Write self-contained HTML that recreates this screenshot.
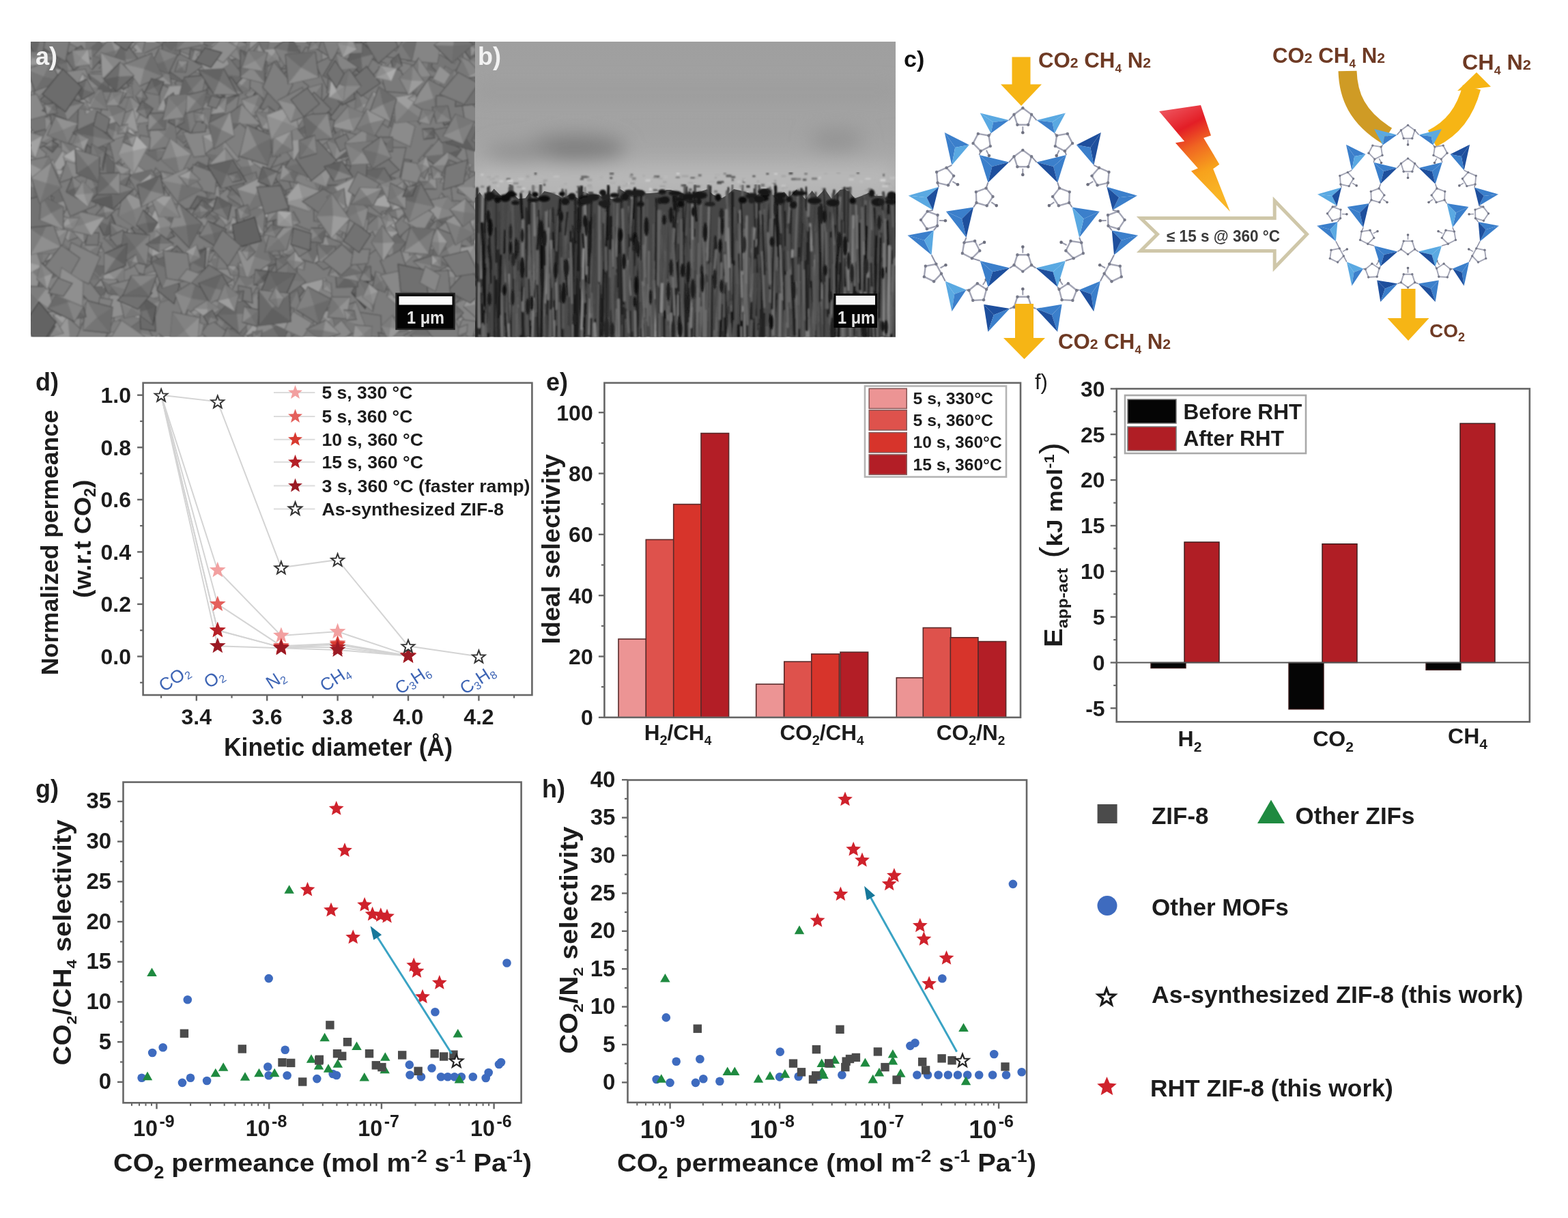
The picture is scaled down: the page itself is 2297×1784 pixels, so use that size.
<!DOCTYPE html>
<html><head><meta charset="utf-8"><title>ZIF-8 RHT figure</title>
<style>
html,body{margin:0;padding:0;background:#fff;}
body{width:2297px;height:1784px;overflow:hidden;}
svg{display:block;font-family:'Liberation Sans', Arial, sans-serif;}
</style></head><body>
<svg width="2297" height="1784" viewBox="0 0 2297 1784">
<defs><clipPath id="clipA"><rect x="45" y="61" width="651" height="432.5"/></clipPath><clipPath id="clipB"><rect x="696" y="61" width="616" height="432.5"/></clipPath><filter id="blur1" x="0" y="0" width="1" height="1"><feGaussianBlur stdDeviation="1.1"/></filter><filter id="blur6" x="-0.5" y="-0.5" width="2" height="2"><feGaussianBlur stdDeviation="14"/></filter><linearGradient id="gB" x1="0" y1="0" x2="0" y2="1"><stop offset="0" stop-color="#9f9f9f"/><stop offset="0.55" stop-color="#a3a3a3"/><stop offset="0.8" stop-color="#aaaaaa"/><stop offset="1" stop-color="#b2b2b2"/></linearGradient></defs>
<g clip-path="url(#clipA)"><g filter="url(#blur1)">
<rect x="45" y="61" width="651" height="433" fill="#7b7b7b" stroke="none" stroke-width="0"/>
<polygon points="278,122 248,140 227,117 254,99" fill="#797979" stroke="#575757" stroke-width="1.4"/>
<polygon points="252,119 254,99 278,122" fill="#868686"/>
<polygon points="252,119 248,140 227,117" fill="#6e6e6e"/>
<polygon points="695,339 667,356 647,335 674,317" fill="#7e7e7e" stroke="#5c5c5c" stroke-width="1.4"/>
<polygon points="671,337 695,339 667,356" fill="#929292"/>
<polygon points="671,337 647,335 674,317" fill="#727272"/>
<polygon points="512,111 484,110 474,83 501,85" fill="#787878" stroke="#565656" stroke-width="1.4"/>
<polygon points="493,98 501,85 512,111" fill="#8a8a8a"/>
<polygon points="493,98 484,110 474,83" fill="#707070"/>
<polygon points="163,414 148,410 147,396 163,399" fill="#6f6f6f" stroke="#4d4d4d" stroke-width="1.4"/>
<polygon points="156,404 148,410 147,396" fill="#868686"/>
<polygon points="156,404 163,399 163,414" fill="#676767"/>
<polygon points="343,86 349,52 382,51 376,86" fill="#828282" stroke="#606060" stroke-width="1.4"/>
<polygon points="363,69 382,51 376,86" fill="#949494"/>
<polygon points="363,69 343,86 349,52" fill="#757575"/>
<polygon points="50,370 76,345 101,365 76,392" fill="#757575" stroke="#535353" stroke-width="1.4"/>
<polygon points="76,369 76,345 101,365" fill="#8a8a8a"/>
<polygon points="76,369 76,392 50,370" fill="#6a6a6a"/>
<polygon points="192,207 157,192 172,155 207,173" fill="#757575" stroke="#535353" stroke-width="1.4"/>
<polygon points="181,181 207,173 192,207" fill="#8f8f8f"/>
<polygon points="181,181 157,192 172,155" fill="#696969"/>
<polygon points="300,162 286,165 279,151 294,146" fill="#7c7c7c" stroke="#5a5a5a" stroke-width="1.4"/>
<polygon points="290,156 279,151 294,146" fill="#909090"/>
<polygon points="290,156 300,162 286,165" fill="#727272"/>
<polygon points="102,468 93,426 134,411 146,453" fill="#686868" stroke="#464646" stroke-width="1.4"/>
<polygon points="344,233 356,221 373,232 359,244" fill="#818181" stroke="#5f5f5f" stroke-width="1.4"/>
<polygon points="358,232 373,232 359,244" fill="#969696"/>
<polygon points="358,232 344,233 356,221" fill="#7a7a7a"/>
<polygon points="149,221 171,200 199,217 180,242" fill="#777777" stroke="#555555" stroke-width="1.4"/>
<polygon points="175,221 199,217 180,242" fill="#8d8d8d"/>
<polygon points="175,221 149,221 171,200" fill="#6c6c6c"/>
<polygon points="484,285 499,274 514,282 501,296" fill="#7c7c7c" stroke="#5a5a5a" stroke-width="1.4"/>
<polygon points="499,285 484,285 499,274" fill="#929292"/>
<polygon points="499,285 514,282 501,296" fill="#747474"/>
<polygon points="274,154 256,121 287,99 307,132" fill="#787878" stroke="#565656" stroke-width="1.4"/>
<polygon points="543,173 520,161 523,133 544,149" fill="#828282" stroke="#606060" stroke-width="1.4"/>
<polygon points="531,154 544,149 543,173" fill="#999999"/>
<polygon points="531,154 520,161 523,133" fill="#757575"/>
<polygon points="281,497 268,502 259,487 272,483" fill="#757575" stroke="#535353" stroke-width="1.4"/>
<polygon points="470,442 456,433 463,417 477,424" fill="#858585" stroke="#636363" stroke-width="1.4"/>
<polygon points="467,429 477,424 470,442" fill="#989898"/>
<polygon points="467,429 456,433 463,417" fill="#787878"/>
<polygon points="126,127 90,151 59,116 92,95" fill="#6d6d6d" stroke="#4b4b4b" stroke-width="1.4"/>
<polygon points="92,123 90,151 59,116" fill="#7a7a7a"/>
<polygon points="92,123 92,95 126,127" fill="#5f5f5f"/>
<polygon points="546,112 514,124 496,88 534,72" fill="#7f7f7f" stroke="#5d5d5d" stroke-width="1.4"/>
<polygon points="522,98 496,88 534,72" fill="#8e8e8e"/>
<polygon points="522,98 546,112 514,124" fill="#747474"/>
<polygon points="125,482 108,465 121,445 138,459" fill="#848484" stroke="#626262" stroke-width="1.4"/>
<polygon points="322,139 326,128 338,128 334,139" fill="#767676" stroke="#545454" stroke-width="1.4"/>
<polygon points="330,134 334,139 322,139" fill="#8d8d8d"/>
<polygon points="330,134 326,128 338,128" fill="#6f6f6f"/>
<polygon points="399,175 403,153 424,153 420,174" fill="#6c6c6c" stroke="#4a4a4a" stroke-width="1.4"/>
<polygon points="499,279 478,254 497,233 522,255" fill="#757575" stroke="#535353" stroke-width="1.4"/>
<polygon points="500,256 478,254 497,233" fill="#8d8d8d"/>
<polygon points="500,256 522,255 499,279" fill="#6e6e6e"/>
<polygon points="126,258 111,256 108,243 121,245" fill="#737373" stroke="#515151" stroke-width="1.4"/>
<polygon points="612,489 627,478 642,486 629,501" fill="#6c6c6c" stroke="#4a4a4a" stroke-width="1.4"/>
<polygon points="627,489 629,501 612,489" fill="#7d7d7d"/>
<polygon points="627,489 627,478 642,486" fill="#646464"/>
<polygon points="247,388 241,378 252,368 257,380" fill="#848484" stroke="#626262" stroke-width="1.4"/>
<polygon points="249,378 247,388 241,378" fill="#929292"/>
<polygon points="249,378 252,368 257,380" fill="#7c7c7c"/>
<polygon points="617,145 628,111 667,118 657,156" fill="#7d7d7d" stroke="#5b5b5b" stroke-width="1.4"/>
<polygon points="643,133 657,156 617,145" fill="#929292"/>
<polygon points="643,133 628,111 667,118" fill="#767676"/>
<polygon points="93,369 72,382 55,356 78,343" fill="#707070" stroke="#4e4e4e" stroke-width="1.4"/>
<polygon points="74,363 55,356 78,343" fill="#898989"/>
<polygon points="74,363 93,369 72,382" fill="#656565"/>
<polygon points="643,342 640,327 657,325 658,340" fill="#6e6e6e" stroke="#4c4c4c" stroke-width="1.4"/>
<polygon points="383,163 379,137 404,128 404,152" fill="#868686" stroke="#646464" stroke-width="1.4"/>
<polygon points="391,144 379,137 404,128" fill="#9f9f9f"/>
<polygon points="391,144 404,152 383,163" fill="#7f7f7f"/>
<polygon points="565,257 578,231 603,235 591,262" fill="#5d5d5d" stroke="#3b3b3b" stroke-width="1.4"/>
<polygon points="584,247 578,231 603,235" fill="#6f6f6f"/>
<polygon points="584,247 591,262 565,257" fill="#545454"/>
<polygon points="63,117 66,104 79,101 78,115" fill="#7e7e7e" stroke="#5c5c5c" stroke-width="1.4"/>
<polygon points="232,273 222,261 228,246 241,259" fill="#7f7f7f" stroke="#5d5d5d" stroke-width="1.4"/>
<polygon points="248,221 236,216 238,204 250,209" fill="#757575" stroke="#535353" stroke-width="1.4"/>
<polygon points="243,213 248,221 236,216" fill="#868686"/>
<polygon points="243,213 238,204 250,209" fill="#6c6c6c"/>
<polygon points="427,101 448,69 488,77 466,109" fill="#7b7b7b" stroke="#595959" stroke-width="1.4"/>
<polygon points="388,192 356,200 346,166 378,160" fill="#797979" stroke="#575757" stroke-width="1.4"/>
<polygon points="367,180 388,192 356,200" fill="#909090"/>
<polygon points="367,180 346,166 378,160" fill="#6d6d6d"/>
<polygon points="655,377 625,374 616,341 645,348" fill="#707070" stroke="#4e4e4e" stroke-width="1.4"/>
<polygon points="634,360 655,377 625,374" fill="#858585"/>
<polygon points="634,360 616,341 645,348" fill="#636363"/>
<polygon points="341,72 346,37 381,29 381,68" fill="#6d6d6d" stroke="#4b4b4b" stroke-width="1.4"/>
<polygon points="363,53 346,37 381,29" fill="#7c7c7c"/>
<polygon points="363,53 381,68 341,72" fill="#616161"/>
<polygon points="332,437 341,426 355,431 347,442" fill="#787878" stroke="#565656" stroke-width="1.4"/>
<polygon points="344,434 355,431 347,442" fill="#8d8d8d"/>
<polygon points="344,434 332,437 341,426" fill="#717171"/>
<polygon points="391,281 350,292 329,256 366,249" fill="#6c6c6c" stroke="#4a4a4a" stroke-width="1.4"/>
<polygon points="359,271 329,256 366,249" fill="#868686"/>
<polygon points="359,271 391,281 350,292" fill="#5c5c5c"/>
<polygon points="18,264 48,236 76,253 48,282" fill="#7d7d7d" stroke="#5b5b5b" stroke-width="1.4"/>
<polygon points="47,259 48,236 76,253" fill="#939393"/>
<polygon points="47,259 48,282 18,264" fill="#747474"/>
<polygon points="293,343 265,336 263,303 289,315" fill="#747474" stroke="#525252" stroke-width="1.4"/>
<polygon points="316,398 295,386 299,362 320,377" fill="#848484" stroke="#626262" stroke-width="1.4"/>
<polygon points="307,380 295,386 299,362" fill="#9a9a9a"/>
<polygon points="307,380 320,377 316,398" fill="#757575"/>
<polygon points="210,222 227,204 249,221 231,236" fill="#757575" stroke="#535353" stroke-width="1.4"/>
<polygon points="229,220 227,204 249,221" fill="#848484"/>
<polygon points="229,220 231,236 210,222" fill="#6c6c6c"/>
<polygon points="359,139 378,119 397,137 380,155" fill="#848484" stroke="#626262" stroke-width="1.4"/>
<polygon points="519,101 494,80 513,46 542,68" fill="#767676" stroke="#545454" stroke-width="1.4"/>
<polygon points="518,73 513,46 542,68" fill="#868686"/>
<polygon points="518,73 519,101 494,80" fill="#696969"/>
<polygon points="473,251 460,237 472,219 487,236" fill="#757575" stroke="#535353" stroke-width="1.4"/>
<polygon points="473,235 460,237 472,219" fill="#878787"/>
<polygon points="473,235 487,236 473,251" fill="#6c6c6c"/>
<polygon points="560,262 535,257 526,231 556,235" fill="#737373" stroke="#515151" stroke-width="1.4"/>
<polygon points="544,245 556,235 560,262" fill="#858585"/>
<polygon points="544,245 535,257 526,231" fill="#686868"/>
<polygon points="295,213 279,211 281,195 296,196" fill="#787878" stroke="#565656" stroke-width="1.4"/>
<polygon points="288,204 281,195 296,196" fill="#919191"/>
<polygon points="288,204 295,213 279,211" fill="#6f6f6f"/>
<polygon points="453,255 461,231 483,237 480,260" fill="#838383" stroke="#616161" stroke-width="1.4"/>
<polygon points="663,494 642,475 660,449 676,468" fill="#838383" stroke="#616161" stroke-width="1.4"/>
<polygon points="560,378 580,351 618,361 592,387" fill="#7c7c7c" stroke="#5a5a5a" stroke-width="1.4"/>
<polygon points="589,369 618,361 592,387" fill="#8f8f8f"/>
<polygon points="589,369 560,378 580,351" fill="#717171"/>
<polygon points="530,98 544,85 565,93 548,108" fill="#7b7b7b" stroke="#595959" stroke-width="1.4"/>
<polygon points="548,96 565,93 548,108" fill="#949494"/>
<polygon points="548,96 530,98 544,85" fill="#6f6f6f"/>
<polygon points="639,277 617,277 617,256 638,255" fill="#797979" stroke="#575757" stroke-width="1.4"/>
<polygon points="628,266 638,255 639,277" fill="#929292"/>
<polygon points="628,266 617,277 617,256" fill="#717171"/>
<polygon points="46,220 46,197 67,186 68,213" fill="#737373" stroke="#515151" stroke-width="1.4"/>
<polygon points="257,431 236,434 232,413 254,412" fill="#757575" stroke="#535353" stroke-width="1.4"/>
<polygon points="244,422 236,434 232,413" fill="#8e8e8e"/>
<polygon points="244,422 254,412 257,431" fill="#6e6e6e"/>
<polygon points="38,336 40,313 61,304 62,328" fill="#939393" stroke="#717171" stroke-width="1.4"/>
<polygon points="51,321 40,313 61,304" fill="#a4a4a4"/>
<polygon points="51,321 62,328 38,336" fill="#8b8b8b"/>
<polygon points="659,399 656,386 668,379 669,394" fill="#757575" stroke="#535353" stroke-width="1.4"/>
<polygon points="663,389 659,399 656,386" fill="#898989"/>
<polygon points="663,389 668,379 669,394" fill="#686868"/>
<polygon points="277,411 284,390 304,389 297,408" fill="#828282" stroke="#606060" stroke-width="1.4"/>
<polygon points="546,285 517,283 510,250 543,249" fill="#737373" stroke="#515151" stroke-width="1.4"/>
<polygon points="530,266 510,250 543,249" fill="#858585"/>
<polygon points="530,266 546,285 517,283" fill="#6a6a6a"/>
<polygon points="658,93 653,55 693,49 695,89" fill="#818181" stroke="#5f5f5f" stroke-width="1.4"/>
<polygon points="675,71 658,93 653,55" fill="#8d8d8d"/>
<polygon points="675,71 693,49 695,89" fill="#797979"/>
<polygon points="368,514 332,490 345,453 376,479" fill="#717171" stroke="#4f4f4f" stroke-width="1.4"/>
<polygon points="565,340 543,334 545,310 564,318" fill="#808080" stroke="#5e5e5e" stroke-width="1.4"/>
<polygon points="93,85 60,81 66,46 99,56" fill="#929292" stroke="#707070" stroke-width="1.4"/>
<polygon points="78,66 99,56 93,85" fill="#a0a0a0"/>
<polygon points="78,66 60,81 66,46" fill="#8a8a8a"/>
<polygon points="341,470 330,454 345,439 358,455" fill="#686868" stroke="#464646" stroke-width="1.4"/>
<polygon points="224,178 199,181 188,159 213,157" fill="#777777" stroke="#555555" stroke-width="1.4"/>
<polygon points="205,169 224,178 199,181" fill="#8c8c8c"/>
<polygon points="205,169 188,159 213,157" fill="#676767"/>
<polygon points="79,282 87,243 128,249 114,293" fill="#919191" stroke="#6f6f6f" stroke-width="1.4"/>
<polygon points="104,266 87,243 128,249" fill="#aaaaaa"/>
<polygon points="104,266 114,293 79,282" fill="#878787"/>
<polygon points="605,266 605,243 627,243 627,266" fill="#868686" stroke="#646464" stroke-width="1.4"/>
<polygon points="616,254 627,243 627,266" fill="#939393"/>
<polygon points="616,254 605,266 605,243" fill="#797979"/>
<polygon points="660,447 628,429 640,392 670,414" fill="#848484" stroke="#626262" stroke-width="1.4"/>
<polygon points="648,420 670,414 660,447" fill="#919191"/>
<polygon points="648,420 628,429 640,392" fill="#7a7a7a"/>
<polygon points="414,348 399,350 394,334 409,331" fill="#757575" stroke="#535353" stroke-width="1.4"/>
<polygon points="404,341 409,331 414,348" fill="#818181"/>
<polygon points="404,341 399,350 394,334" fill="#676767"/>
<polygon points="581,361 556,351 565,325 592,338" fill="#808080" stroke="#5e5e5e" stroke-width="1.4"/>
<polygon points="573,343 565,325 592,338" fill="#929292"/>
<polygon points="573,343 581,361 556,351" fill="#787878"/>
<polygon points="21,310 39,286 69,294 47,317" fill="#757575" stroke="#535353" stroke-width="1.4"/>
<polygon points="45,301 21,310 39,286" fill="#868686"/>
<polygon points="45,301 69,294 47,317" fill="#676767"/>
<polygon points="552,425 562,406 582,408 573,424" fill="#757575" stroke="#535353" stroke-width="1.4"/>
<polygon points="500,391 486,350 522,333 538,379" fill="#717171" stroke="#4f4f4f" stroke-width="1.4"/>
<polygon points="513,363 486,350 522,333" fill="#838383"/>
<polygon points="513,363 538,379 500,391" fill="#6a6a6a"/>
<polygon points="232,379 195,405 169,379 205,354" fill="#727272" stroke="#505050" stroke-width="1.4"/>
<polygon points="409,352 391,341 400,318 418,331" fill="#6e6e6e" stroke="#4c4c4c" stroke-width="1.4"/>
<polygon points="404,335 391,341 400,318" fill="#818181"/>
<polygon points="404,335 418,331 409,352" fill="#626262"/>
<polygon points="595,458 567,434 575,402 602,425" fill="#828282" stroke="#606060" stroke-width="1.4"/>
<polygon points="585,430 595,458 567,434" fill="#979797"/>
<polygon points="585,430 575,402 602,425" fill="#7b7b7b"/>
<polygon points="549,409 522,420 506,398 532,386" fill="#6a6a6a" stroke="#484848" stroke-width="1.4"/>
<polygon points="527,403 522,420 506,398" fill="#787878"/>
<polygon points="527,403 532,386 549,409" fill="#5b5b5b"/>
<polygon points="210,441 207,403 242,393 250,431" fill="#8d8d8d" stroke="#6b6b6b" stroke-width="1.4"/>
<polygon points="228,418 242,393 250,431" fill="#a5a5a5"/>
<polygon points="228,418 210,441 207,403" fill="#828282"/>
<polygon points="200,509 188,482 210,467 223,492" fill="#7c7c7c" stroke="#5a5a5a" stroke-width="1.4"/>
<polygon points="206,488 223,492 200,509" fill="#8b8b8b"/>
<polygon points="206,488 188,482 210,467" fill="#6e6e6e"/>
<polygon points="122,315 89,299 99,270 135,284" fill="#858585" stroke="#636363" stroke-width="1.4"/>
<polygon points="112,291 135,284 122,315" fill="#9b9b9b"/>
<polygon points="112,291 89,299 99,270" fill="#7b7b7b"/>
<polygon points="295,229 280,222 280,207 295,215" fill="#7d7d7d" stroke="#5b5b5b" stroke-width="1.4"/>
<polygon points="599,496 599,452 639,448 641,490" fill="#898989" stroke="#676767" stroke-width="1.4"/>
<polygon points="619,472 599,496 599,452" fill="#979797"/>
<polygon points="619,472 639,448 641,490" fill="#818181"/>
<polygon points="477,70 468,64 469,52 479,58" fill="#777777" stroke="#555555" stroke-width="1.4"/>
<polygon points="473,61 468,64 469,52" fill="#838383"/>
<polygon points="473,61 479,58 477,70" fill="#696969"/>
<polygon points="520,261 504,264 499,252 515,247" fill="#818181" stroke="#5f5f5f" stroke-width="1.4"/>
<polygon points="510,255 499,252 515,247" fill="#959595"/>
<polygon points="510,255 520,261 504,264" fill="#757575"/>
<polygon points="459,294 431,296 419,277 446,274" fill="#7e7e7e" stroke="#5c5c5c" stroke-width="1.4"/>
<polygon points="439,285 431,296 419,277" fill="#8c8c8c"/>
<polygon points="439,285 446,274 459,294" fill="#767676"/>
<polygon points="423,296 432,268 466,269 451,296" fill="#7c7c7c" stroke="#5a5a5a" stroke-width="1.4"/>
<polygon points="443,281 423,296 432,268" fill="#8e8e8e"/>
<polygon points="443,281 466,269 451,296" fill="#727272"/>
<polygon points="667,103 631,107 627,71 659,65" fill="#7a7a7a" stroke="#585858" stroke-width="1.4"/>
<polygon points="647,87 667,103 631,107" fill="#8a8a8a"/>
<polygon points="647,87 627,71 659,65" fill="#6f6f6f"/>
<polygon points="344,424 312,419 310,394 341,394" fill="#8a8a8a" stroke="#686868" stroke-width="1.4"/>
<polygon points="168,408 177,371 218,366 210,405" fill="#828282" stroke="#606060" stroke-width="1.4"/>
<polygon points="193,388 210,405 168,408" fill="#959595"/>
<polygon points="193,388 177,371 218,366" fill="#777777"/>
<polygon points="64,84 18,86 15,40 58,38" fill="#757575" stroke="#535353" stroke-width="1.4"/>
<polygon points="78,115 48,125 34,92 66,79" fill="#7b7b7b" stroke="#595959" stroke-width="1.4"/>
<polygon points="57,102 34,92 66,79" fill="#8a8a8a"/>
<polygon points="57,102 78,115 48,125" fill="#6b6b6b"/>
<polygon points="373,375 372,334 412,327 410,374" fill="#797979" stroke="#575757" stroke-width="1.4"/>
<polygon points="393,352 373,375 372,334" fill="#919191"/>
<polygon points="393,352 412,327 410,374" fill="#6d6d6d"/>
<polygon points="220,105 222,91 237,88 234,102" fill="#777777" stroke="#555555" stroke-width="1.4"/>
<polygon points="228,96 237,88 234,102" fill="#8e8e8e"/>
<polygon points="228,96 220,105 222,91" fill="#6b6b6b"/>
<polygon points="335,201 344,168 374,161 365,195" fill="#858585" stroke="#636363" stroke-width="1.4"/>
<polygon points="354,181 335,201 344,168" fill="#999999"/>
<polygon points="354,181 374,161 365,195" fill="#7c7c7c"/>
<polygon points="315,299 321,280 340,277 334,297" fill="#797979" stroke="#575757" stroke-width="1.4"/>
<polygon points="328,288 340,277 334,297" fill="#8d8d8d"/>
<polygon points="328,288 315,299 321,280" fill="#717171"/>
<polygon points="596,484 573,488 569,468 588,462" fill="#7f7f7f" stroke="#5d5d5d" stroke-width="1.4"/>
<polygon points="224,107 244,67 285,84 266,120" fill="#6f6f6f" stroke="#4d4d4d" stroke-width="1.4"/>
<polygon points="254,94 244,67 285,84" fill="#888888"/>
<polygon points="254,94 266,120 224,107" fill="#686868"/>
<polygon points="458,369 432,384 409,360 435,343" fill="#828282" stroke="#606060" stroke-width="1.4"/>
<polygon points="434,363 435,343 458,369" fill="#949494"/>
<polygon points="434,363 432,384 409,360" fill="#757575"/>
<polygon points="403,113 417,95 442,99 430,121" fill="#7f7f7f" stroke="#5d5d5d" stroke-width="1.4"/>
<polygon points="260,300 247,293 249,275 262,282" fill="#838383" stroke="#616161" stroke-width="1.4"/>
<polygon points="275,520 276,482 309,473 310,511" fill="#808080" stroke="#5e5e5e" stroke-width="1.4"/>
<polygon points="293,497 310,511 275,520" fill="#969696"/>
<polygon points="293,497 276,482 309,473" fill="#757575"/>
<polygon points="454,273 450,258 464,248 469,265" fill="#898989" stroke="#676767" stroke-width="1.4"/>
<polygon points="292,164 308,132 342,143 326,178" fill="#757575" stroke="#535353" stroke-width="1.4"/>
<polygon points="318,155 292,164 308,132" fill="#8e8e8e"/>
<polygon points="318,155 342,143 326,178" fill="#6d6d6d"/>
<polygon points="291,379 299,364 316,368 307,384" fill="#696969" stroke="#474747" stroke-width="1.4"/>
<polygon points="303,374 316,368 307,384" fill="#808080"/>
<polygon points="303,374 291,379 299,364" fill="#5f5f5f"/>
<polygon points="364,503 357,491 365,482 371,494" fill="#808080" stroke="#5e5e5e" stroke-width="1.4"/>
<polygon points="364,493 364,503 357,491" fill="#959595"/>
<polygon points="364,493 365,482 371,494" fill="#727272"/>
<polygon points="409,259 370,261 362,213 402,214" fill="#646464" stroke="#424242" stroke-width="1.4"/>
<polygon points="385,237 409,259 370,261" fill="#747474"/>
<polygon points="385,237 362,213 402,214" fill="#5a5a5a"/>
<polygon points="65,115 52,71 93,58 100,100" fill="#777777" stroke="#555555" stroke-width="1.4"/>
<polygon points="76,85 100,100 65,115" fill="#8a8a8a"/>
<polygon points="76,85 52,71 93,58" fill="#707070"/>
<polygon points="681,101 647,104 636,64 675,63" fill="#797979" stroke="#575757" stroke-width="1.4"/>
<polygon points="546,263 550,216 595,216 585,262" fill="#7e7e7e" stroke="#5c5c5c" stroke-width="1.4"/>
<polygon points="468,288 478,252 515,253 505,285" fill="#707070" stroke="#4e4e4e" stroke-width="1.4"/>
<polygon points="490,269 515,253 505,285" fill="#7f7f7f"/>
<polygon points="490,269 468,288 478,252" fill="#676767"/>
<polygon points="305,110 275,103 279,71 312,76" fill="#727272" stroke="#505050" stroke-width="1.4"/>
<polygon points="293,90 305,110 275,103" fill="#878787"/>
<polygon points="293,90 279,71 312,76" fill="#646464"/>
<polygon points="182,274 145,272 139,235 171,237" fill="#7a7a7a" stroke="#585858" stroke-width="1.4"/>
<polygon points="160,256 139,235 171,237" fill="#898989"/>
<polygon points="160,256 182,274 145,272" fill="#6d6d6d"/>
<polygon points="372,395 383,372 410,380 399,402" fill="#7b7b7b" stroke="#595959" stroke-width="1.4"/>
<polygon points="391,387 399,402 372,395" fill="#8a8a8a"/>
<polygon points="391,387 383,372 410,380" fill="#737373"/>
<polygon points="445,395 427,390 430,372 448,379" fill="#838383" stroke="#616161" stroke-width="1.4"/>
<polygon points="437,384 445,395 427,390" fill="#919191"/>
<polygon points="437,384 430,372 448,379" fill="#797979"/>
<polygon points="461,68 460,54 476,52 477,68" fill="#7d7d7d" stroke="#5b5b5b" stroke-width="1.4"/>
<polygon points="469,60 460,54 476,52" fill="#8e8e8e"/>
<polygon points="469,60 477,68 461,68" fill="#6e6e6e"/>
<polygon points="264,281 271,254 299,253 292,277" fill="#777777" stroke="#555555" stroke-width="1.4"/>
<polygon points="281,266 292,277 264,281" fill="#898989"/>
<polygon points="281,266 271,254 299,253" fill="#6c6c6c"/>
<polygon points="201,310 191,265 235,252 246,291" fill="#777777" stroke="#555555" stroke-width="1.4"/>
<polygon points="217,280 246,291 201,310" fill="#8b8b8b"/>
<polygon points="217,280 191,265 235,252" fill="#717171"/>
<polygon points="222,56 235,42 251,51 239,66" fill="#838383" stroke="#616161" stroke-width="1.4"/>
<polygon points="237,54 222,56 235,42" fill="#929292"/>
<polygon points="237,54 251,51 239,66" fill="#767676"/>
<polygon points="353,403 338,403 332,389 346,390" fill="#7f7f7f" stroke="#5d5d5d" stroke-width="1.4"/>
<polygon points="342,396 332,389 346,390" fill="#979797"/>
<polygon points="342,396 353,403 338,403" fill="#777777"/>
<polygon points="52,83 37,53 66,38 80,65" fill="#666666" stroke="#444444" stroke-width="1.4"/>
<polygon points="58,60 80,65 52,83" fill="#787878"/>
<polygon points="58,60 37,53 66,38" fill="#5f5f5f"/>
<polygon points="263,324 291,294 327,313 300,344" fill="#787878" stroke="#565656" stroke-width="1.4"/>
<polygon points="295,319 263,324 291,294" fill="#919191"/>
<polygon points="295,319 327,313 300,344" fill="#696969"/>
<polygon points="194,123 167,116 167,90 196,96" fill="#7e7e7e" stroke="#5c5c5c" stroke-width="1.4"/>
<polygon points="181,106 167,116 167,90" fill="#949494"/>
<polygon points="181,106 196,96 194,123" fill="#777777"/>
<polygon points="437,380 454,358 478,370 462,386" fill="#8b8b8b" stroke="#696969" stroke-width="1.4"/>
<polygon points="457,372 478,370 462,386" fill="#9b9b9b"/>
<polygon points="457,372 437,380 454,358" fill="#7f7f7f"/>
<polygon points="691,450 659,444 667,407 696,414" fill="#787878" stroke="#565656" stroke-width="1.4"/>
<polygon points="679,154 649,129 674,96 702,125" fill="#747474" stroke="#525252" stroke-width="1.4"/>
<polygon points="551,344 559,310 596,302 588,334" fill="#7e7e7e" stroke="#5c5c5c" stroke-width="1.4"/>
<polygon points="573,323 588,334 551,344" fill="#939393"/>
<polygon points="573,323 559,310 596,302" fill="#727272"/>
<polygon points="653,419 638,429 620,415 637,405" fill="#707070" stroke="#4e4e4e" stroke-width="1.4"/>
<polygon points="601,316 609,297 631,301 624,324" fill="#828282" stroke="#606060" stroke-width="1.4"/>
<polygon points="617,310 624,324 601,316" fill="#919191"/>
<polygon points="617,310 609,297 631,301" fill="#747474"/>
<polygon points="645,177 644,147 671,135 676,169" fill="#7e7e7e" stroke="#5c5c5c" stroke-width="1.4"/>
<polygon points="531,164 546,135 575,147 562,177" fill="#838383" stroke="#616161" stroke-width="1.4"/>
<polygon points="553,156 546,135 575,147" fill="#9a9a9a"/>
<polygon points="553,156 562,177 531,164" fill="#7a7a7a"/>
<polygon points="397,227 414,196 447,198 432,231" fill="#868686" stroke="#646464" stroke-width="1.4"/>
<polygon points="79,186 50,194 31,173 62,163" fill="#767676" stroke="#545454" stroke-width="1.4"/>
<polygon points="214,114 206,91 226,75 240,98" fill="#898989" stroke="#676767" stroke-width="1.4"/>
<polygon points="223,95 226,75 240,98" fill="#a1a1a1"/>
<polygon points="223,95 214,114 206,91" fill="#7e7e7e"/>
<polygon points="666,474 662,461 674,452 679,466" fill="#8a8a8a" stroke="#686868" stroke-width="1.4"/>
<polygon points="671,463 679,466 666,474" fill="#989898"/>
<polygon points="671,463 662,461 674,452" fill="#7b7b7b"/>
<polygon points="309,168 267,178 260,145 298,135" fill="#7f7f7f" stroke="#5d5d5d" stroke-width="1.4"/>
<polygon points="284,158 298,135 309,168" fill="#8c8c8c"/>
<polygon points="284,158 267,178 260,145" fill="#777777"/>
<polygon points="559,496 525,490 525,457 558,462" fill="#7a7a7a" stroke="#585858" stroke-width="1.4"/>
<polygon points="373,132 350,139 343,122 365,116" fill="#8b8b8b" stroke="#696969" stroke-width="1.4"/>
<polygon points="358,127 343,122 365,116" fill="#a4a4a4"/>
<polygon points="358,127 373,132 350,139" fill="#848484"/>
<polygon points="307,112 324,70 363,79 347,120" fill="#7d7d7d" stroke="#5b5b5b" stroke-width="1.4"/>
<polygon points="335,95 324,70 363,79" fill="#8d8d8d"/>
<polygon points="335,95 347,120 307,112" fill="#6f6f6f"/>
<polygon points="161,286 136,261 153,224 176,250" fill="#757575" stroke="#535353" stroke-width="1.4"/>
<polygon points="156,255 161,286 136,261" fill="#858585"/>
<polygon points="156,255 153,224 176,250" fill="#666666"/>
<polygon points="101,498 108,485 122,490 116,503" fill="#7f7f7f" stroke="#5d5d5d" stroke-width="1.4"/>
<polygon points="112,494 122,490 116,503" fill="#919191"/>
<polygon points="112,494 101,498 108,485" fill="#777777"/>
<polygon points="199,178 183,162 190,140 208,156" fill="#898989" stroke="#676767" stroke-width="1.4"/>
<polygon points="195,159 208,156 199,178" fill="#959595"/>
<polygon points="195,159 183,162 190,140" fill="#7b7b7b"/>
<polygon points="369,143 383,122 408,131 391,149" fill="#636363" stroke="#414141" stroke-width="1.4"/>
<polygon points="388,135 383,122 408,131" fill="#787878"/>
<polygon points="388,135 391,149 369,143" fill="#555555"/>
<polygon points="657,395 624,399 609,366 642,366" fill="#757575" stroke="#535353" stroke-width="1.4"/>
<polygon points="632,382 657,395 624,399" fill="#888888"/>
<polygon points="632,382 609,366 642,366" fill="#6b6b6b"/>
<polygon points="256,346 216,364 192,334 232,317" fill="#6f6f6f" stroke="#4d4d4d" stroke-width="1.4"/>
<polygon points="694,94 672,63 701,41 720,76" fill="#6d6d6d" stroke="#4b4b4b" stroke-width="1.4"/>
<polygon points="644,435 619,395 654,374 677,407" fill="#8e8e8e" stroke="#6c6c6c" stroke-width="1.4"/>
<polygon points="647,404 619,395 654,374" fill="#9a9a9a"/>
<polygon points="647,404 677,407 644,435" fill="#7e7e7e"/>
<polygon points="195,142 178,143 177,125 193,126" fill="#808080" stroke="#5e5e5e" stroke-width="1.4"/>
<polygon points="185,134 178,143 177,125" fill="#969696"/>
<polygon points="185,134 193,126 195,142" fill="#797979"/>
<polygon points="629,379 616,384 608,372 621,367" fill="#7c7c7c" stroke="#5a5a5a" stroke-width="1.4"/>
<polygon points="618,376 616,384 608,372" fill="#949494"/>
<polygon points="618,376 621,367 629,379" fill="#757575"/>
<polygon points="407,396 412,378 432,384 425,401" fill="#747474" stroke="#525252" stroke-width="1.4"/>
<polygon points="264,178 244,162 260,142 279,154" fill="#828282" stroke="#606060" stroke-width="1.4"/>
<polygon points="408,505 365,503 359,462 397,465" fill="#757575" stroke="#535353" stroke-width="1.4"/>
<polygon points="382,485 365,503 359,462" fill="#878787"/>
<polygon points="382,485 397,465 408,505" fill="#6b6b6b"/>
<polygon points="693,256 704,246 715,257 705,268" fill="#747474" stroke="#525252" stroke-width="1.4"/>
<polygon points="704,257 693,256 704,246" fill="#898989"/>
<polygon points="704,257 715,257 705,268" fill="#6c6c6c"/>
<polygon points="401,276 365,262 362,223 403,233" fill="#787878" stroke="#565656" stroke-width="1.4"/>
<polygon points="384,247 365,262 362,223" fill="#8b8b8b"/>
<polygon points="384,247 403,233 401,276" fill="#6d6d6d"/>
<polygon points="646,483 613,480 615,447 644,451" fill="#777777" stroke="#555555" stroke-width="1.4"/>
<polygon points="277,307 289,287 312,293 297,313" fill="#696969" stroke="#474747" stroke-width="1.4"/>
<polygon points="294,300 297,313 277,307" fill="#757575"/>
<polygon points="294,300 289,287 312,293" fill="#606060"/>
<polygon points="615,182 597,158 610,136 630,156" fill="#7e7e7e" stroke="#5c5c5c" stroke-width="1.4"/>
<polygon points="622,262 611,253 615,240 628,247" fill="#7b7b7b" stroke="#595959" stroke-width="1.4"/>
<polygon points="620,250 615,240 628,247" fill="#898989"/>
<polygon points="620,250 622,262 611,253" fill="#737373"/>
<polygon points="472,189 438,204 416,166 454,150" fill="#777777" stroke="#555555" stroke-width="1.4"/>
<polygon points="512,250 497,240 503,226 517,236" fill="#838383" stroke="#616161" stroke-width="1.4"/>
<polygon points="126,458 94,449 94,415 123,422" fill="#828282" stroke="#606060" stroke-width="1.4"/>
<polygon points="109,437 123,422 126,458" fill="#949494"/>
<polygon points="109,437 94,449 94,415" fill="#797979"/>
<polygon points="402,434 383,421 387,396 409,411" fill="#7f7f7f" stroke="#5d5d5d" stroke-width="1.4"/>
<polygon points="640,492 626,491 626,476 640,477" fill="#737373" stroke="#515151" stroke-width="1.4"/>
<polygon points="633,484 640,477 640,492" fill="#858585"/>
<polygon points="633,484 626,491 626,476" fill="#6a6a6a"/>
<polygon points="416,238 412,196 454,184 454,227" fill="#838383" stroke="#616161" stroke-width="1.4"/>
<polygon points="434,210 454,227 416,238" fill="#959595"/>
<polygon points="434,210 412,196 454,184" fill="#767676"/>
<polygon points="621,337 625,307 656,297 652,328" fill="#818181" stroke="#5f5f5f" stroke-width="1.4"/>
<polygon points="638,317 656,297 652,328" fill="#979797"/>
<polygon points="638,317 621,337 625,307" fill="#737373"/>
<polygon points="718,461 692,466 682,443 706,440" fill="#707070" stroke="#4e4e4e" stroke-width="1.4"/>
<polygon points="699,453 718,461 692,466" fill="#858585"/>
<polygon points="699,453 682,443 706,440" fill="#6a6a6a"/>
<polygon points="15,382 30,357 59,365 40,390" fill="#7b7b7b" stroke="#595959" stroke-width="1.4"/>
<polygon points="37,373 59,365 40,390" fill="#939393"/>
<polygon points="37,373 15,382 30,357" fill="#6c6c6c"/>
<polygon points="377,131 371,112 385,102 389,119" fill="#707070" stroke="#4e4e4e" stroke-width="1.4"/>
<polygon points="380,116 389,119 377,131" fill="#878787"/>
<polygon points="380,116 371,112 385,102" fill="#696969"/>
<polygon points="33,415 32,393 56,388 53,409" fill="#7a7a7a" stroke="#585858" stroke-width="1.4"/>
<polygon points="43,400 56,388 53,409" fill="#898989"/>
<polygon points="43,400 33,415 32,393" fill="#6e6e6e"/>
<polygon points="35,165 40,142 61,136 57,158" fill="#828282" stroke="#606060" stroke-width="1.4"/>
<polygon points="48,151 57,158 35,165" fill="#939393"/>
<polygon points="48,151 40,142 61,136" fill="#767676"/>
<polygon points="705,296 663,294 658,250 696,257" fill="#7e7e7e" stroke="#5c5c5c" stroke-width="1.4"/>
<polygon points="574,173 558,165 560,149 575,157" fill="#848484" stroke="#626262" stroke-width="1.4"/>
<polygon points="567,161 574,173 558,165" fill="#9d9d9d"/>
<polygon points="567,161 560,149 575,157" fill="#797979"/>
<polygon points="651,321 634,305 647,283 662,299" fill="#7a7a7a" stroke="#585858" stroke-width="1.4"/>
<polygon points="648,302 634,305 647,283" fill="#878787"/>
<polygon points="648,302 662,299 651,321" fill="#717171"/>
<polygon points="578,120 588,91 612,97 602,127" fill="#818181" stroke="#5f5f5f" stroke-width="1.4"/>
<polygon points="392,165 366,171 354,146 380,137" fill="#838383" stroke="#616161" stroke-width="1.4"/>
<polygon points="374,154 366,171 354,146" fill="#919191"/>
<polygon points="374,154 380,137 392,165" fill="#767676"/>
<polygon points="473,118 471,73 512,71 509,113" fill="#8b8b8b" stroke="#696969" stroke-width="1.4"/>
<polygon points="490,92 471,73 512,71" fill="#9c9c9c"/>
<polygon points="490,92 509,113 473,118" fill="#7f7f7f"/>
<polygon points="109,324 95,307 106,287 122,306" fill="#7e7e7e" stroke="#5c5c5c" stroke-width="1.4"/>
<polygon points="108,306 106,287 122,306" fill="#8f8f8f"/>
<polygon points="108,306 109,324 95,307" fill="#707070"/>
<polygon points="323,345 339,312 368,322 355,358" fill="#808080" stroke="#5e5e5e" stroke-width="1.4"/>
<polygon points="327,511 342,492 364,497 348,516" fill="#848484" stroke="#626262" stroke-width="1.4"/>
<polygon points="345,504 348,516 327,511" fill="#919191"/>
<polygon points="345,504 342,492 364,497" fill="#7c7c7c"/>
<polygon points="187,191 165,202 149,187 169,175" fill="#777777" stroke="#555555" stroke-width="1.4"/>
<polygon points="486,215 491,201 503,204 500,216" fill="#777777" stroke="#555555" stroke-width="1.4"/>
<polygon points="494,209 491,201 503,204" fill="#8c8c8c"/>
<polygon points="494,209 500,216 486,215" fill="#707070"/>
<polygon points="232,409 245,389 266,397 251,417" fill="#7a7a7a" stroke="#585858" stroke-width="1.4"/>
<polygon points="249,403 251,417 232,409" fill="#939393"/>
<polygon points="249,403 245,389 266,397" fill="#6d6d6d"/>
<polygon points="535,452 515,429 530,402 546,423" fill="#585858" stroke="#363636" stroke-width="1.4"/>
<polygon points="531,427 515,429 530,402" fill="#656565"/>
<polygon points="531,427 546,423 535,452" fill="#4b4b4b"/>
<polygon points="553,173 573,150 598,165 579,189" fill="#747474" stroke="#525252" stroke-width="1.4"/>
<polygon points="576,169 573,150 598,165" fill="#8a8a8a"/>
<polygon points="576,169 579,189 553,173" fill="#696969"/>
<polygon points="353,379 353,368 365,363 364,375" fill="#797979" stroke="#575757" stroke-width="1.4"/>
<polygon points="359,371 353,368 365,363" fill="#8a8a8a"/>
<polygon points="359,371 364,375 353,379" fill="#6b6b6b"/>
<polygon points="397,408 392,390 409,383 414,400" fill="#6b6b6b" stroke="#494949" stroke-width="1.4"/>
<polygon points="67,191 66,172 84,166 85,184" fill="#808080" stroke="#5e5e5e" stroke-width="1.4"/>
<polygon points="75,178 67,191 66,172" fill="#8c8c8c"/>
<polygon points="75,178 84,166 85,184" fill="#757575"/>
<polygon points="707,295 670,282 677,248 714,257" fill="#7a7a7a" stroke="#585858" stroke-width="1.4"/>
<polygon points="82,201 81,165 110,160 113,194" fill="#8a8a8a" stroke="#686868" stroke-width="1.4"/>
<polygon points="96,181 81,165 110,160" fill="#9a9a9a"/>
<polygon points="96,181 113,194 82,201" fill="#828282"/>
<polygon points="492,448 446,458 434,419 477,408" fill="#838383" stroke="#616161" stroke-width="1.4"/>
<polygon points="463,434 434,419 477,408" fill="#9b9b9b"/>
<polygon points="463,434 492,448 446,458" fill="#7b7b7b"/>
<polygon points="47,111 64,72 102,92 79,128" fill="#6d6d6d" stroke="#4b4b4b" stroke-width="1.4"/>
<polygon points="74,100 102,92 79,128" fill="#828282"/>
<polygon points="74,100 47,111 64,72" fill="#616161"/>
<polygon points="126,167 121,150 134,141 139,159" fill="#8f8f8f" stroke="#6d6d6d" stroke-width="1.4"/>
<polygon points="130,154 139,159 126,167" fill="#9d9d9d"/>
<polygon points="130,154 121,150 134,141" fill="#888888"/>
<polygon points="103,376 67,391 41,368 73,354" fill="#797979" stroke="#575757" stroke-width="1.4"/>
<polygon points="576,380 556,361 572,333 594,356" fill="#717171" stroke="#4f4f4f" stroke-width="1.4"/>
<polygon points="575,357 576,380 556,361" fill="#888888"/>
<polygon points="575,357 572,333 594,356" fill="#6a6a6a"/>
<polygon points="484,343 472,324 492,310 505,333" fill="#7a7a7a" stroke="#585858" stroke-width="1.4"/>
<polygon points="489,327 484,343 472,324" fill="#929292"/>
<polygon points="489,327 492,310 505,333" fill="#727272"/>
<polygon points="528,377 520,362 534,351 542,368" fill="#848484" stroke="#626262" stroke-width="1.4"/>
<polygon points="531,364 520,362 534,351" fill="#989898"/>
<polygon points="531,364 542,368 528,377" fill="#7d7d7d"/>
<polygon points="612,178 605,166 615,154 622,166" fill="#787878" stroke="#565656" stroke-width="1.4"/>
<polygon points="614,166 612,178 605,166" fill="#909090"/>
<polygon points="614,166 615,154 622,166" fill="#6b6b6b"/>
<polygon points="571,134 551,112 574,90 593,113" fill="#898989" stroke="#676767" stroke-width="1.4"/>
<polygon points="705,143 682,154 663,135 690,123" fill="#777777" stroke="#555555" stroke-width="1.4"/>
<polygon points="685,138 682,154 663,135" fill="#898989"/>
<polygon points="685,138 690,123 705,143" fill="#707070"/>
<polygon points="114,463 127,454 138,463 126,471" fill="#888888" stroke="#666666" stroke-width="1.4"/>
<polygon points="126,463 114,463 127,454" fill="#9f9f9f"/>
<polygon points="126,463 138,463 126,471" fill="#808080"/>
<polygon points="267,412 270,372 309,362 302,396" fill="#868686" stroke="#646464" stroke-width="1.4"/>
<polygon points="285,385 270,372 309,362" fill="#969696"/>
<polygon points="285,385 302,396 267,412" fill="#7e7e7e"/>
<polygon points="357,439 331,445 313,421 339,417" fill="#898989" stroke="#676767" stroke-width="1.4"/>
<polygon points="335,431 331,445 313,421" fill="#9e9e9e"/>
<polygon points="335,431 339,417 357,439" fill="#818181"/>
<polygon points="707,412 694,398 699,380 714,395" fill="#878787" stroke="#656565" stroke-width="1.4"/>
<polygon points="79,357 64,322 93,308 108,338" fill="#8b8b8b" stroke="#696969" stroke-width="1.4"/>
<polygon points="85,332 64,322 93,308" fill="#9b9b9b"/>
<polygon points="85,332 108,338 79,357" fill="#838383"/>
<polygon points="432,166 437,133 472,123 471,161" fill="#787878" stroke="#565656" stroke-width="1.4"/>
<polygon points="454,147 437,133 472,123" fill="#858585"/>
<polygon points="454,147 471,161 432,166" fill="#6e6e6e"/>
<polygon points="690,83 689,67 705,61 704,78" fill="#7a7a7a" stroke="#585858" stroke-width="1.4"/>
<polygon points="697,72 690,83 689,67" fill="#939393"/>
<polygon points="697,72 705,61 704,78" fill="#6b6b6b"/>
<polygon points="93,161 86,139 105,122 112,143" fill="#878787" stroke="#656565" stroke-width="1.4"/>
<polygon points="92,503 67,493 77,470 100,482" fill="#7c7c7c" stroke="#5a5a5a" stroke-width="1.4"/>
<polygon points="536,299 546,251 587,263 579,305" fill="#909090" stroke="#6e6e6e" stroke-width="1.4"/>
<polygon points="560,279 579,305 536,299" fill="#a4a4a4"/>
<polygon points="560,279 546,251 587,263" fill="#878787"/>
<polygon points="156,96 135,89 137,68 160,71" fill="#656565" stroke="#434343" stroke-width="1.4"/>
<polygon points="148,81 137,68 160,71" fill="#7f7f7f"/>
<polygon points="148,81 156,96 135,89" fill="#5c5c5c"/>
<polygon points="585,249 551,269 524,243 557,221" fill="#747474" stroke="#525252" stroke-width="1.4"/>
<polygon points="221,384 205,373 212,355 225,367" fill="#6c6c6c" stroke="#4a4a4a" stroke-width="1.4"/>
<polygon points="215,370 221,384 205,373" fill="#797979"/>
<polygon points="215,370 212,355 225,367" fill="#5d5d5d"/>
<polygon points="428,384 416,383 414,369 428,372" fill="#6f6f6f" stroke="#4d4d4d" stroke-width="1.4"/>
<polygon points="421,377 428,384 416,383" fill="#858585"/>
<polygon points="421,377 414,369 428,372" fill="#656565"/>
<polygon points="493,215 484,206 487,193 497,201" fill="#757575" stroke="#535353" stroke-width="1.4"/>
<polygon points="491,204 487,193 497,201" fill="#898989"/>
<polygon points="491,204 493,215 484,206" fill="#656565"/>
<polygon points="89,351 57,337 56,307 88,322" fill="#757575" stroke="#535353" stroke-width="1.4"/>
<polygon points="73,329 88,322 89,351" fill="#868686"/>
<polygon points="73,329 57,337 56,307" fill="#686868"/>
<polygon points="613,154 594,114 625,88 639,126" fill="#6e6e6e" stroke="#4c4c4c" stroke-width="1.4"/>
<polygon points="616,120 639,126 613,154" fill="#828282"/>
<polygon points="616,120 594,114 625,88" fill="#646464"/>
<polygon points="385,190 380,174 394,159 401,177" fill="#6f6f6f" stroke="#4d4d4d" stroke-width="1.4"/>
<polygon points="715,486 683,494 670,463 702,457" fill="#808080" stroke="#5e5e5e" stroke-width="1.4"/>
<polygon points="692,475 683,494 670,463" fill="#949494"/>
<polygon points="692,475 702,457 715,486" fill="#777777"/>
<polygon points="536,269 495,276 489,230 526,225" fill="#8c8c8c" stroke="#6a6a6a" stroke-width="1.4"/>
<polygon points="449,62 470,34 507,51 482,83" fill="#777777" stroke="#555555" stroke-width="1.4"/>
<polygon points="478,58 449,62 470,34" fill="#878787"/>
<polygon points="478,58 507,51 482,83" fill="#6f6f6f"/>
<polygon points="314,164 317,147 337,146 336,164" fill="#818181" stroke="#5f5f5f" stroke-width="1.4"/>
<polygon points="326,156 337,146 336,164" fill="#9b9b9b"/>
<polygon points="326,156 314,164 317,147" fill="#7a7a7a"/>
<polygon points="227,96 233,85 246,88 238,98" fill="#767676" stroke="#545454" stroke-width="1.4"/>
<polygon points="530,100 507,75 526,43 550,65" fill="#888888" stroke="#666666" stroke-width="1.4"/>
<polygon points="529,72 530,100 507,75" fill="#969696"/>
<polygon points="529,72 526,43 550,65" fill="#7f7f7f"/>
<polygon points="376,238 351,214 372,182 393,208" fill="#6f6f6f" stroke="#4d4d4d" stroke-width="1.4"/>
<polygon points="372,210 351,214 372,182" fill="#868686"/>
<polygon points="372,210 393,208 376,238" fill="#626262"/>
<polygon points="62,295 51,282 59,264 70,276" fill="#838383" stroke="#616161" stroke-width="1.4"/>
<polygon points="60,280 70,276 62,295" fill="#9c9c9c"/>
<polygon points="60,280 51,282 59,264" fill="#787878"/>
<polygon points="25,172 19,147 49,133 53,162" fill="#888888" stroke="#666666" stroke-width="1.4"/>
<polygon points="679,161 681,149 693,142 693,157" fill="#7b7b7b" stroke="#595959" stroke-width="1.4"/>
<polygon points="687,152 693,142 693,157" fill="#8b8b8b"/>
<polygon points="687,152 679,161 681,149" fill="#727272"/>
<polygon points="72,271 52,263 54,242 73,249" fill="#8c8c8c" stroke="#6a6a6a" stroke-width="1.4"/>
<polygon points="63,257 73,249 72,271" fill="#a4a4a4"/>
<polygon points="63,257 52,263 54,242" fill="#7e7e7e"/>
<polygon points="636,354 622,336 639,323 653,339" fill="#7b7b7b" stroke="#595959" stroke-width="1.4"/>
<polygon points="638,339 636,354 622,336" fill="#939393"/>
<polygon points="638,339 639,323 653,339" fill="#6d6d6d"/>
<polygon points="662,94 624,84 633,49 664,61" fill="#737373" stroke="#515151" stroke-width="1.4"/>
<polygon points="425,516 419,496 439,487 445,508" fill="#797979" stroke="#575757" stroke-width="1.4"/>
<polygon points="432,502 439,487 445,508" fill="#868686"/>
<polygon points="432,502 425,516 419,496" fill="#6b6b6b"/>
<polygon points="500,491 459,484 459,451 502,453" fill="#818181" stroke="#5f5f5f" stroke-width="1.4"/>
<polygon points="481,470 459,451 502,453" fill="#959595"/>
<polygon points="481,470 500,491 459,484" fill="#767676"/>
<polygon points="568,165 576,149 593,153 588,168" fill="#747474" stroke="#525252" stroke-width="1.4"/>
<polygon points="581,159 588,168 568,165" fill="#858585"/>
<polygon points="581,159 576,149 593,153" fill="#666666"/>
<polygon points="331,262 304,246 310,213 341,229" fill="#757575" stroke="#535353" stroke-width="1.4"/>
<polygon points="322,237 331,262 304,246" fill="#878787"/>
<polygon points="322,237 310,213 341,229" fill="#6a6a6a"/>
<polygon points="564,407 562,390 577,383 579,400" fill="#717171" stroke="#4f4f4f" stroke-width="1.4"/>
<polygon points="571,395 564,407 562,390" fill="#858585"/>
<polygon points="571,395 577,383 579,400" fill="#6b6b6b"/>
<polygon points="207,336 193,316 210,301 226,319" fill="#7b7b7b" stroke="#595959" stroke-width="1.4"/>
<polygon points="209,319 210,301 226,319" fill="#909090"/>
<polygon points="209,319 207,336 193,316" fill="#727272"/>
<polygon points="52,266 55,242 75,236 75,259" fill="#838383" stroke="#616161" stroke-width="1.4"/>
<polygon points="64,251 55,242 75,236" fill="#9c9c9c"/>
<polygon points="64,251 75,259 52,266" fill="#7b7b7b"/>
<polygon points="677,390 675,367 698,358 698,381" fill="#8b8b8b" stroke="#696969" stroke-width="1.4"/>
<polygon points="687,373 677,390 675,367" fill="#989898"/>
<polygon points="687,373 698,358 698,381" fill="#7f7f7f"/>
<polygon points="642,369 661,355 683,370 665,382" fill="#838383" stroke="#616161" stroke-width="1.4"/>
<polygon points="662,369 661,355 683,370" fill="#999999"/>
<polygon points="662,369 665,382 642,369" fill="#797979"/>
<polygon points="43,373 46,345 78,341 75,376" fill="#818181" stroke="#5f5f5f" stroke-width="1.4"/>
<polygon points="62,359 75,376 43,373" fill="#8d8d8d"/>
<polygon points="62,359 46,345 78,341" fill="#747474"/>
<polygon points="504,278 505,264 520,261 520,274" fill="#808080" stroke="#5e5e5e" stroke-width="1.4"/>
<polygon points="512,270 520,261 520,274" fill="#8f8f8f"/>
<polygon points="512,270 504,278 505,264" fill="#707070"/>
<polygon points="181,304 154,311 138,290 163,279" fill="#777777" stroke="#555555" stroke-width="1.4"/>
<polygon points="160,295 163,279 181,304" fill="#8e8e8e"/>
<polygon points="160,295 154,311 138,290" fill="#696969"/>
<polygon points="206,154 199,141 208,131 216,144" fill="#747474" stroke="#525252" stroke-width="1.4"/>
<polygon points="208,143 199,141 208,131" fill="#878787"/>
<polygon points="208,143 216,144 206,154" fill="#676767"/>
<polygon points="490,383 479,391 470,380 484,372" fill="#7d7d7d" stroke="#5b5b5b" stroke-width="1.4"/>
<polygon points="480,381 484,372 490,383" fill="#8e8e8e"/>
<polygon points="480,381 479,391 470,380" fill="#6f6f6f"/>
<polygon points="158,148 169,134 185,137 177,151" fill="#797979" stroke="#575757" stroke-width="1.4"/>
<polygon points="172,143 169,134 185,137" fill="#8c8c8c"/>
<polygon points="172,143 177,151 158,148" fill="#6c6c6c"/>
<polygon points="476,193 484,176 502,179 493,193" fill="#818181" stroke="#5f5f5f" stroke-width="1.4"/>
<polygon points="488,185 502,179 493,193" fill="#979797"/>
<polygon points="488,185 476,193 484,176" fill="#777777"/>
<polygon points="348,460 309,463 292,429 330,425" fill="#787878" stroke="#565656" stroke-width="1.4"/>
<polygon points="320,444 309,463 292,429" fill="#888888"/>
<polygon points="320,444 330,425 348,460" fill="#707070"/>
<polygon points="389,178 384,136 421,121 424,158" fill="#848484" stroke="#626262" stroke-width="1.4"/>
<polygon points="403,148 384,136 421,121" fill="#9a9a9a"/>
<polygon points="403,148 424,158 389,178" fill="#7a7a7a"/>
<polygon points="517,118 479,130 462,93 500,75" fill="#7a7a7a" stroke="#585858" stroke-width="1.4"/>
<polygon points="570,281 534,301 507,269 549,252" fill="#848484" stroke="#626262" stroke-width="1.4"/>
<polygon points="538,276 534,301 507,269" fill="#989898"/>
<polygon points="538,276 549,252 570,281" fill="#7b7b7b"/>
<polygon points="433,102 421,102 416,91 428,91" fill="#717171" stroke="#4f4f4f" stroke-width="1.4"/>
<polygon points="424,97 416,91 428,91" fill="#808080"/>
<polygon points="424,97 433,102 421,102" fill="#636363"/>
<polygon points="258,86 229,101 212,78 242,64" fill="#7f7f7f" stroke="#5d5d5d" stroke-width="1.4"/>
<polygon points="235,82 229,101 212,78" fill="#909090"/>
<polygon points="235,82 242,64 258,86" fill="#707070"/>
<polygon points="102,404 64,390 77,355 107,369" fill="#6e6e6e" stroke="#4c4c4c" stroke-width="1.4"/>
<polygon points="86,381 77,355 107,369" fill="#7c7c7c"/>
<polygon points="86,381 102,404 64,390" fill="#606060"/>
<polygon points="135,283 109,293 92,268 119,258" fill="#828282" stroke="#606060" stroke-width="1.4"/>
<polygon points="114,276 109,293 92,268" fill="#9b9b9b"/>
<polygon points="114,276 119,258 135,283" fill="#757575"/>
<polygon points="405,164 392,167 383,155 395,152" fill="#868686" stroke="#646464" stroke-width="1.4"/>
<polygon points="156,465 123,441 139,400 178,428" fill="#868686" stroke="#646464" stroke-width="1.4"/>
<polygon points="150,432 156,465 123,441" fill="#9d9d9d"/>
<polygon points="150,432 139,400 178,428" fill="#7f7f7f"/>
<polygon points="251,107 255,87 273,86 269,102" fill="#848484" stroke="#626262" stroke-width="1.4"/>
<polygon points="261,95 273,86 269,102" fill="#9d9d9d"/>
<polygon points="261,95 251,107 255,87" fill="#7a7a7a"/>
<polygon points="299,104 297,83 318,79 317,102" fill="#818181" stroke="#5f5f5f" stroke-width="1.4"/>
<polygon points="308,91 299,104 297,83" fill="#989898"/>
<polygon points="308,91 318,79 317,102" fill="#767676"/>
<polygon points="345,426 352,383 393,384 390,421" fill="#838383" stroke="#616161" stroke-width="1.4"/>
<polygon points="369,404 393,384 390,421" fill="#979797"/>
<polygon points="369,404 345,426 352,383" fill="#757575"/>
<polygon points="379,418 351,413 349,386 379,387" fill="#7a7a7a" stroke="#585858" stroke-width="1.4"/>
<polygon points="366,401 349,386 379,387" fill="#919191"/>
<polygon points="366,401 379,418 351,413" fill="#6e6e6e"/>
<polygon points="465,344 467,330 484,330 481,346" fill="#7f7f7f" stroke="#5d5d5d" stroke-width="1.4"/>
<polygon points="593,320 616,293 654,299 628,331" fill="#767676" stroke="#545454" stroke-width="1.4"/>
<polygon points="624,311 616,293 654,299" fill="#8b8b8b"/>
<polygon points="624,311 628,331 593,320" fill="#686868"/>
<polygon points="242,342 250,307 288,305 274,335" fill="#737373" stroke="#515151" stroke-width="1.4"/>
<polygon points="263,320 288,305 274,335" fill="#858585"/>
<polygon points="263,320 242,342 250,307" fill="#6a6a6a"/>
<polygon points="168,240 159,202 192,184 199,217" fill="#828282" stroke="#606060" stroke-width="1.4"/>
<polygon points="519,85 483,88 470,51 505,53" fill="#808080" stroke="#5e5e5e" stroke-width="1.4"/>
<polygon points="613,235 633,212 656,223 639,247" fill="#828282" stroke="#606060" stroke-width="1.4"/>
<polygon points="690,278 652,271 648,236 684,241" fill="#7b7b7b" stroke="#595959" stroke-width="1.4"/>
<polygon points="669,257 648,236 684,241" fill="#909090"/>
<polygon points="669,257 690,278 652,271" fill="#747474"/>
<polygon points="466,283 427,261 440,222 479,239" fill="#757575" stroke="#535353" stroke-width="1.4"/>
<polygon points="454,252 466,283 427,261" fill="#828282"/>
<polygon points="454,252 440,222 479,239" fill="#676767"/>
<polygon points="478,317 478,292 508,288 509,316" fill="#747474" stroke="#525252" stroke-width="1.4"/>
<polygon points="670,468 664,452 679,442 685,457" fill="#858585" stroke="#636363" stroke-width="1.4"/>
<polygon points="386,272 375,224 417,213 427,257" fill="#7e7e7e" stroke="#5c5c5c" stroke-width="1.4"/>
<polygon points="400,242 417,213 427,257" fill="#8f8f8f"/>
<polygon points="400,242 386,272 375,224" fill="#707070"/>
<polygon points="346,80 363,58 390,68 372,88" fill="#7d7d7d" stroke="#5b5b5b" stroke-width="1.4"/>
<polygon points="368,73 372,88 346,80" fill="#949494"/>
<polygon points="368,73 363,58 390,68" fill="#737373"/>
<polygon points="504,206 474,175 497,143 527,171" fill="#787878" stroke="#565656" stroke-width="1.4"/>
<polygon points="555,267 563,255 579,261 570,276" fill="#717171" stroke="#4f4f4f" stroke-width="1.4"/>
<polygon points="567,265 570,276 555,267" fill="#888888"/>
<polygon points="567,265 563,255 579,261" fill="#696969"/>
<polygon points="291,486 265,481 266,447 294,455" fill="#7b7b7b" stroke="#595959" stroke-width="1.4"/>
<polygon points="278,467 266,447 294,455" fill="#909090"/>
<polygon points="278,467 291,486 265,481" fill="#727272"/>
<polygon points="721,465 688,478 663,446 702,428" fill="#848484" stroke="#626262" stroke-width="1.4"/>
<polygon points="516,114 525,89 550,94 540,121" fill="#6b6b6b" stroke="#494949" stroke-width="1.4"/>
<polygon points="517,143 488,126 502,91 539,109" fill="#7a7a7a" stroke="#585858" stroke-width="1.4"/>
<polygon points="513,116 488,126 502,91" fill="#8e8e8e"/>
<polygon points="513,116 539,109 517,143" fill="#707070"/>
<polygon points="395,192 404,151 444,156 435,199" fill="#828282" stroke="#606060" stroke-width="1.4"/>
<polygon points="420,175 395,192 404,151" fill="#999999"/>
<polygon points="420,175 444,156 435,199" fill="#747474"/>
<polygon points="462,459 462,441 478,438 480,455" fill="#757575" stroke="#535353" stroke-width="1.4"/>
<polygon points="470,449 462,441 478,438" fill="#868686"/>
<polygon points="470,449 480,455 462,459" fill="#6c6c6c"/>
<polygon points="428,456 417,463 405,453 418,444" fill="#767676" stroke="#545454" stroke-width="1.4"/>
<polygon points="417,453 418,444 428,456" fill="#868686"/>
<polygon points="417,453 417,463 405,453" fill="#707070"/>
<polygon points="363,305 332,330 305,298 335,275" fill="#818181" stroke="#5f5f5f" stroke-width="1.4"/>
<polygon points="334,302 332,330 305,298" fill="#919191"/>
<polygon points="334,302 335,275 363,305" fill="#717171"/>
<polygon points="436,381 414,385 409,367 428,361" fill="#808080" stroke="#5e5e5e" stroke-width="1.4"/>
<polygon points="423,374 436,381 414,385" fill="#929292"/>
<polygon points="423,374 409,367 428,361" fill="#757575"/>
<polygon points="400,158 429,125 461,150 431,182" fill="#848484" stroke="#626262" stroke-width="1.4"/>
<polygon points="504,390 481,380 484,353 506,365" fill="#797979" stroke="#575757" stroke-width="1.4"/>
<polygon points="493,372 506,365 504,390" fill="#909090"/>
<polygon points="493,372 481,380 484,353" fill="#6b6b6b"/>
<polygon points="522,411 524,391 543,390 544,411" fill="#767676" stroke="#545454" stroke-width="1.4"/>
<polygon points="534,401 544,411 522,411" fill="#838383"/>
<polygon points="534,401 524,391 543,390" fill="#686868"/>
<polygon points="524,352 510,342 510,323 529,331" fill="#8c8c8c" stroke="#6a6a6a" stroke-width="1.4"/>
<polygon points="519,336 510,323 529,331" fill="#9e9e9e"/>
<polygon points="519,336 524,352 510,342" fill="#868686"/>
<polygon points="497,410 507,389 531,395 518,414" fill="#848484" stroke="#626262" stroke-width="1.4"/>
<polygon points="514,401 497,410 507,389" fill="#989898"/>
<polygon points="514,401 531,395 518,414" fill="#7c7c7c"/>
<polygon points="270,214 293,194 322,208 298,229" fill="#747474" stroke="#525252" stroke-width="1.4"/>
<polygon points="296,211 293,194 322,208" fill="#8b8b8b"/>
<polygon points="296,211 298,229 270,214" fill="#656565"/>
<polygon points="121,71 114,55 130,43 136,60" fill="#8e8e8e" stroke="#6c6c6c" stroke-width="1.4"/>
<polygon points="60,208 74,180 107,192 90,216" fill="#7d7d7d" stroke="#5b5b5b" stroke-width="1.4"/>
<polygon points="83,197 60,208 74,180" fill="#8a8a8a"/>
<polygon points="83,197 107,192 90,216" fill="#6e6e6e"/>
<polygon points="646,255 666,230 691,242 673,271" fill="#8a8a8a" stroke="#686868" stroke-width="1.4"/>
<polygon points="669,250 666,230 691,242" fill="#a0a0a0"/>
<polygon points="669,250 673,271 646,255" fill="#7f7f7f"/>
<polygon points="625,338 616,324 624,313 636,326" fill="#737373" stroke="#515151" stroke-width="1.4"/>
<polygon points="626,325 616,324 624,313" fill="#888888"/>
<polygon points="626,325 636,326 625,338" fill="#656565"/>
<polygon points="35,115 50,76 90,78 72,111" fill="#838383" stroke="#616161" stroke-width="1.4"/>
<polygon points="665,173 650,182 638,171 654,158" fill="#7e7e7e" stroke="#5c5c5c" stroke-width="1.4"/>
<polygon points="652,170 650,182 638,171" fill="#929292"/>
<polygon points="652,170 654,158 665,173" fill="#757575"/>
<polygon points="359,491 373,473 395,479 381,496" fill="#8a8a8a" stroke="#686868" stroke-width="1.4"/>
<polygon points="377,484 359,491 373,473" fill="#9f9f9f"/>
<polygon points="377,484 395,479 381,496" fill="#7e7e7e"/>
<polygon points="359,371 333,368 324,339 352,343" fill="#7e7e7e" stroke="#5c5c5c" stroke-width="1.4"/>
<polygon points="342,355 352,343 359,371" fill="#989898"/>
<polygon points="342,355 333,368 324,339" fill="#727272"/>
<polygon points="119,292 89,304 67,281 98,269" fill="#919191" stroke="#6f6f6f" stroke-width="1.4"/>
<polygon points="93,286 67,281 98,269" fill="#a7a7a7"/>
<polygon points="93,286 119,292 89,304" fill="#8b8b8b"/>
<polygon points="78,128 65,95 95,78 105,112" fill="#686868" stroke="#464646" stroke-width="1.4"/>
<polygon points="85,102 78,128 65,95" fill="#818181"/>
<polygon points="85,102 95,78 105,112" fill="#5a5a5a"/>
<polygon points="493,77 508,46 538,51 526,82" fill="#808080" stroke="#5e5e5e" stroke-width="1.4"/>
<polygon points="269,210 257,199 268,186 281,198" fill="#777777" stroke="#555555" stroke-width="1.4"/>
<polygon points="269,198 268,186 281,198" fill="#878787"/>
<polygon points="269,198 269,210 257,199" fill="#6f6f6f"/>
<polygon points="297,64 308,46 326,55 319,74" fill="#737373" stroke="#515151" stroke-width="1.4"/>
<polygon points="601,215 570,201 580,170 608,185" fill="#8b8b8b" stroke="#696969" stroke-width="1.4"/>
<polygon points="643,260 636,222 680,208 689,255" fill="#818181" stroke="#5f5f5f" stroke-width="1.4"/>
<polygon points="664,236 636,222 680,208" fill="#969696"/>
<polygon points="664,236 689,255 643,260" fill="#757575"/>
<polygon points="154,496 135,483 142,464 158,477" fill="#7f7f7f" stroke="#5d5d5d" stroke-width="1.4"/>
<polygon points="488,389 474,395 462,385 477,378" fill="#787878" stroke="#565656" stroke-width="1.4"/>
<polygon points="498,351 510,325 540,336 527,365" fill="#7e7e7e" stroke="#5c5c5c" stroke-width="1.4"/>
<polygon points="520,345 510,325 540,336" fill="#909090"/>
<polygon points="520,345 527,365 498,351" fill="#717171"/>
<polygon points="82,481 94,463 114,463 106,482" fill="#7f7f7f" stroke="#5d5d5d" stroke-width="1.4"/>
<polygon points="157,474 152,457 168,448 172,468" fill="#757575" stroke="#535353" stroke-width="1.4"/>
<polygon points="162,461 172,468 157,474" fill="#858585"/>
<polygon points="162,461 152,457 168,448" fill="#6e6e6e"/>
<polygon points="439,91 415,91 416,66 439,68" fill="#848484" stroke="#626262" stroke-width="1.4"/>
<polygon points="427,79 415,91 416,66" fill="#979797"/>
<polygon points="427,79 439,68 439,91" fill="#7d7d7d"/>
<polygon points="209,427 188,418 195,396 216,405" fill="#787878" stroke="#565656" stroke-width="1.4"/>
<polygon points="202,412 216,405 209,427" fill="#888888"/>
<polygon points="202,412 188,418 195,396" fill="#727272"/>
<polygon points="114,237 91,232 90,207 114,214" fill="#777777" stroke="#555555" stroke-width="1.4"/>
<polygon points="102,222 91,232 90,207" fill="#898989"/>
<polygon points="102,222 114,214 114,237" fill="#707070"/>
<polygon points="178,186 153,183 147,159 174,161" fill="#7c7c7c" stroke="#5a5a5a" stroke-width="1.4"/>
<polygon points="163,172 174,161 178,186" fill="#898989"/>
<polygon points="163,172 153,183 147,159" fill="#6c6c6c"/>
<polygon points="374,166 384,151 399,152 391,168" fill="#828282" stroke="#606060" stroke-width="1.4"/>
<polygon points="259,167 234,153 234,122 264,138" fill="#7f7f7f" stroke="#5d5d5d" stroke-width="1.4"/>
<polygon points="365,77 367,52 396,48 391,76" fill="#7d7d7d" stroke="#5b5b5b" stroke-width="1.4"/>
<polygon points="380,62 365,77 367,52" fill="#959595"/>
<polygon points="380,62 396,48 391,76" fill="#737373"/>
<polygon points="637,148 626,131 645,119 655,136" fill="#878787" stroke="#656565" stroke-width="1.4"/>
<polygon points="641,133 626,131 645,119" fill="#979797"/>
<polygon points="641,133 655,136 637,148" fill="#7e7e7e"/>
<polygon points="177,87 164,88 160,75 172,74" fill="#787878" stroke="#565656" stroke-width="1.4"/>
<polygon points="169,81 164,88 160,75" fill="#878787"/>
<polygon points="169,81 172,74 177,87" fill="#6d6d6d"/>
<polygon points="227,409 241,391 259,406 244,421" fill="#7c7c7c" stroke="#5a5a5a" stroke-width="1.4"/>
<polygon points="243,406 241,391 259,406" fill="#8b8b8b"/>
<polygon points="243,406 244,421 227,409" fill="#6d6d6d"/>
<polygon points="142,443 119,421 140,394 159,420" fill="#767676" stroke="#545454" stroke-width="1.4"/>
<polygon points="139,419 119,421 140,394" fill="#8a8a8a"/>
<polygon points="139,419 159,420 142,443" fill="#676767"/>
<polygon points="68,170 63,154 78,144 83,161" fill="#818181" stroke="#5f5f5f" stroke-width="1.4"/>
<polygon points="73,157 78,144 83,161" fill="#9a9a9a"/>
<polygon points="73,157 68,170 63,154" fill="#737373"/>
<polygon points="70,255 92,221 128,244 103,276" fill="#8b8b8b" stroke="#696969" stroke-width="1.4"/>
<polygon points="99,248 70,255 92,221" fill="#9d9d9d"/>
<polygon points="99,248 128,244 103,276" fill="#808080"/>
<polygon points="389,378 375,359 392,340 406,362" fill="#838383" stroke="#616161" stroke-width="1.4"/>
<polygon points="391,359 392,340 406,362" fill="#989898"/>
<polygon points="391,359 389,378 375,359" fill="#797979"/>
<polygon points="656,189 662,157 693,143 691,180" fill="#797979" stroke="#575757" stroke-width="1.4"/>
<polygon points="677,168 662,157 693,143" fill="#8b8b8b"/>
<polygon points="677,168 691,180 656,189" fill="#6f6f6f"/>
<polygon points="675,497 687,484 699,493 687,504" fill="#757575" stroke="#535353" stroke-width="1.4"/>
<polygon points="687,494 687,504 675,497" fill="#8a8a8a"/>
<polygon points="687,494 687,484 699,493" fill="#686868"/>
<polygon points="132,162 114,158 112,139 128,146" fill="#828282" stroke="#606060" stroke-width="1.4"/>
<polygon points="121,152 112,139 128,146" fill="#939393"/>
<polygon points="121,152 132,162 114,158" fill="#757575"/>
<polygon points="235,443 226,405 259,395 266,432" fill="#838383" stroke="#616161" stroke-width="1.4"/>
<polygon points="246,419 226,405 259,395" fill="#989898"/>
<polygon points="246,419 266,432 235,443" fill="#767676"/>
<polygon points="697,165 667,151 665,119 698,126" fill="#818181" stroke="#5f5f5f" stroke-width="1.4"/>
<polygon points="410,384 393,390 378,377 395,370" fill="#6f6f6f" stroke="#4d4d4d" stroke-width="1.4"/>
<polygon points="394,380 393,390 378,377" fill="#7c7c7c"/>
<polygon points="394,380 395,370 410,384" fill="#686868"/>
<polygon points="670,502 653,497 654,480 671,484" fill="#777777" stroke="#555555" stroke-width="1.4"/>
<polygon points="662,490 670,502 653,497" fill="#848484"/>
<polygon points="662,490 654,480 671,484" fill="#717171"/>
<polygon points="703,138 665,120 675,83 710,100" fill="#858585" stroke="#636363" stroke-width="1.4"/>
<polygon points="688,111 710,100 703,138" fill="#969696"/>
<polygon points="688,111 665,120 675,83" fill="#787878"/>
<polygon points="216,423 184,436 160,407 197,389" fill="#818181" stroke="#5f5f5f" stroke-width="1.4"/>
<polygon points="411,128 405,112 418,99 423,116" fill="#8a8a8a" stroke="#686868" stroke-width="1.4"/>
<polygon points="414,114 411,128 405,112" fill="#979797"/>
<polygon points="414,114 418,99 423,116" fill="#7d7d7d"/>
<polygon points="168,203 165,172 195,160 202,193" fill="#818181" stroke="#5f5f5f" stroke-width="1.4"/>
<polygon points="183,183 195,160 202,193" fill="#999999"/>
<polygon points="183,183 168,203 165,172" fill="#747474"/>
<polygon points="687,426 666,421 667,398 691,402" fill="#787878" stroke="#565656" stroke-width="1.4"/>
<polygon points="678,411 666,421 667,398" fill="#868686"/>
<polygon points="678,411 691,402 687,426" fill="#6b6b6b"/>
<polygon points="186,77 188,54 214,54 209,77" fill="#868686" stroke="#646464" stroke-width="1.4"/>
<polygon points="200,65 209,77 186,77" fill="#999999"/>
<polygon points="200,65 188,54 214,54" fill="#7d7d7d"/>
<polygon points="486,169 468,153 485,134 499,152" fill="#707070" stroke="#4e4e4e" stroke-width="1.4"/>
<polygon points="444,118 437,92 460,80 464,104" fill="#979797" stroke="#757575" stroke-width="1.4"/>
<polygon points="90,418 63,392 72,364 98,386" fill="#828282" stroke="#606060" stroke-width="1.4"/>
<polygon points="81,391 63,392 72,364" fill="#959595"/>
<polygon points="81,391 98,386 90,418" fill="#757575"/>
<polygon points="255,445 230,425 240,398 263,417" fill="#6e6e6e" stroke="#4c4c4c" stroke-width="1.4"/>
<polygon points="78,505 79,461 119,455 116,493" fill="#878787" stroke="#656565" stroke-width="1.4"/>
<polygon points="97,478 79,461 119,455" fill="#9e9e9e"/>
<polygon points="97,478 116,493 78,505" fill="#808080"/>
<polygon points="154,490 159,478 176,479 170,492" fill="#7c7c7c" stroke="#5a5a5a" stroke-width="1.4"/>
<polygon points="165,485 159,478 176,479" fill="#929292"/>
<polygon points="165,485 170,492 154,490" fill="#6d6d6d"/>
<polygon points="504,351 494,358 482,351 492,342" fill="#838383" stroke="#616161" stroke-width="1.4"/>
<polygon points="493,350 482,351 492,342" fill="#929292"/>
<polygon points="493,350 504,351 494,358" fill="#7a7a7a"/>
<polygon points="619,497 614,476 634,466 638,486" fill="#767676" stroke="#545454" stroke-width="1.4"/>
<polygon points="626,481 614,476 634,466" fill="#8e8e8e"/>
<polygon points="626,481 638,486 619,497" fill="#6a6a6a"/>
<polygon points="83,460 66,463 57,448 74,445" fill="#939393" stroke="#717171" stroke-width="1.4"/>
<polygon points="70,454 57,448 74,445" fill="#a8a8a8"/>
<polygon points="70,454 83,460 66,463" fill="#8c8c8c"/>
<polygon points="621,139 626,116 651,119 645,143" fill="#8f8f8f" stroke="#6d6d6d" stroke-width="1.4"/>
<polygon points="636,129 651,119 645,143" fill="#a2a2a2"/>
<polygon points="636,129 621,139 626,116" fill="#848484"/>
<polygon points="546,456 521,436 522,407 553,422" fill="#767676" stroke="#545454" stroke-width="1.4"/>
<polygon points="538,430 546,456 521,436" fill="#898989"/>
<polygon points="538,430 522,407 553,422" fill="#6f6f6f"/>
<polygon points="614,358 599,343 612,323 625,341" fill="#6e6e6e" stroke="#4c4c4c" stroke-width="1.4"/>
<polygon points="612,341 612,323 625,341" fill="#828282"/>
<polygon points="612,341 614,358 599,343" fill="#676767"/>
<polygon points="429,449 412,429 427,404 446,425" fill="#6c6c6c" stroke="#4a4a4a" stroke-width="1.4"/>
<polygon points="666,370 675,359 691,363 680,374" fill="#737373" stroke="#515151" stroke-width="1.4"/>
<polygon points="552,222 556,201 575,201 575,222" fill="#767676" stroke="#545454" stroke-width="1.4"/>
<polygon points="564,213 552,222 556,201" fill="#8f8f8f"/>
<polygon points="564,213 575,201 575,222" fill="#6e6e6e"/>
<polygon points="258,218 222,217 215,184 252,182" fill="#6d6d6d" stroke="#4b4b4b" stroke-width="1.4"/>
<polygon points="237,200 222,217 215,184" fill="#797979"/>
<polygon points="237,200 252,182 258,218" fill="#606060"/>
<polygon points="647,109 621,116 602,97 628,88" fill="#7b7b7b" stroke="#595959" stroke-width="1.4"/>
<polygon points="625,102 621,116 602,97" fill="#8f8f8f"/>
<polygon points="625,102 628,88 647,109" fill="#6c6c6c"/>
<polygon points="391,131 400,100 431,101 424,130" fill="#757575" stroke="#535353" stroke-width="1.4"/>
<polygon points="411,116 391,131 400,100" fill="#8d8d8d"/>
<polygon points="411,116 431,101 424,130" fill="#666666"/>
<polygon points="165,419 130,420 131,388 161,391" fill="#777777" stroke="#555555" stroke-width="1.4"/>
<polygon points="146,406 165,419 130,420" fill="#8d8d8d"/>
<polygon points="146,406 131,388 161,391" fill="#6a6a6a"/>
<polygon points="484,185 509,156 541,169 518,192" fill="#868686" stroke="#646464" stroke-width="1.4"/>
<polygon points="512,174 518,192 484,185" fill="#949494"/>
<polygon points="512,174 509,156 541,169" fill="#7d7d7d"/>
<polygon points="372,237 399,217 427,234 399,255" fill="#787878" stroke="#565656" stroke-width="1.4"/>
<polygon points="356,125 327,132 311,108 341,100" fill="#6b6b6b" stroke="#494949" stroke-width="1.4"/>
<polygon points="370,294 342,295 336,266 362,269" fill="#858585" stroke="#636363" stroke-width="1.4"/>
<polygon points="352,282 362,269 370,294" fill="#9a9a9a"/>
<polygon points="352,282 342,295 336,266" fill="#7a7a7a"/>
<polygon points="586,305 590,292 603,291 600,306" fill="#6c6c6c" stroke="#4a4a4a" stroke-width="1.4"/>
<polygon points="595,299 586,305 590,292" fill="#858585"/>
<polygon points="595,299 603,291 600,306" fill="#646464"/>
<polygon points="269,463 256,429 288,409 305,441" fill="#7b7b7b" stroke="#595959" stroke-width="1.4"/>
<polygon points="280,437 269,463 256,429" fill="#898989"/>
<polygon points="280,437 288,409 305,441" fill="#6c6c6c"/>
<polygon points="692,359 669,335 688,301 709,324" fill="#7a7a7a" stroke="#585858" stroke-width="1.4"/>
<polygon points="690,330 688,301 709,324" fill="#8b8b8b"/>
<polygon points="690,330 692,359 669,335" fill="#6d6d6d"/>
<polygon points="569,187 550,175 555,152 576,165" fill="#7b7b7b" stroke="#595959" stroke-width="1.4"/>
<polygon points="152,368 139,369 134,357 147,358" fill="#7d7d7d" stroke="#5b5b5b" stroke-width="1.4"/>
<polygon points="143,364 152,368 139,369" fill="#979797"/>
<polygon points="143,364 134,357 147,358" fill="#727272"/>
<polygon points="657,124 632,97 643,61 675,90" fill="#767676" stroke="#545454" stroke-width="1.4"/>
<polygon points="574,327 541,342 507,321 541,301" fill="#7d7d7d" stroke="#5b5b5b" stroke-width="1.4"/>
<polygon points="459,385 415,372 427,327 475,346" fill="#7d7d7d" stroke="#5b5b5b" stroke-width="1.4"/>
<polygon points="444,356 415,372 427,327" fill="#8b8b8b"/>
<polygon points="444,356 475,346 459,385" fill="#6e6e6e"/>
<polygon points="569,360 547,341 563,309 588,328" fill="#8a8a8a" stroke="#686868" stroke-width="1.4"/>
<polygon points="568,335 563,309 588,328" fill="#9f9f9f"/>
<polygon points="568,335 569,360 547,341" fill="#7f7f7f"/>
<polygon points="135,102 111,71 135,44 157,77" fill="#727272" stroke="#505050" stroke-width="1.4"/>
<polygon points="134,73 135,102 111,71" fill="#8a8a8a"/>
<polygon points="134,73 135,44 157,77" fill="#686868"/>
<polygon points="501,154 497,128 516,119 520,145" fill="#6e6e6e" stroke="#4c4c4c" stroke-width="1.4"/>
<polygon points="201,353 176,372 152,349 176,331" fill="#7d7d7d" stroke="#5b5b5b" stroke-width="1.4"/>
<polygon points="177,352 176,331 201,353" fill="#979797"/>
<polygon points="177,352 176,372 152,349" fill="#6f6f6f"/>
<polygon points="728,278 694,296 669,274 702,251" fill="#848484" stroke="#626262" stroke-width="1.4"/>
<polygon points="698,274 694,296 669,274" fill="#929292"/>
<polygon points="698,274 702,251 728,278" fill="#7c7c7c"/>
<polygon points="97,461 99,438 125,430 122,456" fill="#818181" stroke="#5f5f5f" stroke-width="1.4"/>
<polygon points="185,363 164,352 174,332 194,341" fill="#9c9c9c" stroke="#7a7a7a" stroke-width="1.4"/>
<polygon points="179,347 174,332 194,341" fill="#aeaeae"/>
<polygon points="179,347 185,363 164,352" fill="#8d8d8d"/>
<polygon points="375,121 341,127 328,91 360,82" fill="#6f6f6f" stroke="#4d4d4d" stroke-width="1.4"/>
<polygon points="352,105 360,82 375,121" fill="#878787"/>
<polygon points="352,105 341,127 328,91" fill="#676767"/>
<polygon points="385,256 374,262 364,250 378,243" fill="#818181" stroke="#5f5f5f" stroke-width="1.4"/>
<polygon points="375,253 374,262 364,250" fill="#9a9a9a"/>
<polygon points="375,253 378,243 385,256" fill="#747474"/>
<polygon points="566,363 527,355 521,323 557,328" fill="#777777" stroke="#555555" stroke-width="1.4"/>
<polygon points="92,154 50,146 55,97 103,104" fill="#858585" stroke="#636363" stroke-width="1.4"/>
<polygon points="76,124 55,97 103,104" fill="#9a9a9a"/>
<polygon points="76,124 92,154 50,146" fill="#777777"/>
<polygon points="161,263 188,232 220,257 197,289" fill="#7f7f7f" stroke="#5d5d5d" stroke-width="1.4"/>
<polygon points="191,261 188,232 220,257" fill="#989898"/>
<polygon points="191,261 197,289 161,263" fill="#757575"/>
<polygon points="662,319 649,308 663,294 673,306" fill="#777777" stroke="#555555" stroke-width="1.4"/>
<polygon points="661,306 663,294 673,306" fill="#919191"/>
<polygon points="661,306 662,319 649,308" fill="#6d6d6d"/>
<polygon points="411,200 398,199 395,186 407,188" fill="#848484" stroke="#626262" stroke-width="1.4"/>
<polygon points="402,193 395,186 407,188" fill="#969696"/>
<polygon points="402,193 411,200 398,199" fill="#747474"/>
<polygon points="189,500 158,500 145,472 176,469" fill="#7f7f7f" stroke="#5d5d5d" stroke-width="1.4"/>
<polygon points="65,304 69,273 99,265 95,297" fill="#838383" stroke="#616161" stroke-width="1.4"/>
<polygon points="83,284 65,304 69,273" fill="#939393"/>
<polygon points="83,284 99,265 95,297" fill="#747474"/>
<polygon points="78,206 73,163 115,155 113,195" fill="#727272" stroke="#505050" stroke-width="1.4"/>
<polygon points="94,178 73,163 115,155" fill="#808080"/>
<polygon points="94,178 113,195 78,206" fill="#636363"/>
<polygon points="225,470 197,464 205,430 235,441" fill="#888888" stroke="#666666" stroke-width="1.4"/>
<polygon points="214,450 225,470 197,464" fill="#a0a0a0"/>
<polygon points="214,450 205,430 235,441" fill="#797979"/>
<polygon points="411,246 380,264 349,244 379,226" fill="#858585" stroke="#636363" stroke-width="1.4"/>
<polygon points="380,245 349,244 379,226" fill="#959595"/>
<polygon points="380,245 411,246 380,264" fill="#7e7e7e"/>
<polygon points="121,132 132,106 160,104 150,132" fill="#7f7f7f" stroke="#5d5d5d" stroke-width="1.4"/>
<polygon points="141,119 121,132 132,106" fill="#959595"/>
<polygon points="141,119 160,104 150,132" fill="#777777"/>
<polygon points="120,474 127,463 138,466 131,478" fill="#7e7e7e" stroke="#5c5c5c" stroke-width="1.4"/>
<polygon points="129,470 120,474 127,463" fill="#919191"/>
<polygon points="129,470 138,466 131,478" fill="#737373"/>
<polygon points="669,326 652,333 641,322 656,316" fill="#696969" stroke="#474747" stroke-width="1.4"/>
<polygon points="655,325 656,316 669,326" fill="#787878"/>
<polygon points="655,325 652,333 641,322" fill="#616161"/>
<polygon points="218,221 221,182 256,171 259,213" fill="#7d7d7d" stroke="#5b5b5b" stroke-width="1.4"/>
<polygon points="240,198 218,221 221,182" fill="#8d8d8d"/>
<polygon points="240,198 256,171 259,213" fill="#777777"/>
<polygon points="91,301 56,305 44,271 78,269" fill="#7e7e7e" stroke="#5c5c5c" stroke-width="1.4"/>
<polygon points="67,287 78,269 91,301" fill="#8a8a8a"/>
<polygon points="67,287 56,305 44,271" fill="#767676"/>
<polygon points="296,151 292,134 310,131 312,147" fill="#777777" stroke="#555555" stroke-width="1.4"/>
<polygon points="302,141 292,134 310,131" fill="#858585"/>
<polygon points="302,141 312,147 296,151" fill="#717171"/>
<polygon points="176,192 143,175 155,147 184,162" fill="#828282" stroke="#606060" stroke-width="1.4"/>
<polygon points="164,170 176,192 143,175" fill="#9b9b9b"/>
<polygon points="164,170 155,147 184,162" fill="#747474"/>
<polygon points="374,121 344,132 334,105 358,97" fill="#777777" stroke="#555555" stroke-width="1.4"/>
<polygon points="236,94 238,63 265,56 263,89" fill="#6f6f6f" stroke="#4d4d4d" stroke-width="1.4"/>
<polygon points="251,75 263,89 236,94" fill="#7e7e7e"/>
<polygon points="251,75 238,63 265,56" fill="#686868"/>
<polygon points="386,252 395,234 414,240 402,259" fill="#7b7b7b" stroke="#595959" stroke-width="1.4"/>
<polygon points="69,198 81,171 114,181 100,210" fill="#808080" stroke="#5e5e5e" stroke-width="1.4"/>
<polygon points="92,190 81,171 114,181" fill="#919191"/>
<polygon points="92,190 100,210 69,198" fill="#787878"/>
<polygon points="522,127 505,105 527,90 542,109" fill="#717171" stroke="#4f4f4f" stroke-width="1.4"/>
<polygon points="523,108 527,90 542,109" fill="#818181"/>
<polygon points="523,108 522,127 505,105" fill="#636363"/>
<polygon points="524,420 493,421 491,389 523,390" fill="#717171" stroke="#4f4f4f" stroke-width="1.4"/>
<polygon points="507,405 491,389 523,390" fill="#848484"/>
<polygon points="507,405 524,420 493,421" fill="#646464"/>
<polygon points="190,270 166,263 168,240 190,248" fill="#7c7c7c" stroke="#5a5a5a" stroke-width="1.4"/>
<polygon points="178,256 168,240 190,248" fill="#929292"/>
<polygon points="178,256 190,270 166,263" fill="#737373"/>
<polygon points="65,214 76,206 86,212 77,223" fill="#6b6b6b" stroke="#494949" stroke-width="1.4"/>
<polygon points="76,214 65,214 76,206" fill="#818181"/>
<polygon points="76,214 86,212 77,223" fill="#5e5e5e"/>
<polygon points="145,100 156,89 173,91 164,106" fill="#828282" stroke="#606060" stroke-width="1.4"/>
<polygon points="160,97 156,89 173,91" fill="#989898"/>
<polygon points="160,97 164,106 145,100" fill="#787878"/>
<polygon points="92,358 76,367 60,353 77,346" fill="#828282" stroke="#606060" stroke-width="1.4"/>
<polygon points="76,357 92,358 76,367" fill="#9b9b9b"/>
<polygon points="76,357 60,353 77,346" fill="#787878"/>
<polygon points="318,323 302,333 286,319 303,309" fill="#7a7a7a" stroke="#585858" stroke-width="1.4"/>
<polygon points="302,321 302,333 286,319" fill="#898989"/>
<polygon points="302,321 303,309 318,323" fill="#6f6f6f"/>
<polygon points="412,166 411,148 428,147 429,162" fill="#7d7d7d" stroke="#5b5b5b" stroke-width="1.4"/>
<polygon points="419,156 428,147 429,162" fill="#909090"/>
<polygon points="419,156 412,166 411,148" fill="#6e6e6e"/>
<polygon points="99,275 80,263 93,244 111,256" fill="#7d7d7d" stroke="#5b5b5b" stroke-width="1.4"/>
<polygon points="95,259 93,244 111,256" fill="#919191"/>
<polygon points="95,259 99,275 80,263" fill="#737373"/>
<polygon points="77,436 43,432 40,390 79,392" fill="#7b7b7b" stroke="#595959" stroke-width="1.4"/>
<polygon points="60,412 43,432 40,390" fill="#919191"/>
<polygon points="60,412 79,392 77,436" fill="#6c6c6c"/>
<polygon points="432,232 397,246 375,219 407,206" fill="#7c7c7c" stroke="#5a5a5a" stroke-width="1.4"/>
<polygon points="101,111 83,95 96,73 112,88" fill="#717171" stroke="#4f4f4f" stroke-width="1.4"/>
<polygon points="98,92 112,88 101,111" fill="#7e7e7e"/>
<polygon points="98,92 83,95 96,73" fill="#686868"/>
<polygon points="381,159 392,136 416,144 406,165" fill="#747474" stroke="#525252" stroke-width="1.4"/>
<polygon points="690,354 689,336 701,330 703,345" fill="#797979" stroke="#575757" stroke-width="1.4"/>
<polygon points="695,342 689,336 701,330" fill="#8e8e8e"/>
<polygon points="695,342 703,345 690,354" fill="#6e6e6e"/>
<polygon points="314,185 280,156 305,128 334,154" fill="#707070" stroke="#4e4e4e" stroke-width="1.4"/>
<polygon points="307,156 334,154 314,185" fill="#848484"/>
<polygon points="307,156 280,156 305,128" fill="#626262"/>
<polygon points="410,90 390,92 387,73 407,71" fill="#878787" stroke="#656565" stroke-width="1.4"/>
<polygon points="398,82 387,73 407,71" fill="#9b9b9b"/>
<polygon points="398,82 410,90 390,92" fill="#808080"/>
<polygon points="367,341 350,338 352,320 369,325" fill="#6e6e6e" stroke="#4c4c4c" stroke-width="1.4"/>
<polygon points="417,411 397,397 413,374 433,387" fill="#787878" stroke="#565656" stroke-width="1.4"/>
<polygon points="683,509 641,506 643,471 682,476" fill="#848484" stroke="#626262" stroke-width="1.4"/>
<polygon points="662,491 682,476 683,509" fill="#979797"/>
<polygon points="662,491 641,506 643,471" fill="#757575"/>
<polygon points="189,457 170,471 153,459 171,445" fill="#8c8c8c" stroke="#6a6a6a" stroke-width="1.4"/>
<polygon points="171,458 153,459 171,445" fill="#a2a2a2"/>
<polygon points="171,458 189,457 170,471" fill="#838383"/>
<polygon points="513,94 526,78 543,88 528,103" fill="#888888" stroke="#666666" stroke-width="1.4"/>
<polygon points="528,91 528,103 513,94" fill="#9d9d9d"/>
<polygon points="528,91 526,78 543,88" fill="#797979"/>
<polygon points="113,379 120,356 149,356 140,382" fill="#797979" stroke="#575757" stroke-width="1.4"/>
<polygon points="131,368 120,356 149,356" fill="#878787"/>
<polygon points="131,368 140,382 113,379" fill="#707070"/>
<polygon points="48,105 57,80 83,83 76,106" fill="#757575" stroke="#535353" stroke-width="1.4"/>
<polygon points="66,94 57,80 83,83" fill="#868686"/>
<polygon points="66,94 76,106 48,105" fill="#686868"/>
<polygon points="496,245 465,253 456,226 488,216" fill="#858585" stroke="#636363" stroke-width="1.4"/>
<polygon points="477,235 456,226 488,216" fill="#999999"/>
<polygon points="477,235 496,245 465,253" fill="#767676"/>
<polygon points="219,220 204,216 205,198 220,201" fill="#808080" stroke="#5e5e5e" stroke-width="1.4"/>
<polygon points="390,334 391,291 424,280 423,318" fill="#747474" stroke="#525252" stroke-width="1.4"/>
<polygon points="406,306 423,318 390,334" fill="#838383"/>
<polygon points="406,306 391,291 424,280" fill="#6d6d6d"/>
<polygon points="322,291 304,292 301,273 320,272" fill="#777777" stroke="#555555" stroke-width="1.4"/>
<polygon points="311,282 320,272 322,291" fill="#8c8c8c"/>
<polygon points="311,282 304,292 301,273" fill="#6c6c6c"/>
<polygon points="110,525 73,501 99,464 131,494" fill="#7f7f7f" stroke="#5d5d5d" stroke-width="1.4"/>
<polygon points="102,495 73,501 99,464" fill="#989898"/>
<polygon points="102,495 131,494 110,525" fill="#777777"/>
<polygon points="238,97 264,79 297,97 267,118" fill="#797979" stroke="#575757" stroke-width="1.4"/>
<polygon points="155,154 163,134 181,135 174,154" fill="#838383" stroke="#616161" stroke-width="1.4"/>
<polygon points="167,144 174,154 155,154" fill="#909090"/>
<polygon points="167,144 163,134 181,135" fill="#7a7a7a"/>
<polygon points="32,210 31,194 49,191 50,207" fill="#828282" stroke="#606060" stroke-width="1.4"/>
<polygon points="41,200 49,191 50,207" fill="#949494"/>
<polygon points="41,200 32,210 31,194" fill="#767676"/>
<polygon points="572,416 557,382 587,366 597,397" fill="#7b7b7b" stroke="#595959" stroke-width="1.4"/>
<polygon points="162,75 176,59 192,71 181,87" fill="#878787" stroke="#656565" stroke-width="1.4"/>
<polygon points="177,73 192,71 181,87" fill="#9c9c9c"/>
<polygon points="177,73 162,75 176,59" fill="#7b7b7b"/>
<polygon points="609,274 591,270 594,253 610,258" fill="#7b7b7b" stroke="#595959" stroke-width="1.4"/>
<polygon points="43,268 37,248 55,234 62,256" fill="#868686" stroke="#646464" stroke-width="1.4"/>
<polygon points="50,251 43,268 37,248" fill="#939393"/>
<polygon points="50,251 55,234 62,256" fill="#797979"/>
<polygon points="675,193 698,162 731,182 712,210" fill="#868686" stroke="#646464" stroke-width="1.4"/>
<polygon points="703,186 712,210 675,193" fill="#969696"/>
<polygon points="703,186 698,162 731,182" fill="#777777"/>
<polygon points="277,249 290,237 307,245 295,259" fill="#707070" stroke="#4e4e4e" stroke-width="1.4"/>
<polygon points="292,248 295,259 277,249" fill="#808080"/>
<polygon points="292,248 290,237 307,245" fill="#616161"/>
<polygon points="151,249 120,238 130,204 156,217" fill="#6c6c6c" stroke="#4a4a4a" stroke-width="1.4"/>
<polygon points="138,228 151,249 120,238" fill="#7e7e7e"/>
<polygon points="138,228 130,204 156,217" fill="#666666"/>
<polygon points="330,483 319,461 335,449 348,469" fill="#909090" stroke="#6e6e6e" stroke-width="1.4"/>
<polygon points="333,466 319,461 335,449" fill="#a8a8a8"/>
<polygon points="333,466 348,469 330,483" fill="#8a8a8a"/>
<polygon points="34,296 41,263 76,268 65,296" fill="#848484" stroke="#626262" stroke-width="1.4"/>
<polygon points="53,279 41,263 76,268" fill="#959595"/>
<polygon points="53,279 65,296 34,296" fill="#757575"/>
<polygon points="402,513 398,487 426,474 427,503" fill="#808080" stroke="#5e5e5e" stroke-width="1.4"/>
<polygon points="413,493 427,503 402,513" fill="#909090"/>
<polygon points="413,493 398,487 426,474" fill="#747474"/>
<polygon points="49,276 34,255 51,240 64,260" fill="#7d7d7d" stroke="#5b5b5b" stroke-width="1.4"/>
<polygon points="49,258 51,240 64,260" fill="#909090"/>
<polygon points="49,258 49,276 34,255" fill="#727272"/>
<polygon points="498,224 512,207 537,216 522,234" fill="#909090" stroke="#6e6e6e" stroke-width="1.4"/>
<polygon points="149,515 158,487 192,487 183,521" fill="#797979" stroke="#575757" stroke-width="1.4"/>
<polygon points="172,503 158,487 192,487" fill="#8b8b8b"/>
<polygon points="172,503 183,521 149,515" fill="#717171"/>
<polygon points="494,206 459,208 448,170 483,165" fill="#717171" stroke="#4f4f4f" stroke-width="1.4"/>
<polygon points="504,331 460,324 459,282 505,288" fill="#7a7a7a" stroke="#585858" stroke-width="1.4"/>
<polygon points="482,305 459,282 505,288" fill="#949494"/>
<polygon points="482,305 504,331 460,324" fill="#6f6f6f"/>
<polygon points="579,180 577,143 614,137 620,176" fill="#868686" stroke="#646464" stroke-width="1.4"/>
<polygon points="598,160 577,143 614,137" fill="#9e9e9e"/>
<polygon points="598,160 620,176 579,180" fill="#797979"/>
<polygon points="169,134 138,134 130,109 161,109" fill="#6a6a6a" stroke="#484848" stroke-width="1.4"/>
<polygon points="149,122 130,109 161,109" fill="#838383"/>
<polygon points="149,122 169,134 138,134" fill="#616161"/>
<polygon points="58,147 84,123 122,143 94,166" fill="#717171" stroke="#4f4f4f" stroke-width="1.4"/>
<polygon points="90,144 84,123 122,143" fill="#7d7d7d"/>
<polygon points="90,144 94,166 58,147" fill="#6a6a6a"/>
<polygon points="528,329 499,324 497,297 521,302" fill="#7e7e7e" stroke="#5c5c5c" stroke-width="1.4"/>
<polygon points="582,76 589,42 626,45 619,79" fill="#6a6a6a" stroke="#484848" stroke-width="1.4"/>
<polygon points="604,61 626,45 619,79" fill="#7e7e7e"/>
<polygon points="604,61 582,76 589,42" fill="#5b5b5b"/>
<polygon points="563,313 578,295 598,306 583,321" fill="#767676" stroke="#545454" stroke-width="1.4"/>
<polygon points="580,308 598,306 583,321" fill="#8f8f8f"/>
<polygon points="580,308 563,313 578,295" fill="#686868"/>
<polygon points="348,285 318,268 316,238 348,249" fill="#6e6e6e" stroke="#4c4c4c" stroke-width="1.4"/>
<polygon points="334,260 348,249 348,285" fill="#848484"/>
<polygon points="334,260 318,268 316,238" fill="#666666"/>
<polygon points="280,381 256,401 237,380 259,360" fill="#6f6f6f" stroke="#4d4d4d" stroke-width="1.4"/>
<polygon points="650,393 623,402 607,382 630,373" fill="#7e7e7e" stroke="#5c5c5c" stroke-width="1.4"/>
<polygon points="628,388 650,393 623,402" fill="#8e8e8e"/>
<polygon points="628,388 607,382 630,373" fill="#727272"/>
<polygon points="722,143 702,154 686,141 706,131" fill="#7e7e7e" stroke="#5c5c5c" stroke-width="1.4"/>
<polygon points="704,143 722,143 702,154" fill="#929292"/>
<polygon points="704,143 686,141 706,131" fill="#727272"/>
<polygon points="38,240 34,222 50,210 53,229" fill="#727272" stroke="#505050" stroke-width="1.4"/>
<polygon points="43,225 38,240 34,222" fill="#808080"/>
<polygon points="43,225 50,210 53,229" fill="#666666"/>
<polygon points="648,500 612,524 592,491 626,472" fill="#797979" stroke="#575757" stroke-width="1.4"/>
<polygon points="619,498 612,524 592,491" fill="#8a8a8a"/>
<polygon points="619,498 626,472 648,500" fill="#6e6e6e"/>
<polygon points="128,343 100,353 81,331 107,318" fill="#7d7d7d" stroke="#5b5b5b" stroke-width="1.4"/>
<polygon points="104,336 100,353 81,331" fill="#929292"/>
<polygon points="104,336 107,318 128,343" fill="#727272"/>
<polygon points="434,294 456,277 487,290 466,308" fill="#8e8e8e" stroke="#6c6c6c" stroke-width="1.4"/>
<polygon points="461,293 456,277 487,290" fill="#a5a5a5"/>
<polygon points="461,293 466,308 434,294" fill="#868686"/>
<polygon points="286,180 269,148 291,127 313,156" fill="#757575" stroke="#535353" stroke-width="1.4"/>
<polygon points="317,226 284,230 268,194 306,187" fill="#878787" stroke="#656565" stroke-width="1.4"/>
<polygon points="676,152 641,135 652,97 687,118" fill="#7f7f7f" stroke="#5d5d5d" stroke-width="1.4"/>
<polygon points="663,125 676,152 641,135" fill="#979797"/>
<polygon points="663,125 652,97 687,118" fill="#747474"/>
<polygon points="567,281 525,297 510,264 553,247" fill="#7a7a7a" stroke="#585858" stroke-width="1.4"/>
<polygon points="539,272 510,264 553,247" fill="#878787"/>
<polygon points="539,272 567,281 525,297" fill="#6c6c6c"/>
<polygon points="524,338 554,316 584,340 554,360" fill="#878787" stroke="#656565" stroke-width="1.4"/>
<polygon points="554,338 584,340 554,360" fill="#9e9e9e"/>
<polygon points="554,338 524,338 554,316" fill="#7b7b7b"/>
<polygon points="174,340 152,345 141,322 163,314" fill="#686868" stroke="#464646" stroke-width="1.4"/>
<polygon points="158,329 141,322 163,314" fill="#757575"/>
<polygon points="158,329 174,340 152,345" fill="#5f5f5f"/>
<polygon points="580,273 542,278 525,251 563,246" fill="#707070" stroke="#4e4e4e" stroke-width="1.4"/>
<polygon points="553,262 580,273 542,278" fill="#7d7d7d"/>
<polygon points="553,262 525,251 563,246" fill="#656565"/>
<polygon points="93,488 64,496 47,470 77,461" fill="#8c8c8c" stroke="#6a6a6a" stroke-width="1.4"/>
<polygon points="70,478 47,470 77,461" fill="#a2a2a2"/>
<polygon points="70,478 93,488 64,496" fill="#858585"/>
<polygon points="281,195 285,176 304,171 301,193" fill="#787878" stroke="#565656" stroke-width="1.4"/>
<polygon points="645,267 658,240 687,247 674,269" fill="#838383" stroke="#616161" stroke-width="1.4"/>
<polygon points="665,255 674,269 645,267" fill="#919191"/>
<polygon points="665,255 658,240 687,247" fill="#7d7d7d"/>
<polygon points="642,458 602,446 609,401 649,413" fill="#6c6c6c" stroke="#4a4a4a" stroke-width="1.4"/>
<polygon points="626,430 609,401 649,413" fill="#7f7f7f"/>
<polygon points="626,430 642,458 602,446" fill="#626262"/>
<polygon points="645,494 615,462 648,429 679,458" fill="#767676" stroke="#545454" stroke-width="1.4"/>
<polygon points="647,461 645,494 615,462" fill="#868686"/>
<polygon points="647,461 648,429 679,458" fill="#6b6b6b"/>
<polygon points="374,478 351,454 363,418 387,446" fill="#8c8c8c" stroke="#6a6a6a" stroke-width="1.4"/>
<polygon points="368,448 363,418 387,446" fill="#9d9d9d"/>
<polygon points="368,448 374,478 351,454" fill="#818181"/>
<polygon points="413,486 400,444 436,425 444,464" fill="#7b7b7b" stroke="#595959" stroke-width="1.4"/>
<polygon points="422,454 444,464 413,486" fill="#909090"/>
<polygon points="422,454 400,444 436,425" fill="#6f6f6f"/>
<polygon points="457,185 435,163 460,135 485,160" fill="#777777" stroke="#555555" stroke-width="1.4"/>
<polygon points="486,429 473,424 473,410 485,415" fill="#848484" stroke="#626262" stroke-width="1.4"/>
<polygon points="479,419 486,429 473,424" fill="#919191"/>
<polygon points="479,419 473,410 485,415" fill="#7e7e7e"/>
<polygon points="464,367 477,346 501,356 487,380" fill="#7a7a7a" stroke="#585858" stroke-width="1.4"/>
<polygon points="483,363 464,367 477,346" fill="#929292"/>
<polygon points="483,363 501,356 487,380" fill="#707070"/>
<polygon points="543,246 501,234 503,192 544,203" fill="#7f7f7f" stroke="#5d5d5d" stroke-width="1.4"/>
<polygon points="523,219 501,234 503,192" fill="#939393"/>
<polygon points="523,219 544,203 543,246" fill="#727272"/>
<polygon points="284,307 296,293 313,306 301,318" fill="#6e6e6e" stroke="#4c4c4c" stroke-width="1.4"/>
<polygon points="299,305 301,318 284,307" fill="#838383"/>
<polygon points="299,305 296,293 313,306" fill="#636363"/>
<polygon points="454,241 445,216 464,198 474,222" fill="#797979" stroke="#575757" stroke-width="1.4"/>
<polygon points="459,219 474,222 454,241" fill="#868686"/>
<polygon points="459,219 445,216 464,198" fill="#6a6a6a"/>
<polygon points="406,411 404,380 433,371 436,406" fill="#747474" stroke="#525252" stroke-width="1.4"/>
<polygon points="421,392 436,406 406,411" fill="#8b8b8b"/>
<polygon points="421,392 404,380 433,371" fill="#6c6c6c"/>
<polygon points="344,65 339,43 360,38 365,57" fill="#727272" stroke="#505050" stroke-width="1.4"/>
<polygon points="352,51 365,57 344,65" fill="#868686"/>
<polygon points="352,51 339,43 360,38" fill="#656565"/>
<polygon points="185,198 165,205 151,185 170,179" fill="#7a7a7a" stroke="#585858" stroke-width="1.4"/>
<polygon points="168,192 185,198 165,205" fill="#8a8a8a"/>
<polygon points="168,192 151,185 170,179" fill="#6c6c6c"/>
<polygon points="292,346 305,324 332,336 316,361" fill="#6e6e6e" stroke="#4c4c4c" stroke-width="1.4"/>
<polygon points="312,342 292,346 305,324" fill="#7e7e7e"/>
<polygon points="312,342 332,336 316,361" fill="#666666"/>
<polygon points="564,428 546,421 550,398 571,406" fill="#777777" stroke="#555555" stroke-width="1.4"/>
<polygon points="558,412 550,398 571,406" fill="#848484"/>
<polygon points="558,412 564,428 546,421" fill="#6f6f6f"/>
<polygon points="214,331 190,323 193,295 217,305" fill="#757575" stroke="#535353" stroke-width="1.4"/>
<polygon points="427,276 407,283 396,258 418,250" fill="#787878" stroke="#565656" stroke-width="1.4"/>
<polygon points="394,447 378,429 397,411 410,427" fill="#797979" stroke="#575757" stroke-width="1.4"/>
<polygon points="394,429 397,411 410,427" fill="#858585"/>
<polygon points="394,429 394,447 378,429" fill="#707070"/>
<polygon points="135,128 105,137 96,105 125,101" fill="#878787" stroke="#656565" stroke-width="1.4"/>
<polygon points="641,204 657,190 680,202 660,219" fill="#838383" stroke="#616161" stroke-width="1.4"/>
<polygon points="92,454 98,417 133,414 130,453" fill="#909090" stroke="#6e6e6e" stroke-width="1.4"/>
<polygon points="114,435 130,453 92,454" fill="#9d9d9d"/>
<polygon points="114,435 98,417 133,414" fill="#848484"/>
<polygon points="235,364 214,335 228,306 255,330" fill="#8a8a8a" stroke="#686868" stroke-width="1.4"/>
<polygon points="234,334 214,335 228,306" fill="#a2a2a2"/>
<polygon points="234,334 255,330 235,364" fill="#7e7e7e"/>
<polygon points="289,501 320,472 353,487 322,513" fill="#777777" stroke="#555555" stroke-width="1.4"/>
<polygon points="320,492 353,487 322,513" fill="#878787"/>
<polygon points="320,492 289,501 320,472" fill="#717171"/>
<polygon points="665,177 651,184 645,168 660,164" fill="#6c6c6c" stroke="#4a4a4a" stroke-width="1.4"/>
<polygon points="407,116 426,98 446,109 427,122" fill="#797979" stroke="#575757" stroke-width="1.4"/>
<polygon points="62,388 49,368 65,344 78,365" fill="#7d7d7d" stroke="#5b5b5b" stroke-width="1.4"/>
<polygon points="63,366 65,344 78,365" fill="#8a8a8a"/>
<polygon points="63,366 62,388 49,368" fill="#767676"/>
<polygon points="647,223 652,207 668,209 663,224" fill="#808080" stroke="#5e5e5e" stroke-width="1.4"/>
<polygon points="657,216 652,207 668,209" fill="#8d8d8d"/>
<polygon points="657,216 663,224 647,223" fill="#717171"/>
<polygon points="341,468 341,435 378,429 378,466" fill="#878787" stroke="#656565" stroke-width="1.4"/>
<polygon points="360,449 378,466 341,468" fill="#959595"/>
<polygon points="360,449 341,435 378,429" fill="#7d7d7d"/>
<polygon points="619,429 578,436 557,403 597,394" fill="#888888" stroke="#666666" stroke-width="1.4"/>
<polygon points="645,369 633,341 660,320 673,350" fill="#858585" stroke="#636363" stroke-width="1.4"/>
<polygon points="334,322 311,309 318,288 339,300" fill="#696969" stroke="#474747" stroke-width="1.4"/>
<polygon points="325,305 334,322 311,309" fill="#7a7a7a"/>
<polygon points="325,305 318,288 339,300" fill="#616161"/>
<polygon points="69,469 24,460 28,419 64,429" fill="#8f8f8f" stroke="#6d6d6d" stroke-width="1.4"/>
<polygon points="45,447 28,419 64,429" fill="#a6a6a6"/>
<polygon points="45,447 69,469 24,460" fill="#808080"/>
<polygon points="651,260 634,262 631,244 649,243" fill="#7e7e7e" stroke="#5c5c5c" stroke-width="1.4"/>
<polygon points="641,252 651,260 634,262" fill="#909090"/>
<polygon points="641,252 631,244 649,243" fill="#767676"/>
<polygon points="504,269 508,233 538,235 536,271" fill="#727272" stroke="#505050" stroke-width="1.4"/>
<polygon points="362,409 348,367 384,344 398,384" fill="#808080" stroke="#5e5e5e" stroke-width="1.4"/>
<polygon points="373,376 362,409 348,367" fill="#909090"/>
<polygon points="373,376 384,344 398,384" fill="#747474"/>
<polygon points="101,261 93,229 118,213 126,244" fill="#909090" stroke="#6e6e6e" stroke-width="1.4"/>
<polygon points="109,237 93,229 118,213" fill="#a9a9a9"/>
<polygon points="109,237 126,244 101,261" fill="#858585"/>
<polygon points="194,328 198,309 218,305 214,324" fill="#7b7b7b" stroke="#595959" stroke-width="1.4"/>
<polygon points="264,258 236,234 249,203 280,226" fill="#868686" stroke="#646464" stroke-width="1.4"/>
<polygon points="258,230 249,203 280,226" fill="#959595"/>
<polygon points="258,230 264,258 236,234" fill="#777777"/>
<polygon points="230,162 248,126 285,124 269,164" fill="#9a9a9a" stroke="#787878" stroke-width="1.4"/>
<polygon points="685,412 682,394 703,385 709,407" fill="#696969" stroke="#474747" stroke-width="1.4"/>
<polygon points="696,400 709,407 685,412" fill="#797979"/>
<polygon points="696,400 682,394 703,385" fill="#606060"/>
<polygon points="217,191 218,166 244,165 242,190" fill="#757575" stroke="#535353" stroke-width="1.4"/>
<polygon points="230,178 217,191 218,166" fill="#8c8c8c"/>
<polygon points="230,178 244,165 242,190" fill="#696969"/>
<polygon points="296,180 305,144 350,140 343,176" fill="#686868" stroke="#464646" stroke-width="1.4"/>
<polygon points="323,161 350,140 343,176" fill="#7f7f7f"/>
<polygon points="323,161 296,180 305,144" fill="#5c5c5c"/>
<polygon points="481,403 497,365 541,377 526,412" fill="#797979" stroke="#575757" stroke-width="1.4"/>
<polygon points="511,389 526,412 481,403" fill="#8a8a8a"/>
<polygon points="511,389 497,365 541,377" fill="#717171"/>
<polygon points="341,481 322,485 315,463 333,460" fill="#737373" stroke="#515151" stroke-width="1.4"/>
<polygon points="328,473 322,485 315,463" fill="#7f7f7f"/>
<polygon points="328,473 333,460 341,481" fill="#696969"/>
<polygon points="387,145 353,117 367,82 405,102" fill="#808080" stroke="#5e5e5e" stroke-width="1.4"/>
<polygon points="380,113 353,117 367,82" fill="#8e8e8e"/>
<polygon points="380,113 405,102 387,145" fill="#777777"/>
<polygon points="600,374 597,356 612,352 616,368" fill="#848484" stroke="#626262" stroke-width="1.4"/>
<polygon points="606,363 597,356 612,352" fill="#969696"/>
<polygon points="606,363 616,368 600,374" fill="#7c7c7c"/>
<polygon points="251,124 229,121 224,102 248,103" fill="#7e7e7e" stroke="#5c5c5c" stroke-width="1.4"/>
<polygon points="238,112 251,124 229,121" fill="#929292"/>
<polygon points="238,112 224,102 248,103" fill="#727272"/>
<polygon points="167,206 136,219 107,194 137,180" fill="#707070" stroke="#4e4e4e" stroke-width="1.4"/>
<polygon points="137,200 167,206 136,219" fill="#7e7e7e"/>
<polygon points="137,200 107,194 137,180" fill="#626262"/>
<polygon points="517,227 492,234 485,210 510,205" fill="#6a6a6a" stroke="#484848" stroke-width="1.4"/>
<polygon points="500,219 485,210 510,205" fill="#808080"/>
<polygon points="500,219 517,227 492,234" fill="#5e5e5e"/>
<polygon points="490,235 477,205 501,190 511,218" fill="#808080" stroke="#5e5e5e" stroke-width="1.4"/>
<polygon points="494,212 511,218 490,235" fill="#8d8d8d"/>
<polygon points="494,212 477,205 501,190" fill="#727272"/>
<polygon points="399,323 372,306 384,280 408,298" fill="#8e8e8e" stroke="#6c6c6c" stroke-width="1.4"/>
<polygon points="390,302 399,323 372,306" fill="#a7a7a7"/>
<polygon points="390,302 384,280 408,298" fill="#888888"/>
<polygon points="69,169 31,179 18,142 54,138" fill="#888888" stroke="#666666" stroke-width="1.4"/>
<polygon points="286,270 302,253 318,265 302,283" fill="#787878" stroke="#565656" stroke-width="1.4"/>
<polygon points="477,271 485,238 514,243 505,271" fill="#747474" stroke="#525252" stroke-width="1.4"/>
<polygon points="596,134 591,109 615,103 618,129" fill="#656565" stroke="#434343" stroke-width="1.4"/>
<polygon points="605,118 615,103 618,129" fill="#747474"/>
<polygon points="605,118 596,134 591,109" fill="#595959"/>
<polygon points="449,263 459,233 490,242 478,273" fill="#929292" stroke="#707070" stroke-width="1.4"/>
<polygon points="470,252 459,233 490,242" fill="#aaaaaa"/>
<polygon points="470,252 478,273 449,263" fill="#8c8c8c"/>
<polygon points="122,220 106,212 114,195 130,203" fill="#888888" stroke="#666666" stroke-width="1.4"/>
<polygon points="118,208 130,203 122,220" fill="#989898"/>
<polygon points="118,208 106,212 114,195" fill="#7c7c7c"/>
<polygon points="400,334 400,312 422,308 424,330" fill="#666666" stroke="#444444" stroke-width="1.4"/>
<polygon points="335,338 341,318 361,325 352,343" fill="#878787" stroke="#656565" stroke-width="1.4"/>
<polygon points="348,330 335,338 341,318" fill="#979797"/>
<polygon points="348,330 361,325 352,343" fill="#7b7b7b"/>
<polygon points="621,229 647,200 676,219 651,253" fill="#6d6d6d" stroke="#4b4b4b" stroke-width="1.4"/>
<polygon points="649,226 621,229 647,200" fill="#818181"/>
<polygon points="649,226 676,219 651,253" fill="#5f5f5f"/>
<polygon points="50,298 80,270 105,294 82,323" fill="#838383" stroke="#616161" stroke-width="1.4"/>
<polygon points="677,193 651,177 658,150 688,164" fill="#818181" stroke="#5f5f5f" stroke-width="1.4"/>
<polygon points="69,264 32,259 28,214 63,221" fill="#757575" stroke="#535353" stroke-width="1.4"/>
<polygon points="515,212 498,222 490,204 507,196" fill="#787878" stroke="#565656" stroke-width="1.4"/>
<polygon points="370,176 393,156 415,172 391,196" fill="#727272" stroke="#505050" stroke-width="1.4"/>
<polygon points="392,176 370,176 393,156" fill="#868686"/>
<polygon points="392,176 415,172 391,196" fill="#646464"/>
<polygon points="89,438 55,425 61,385 95,404" fill="#6b6b6b" stroke="#494949" stroke-width="1.4"/>
<polygon points="397,129 384,102 405,89 418,112" fill="#787878" stroke="#565656" stroke-width="1.4"/>
<polygon points="215,173 200,163 208,148 224,159" fill="#6c6c6c" stroke="#4a4a4a" stroke-width="1.4"/>
<polygon points="212,160 215,173 200,163" fill="#7d7d7d"/>
<polygon points="212,160 208,148 224,159" fill="#636363"/>
<polygon points="342,140 342,116 367,110 366,132" fill="#7d7d7d" stroke="#5b5b5b" stroke-width="1.4"/>
<polygon points="354,125 342,116 367,110" fill="#939393"/>
<polygon points="354,125 366,132 342,140" fill="#747474"/>
<polygon points="123,356 99,331 116,300 143,326" fill="#757575" stroke="#535353" stroke-width="1.4"/>
<polygon points="121,328 123,356 99,331" fill="#8e8e8e"/>
<polygon points="121,328 116,300 143,326" fill="#656565"/>
<polygon points="403,214 397,193 414,186 421,206" fill="#7c7c7c" stroke="#5a5a5a" stroke-width="1.4"/>
<polygon points="598,144 617,132 635,143 616,155" fill="#8b8b8b" stroke="#696969" stroke-width="1.4"/>
<polygon points="616,143 616,155 598,144" fill="#979797"/>
<polygon points="616,143 617,132 635,143" fill="#848484"/>
<polygon points="57,257 50,246 61,236 69,247" fill="#818181" stroke="#5f5f5f" stroke-width="1.4"/>
<polygon points="60,247 61,236 69,247" fill="#909090"/>
<polygon points="60,247 57,257 50,246" fill="#727272"/>
<polygon points="644,500 660,468 693,474 677,498" fill="#8e8e8e" stroke="#6c6c6c" stroke-width="1.4"/>
<polygon points="667,484 677,498 644,500" fill="#a8a8a8"/>
<polygon points="667,484 660,468 693,474" fill="#808080"/>
<polygon points="566,211 532,238 506,209 537,187" fill="#747474" stroke="#525252" stroke-width="1.4"/>
<polygon points="536,212 506,209 537,187" fill="#8a8a8a"/>
<polygon points="536,212 566,211 532,238" fill="#656565"/>
<polygon points="381,182 345,209 318,179 354,153" fill="#747474" stroke="#525252" stroke-width="1.4"/>
<polygon points="349,181 354,153 381,182" fill="#8b8b8b"/>
<polygon points="349,181 345,209 318,179" fill="#666666"/>
<polygon points="576,110 565,115 556,103 568,96" fill="#818181" stroke="#5f5f5f" stroke-width="1.4"/>
<polygon points="566,106 568,96 576,110" fill="#979797"/>
<polygon points="566,106 565,115 556,103" fill="#727272"/>
<polygon points="409,147 398,119 423,104 432,136" fill="#717171" stroke="#4f4f4f" stroke-width="1.4"/>
<polygon points="416,126 432,136 409,147" fill="#8b8b8b"/>
<polygon points="416,126 398,119 423,104" fill="#6a6a6a"/>
<polygon points="328,143 297,107 328,75 357,112" fill="#6b6b6b" stroke="#494949" stroke-width="1.4"/>
<polygon points="327,109 328,75 357,112" fill="#777777"/>
<polygon points="327,109 328,143 297,107" fill="#616161"/>
<polygon points="306,185 276,162 287,124 313,145" fill="#797979" stroke="#575757" stroke-width="1.4"/>
<polygon points="295,155 306,185 276,162" fill="#888888"/>
<polygon points="295,155 287,124 313,145" fill="#6c6c6c"/>
<polygon points="585,347 578,328 591,316 601,333" fill="#7b7b7b" stroke="#595959" stroke-width="1.4"/>
<polygon points="374,95 363,75 379,61 390,81" fill="#818181" stroke="#5f5f5f" stroke-width="1.4"/>
<polygon points="257,74 265,36 307,31 297,66" fill="#818181" stroke="#5f5f5f" stroke-width="1.4"/>
<polygon points="281,51 307,31 297,66" fill="#929292"/>
<polygon points="281,51 257,74 265,36" fill="#737373"/>
<polygon points="336,433 350,405 383,408 368,435" fill="#808080" stroke="#5e5e5e" stroke-width="1.4"/>
<polygon points="360,420 368,435 336,433" fill="#959595"/>
<polygon points="360,420 350,405 383,408" fill="#747474"/>
<polygon points="65,274 76,249 110,250 99,283" fill="#8b8b8b" stroke="#696969" stroke-width="1.4"/>
<polygon points="89,265 76,249 110,250" fill="#a0a0a0"/>
<polygon points="89,265 99,283 65,274" fill="#7f7f7f"/>
<polygon points="280,88 285,73 297,76 294,91" fill="#8e8e8e" stroke="#6c6c6c" stroke-width="1.4"/>
<polygon points="143,454 157,422 195,425 183,458" fill="#838383" stroke="#616161" stroke-width="1.4"/>
<polygon points="169,441 157,422 195,425" fill="#919191"/>
<polygon points="169,441 183,458 143,454" fill="#747474"/>
<polygon points="125,359 129,341 145,341 144,359" fill="#787878" stroke="#565656" stroke-width="1.4"/>
<polygon points="315,284 277,275 283,241 318,254" fill="#7f7f7f" stroke="#5d5d5d" stroke-width="1.4"/>
<polygon points="523,103 540,84 560,95 544,113" fill="#7b7b7b" stroke="#595959" stroke-width="1.4"/>
<polygon points="698,377 692,359 711,353 716,372" fill="#838383" stroke="#616161" stroke-width="1.4"/>
<polygon points="704,365 692,359 711,353" fill="#959595"/>
<polygon points="704,365 716,372 698,377" fill="#787878"/>
<polygon points="532,112 509,90 523,55 549,79" fill="#666666" stroke="#444444" stroke-width="1.4"/>
<polygon points="529,84 549,79 532,112" fill="#7c7c7c"/>
<polygon points="529,84 509,90 523,55" fill="#5f5f5f"/>
<polygon points="390,293 357,299 348,262 380,257" fill="#787878" stroke="#565656" stroke-width="1.4"/>
<polygon points="369,278 348,262 380,257" fill="#8b8b8b"/>
<polygon points="369,278 390,293 357,299" fill="#6e6e6e"/>
<polygon points="101,63 124,43 148,57 125,76" fill="#878787" stroke="#656565" stroke-width="1.4"/>
<polygon points="125,59 101,63 124,43" fill="#959595"/>
<polygon points="125,59 148,57 125,76" fill="#777777"/>
<polygon points="659,160 635,166 626,147 649,140" fill="#717171" stroke="#4f4f4f" stroke-width="1.4"/>
<polygon points="643,153 635,166 626,147" fill="#858585"/>
<polygon points="643,153 649,140 659,160" fill="#656565"/>
<polygon points="72,406 67,383 90,372 92,393" fill="#757575" stroke="#535353" stroke-width="1.4"/>
<polygon points="247,286 207,292 187,257 222,249" fill="#7d7d7d" stroke="#5b5b5b" stroke-width="1.4"/>
<polygon points="217,272 247,286 207,292" fill="#8e8e8e"/>
<polygon points="217,272 187,257 222,249" fill="#6e6e6e"/>
<polygon points="368,468 342,466 339,438 362,445" fill="#787878" stroke="#565656" stroke-width="1.4"/>
<polygon points="351,455 342,466 339,438" fill="#878787"/>
<polygon points="351,455 362,445 368,468" fill="#6f6f6f"/>
<polygon points="23,253 26,217 55,209 53,244" fill="#808080" stroke="#5e5e5e" stroke-width="1.4"/>
<polygon points="39,231 26,217 55,209" fill="#959595"/>
<polygon points="39,231 53,244 23,253" fill="#747474"/>
<polygon points="662,483 649,492 636,481 648,474" fill="#757575" stroke="#535353" stroke-width="1.4"/>
<polygon points="260,271 240,267 236,251 256,255" fill="#7f7f7f" stroke="#5d5d5d" stroke-width="1.4"/>
<polygon points="248,261 240,267 236,251" fill="#8d8d8d"/>
<polygon points="248,261 256,255 260,271" fill="#757575"/>
<polygon points="391,418 372,417 374,395 393,397" fill="#686868" stroke="#464646" stroke-width="1.4"/>
<polygon points="382,407 372,417 374,395" fill="#777777"/>
<polygon points="382,407 393,397 391,418" fill="#595959"/>
<polygon points="200,74 185,81 176,70 189,64" fill="#858585" stroke="#636363" stroke-width="1.4"/>
<polygon points="410,264 414,241 439,243 431,267" fill="#7a7a7a" stroke="#585858" stroke-width="1.4"/>
<polygon points="424,253 410,264 414,241" fill="#939393"/>
<polygon points="424,253 439,243 431,267" fill="#6b6b6b"/>
<polygon points="124,437 90,411 117,381 147,410" fill="#777777" stroke="#555555" stroke-width="1.4"/>
<polygon points="118,410 124,437 90,411" fill="#919191"/>
<polygon points="118,410 117,381 147,410" fill="#717171"/>
<polygon points="139,316 152,301 168,309 156,320" fill="#797979" stroke="#575757" stroke-width="1.4"/>
<polygon points="153,311 152,301 168,309" fill="#8d8d8d"/>
<polygon points="153,311 156,320 139,316" fill="#6b6b6b"/>
<polygon points="375,116 373,98 391,90 391,107" fill="#818181" stroke="#5f5f5f" stroke-width="1.4"/>
<polygon points="203,337 173,316 180,280 217,298" fill="#808080" stroke="#5e5e5e" stroke-width="1.4"/>
<polygon points="195,307 180,280 217,298" fill="#949494"/>
<polygon points="195,307 203,337 173,316" fill="#7a7a7a"/>
<polygon points="136,461 123,445 135,428 149,448" fill="#8a8a8a" stroke="#686868" stroke-width="1.4"/>
<polygon points="136,445 149,448 136,461" fill="#a1a1a1"/>
<polygon points="136,445 123,445 135,428" fill="#7f7f7f"/>
<polygon points="246,179 266,138 301,153 279,195" fill="#6b6b6b" stroke="#494949" stroke-width="1.4"/>
<polygon points="274,166 301,153 279,195" fill="#7c7c7c"/>
<polygon points="274,166 246,179 266,138" fill="#616161"/>
<polygon points="479,136 481,112 508,113 503,137" fill="#777777" stroke="#555555" stroke-width="1.4"/>
<polygon points="493,124 503,137 479,136" fill="#8b8b8b"/>
<polygon points="493,124 481,112 508,113" fill="#686868"/>
<polygon points="354,302 333,288 346,269 366,284" fill="#797979" stroke="#575757" stroke-width="1.4"/>
<polygon points="350,285 366,284 354,302" fill="#8a8a8a"/>
<polygon points="350,285 333,288 346,269" fill="#717171"/>
<polygon points="149,246 132,234 134,211 154,223" fill="#797979" stroke="#575757" stroke-width="1.4"/>
<polygon points="143,228 149,246 132,234" fill="#8d8d8d"/>
<polygon points="143,228 134,211 154,223" fill="#727272"/>
<polygon points="496,498 485,455 521,442 536,480" fill="#797979" stroke="#575757" stroke-width="1.4"/>
<polygon points="509,470 521,442 536,480" fill="#868686"/>
<polygon points="509,470 496,498 485,455" fill="#737373"/>
<polygon points="387,495 403,468 430,471 414,498" fill="#767676" stroke="#545454" stroke-width="1.4"/>
<polygon points="409,483 403,468 430,471" fill="#8f8f8f"/>
<polygon points="409,483 414,498 387,495" fill="#686868"/>
<polygon points="63,448 80,427 109,443 89,463" fill="#797979" stroke="#575757" stroke-width="1.4"/>
<polygon points="86,445 80,427 109,443" fill="#8b8b8b"/>
<polygon points="86,445 89,463 63,448" fill="#6f6f6f"/>
<polygon points="493,388 467,382 464,358 491,361" fill="#7a7a7a" stroke="#585858" stroke-width="1.4"/>
<polygon points="479,373 493,388 467,382" fill="#8a8a8a"/>
<polygon points="479,373 464,358 491,361" fill="#6c6c6c"/>
<polygon points="220,97 233,71 260,81 247,108" fill="#747474" stroke="#525252" stroke-width="1.4"/>
<polygon points="240,90 233,71 260,81" fill="#828282"/>
<polygon points="240,90 247,108 220,97" fill="#6a6a6a"/>
<polygon points="469,190 474,173 490,176 487,193" fill="#767676" stroke="#545454" stroke-width="1.4"/>
<polygon points="379,102 363,85 379,65 390,84" fill="#7d7d7d" stroke="#5b5b5b" stroke-width="1.4"/>
<polygon points="376,84 379,65 390,84" fill="#949494"/>
<polygon points="376,84 379,102 363,85" fill="#717171"/>
<polygon points="547,447 531,435 540,416 554,427" fill="#8e8e8e" stroke="#6c6c6c" stroke-width="1.4"/>
<polygon points="543,431 540,416 554,427" fill="#9b9b9b"/>
<polygon points="543,431 547,447 531,435" fill="#868686"/>
<polygon points="51,371 66,339 100,336 87,371" fill="#858585" stroke="#636363" stroke-width="1.4"/>
<polygon points="76,355 66,339 100,336" fill="#929292"/>
<polygon points="76,355 87,371 51,371" fill="#7b7b7b"/>
<polygon points="59,298 70,259 106,253 99,298" fill="#787878" stroke="#565656" stroke-width="1.4"/>
<polygon points="85,278 70,259 106,253" fill="#898989"/>
<polygon points="85,278 99,298 59,298" fill="#6d6d6d"/>
<polygon points="413,297 437,268 473,281 453,310" fill="#929292" stroke="#707070" stroke-width="1.4"/>
<polygon points="443,290 413,297 437,268" fill="#a1a1a1"/>
<polygon points="443,290 473,281 453,310" fill="#858585"/>
<polygon points="369,513 364,500 373,493 377,505" fill="#767676" stroke="#545454" stroke-width="1.4"/>
<polygon points="371,503 364,500 373,493" fill="#909090"/>
<polygon points="371,503 377,505 369,513" fill="#696969"/>
<polygon points="392,452 378,416 417,399 425,436" fill="#868686" stroke="#646464" stroke-width="1.4"/>
<polygon points="402,424 417,399 425,436" fill="#999999"/>
<polygon points="402,424 392,452 378,416" fill="#7b7b7b"/>
<polygon points="66,288 53,254 77,234 88,267" fill="#858585" stroke="#636363" stroke-width="1.4"/>
<polygon points="70,261 77,234 88,267" fill="#9a9a9a"/>
<polygon points="70,261 66,288 53,254" fill="#787878"/>
<polygon points="728,150 699,160 685,136 711,128" fill="#7b7b7b" stroke="#595959" stroke-width="1.4"/>
<polygon points="706,144 699,160 685,136" fill="#939393"/>
<polygon points="706,144 711,128 728,150" fill="#707070"/>
<polygon points="120,285 85,272 97,236 128,246" fill="#7e7e7e" stroke="#5c5c5c" stroke-width="1.4"/>
<polygon points="108,261 97,236 128,246" fill="#8a8a8a"/>
<polygon points="108,261 120,285 85,272" fill="#717171"/>
<polygon points="284,488 267,473 275,454 292,469" fill="#797979" stroke="#575757" stroke-width="1.4"/>
<polygon points="279,471 275,454 292,469" fill="#888888"/>
<polygon points="279,471 284,488 267,473" fill="#6d6d6d"/>
<polygon points="277,363 249,334 262,298 296,327" fill="#727272" stroke="#505050" stroke-width="1.4"/>
<polygon points="273,330 249,334 262,298" fill="#8a8a8a"/>
<polygon points="273,330 296,327 277,363" fill="#686868"/>
<polygon points="531,399 499,406 478,381 511,372" fill="#7d7d7d" stroke="#5b5b5b" stroke-width="1.4"/>
<polygon points="505,389 478,381 511,372" fill="#8f8f8f"/>
<polygon points="505,389 531,399 499,406" fill="#6d6d6d"/>
<polygon points="133,86 108,103 94,83 119,67" fill="#707070" stroke="#4e4e4e" stroke-width="1.4"/>
<polygon points="196,254 173,226 189,188 216,216" fill="#999999" stroke="#777777" stroke-width="1.4"/>
<polygon points="195,221 189,188 216,216" fill="#adadad"/>
<polygon points="195,221 196,254 173,226" fill="#8e8e8e"/>
<polygon points="336,134 308,127 304,100 332,108" fill="#848484" stroke="#626262" stroke-width="1.4"/>
<polygon points="187,364 162,351 161,326 187,336" fill="#727272" stroke="#505050" stroke-width="1.4"/>
<polygon points="175,344 161,326 187,336" fill="#818181"/>
<polygon points="175,344 187,364 162,351" fill="#6c6c6c"/>
<polygon points="158,112 181,95 202,109 181,132" fill="#747474" stroke="#525252" stroke-width="1.4"/>
<polygon points="181,114 158,112 181,95" fill="#858585"/>
<polygon points="181,114 202,109 181,132" fill="#676767"/>
<polygon points="596,89 602,53 649,51 641,93" fill="#858585" stroke="#636363" stroke-width="1.4"/>
<polygon points="128,473 100,438 125,405 150,437" fill="#7f7f7f" stroke="#5d5d5d" stroke-width="1.4"/>
<polygon points="280,414 306,388 341,410 311,430" fill="#757575" stroke="#535353" stroke-width="1.4"/>
<polygon points="353,90 332,78 338,51 362,65" fill="#858585" stroke="#636363" stroke-width="1.4"/>
<polygon points="346,70 332,78 338,51" fill="#949494"/>
<polygon points="346,70 362,65 353,90" fill="#767676"/>
<polygon points="669,489 677,468 700,471 692,495" fill="#818181" stroke="#5f5f5f" stroke-width="1.4"/>
<polygon points="505,295 470,314 443,295 474,277" fill="#777777" stroke="#555555" stroke-width="1.4"/>
<polygon points="535,377 525,353 546,339 556,362" fill="#7c7c7c" stroke="#5a5a5a" stroke-width="1.4"/>
<polygon points="473,111 493,78 524,99 501,125" fill="#727272" stroke="#505050" stroke-width="1.4"/>
<polygon points="498,102 493,78 524,99" fill="#848484"/>
<polygon points="498,102 501,125 473,111" fill="#686868"/>
<polygon points="188,128 160,131 155,102 181,102" fill="#797979" stroke="#575757" stroke-width="1.4"/>
<polygon points="53,262 20,238 40,201 68,225" fill="#868686" stroke="#646464" stroke-width="1.4"/>
<polygon points="153,483 135,477 142,461 157,467" fill="#6f6f6f" stroke="#4d4d4d" stroke-width="1.4"/>
<polygon points="146,472 142,461 157,467" fill="#7d7d7d"/>
<polygon points="146,472 153,483 135,477" fill="#5f5f5f"/>
<polygon points="404,440 404,425 415,418 416,434" fill="#6d6d6d" stroke="#4b4b4b" stroke-width="1.4"/>
<polygon points="410,429 404,425 415,418" fill="#7f7f7f"/>
<polygon points="410,429 416,434 404,440" fill="#666666"/>
<polygon points="557,122 529,141 511,120 537,97" fill="#717171" stroke="#4f4f4f" stroke-width="1.4"/>
<polygon points="97,418 77,430 65,412 85,403" fill="#828282" stroke="#606060" stroke-width="1.4"/>
<polygon points="676,313 642,322 620,295 656,288" fill="#858585" stroke="#636363" stroke-width="1.4"/>
<polygon points="647,305 642,322 620,295" fill="#969696"/>
<polygon points="647,305 656,288 676,313" fill="#7e7e7e"/>
<polygon points="348,235 324,208 351,180 378,204" fill="#7f7f7f" stroke="#5d5d5d" stroke-width="1.4"/>
<polygon points="245,164 241,146 254,136 260,155" fill="#767676" stroke="#545454" stroke-width="1.4"/>
<polygon points="367,351 366,330 383,323 385,345" fill="#797979" stroke="#575757" stroke-width="1.4"/>
<polygon points="376,337 383,323 385,345" fill="#8f8f8f"/>
<polygon points="376,337 367,351 366,330" fill="#707070"/>
<polygon points="382,274 352,289 327,263 358,245" fill="#6e6e6e" stroke="#4c4c4c" stroke-width="1.4"/>
<polygon points="355,267 327,263 358,245" fill="#858585"/>
<polygon points="355,267 382,274 352,289" fill="#686868"/>
<polygon points="656,175 684,147 712,169 686,197" fill="#848484" stroke="#626262" stroke-width="1.4"/>
<polygon points="355,136 330,143 315,118 339,113" fill="#6e6e6e" stroke="#4c4c4c" stroke-width="1.4"/>
<polygon points="334,128 355,136 330,143" fill="#858585"/>
<polygon points="334,128 315,118 339,113" fill="#616161"/>
<polygon points="318,461 347,431 377,459 350,488" fill="#6d6d6d" stroke="#4b4b4b" stroke-width="1.4"/>
<polygon points="347,460 377,459 350,488" fill="#808080"/>
<polygon points="347,460 318,461 347,431" fill="#656565"/>
<polygon points="257,186 256,173 268,165 270,179" fill="#747474" stroke="#525252" stroke-width="1.4"/>
<polygon points="263,176 257,186 256,173" fill="#818181"/>
<polygon points="263,176 268,165 270,179" fill="#6c6c6c"/>
<polygon points="565,83 575,42 612,49 603,89" fill="#7a7a7a" stroke="#585858" stroke-width="1.4"/>
<polygon points="588,66 565,83 575,42" fill="#888888"/>
<polygon points="588,66 612,49 603,89" fill="#6d6d6d"/>
<polygon points="305,115 288,80 321,58 336,94" fill="#939393" stroke="#717171" stroke-width="1.4"/>
<polygon points="531,78 515,79 513,63 531,63" fill="#7e7e7e" stroke="#5c5c5c" stroke-width="1.4"/>
<polygon points="83,315 81,298 96,293 96,308" fill="#8f8f8f" stroke="#6d6d6d" stroke-width="1.4"/>
<polygon points="418,97 402,71 425,52 440,77" fill="#717171" stroke="#4f4f4f" stroke-width="1.4"/>
<polygon points="421,75 418,97 402,71" fill="#808080"/>
<polygon points="421,75 425,52 440,77" fill="#626262"/>
<polygon points="548,293 510,304 490,274 528,256" fill="#a0a0a0" stroke="#7e7e7e" stroke-width="1.4"/>
<polygon points="219,346 200,330 210,308 231,326" fill="#6a6a6a" stroke="#484848" stroke-width="1.4"/>
<polygon points="215,326 200,330 210,308" fill="#777777"/>
<polygon points="215,326 231,326 219,346" fill="#606060"/>
<polygon points="608,446 641,418 675,437 644,466" fill="#707070" stroke="#4e4e4e" stroke-width="1.4"/>
<polygon points="642,442 644,466 608,446" fill="#848484"/>
<polygon points="642,442 641,418 675,437" fill="#636363"/>
<polygon points="616,296 575,307 557,270 600,256" fill="#8a8a8a" stroke="#686868" stroke-width="1.4"/>
<polygon points="587,281 616,296 575,307" fill="#a1a1a1"/>
<polygon points="587,281 557,270 600,256" fill="#838383"/>
<polygon points="52,489 63,470 81,478 69,497" fill="#6c6c6c" stroke="#4a4a4a" stroke-width="1.4"/>
<polygon points="66,483 69,497 52,489" fill="#7c7c7c"/>
<polygon points="66,483 63,470 81,478" fill="#626262"/>
<polygon points="163,466 160,433 191,425 194,459" fill="#8f8f8f" stroke="#6d6d6d" stroke-width="1.4"/>
<polygon points="409,193 384,187 374,164 401,166" fill="#838383" stroke="#616161" stroke-width="1.4"/>
<polygon points="393,177 409,193 384,187" fill="#969696"/>
<polygon points="393,177 374,164 401,166" fill="#787878"/>
<polygon points="480,465 485,435 513,435 507,467" fill="#818181" stroke="#5f5f5f" stroke-width="1.4"/>
<polygon points="497,450 513,435 507,467" fill="#929292"/>
<polygon points="497,450 480,465 485,435" fill="#747474"/>
<polygon points="630,124 652,105 680,117 656,142" fill="#818181" stroke="#5f5f5f" stroke-width="1.4"/>
<polygon points="301,226 297,199 326,193 330,222" fill="#8a8a8a" stroke="#686868" stroke-width="1.4"/>
<polygon points="314,210 297,199 326,193" fill="#a0a0a0"/>
<polygon points="314,210 330,222 301,226" fill="#7f7f7f"/>
<polygon points="520,363 506,355 506,336 522,345" fill="#737373" stroke="#515151" stroke-width="1.4"/>
<polygon points="513,349 506,336 522,345" fill="#828282"/>
<polygon points="513,349 520,363 506,355" fill="#696969"/>
<polygon points="44,460 32,458 29,445 40,448" fill="#858585" stroke="#636363" stroke-width="1.4"/>
<polygon points="572,508 557,504 554,487 568,490" fill="#717171" stroke="#4f4f4f" stroke-width="1.4"/>
<polygon points="713,95 699,102 687,89 704,79" fill="#878787" stroke="#656565" stroke-width="1.4"/>
<polygon points="700,91 713,95 699,102" fill="#949494"/>
<polygon points="700,91 687,89 704,79" fill="#7c7c7c"/>
<polygon points="130,416 94,399 104,355 147,376" fill="#838383" stroke="#616161" stroke-width="1.4"/>
<polygon points="431,395 419,380 432,368 445,384" fill="#838383" stroke="#616161" stroke-width="1.4"/>
<polygon points="432,382 432,368 445,384" fill="#9b9b9b"/>
<polygon points="432,382 431,395 419,380" fill="#7c7c7c"/>
<polygon points="321,522 287,499 309,468 343,494" fill="#7d7d7d" stroke="#5b5b5b" stroke-width="1.4"/>
<polygon points="79,456 41,461 34,419 70,420" fill="#7d7d7d" stroke="#5b5b5b" stroke-width="1.4"/>
<polygon points="55,440 70,420 79,456" fill="#939393"/>
<polygon points="55,440 41,461 34,419" fill="#747474"/>
<polygon points="92,316 106,293 129,301 114,326" fill="#878787" stroke="#656565" stroke-width="1.4"/>
<polygon points="439,326 420,334 411,317 430,310" fill="#797979" stroke="#575757" stroke-width="1.4"/>
<polygon points="425,322 439,326 420,334" fill="#898989"/>
<polygon points="425,322 411,317 430,310" fill="#737373"/>
<polygon points="696,221 654,210 659,170 702,180" fill="#6d6d6d" stroke="#4b4b4b" stroke-width="1.4"/>
<polygon points="678,195 659,170 702,180" fill="#808080"/>
<polygon points="678,195 696,221 654,210" fill="#5f5f5f"/>
<polygon points="159,459 143,454 146,436 165,439" fill="#808080" stroke="#5e5e5e" stroke-width="1.4"/>
<polygon points="653,168 637,132 666,102 686,138" fill="#848484" stroke="#626262" stroke-width="1.4"/>
<polygon points="661,136 686,138 653,168" fill="#9a9a9a"/>
<polygon points="661,136 637,132 666,102" fill="#767676"/>
<polygon points="565,335 559,320 570,312 578,325" fill="#858585" stroke="#636363" stroke-width="1.4"/>
<polygon points="568,324 578,325 565,335" fill="#959595"/>
<polygon points="568,324 559,320 570,312" fill="#7b7b7b"/>
<polygon points="411,228 383,240 366,214 395,206" fill="#7d7d7d" stroke="#5b5b5b" stroke-width="1.4"/>
<polygon points="552,239 514,241 505,211 545,207" fill="#828282" stroke="#606060" stroke-width="1.4"/>
<polygon points="529,224 552,239 514,241" fill="#8f8f8f"/>
<polygon points="529,224 505,211 545,207" fill="#797979"/>
<polygon points="672,502 664,487 677,480 685,494" fill="#7c7c7c" stroke="#5a5a5a" stroke-width="1.4"/>
<polygon points="674,491 672,502 664,487" fill="#898989"/>
<polygon points="674,491 677,480 685,494" fill="#717171"/>
<polygon points="438,376 428,360 445,348 456,365" fill="#7b7b7b" stroke="#595959" stroke-width="1.4"/>
<polygon points="132,95 110,98 106,74 129,72" fill="#8e8e8e" stroke="#6c6c6c" stroke-width="1.4"/>
<polygon points="119,85 129,72 132,95" fill="#a1a1a1"/>
<polygon points="119,85 110,98 106,74" fill="#888888"/>
<polygon points="641,174 606,153 625,115 664,135" fill="#7a7a7a" stroke="#585858" stroke-width="1.4"/>
<polygon points="635,144 606,153 625,115" fill="#8e8e8e"/>
<polygon points="635,144 664,135 641,174" fill="#6f6f6f"/>
<polygon points="151,422 153,393 182,392 182,424" fill="#8c8c8c" stroke="#6a6a6a" stroke-width="1.4"/>
<polygon points="168,409 151,422 153,393" fill="#999999"/>
<polygon points="168,409 182,392 182,424" fill="#7c7c7c"/>
<polygon points="673,402 632,384 647,347 686,365" fill="#7b7b7b" stroke="#595959" stroke-width="1.4"/>
<polygon points="659,375 673,402 632,384" fill="#8e8e8e"/>
<polygon points="659,375 647,347 686,365" fill="#717171"/>
<polygon points="52,231 22,220 33,190 62,199" fill="#898989" stroke="#676767" stroke-width="1.4"/>
<polygon points="42,210 62,199 52,231" fill="#a3a3a3"/>
<polygon points="42,210 22,220 33,190" fill="#7a7a7a"/>
<polygon points="341,429 307,444 291,415 325,402" fill="#6e6e6e" stroke="#4c4c4c" stroke-width="1.4"/>
<polygon points="316,423 341,429 307,444" fill="#808080"/>
<polygon points="316,423 291,415 325,402" fill="#656565"/>
<polygon points="260,151 270,113 301,110 294,148" fill="#727272" stroke="#505050" stroke-width="1.4"/>
<polygon points="281,131 301,110 294,148" fill="#7f7f7f"/>
<polygon points="281,131 260,151 270,113" fill="#656565"/>
<polygon points="659,499 626,515 601,491 632,469" fill="#7d7d7d" stroke="#5b5b5b" stroke-width="1.4"/>
<polygon points="630,492 659,499 626,515" fill="#939393"/>
<polygon points="630,492 601,491 632,469" fill="#6d6d6d"/>
<polygon points="580,75 565,64 577,49 589,61" fill="#808080" stroke="#5e5e5e" stroke-width="1.4"/>
<polygon points="137,82 162,55 199,64 173,93" fill="#7f7f7f" stroke="#5d5d5d" stroke-width="1.4"/>
<polygon points="168,74 162,55 199,64" fill="#939393"/>
<polygon points="168,74 173,93 137,82" fill="#737373"/>
<polygon points="705,423 681,431 672,408 697,399" fill="#787878" stroke="#565656" stroke-width="1.4"/>
<polygon points="689,415 681,431 672,408" fill="#8f8f8f"/>
<polygon points="689,415 697,399 705,423" fill="#6c6c6c"/>
<polygon points="185,115 166,89 182,59 202,86" fill="#747474" stroke="#525252" stroke-width="1.4"/>
<polygon points="184,87 202,86 185,115" fill="#848484"/>
<polygon points="184,87 166,89 182,59" fill="#676767"/>
<polygon points="194,214 180,208 185,193 199,199" fill="#797979" stroke="#575757" stroke-width="1.4"/>
<polygon points="189,203 199,199 194,214" fill="#939393"/>
<polygon points="189,203 180,208 185,193" fill="#6b6b6b"/>
<polygon points="278,409 238,422 222,384 259,368" fill="#747474" stroke="#525252" stroke-width="1.4"/>
<polygon points="250,395 278,409 238,422" fill="#868686"/>
<polygon points="250,395 222,384 259,368" fill="#666666"/>
<polygon points="45,120 38,109 47,99 55,112" fill="#7f7f7f" stroke="#5d5d5d" stroke-width="1.4"/>
<polygon points="47,110 45,120 38,109" fill="#909090"/>
<polygon points="47,110 47,99 55,112" fill="#737373"/>
<polygon points="238,176 246,141 282,137 269,172" fill="#7e7e7e" stroke="#5c5c5c" stroke-width="1.4"/>
<polygon points="259,156 269,172 238,176" fill="#8b8b8b"/>
<polygon points="259,156 246,141 282,137" fill="#767676"/>
<polygon points="487,201 459,222 433,195 464,171" fill="#717171" stroke="#4f4f4f" stroke-width="1.4"/>
<polygon points="460,196 487,201 459,222" fill="#828282"/>
<polygon points="460,196 433,195 464,171" fill="#666666"/>
<polygon points="370,444 349,438 349,418 368,422" fill="#787878" stroke="#565656" stroke-width="1.4"/>
<polygon points="282,312 292,300 306,309 294,320" fill="#777777" stroke="#555555" stroke-width="1.4"/>
<polygon points="294,310 292,300 306,309" fill="#868686"/>
<polygon points="294,310 294,320 282,312" fill="#6f6f6f"/>
<polygon points="667,205 647,209 635,190 657,186" fill="#767676" stroke="#545454" stroke-width="1.4"/>
<polygon points="48,298 33,271 46,249 66,273" fill="#727272" stroke="#505050" stroke-width="1.4"/>
<polygon points="49,274 33,271 46,249" fill="#878787"/>
<polygon points="49,274 66,273 48,298" fill="#6c6c6c"/>
<polygon points="228,485 206,482 205,461 227,464" fill="#6b6b6b" stroke="#494949" stroke-width="1.4"/>
<polygon points="256,362 223,375 195,350 229,338" fill="#8d8d8d" stroke="#6b6b6b" stroke-width="1.4"/>
<polygon points="225,356 256,362 223,375" fill="#9f9f9f"/>
<polygon points="225,356 195,350 229,338" fill="#808080"/>
<polygon points="94,336 114,309 153,318 134,345" fill="#868686" stroke="#646464" stroke-width="1.4"/>
<polygon points="124,328 153,318 134,345" fill="#9d9d9d"/>
<polygon points="124,328 94,336 114,309" fill="#7d7d7d"/>
<polygon points="21,413 15,370 48,351 61,390" fill="#8e8e8e" stroke="#6c6c6c" stroke-width="1.4"/>
<polygon points="37,383 61,390 21,413" fill="#a2a2a2"/>
<polygon points="37,383 15,370 48,351" fill="#838383"/>
<polygon points="601,137 565,134 555,98 587,103" fill="#7a7a7a" stroke="#585858" stroke-width="1.4"/>
<polygon points="708,401 671,403 652,367 695,360" fill="#8b8b8b" stroke="#696969" stroke-width="1.4"/>
<polygon points="682,381 652,367 695,360" fill="#989898"/>
<polygon points="682,381 708,401 671,403" fill="#828282"/>
<polygon points="561,382 544,355 560,330 578,355" fill="#848484" stroke="#626262" stroke-width="1.4"/>
<polygon points="561,356 578,355 561,382" fill="#999999"/>
<polygon points="561,356 544,355 560,330" fill="#757575"/>
<polygon points="347,328 345,307 363,302 367,325" fill="#6d6d6d" stroke="#4b4b4b" stroke-width="1.4"/>
<polygon points="356,316 367,325 347,328" fill="#858585"/>
<polygon points="356,316 345,307 363,302" fill="#616161"/>
<polygon points="521,188 537,160 564,175 549,199" fill="#7e7e7e" stroke="#5c5c5c" stroke-width="1.4"/>
<polygon points="542,180 537,160 564,175" fill="#949494"/>
<polygon points="542,180 549,199 521,188" fill="#757575"/>
<polygon points="370,303 356,282 372,265 385,282" fill="#858585" stroke="#636363" stroke-width="1.4"/>
<polygon points="546,247 531,219 558,200 573,231" fill="#777777" stroke="#555555" stroke-width="1.4"/>
<polygon points="553,224 558,200 573,231" fill="#868686"/>
<polygon points="553,224 546,247 531,219" fill="#6e6e6e"/>
<polygon points="38,96 40,76 62,77 59,95" fill="#8a8a8a" stroke="#686868" stroke-width="1.4"/>
<polygon points="49,85 59,95 38,96" fill="#9a9a9a"/>
<polygon points="49,85 40,76 62,77" fill="#7b7b7b"/>
<polygon points="158,161 131,158 118,128 149,131" fill="#7f7f7f" stroke="#5d5d5d" stroke-width="1.4"/>
<polygon points="138,144 131,158 118,128" fill="#959595"/>
<polygon points="138,144 149,131 158,161" fill="#777777"/>
<polygon points="376,301 366,267 400,252 416,287" fill="#707070" stroke="#4e4e4e" stroke-width="1.4"/>
<polygon points="487,334 516,301 552,317 521,346" fill="#777777" stroke="#555555" stroke-width="1.4"/>
<polygon points="519,324 521,346 487,334" fill="#848484"/>
<polygon points="519,324 516,301 552,317" fill="#686868"/>
<polygon points="418,245 439,211 479,226 455,261" fill="#767676" stroke="#545454" stroke-width="1.4"/>
<polygon points="449,236 439,211 479,226" fill="#898989"/>
<polygon points="449,236 455,261 418,245" fill="#6e6e6e"/>
<polygon points="186,121 150,114 148,77 184,89" fill="#868686" stroke="#646464" stroke-width="1.4"/>
<polygon points="166,99 150,114 148,77" fill="#969696"/>
<polygon points="166,99 184,89 186,121" fill="#7b7b7b"/>
<polygon points="388,122 352,113 352,73 389,88" fill="#707070" stroke="#4e4e4e" stroke-width="1.4"/>
<polygon points="369,99 388,122 352,113" fill="#888888"/>
<polygon points="369,99 352,73 389,88" fill="#616161"/>
<polygon points="59,508 34,476 57,442 82,472" fill="#646464" stroke="#424242" stroke-width="1.4"/>
<polygon points="377,212 388,191 411,201 402,223" fill="#7b7b7b" stroke="#595959" stroke-width="1.4"/>
<polygon points="394,207 377,212 388,191" fill="#8f8f8f"/>
<polygon points="394,207 411,201 402,223" fill="#6d6d6d"/>
<polygon points="107,285 102,264 120,259 123,278" fill="#7d7d7d" stroke="#5b5b5b" stroke-width="1.4"/>
<polygon points="113,271 123,278 107,285" fill="#969696"/>
<polygon points="113,271 102,264 120,259" fill="#707070"/>
<polygon points="506,347 512,321 540,321 536,347" fill="#838383" stroke="#616161" stroke-width="1.4"/>
<polygon points="456,265 429,227 458,198 493,235" fill="#737373" stroke="#515151" stroke-width="1.4"/>
<polygon points="678,492 641,505 619,474 659,456" fill="#7c7c7c" stroke="#5a5a5a" stroke-width="1.4"/>
<polygon points="89,333 99,319 116,319 107,336" fill="#8b8b8b" stroke="#696969" stroke-width="1.4"/>
<polygon points="103,328 89,333 99,319" fill="#9b9b9b"/>
<polygon points="103,328 116,319 107,336" fill="#848484"/>
<polygon points="576,104 573,89 584,79 589,96" fill="#6b6b6b" stroke="#494949" stroke-width="1.4"/>
<polygon points="581,92 589,96 576,104" fill="#7a7a7a"/>
<polygon points="581,92 573,89 584,79" fill="#656565"/>
<polygon points="132,152 109,135 121,108 144,127" fill="#888888" stroke="#666666" stroke-width="1.4"/>
<polygon points="126,130 109,135 121,108" fill="#a2a2a2"/>
<polygon points="126,130 144,127 132,152" fill="#7a7a7a"/>
<polygon points="103,317 83,269 127,254 141,301" fill="#7c7c7c" stroke="#5a5a5a" stroke-width="1.4"/>
<polygon points="717,329 691,339 672,317 700,307" fill="#7d7d7d" stroke="#5b5b5b" stroke-width="1.4"/>
<polygon points="695,323 691,339 672,317" fill="#969696"/>
<polygon points="695,323 700,307 717,329" fill="#757575"/>
<polygon points="191,352 171,361 160,347 180,337" fill="#797979" stroke="#575757" stroke-width="1.4"/>
<polygon points="386,342 357,336 357,302 389,307" fill="#7e7e7e" stroke="#5c5c5c" stroke-width="1.4"/>
<polygon points="373,321 386,342 357,336" fill="#979797"/>
<polygon points="373,321 357,302 389,307" fill="#747474"/>
<polygon points="525,380 500,403 473,382 501,358" fill="#7e7e7e" stroke="#5c5c5c" stroke-width="1.4"/>
<polygon points="86,435 108,417 126,437 107,453" fill="#767676" stroke="#545454" stroke-width="1.4"/>
<polygon points="106,435 86,435 108,417" fill="#8f8f8f"/>
<polygon points="106,435 126,437 107,453" fill="#6d6d6d"/>
<polygon points="90,362 45,373 34,328 74,317" fill="#7e7e7e" stroke="#5c5c5c" stroke-width="1.4"/>
<polygon points="61,346 90,362 45,373" fill="#8f8f8f"/>
<polygon points="61,346 34,328 74,317" fill="#6f6f6f"/>
<polygon points="200,272 221,255 244,269 225,287" fill="#888888" stroke="#666666" stroke-width="1.4"/>
<polygon points="222,271 200,272 221,255" fill="#a1a1a1"/>
<polygon points="222,271 244,269 225,287" fill="#828282"/>
<polygon points="348,138 313,138 291,103 328,101" fill="#717171" stroke="#4f4f4f" stroke-width="1.4"/>
<polygon points="321,119 348,138 313,138" fill="#858585"/>
<polygon points="321,119 291,103 328,101" fill="#646464"/>
<polygon points="514,388 518,365 542,365 539,386" fill="#808080" stroke="#5e5e5e" stroke-width="1.4"/>
<polygon points="487,313 479,288 504,276 507,303" fill="#7f7f7f" stroke="#5d5d5d" stroke-width="1.4"/>
<polygon points="494,294 507,303 487,313" fill="#939393"/>
<polygon points="494,294 479,288 504,276" fill="#767676"/>
<polygon points="86,260 50,268 37,236 71,229" fill="#818181" stroke="#5f5f5f" stroke-width="1.4"/>
<polygon points="61,249 50,268 37,236" fill="#989898"/>
<polygon points="61,249 71,229 86,260" fill="#777777"/>
<polygon points="591,324 608,296 635,313 620,339" fill="#8b8b8b" stroke="#696969" stroke-width="1.4"/>
<polygon points="377,272 343,246 356,213 387,233" fill="#7d7d7d" stroke="#5b5b5b" stroke-width="1.4"/>
<polygon points="366,243 356,213 387,233" fill="#979797"/>
<polygon points="366,243 377,272 343,246" fill="#717171"/>
<polygon points="89,119 51,133 40,102 74,89" fill="#767676" stroke="#545454" stroke-width="1.4"/>
<polygon points="64,112 40,102 74,89" fill="#848484"/>
<polygon points="64,112 89,119 51,133" fill="#6d6d6d"/>
<polygon points="267,410 267,374 302,364 300,394" fill="#666666" stroke="#444444" stroke-width="1.4"/>
<polygon points="282,385 300,394 267,410" fill="#747474"/>
<polygon points="282,385 267,374 302,364" fill="#575757"/>
<polygon points="698,466 679,449 693,426 712,443" fill="#818181" stroke="#5f5f5f" stroke-width="1.4"/>
<polygon points="696,446 679,449 693,426" fill="#979797"/>
<polygon points="696,446 712,443 698,466" fill="#717171"/>
<polygon points="215,388 176,380 181,340 219,344" fill="#727272" stroke="#505050" stroke-width="1.4"/>
<polygon points="199,363 219,344 215,388" fill="#828282"/>
<polygon points="199,363 176,380 181,340" fill="#696969"/>
<polygon points="651,124 634,116 644,96 660,109" fill="#939393" stroke="#717171" stroke-width="1.4"/>
<polygon points="346,363 340,329 373,318 383,353" fill="#646464" stroke="#424242" stroke-width="1.4"/>
<polygon points="297,277 260,296 236,264 275,246" fill="#7f7f7f" stroke="#5d5d5d" stroke-width="1.4"/>
<polygon points="266,270 236,264 275,246" fill="#8d8d8d"/>
<polygon points="266,270 297,277 260,296" fill="#717171"/>
<polygon points="490,339 472,327 475,302 499,316" fill="#797979" stroke="#575757" stroke-width="1.4"/>
<polygon points="179,433 158,430 148,409 172,410" fill="#717171" stroke="#4f4f4f" stroke-width="1.4"/>
<polygon points="165,420 148,409 172,410" fill="#838383"/>
<polygon points="165,420 179,433 158,430" fill="#696969"/>
<polygon points="438,157 409,140 428,107 452,126" fill="#7c7c7c" stroke="#5a5a5a" stroke-width="1.4"/>
<polygon points="615,267 602,273 595,259 609,255" fill="#747474" stroke="#525252" stroke-width="1.4"/>
<polygon points="605,263 602,273 595,259" fill="#858585"/>
<polygon points="605,263 609,255 615,267" fill="#676767"/>
<polygon points="637,202 621,204 619,189 635,188" fill="#6e6e6e" stroke="#4c4c4c" stroke-width="1.4"/>
<polygon points="628,196 621,204 619,189" fill="#7f7f7f"/>
<polygon points="628,196 635,188 637,202" fill="#616161"/>
<polygon points="526,370 503,353 520,326 543,344" fill="#727272" stroke="#505050" stroke-width="1.4"/>
<polygon points="393,253 369,237 385,211 406,230" fill="#787878" stroke="#565656" stroke-width="1.4"/>
<polygon points="387,232 393,253 369,237" fill="#8f8f8f"/>
<polygon points="387,232 385,211 406,230" fill="#6d6d6d"/>
<polygon points="604,418 624,403 649,418 629,430" fill="#818181" stroke="#5f5f5f" stroke-width="1.4"/>
<polygon points="627,417 649,418 629,430" fill="#949494"/>
<polygon points="627,417 604,418 624,403" fill="#737373"/>
<polygon points="587,263 592,236 622,241 611,268" fill="#868686" stroke="#646464" stroke-width="1.4"/>
<polygon points="256,105 261,89 275,90 272,106" fill="#7c7c7c" stroke="#5a5a5a" stroke-width="1.4"/>
<polygon points="266,98 261,89 275,90" fill="#8d8d8d"/>
<polygon points="266,98 272,106 256,105" fill="#6e6e6e"/>
<polygon points="351,234 325,250 301,225 328,206" fill="#7a7a7a" stroke="#585858" stroke-width="1.4"/>
<polygon points="326,228 328,206 351,234" fill="#8b8b8b"/>
<polygon points="326,228 325,250 301,225" fill="#707070"/>
<polygon points="669,396 633,379 640,334 677,349" fill="#777777" stroke="#555555" stroke-width="1.4"/>
<polygon points="655,365 677,349 669,396" fill="#878787"/>
<polygon points="655,365 633,379 640,334" fill="#686868"/>
<polygon points="292,504 264,491 267,463 299,475" fill="#898989" stroke="#676767" stroke-width="1.4"/>
<polygon points="450,354 456,334 478,334 473,356" fill="#757575" stroke="#535353" stroke-width="1.4"/>
<polygon points="465,345 450,354 456,334" fill="#868686"/>
<polygon points="465,345 478,334 473,356" fill="#656565"/>
<polygon points="643,376 630,354 640,335 655,355" fill="#8a8a8a" stroke="#686868" stroke-width="1.4"/>
<polygon points="643,355 640,335 655,355" fill="#9c9c9c"/>
<polygon points="643,355 643,376 630,354" fill="#7e7e7e"/>
<polygon points="254,357 233,369 214,358 236,344" fill="#6f6f6f" stroke="#4d4d4d" stroke-width="1.4"/>
<polygon points="234,357 254,357 233,369" fill="#828282"/>
<polygon points="234,357 214,358 236,344" fill="#626262"/>
<polygon points="362,381 354,368 364,358 374,369" fill="#797979" stroke="#575757" stroke-width="1.4"/>
<polygon points="364,369 362,381 354,368" fill="#8f8f8f"/>
<polygon points="364,369 364,358 374,369" fill="#707070"/>
<polygon points="694,274 697,254 714,254 714,271" fill="#838383" stroke="#616161" stroke-width="1.4"/>
<polygon points="704,264 694,274 697,254" fill="#969696"/>
<polygon points="704,264 714,254 714,271" fill="#797979"/>
<polygon points="359,276 355,259 375,252 379,272" fill="#7b7b7b" stroke="#595959" stroke-width="1.4"/>
<polygon points="368,265 379,272 359,276" fill="#8b8b8b"/>
<polygon points="368,265 355,259 375,252" fill="#757575"/>
<polygon points="502,150 486,123 512,102 529,126" fill="#7a7a7a" stroke="#585858" stroke-width="1.4"/>
<polygon points="507,126 529,126 502,150" fill="#898989"/>
<polygon points="507,126 486,123 512,102" fill="#737373"/>
<polygon points="215,437 183,443 160,417 196,408" fill="#828282" stroke="#606060" stroke-width="1.4"/>
<polygon points="188,425 196,408 215,437" fill="#929292"/>
<polygon points="188,425 183,443 160,417" fill="#787878"/>
<polygon points="153,402 153,371 186,357 184,389" fill="#6d6d6d" stroke="#4b4b4b" stroke-width="1.4"/>
<polygon points="169,379 153,402 153,371" fill="#848484"/>
<polygon points="169,379 186,357 184,389" fill="#606060"/>
<polygon points="607,284 585,295 573,278 591,266" fill="#747474" stroke="#525252" stroke-width="1.4"/>
<polygon points="590,281 573,278 591,266" fill="#8e8e8e"/>
<polygon points="590,281 607,284 585,295" fill="#6a6a6a"/>
<polygon points="144,295 121,283 130,254 159,269" fill="#6f6f6f" stroke="#4d4d4d" stroke-width="1.4"/>
<polygon points="139,274 121,283 130,254" fill="#808080"/>
<polygon points="139,274 159,269 144,295" fill="#606060"/>
<polygon points="392,242 351,229 362,183 402,200" fill="#767676" stroke="#545454" stroke-width="1.4"/>
<polygon points="376,213 351,229 362,183" fill="#8b8b8b"/>
<polygon points="376,213 402,200 392,242" fill="#6d6d6d"/>
<polygon points="291,94 296,69 319,67 316,89" fill="#828282" stroke="#606060" stroke-width="1.4"/>
<polygon points="305,81 316,89 291,94" fill="#919191"/>
<polygon points="305,81 296,69 319,67" fill="#7a7a7a"/>
<polygon points="401,293 361,310 347,277 384,259" fill="#808080" stroke="#5e5e5e" stroke-width="1.4"/>
<polygon points="374,285 347,277 384,259" fill="#989898"/>
<polygon points="374,285 401,293 361,310" fill="#757575"/>
<polygon points="533,335 507,319 516,285 539,305" fill="#7b7b7b" stroke="#595959" stroke-width="1.4"/>
<polygon points="523,311 539,305 533,335" fill="#8a8a8a"/>
<polygon points="523,311 507,319 516,285" fill="#757575"/>
<polygon points="392,325 394,296 421,290 421,318" fill="#747474" stroke="#525252" stroke-width="1.4"/>
<polygon points="407,308 392,325 394,296" fill="#8a8a8a"/>
<polygon points="407,308 421,290 421,318" fill="#686868"/>
<polygon points="538,298 510,280 524,252 556,269" fill="#7f7f7f" stroke="#5d5d5d" stroke-width="1.4"/>
<polygon points="681,178 639,176 639,140 675,142" fill="#797979" stroke="#575757" stroke-width="1.4"/>
<polygon points="264,318 232,317 219,286 251,288" fill="#898989" stroke="#676767" stroke-width="1.4"/>
<polygon points="241,302 219,286 251,288" fill="#9e9e9e"/>
<polygon points="241,302 264,318 232,317" fill="#818181"/>
<polygon points="309,167 313,146 333,143 330,164" fill="#888888" stroke="#666666" stroke-width="1.4"/>
<polygon points="321,155 330,164 309,167" fill="#969696"/>
<polygon points="321,155 313,146 333,143" fill="#797979"/>
<polygon points="388,369 396,335 429,333 420,366" fill="#7d7d7d" stroke="#5b5b5b" stroke-width="1.4"/>
<polygon points="408,350 396,335 429,333" fill="#8f8f8f"/>
<polygon points="408,350 420,366 388,369" fill="#757575"/>
<polygon points="191,393 186,381 199,373 202,385" fill="#7a7a7a" stroke="#585858" stroke-width="1.4"/>
<polygon points="194,383 199,373 202,385" fill="#939393"/>
<polygon points="194,383 191,393 186,381" fill="#6f6f6f"/>
<polygon points="294,158 298,142 312,144 310,159" fill="#747474" stroke="#525252" stroke-width="1.4"/>
<polygon points="303,151 310,159 294,158" fill="#898989"/>
<polygon points="303,151 298,142 312,144" fill="#696969"/>
<polygon points="276,387 272,369 288,359 294,377" fill="#878787" stroke="#656565" stroke-width="1.4"/>
<polygon points="283,374 272,369 288,359" fill="#9b9b9b"/>
<polygon points="283,374 294,377 276,387" fill="#7d7d7d"/>
<polygon points="332,70 338,57 351,58 345,72" fill="#898989" stroke="#676767" stroke-width="1.4"/>
<polygon points="342,64 351,58 345,72" fill="#989898"/>
<polygon points="342,64 332,70 338,57" fill="#818181"/>
<polygon points="400,407 408,394 421,402 413,412" fill="#818181" stroke="#5f5f5f" stroke-width="1.4"/>
<polygon points="410,403 400,407 408,394" fill="#989898"/>
<polygon points="410,403 421,402 413,412" fill="#717171"/>
<polygon points="146,268 112,254 110,219 146,230" fill="#727272" stroke="#505050" stroke-width="1.4"/>
<polygon points="129,243 110,219 146,230" fill="#818181"/>
<polygon points="129,243 146,268 112,254" fill="#656565"/>
<polygon points="618,254 611,240 624,229 629,245" fill="#888888" stroke="#666666" stroke-width="1.4"/>
<polygon points="620,241 624,229 629,245" fill="#9c9c9c"/>
<polygon points="620,241 618,254 611,240" fill="#7b7b7b"/>
<polygon points="671,492 672,480 685,475 684,487" fill="#858585" stroke="#636363" stroke-width="1.4"/>
<polygon points="376,478 355,472 358,449 380,454" fill="#777777" stroke="#555555" stroke-width="1.4"/>
<polygon points="368,463 355,472 358,449" fill="#8c8c8c"/>
<polygon points="368,463 380,454 376,478" fill="#707070"/>
<polygon points="633,243 656,223 681,238 657,259" fill="#7e7e7e" stroke="#5c5c5c" stroke-width="1.4"/>
<polygon points="657,241 633,243 656,223" fill="#909090"/>
<polygon points="657,241 681,238 657,259" fill="#727272"/>
<polygon points="503,149 482,143 485,118 505,126" fill="#909090" stroke="#6e6e6e" stroke-width="1.4"/>
<polygon points="493,134 482,143 485,118" fill="#a9a9a9"/>
<polygon points="493,134 505,126 503,149" fill="#888888"/>
<polygon points="73,311 52,298 60,277 79,289" fill="#7b7b7b" stroke="#595959" stroke-width="1.4"/>
<polygon points="661,177 639,180 633,157 656,155" fill="#787878" stroke="#565656" stroke-width="1.4"/>
<polygon points="647,167 661,177 639,180" fill="#868686"/>
<polygon points="647,167 633,157 656,155" fill="#6f6f6f"/>
<polygon points="207,303 201,271 235,257 241,285" fill="#737373" stroke="#515151" stroke-width="1.4"/>
<polygon points="221,280 241,285 207,303" fill="#898989"/>
<polygon points="221,280 201,271 235,257" fill="#636363"/>
<polygon points="289,509 249,502 253,457 292,465" fill="#828282" stroke="#606060" stroke-width="1.4"/>
<polygon points="271,484 292,465 289,509" fill="#919191"/>
<polygon points="271,484 249,502 253,457" fill="#787878"/>
<polygon points="421,184 429,169 446,170 437,184" fill="#787878" stroke="#565656" stroke-width="1.4"/>
<polygon points="433,176 446,170 437,184" fill="#929292"/>
<polygon points="433,176 421,184 429,169" fill="#6f6f6f"/>
<polygon points="646,257 657,234 681,243 668,267" fill="#787878" stroke="#565656" stroke-width="1.4"/>
<polygon points="664,250 681,243 668,267" fill="#919191"/>
<polygon points="664,250 646,257 657,234" fill="#696969"/>
<polygon points="599,325 581,290 617,269 636,303" fill="#747474" stroke="#525252" stroke-width="1.4"/>
<polygon points="608,297 636,303 599,325" fill="#838383"/>
<polygon points="608,297 581,290 617,269" fill="#666666"/>
<polygon points="656,426 683,396 720,416 689,444" fill="#727272" stroke="#505050" stroke-width="1.4"/>
<polygon points="703,213 691,206 697,193 709,199" fill="#797979" stroke="#575757" stroke-width="1.4"/>
<polygon points="700,203 709,199 703,213" fill="#929292"/>
<polygon points="700,203 691,206 697,193" fill="#696969"/>
<polygon points="398,224 396,191 429,183 431,219" fill="#777777" stroke="#555555" stroke-width="1.4"/>
<polygon points="156,195 137,184 142,163 161,174" fill="#737373" stroke="#515151" stroke-width="1.4"/>
<polygon points="594,306 568,295 572,268 594,279" fill="#7c7c7c" stroke="#5a5a5a" stroke-width="1.4"/>
<polygon points="581,288 594,279 594,306" fill="#8d8d8d"/>
<polygon points="581,288 568,295 572,268" fill="#767676"/>
<polygon points="649,199 667,167 695,179 679,211" fill="#808080" stroke="#5e5e5e" stroke-width="1.4"/>
<polygon points="672,189 679,211 649,199" fill="#8d8d8d"/>
<polygon points="672,189 667,167 695,179" fill="#777777"/>
<polygon points="666,93 643,79 653,55 676,69" fill="#818181" stroke="#5f5f5f" stroke-width="1.4"/>
<polygon points="660,74 643,79 653,55" fill="#999999"/>
<polygon points="660,74 676,69 666,93" fill="#7a7a7a"/>
<polygon points="224,476 200,458 204,432 229,449" fill="#616161" stroke="#3f3f3f" stroke-width="1.4"/>
<polygon points="215,454 224,476 200,458" fill="#717171"/>
<polygon points="215,454 204,432 229,449" fill="#5b5b5b"/>
<polygon points="430,235 410,210 427,178 448,204" fill="#828282" stroke="#606060" stroke-width="1.4"/>
<polygon points="429,206 448,204 430,235" fill="#9a9a9a"/>
<polygon points="429,206 410,210 427,178" fill="#747474"/>
<polygon points="182,466 177,444 202,435 207,461" fill="#808080" stroke="#5e5e5e" stroke-width="1.4"/>
<polygon points="192,451 177,444 202,435" fill="#929292"/>
<polygon points="192,451 207,461 182,466" fill="#777777"/>
<polygon points="352,322 348,305 363,300 367,316" fill="#7e7e7e" stroke="#5c5c5c" stroke-width="1.4"/>
<polygon points="357,311 352,322 348,305" fill="#8c8c8c"/>
<polygon points="357,311 363,300 367,316" fill="#707070"/>
<polygon points="399,229 400,200 427,191 429,220" fill="#838383" stroke="#616161" stroke-width="1.4"/>
<polygon points="414,211 400,200 427,191" fill="#999999"/>
<polygon points="414,211 429,220 399,229" fill="#757575"/>
<polygon points="323,453 303,466 284,452 303,440" fill="#888888" stroke="#666666" stroke-width="1.4"/>
<polygon points="304,453 303,466 284,452" fill="#9b9b9b"/>
<polygon points="304,453 303,440 323,453" fill="#7f7f7f"/>
<polygon points="34,334 30,294 75,284 79,330" fill="#727272" stroke="#505050" stroke-width="1.4"/>
<polygon points="304,155 310,140 324,144 317,159" fill="#787878" stroke="#565656" stroke-width="1.4"/>
<polygon points="569,499 558,478 575,462 586,483" fill="#868686" stroke="#646464" stroke-width="1.4"/>
<polygon points="572,480 586,483 569,499" fill="#999999"/>
<polygon points="572,480 558,478 575,462" fill="#7b7b7b"/>
<polygon points="550,114 558,96 581,100 573,119" fill="#9a9a9a" stroke="#787878" stroke-width="1.4"/>
<polygon points="566,107 581,100 573,119" fill="#adadad"/>
<polygon points="566,107 550,114 558,96" fill="#8c8c8c"/>
<polygon points="517,259 489,265 475,244 501,236" fill="#6e6e6e" stroke="#4c4c4c" stroke-width="1.4"/>
<polygon points="496,251 517,259 489,265" fill="#878787"/>
<polygon points="496,251 475,244 501,236" fill="#606060"/>
<polygon points="143,291 155,254 191,256 178,289" fill="#6e6e6e" stroke="#4c4c4c" stroke-width="1.4"/>
<polygon points="166,272 155,254 191,256" fill="#828282"/>
<polygon points="166,272 178,289 143,291" fill="#656565"/>
<polygon points="96,415 66,390 90,359 117,378" fill="#7d7d7d" stroke="#5b5b5b" stroke-width="1.4"/>
<polygon points="649,278 653,244 685,234 679,269" fill="#787878" stroke="#565656" stroke-width="1.4"/>
<polygon points="487,203 450,207 444,168 480,166" fill="#797979" stroke="#575757" stroke-width="1.4"/>
<polygon points="465,186 480,166 487,203" fill="#8b8b8b"/>
<polygon points="465,186 450,207 444,168" fill="#696969"/>
<polygon points="610,141 596,111 613,85 631,111" fill="#797979" stroke="#575757" stroke-width="1.4"/>
<polygon points="613,113 613,85 631,111" fill="#8a8a8a"/>
<polygon points="613,113 610,141 596,111" fill="#707070"/>
<polygon points="69,424 54,409 60,385 77,401" fill="#878787" stroke="#656565" stroke-width="1.4"/>
<polygon points="65,405 77,401 69,424" fill="#9c9c9c"/>
<polygon points="65,405 54,409 60,385" fill="#7f7f7f"/>
<polygon points="485,349 463,317 486,283 512,320" fill="#878787" stroke="#656565" stroke-width="1.4"/>
<polygon points="488,316 512,320 485,349" fill="#9c9c9c"/>
<polygon points="488,316 463,317 486,283" fill="#777777"/>
<polygon points="467,475 434,454 451,420 485,438" fill="#747474" stroke="#525252" stroke-width="1.4"/>
<polygon points="460,447 434,454 451,420" fill="#818181"/>
<polygon points="460,447 485,438 467,475" fill="#6a6a6a"/>
<polygon points="346,516 321,506 333,480 357,494" fill="#797979" stroke="#575757" stroke-width="1.4"/>
<polygon points="339,499 346,516 321,506" fill="#939393"/>
<polygon points="339,499 333,480 357,494" fill="#727272"/>
<polygon points="420,284 401,292 390,273 408,266" fill="#717171" stroke="#4f4f4f" stroke-width="1.4"/>
<polygon points="405,279 401,292 390,273" fill="#858585"/>
<polygon points="405,279 408,266 420,284" fill="#676767"/>
<polygon points="327,269 308,240 330,217 353,246" fill="#868686" stroke="#646464" stroke-width="1.4"/>
<polygon points="330,243 308,240 330,217" fill="#939393"/>
<polygon points="330,243 353,246 327,269" fill="#7a7a7a"/>
<polygon points="374,521 362,492 390,482 398,507" fill="#787878" stroke="#565656" stroke-width="1.4"/>
<polygon points="293,263 275,273 262,258 279,250" fill="#858585" stroke="#636363" stroke-width="1.4"/>
<polygon points="277,262 262,258 279,250" fill="#9e9e9e"/>
<polygon points="277,262 293,263 275,273" fill="#767676"/>
<polygon points="238,112 205,126 182,94 222,78" fill="#7e7e7e" stroke="#5c5c5c" stroke-width="1.4"/>
<polygon points="211,101 205,126 182,94" fill="#909090"/>
<polygon points="211,101 222,78 238,112" fill="#6e6e6e"/>
<polygon points="572,178 542,163 555,127 581,145" fill="#797979" stroke="#575757" stroke-width="1.4"/>
<polygon points="561,153 572,178 542,163" fill="#909090"/>
<polygon points="561,153 555,127 581,145" fill="#6c6c6c"/>
<polygon points="111,497 126,464 168,466 150,504" fill="#828282" stroke="#606060" stroke-width="1.4"/>
<polygon points="374,492 383,457 425,466 415,505" fill="#6f6f6f" stroke="#4d4d4d" stroke-width="1.4"/>
<polygon points="400,480 374,492 383,457" fill="#898989"/>
<polygon points="400,480 425,466 415,505" fill="#656565"/>
<polygon points="301,78 325,56 348,69 327,92" fill="#8e8e8e" stroke="#6c6c6c" stroke-width="1.4"/>
<polygon points="454,367 426,358 430,334 456,342" fill="#717171" stroke="#4f4f4f" stroke-width="1.4"/>
<polygon points="212,135 222,115 240,120 233,139" fill="#6b6b6b" stroke="#494949" stroke-width="1.4"/>
<polygon points="226,128 233,139 212,135" fill="#787878"/>
<polygon points="226,128 222,115 240,120" fill="#5e5e5e"/>
<polygon points="31,484 25,466 40,455 45,471" fill="#747474" stroke="#525252" stroke-width="1.4"/>
<polygon points="35,469 45,471 31,484" fill="#858585"/>
<polygon points="35,469 25,466 40,455" fill="#6b6b6b"/>
<polygon points="369,500 370,486 384,484 382,497" fill="#7e7e7e" stroke="#5c5c5c" stroke-width="1.4"/>
<polygon points="376,492 382,497 369,500" fill="#939393"/>
<polygon points="376,492 370,486 384,484" fill="#707070"/>
<polygon points="62,162 89,139 123,151 99,176" fill="#6e6e6e" stroke="#4c4c4c" stroke-width="1.4"/>
<polygon points="93,158 123,151 99,176" fill="#858585"/>
<polygon points="93,158 62,162 89,139" fill="#616161"/>
<polygon points="493,129 479,108 491,89 504,108" fill="#727272" stroke="#505050" stroke-width="1.4"/>
<polygon points="667,359 653,324 682,306 695,342" fill="#7e7e7e" stroke="#5c5c5c" stroke-width="1.4"/>
<polygon points="674,332 653,324 682,306" fill="#939393"/>
<polygon points="674,332 695,342 667,359" fill="#767676"/>
<polygon points="448,413 417,435 392,407 421,385" fill="#797979" stroke="#575757" stroke-width="1.4"/>
<polygon points="420,410 417,435 392,407" fill="#919191"/>
<polygon points="420,410 421,385 448,413" fill="#737373"/>
<polygon points="161,488 122,484 127,440 165,450" fill="#757575" stroke="#535353" stroke-width="1.4"/>
<polygon points="142,465 122,484 127,440" fill="#848484"/>
<polygon points="142,465 165,450 161,488" fill="#6d6d6d"/>
<polygon points="273,166 274,139 303,132 297,159" fill="#787878" stroke="#565656" stroke-width="1.4"/>
<polygon points="287,148 273,166 274,139" fill="#8d8d8d"/>
<polygon points="287,148 303,132 297,159" fill="#707070"/>
<polygon points="152,116 176,91 196,111 171,134" fill="#6d6d6d" stroke="#4b4b4b" stroke-width="1.4"/>
<polygon points="174,112 176,91 196,111" fill="#878787"/>
<polygon points="174,112 171,134 152,116" fill="#5e5e5e"/>
<polygon points="496,503 482,485 500,469 515,487" fill="#8b8b8b" stroke="#696969" stroke-width="1.4"/>
<polygon points="338,443 340,428 357,426 355,441" fill="#6f6f6f" stroke="#4d4d4d" stroke-width="1.4"/>
<polygon points="347,435 355,441 338,443" fill="#818181"/>
<polygon points="347,435 340,428 357,426" fill="#656565"/>
<polygon points="185,74 167,62 181,42 198,57" fill="#6e6e6e" stroke="#4c4c4c" stroke-width="1.4"/>
<polygon points="439,232 438,206 461,198 464,225" fill="#787878" stroke="#565656" stroke-width="1.4"/>
<polygon points="451,215 461,198 464,225" fill="#868686"/>
<polygon points="451,215 439,232 438,206" fill="#6f6f6f"/>
<polygon points="354,99 363,74 392,77 385,104" fill="#828282" stroke="#606060" stroke-width="1.4"/>
<polygon points="374,89 385,104 354,99" fill="#909090"/>
<polygon points="374,89 363,74 392,77" fill="#797979"/>
<polygon points="108,467 106,449 121,444 126,464" fill="#6f6f6f" stroke="#4d4d4d" stroke-width="1.4"/>
<polygon points="116,456 106,449 121,444" fill="#878787"/>
<polygon points="116,456 126,464 108,467" fill="#666666"/>
<polygon points="514,299 527,275 560,276 547,301" fill="#808080" stroke="#5e5e5e" stroke-width="1.4"/>
<polygon points="537,287 527,275 560,276" fill="#959595"/>
<polygon points="537,287 547,301 514,299" fill="#707070"/>
<polygon points="701,400 668,405 648,376 685,367" fill="#787878" stroke="#565656" stroke-width="1.4"/>
<polygon points="114,291 97,281 106,259 123,272" fill="#6f6f6f" stroke="#4d4d4d" stroke-width="1.4"/>
<polygon points="109,275 106,259 123,272" fill="#838383"/>
<polygon points="109,275 114,291 97,281" fill="#626262"/>
<polygon points="656,390 629,404 606,383 634,374" fill="#777777" stroke="#555555" stroke-width="1.4"/>
<polygon points="631,389 629,404 606,383" fill="#858585"/>
<polygon points="631,389 634,374 656,390" fill="#6b6b6b"/>
<polygon points="361,266 324,276 304,243 341,234" fill="#696969" stroke="#474747" stroke-width="1.4"/>
<polygon points="332,255 361,266 324,276" fill="#7a7a7a"/>
<polygon points="332,255 304,243 341,234" fill="#626262"/>
<polygon points="191,529 156,506 178,469 212,493" fill="#8c8c8c" stroke="#6a6a6a" stroke-width="1.4"/>
<polygon points="667,156 670,116 711,111 702,152" fill="#717171" stroke="#4f4f4f" stroke-width="1.4"/>
<polygon points="172,440 195,417 223,429 202,453" fill="#717171" stroke="#4f4f4f" stroke-width="1.4"/>
<polygon points="132,294 163,265 196,277 166,306" fill="#6a6a6a" stroke="#484848" stroke-width="1.4"/>
<polygon points="164,286 163,265 196,277" fill="#7f7f7f"/>
<polygon points="164,286 166,306 132,294" fill="#5c5c5c"/>
<polygon points="281,414 244,408 239,367 275,371" fill="#7e7e7e" stroke="#5c5c5c" stroke-width="1.4"/>
<polygon points="397,204 390,169 432,153 437,187" fill="#919191" stroke="#6f6f6f" stroke-width="1.4"/>
<polygon points="414,178 390,169 432,153" fill="#9e9e9e"/>
<polygon points="414,178 437,187 397,204" fill="#858585"/>
<polygon points="84,166 69,168 66,153 80,151" fill="#787878" stroke="#565656" stroke-width="1.4"/>
<polygon points="75,159 69,168 66,153" fill="#909090"/>
<polygon points="75,159 80,151 84,166" fill="#6d6d6d"/>
<polygon points="429,332 406,331 406,309 427,311" fill="#999999" stroke="#777777" stroke-width="1.4"/>
<polygon points="417,321 406,309 427,311" fill="#a9a9a9"/>
<polygon points="417,321 429,332 406,331" fill="#929292"/>
<polygon points="660,436 624,441 619,398 657,396" fill="#7a7a7a" stroke="#585858" stroke-width="1.4"/>
<polygon points="451,74 457,56 473,53 467,71" fill="#7a7a7a" stroke="#585858" stroke-width="1.4"/>
<polygon points="462,64 467,71 451,74" fill="#868686"/>
<polygon points="462,64 457,56 473,53" fill="#6a6a6a"/>
<polygon points="412,157 385,128 401,90 429,124" fill="#7e7e7e" stroke="#5c5c5c" stroke-width="1.4"/>
<polygon points="422,123 418,80 462,76 467,113" fill="#797979" stroke="#575757" stroke-width="1.4"/>
<polygon points="441,99 467,113 422,123" fill="#8f8f8f"/>
<polygon points="441,99 418,80 462,76" fill="#6c6c6c"/>
<polygon points="428,487 397,473 404,441 431,452" fill="#7b7b7b" stroke="#595959" stroke-width="1.4"/>
<polygon points="415,464 428,487 397,473" fill="#939393"/>
<polygon points="415,464 404,441 431,452" fill="#6e6e6e"/>
<polygon points="591,369 601,333 637,336 628,372" fill="#7c7c7c" stroke="#5a5a5a" stroke-width="1.4"/>
<polygon points="614,353 628,372 591,369" fill="#909090"/>
<polygon points="614,353 601,333 637,336" fill="#6c6c6c"/>
<polygon points="314,218 306,180 337,164 343,199" fill="#7d7d7d" stroke="#5b5b5b" stroke-width="1.4"/>
<polygon points="324,190 337,164 343,199" fill="#959595"/>
<polygon points="324,190 314,218 306,180" fill="#6e6e6e"/>
<polygon points="96,90 64,71 70,35 104,51" fill="#7b7b7b" stroke="#595959" stroke-width="1.4"/>
<polygon points="522,468 508,469 504,454 519,455" fill="#7a7a7a" stroke="#585858" stroke-width="1.4"/>
<polygon points="513,461 508,469 504,454" fill="#8e8e8e"/>
<polygon points="513,461 519,455 522,468" fill="#6f6f6f"/>
<polygon points="646,392 633,388 633,374 646,376" fill="#878787" stroke="#656565" stroke-width="1.4"/>
<polygon points="640,382 633,388 633,374" fill="#a0a0a0"/>
<polygon points="640,382 646,376 646,392" fill="#7d7d7d"/>
<polygon points="138,136 120,146 109,124 127,116" fill="#6b6b6b" stroke="#494949" stroke-width="1.4"/>
<polygon points="123,131 127,116 138,136" fill="#797979"/>
<polygon points="123,131 120,146 109,124" fill="#5b5b5b"/>
<polygon points="554,93 535,62 569,36 583,68" fill="#757575" stroke="#535353" stroke-width="1.4"/>
<polygon points="459,166 426,179 407,147 443,128" fill="#7e7e7e" stroke="#5c5c5c" stroke-width="1.4"/>
<polygon points="434,154 426,179 407,147" fill="#909090"/>
<polygon points="434,154 443,128 459,166" fill="#767676"/>
<polygon points="613,178 618,160 637,163 630,182" fill="#7f7f7f" stroke="#5d5d5d" stroke-width="1.4"/>
<polygon points="625,170 630,182 613,178" fill="#909090"/>
<polygon points="625,170 618,160 637,163" fill="#787878"/>
<polygon points="702,314 678,332 659,307 682,291" fill="#7c7c7c" stroke="#5a5a5a" stroke-width="1.4"/>
<polygon points="680,311 659,307 682,291" fill="#929292"/>
<polygon points="680,311 702,314 678,332" fill="#747474"/>
<polygon points="129,303 109,286 121,265 138,283" fill="#8d8d8d" stroke="#6b6b6b" stroke-width="1.4"/>
<polygon points="123,284 129,303 109,286" fill="#9b9b9b"/>
<polygon points="123,284 121,265 138,283" fill="#7d7d7d"/>
<polygon points="398,274 378,266 385,244 407,252" fill="#6c6c6c" stroke="#4a4a4a" stroke-width="1.4"/>
<polygon points="392,259 407,252 398,274" fill="#838383"/>
<polygon points="392,259 378,266 385,244" fill="#636363"/>
<polygon points="93,461 88,449 102,443 106,456" fill="#868686" stroke="#646464" stroke-width="1.4"/>
<polygon points="97,452 93,461 88,449" fill="#9b9b9b"/>
<polygon points="97,452 102,443 106,456" fill="#767676"/>
<polygon points="543,504 517,498 520,476 545,478" fill="#868686" stroke="#646464" stroke-width="1.4"/>
<polygon points="532,490 517,498 520,476" fill="#969696"/>
<polygon points="532,490 545,478 543,504" fill="#7c7c7c"/>
<polygon points="378,437 394,398 433,401 415,441" fill="#696969" stroke="#474747" stroke-width="1.4"/>
<polygon points="405,419 415,441 378,437" fill="#7c7c7c"/>
<polygon points="405,419 394,398 433,401" fill="#636363"/>
<polygon points="93,336 58,322 60,286 93,303" fill="#7c7c7c" stroke="#5a5a5a" stroke-width="1.4"/>
<polygon points="75,312 93,336 58,322" fill="#8f8f8f"/>
<polygon points="75,312 60,286 93,303" fill="#6e6e6e"/>
<polygon points="627,431 587,428 583,387 622,395" fill="#6f6f6f" stroke="#4d4d4d" stroke-width="1.4"/>
<polygon points="70,452 94,414 128,439 109,471" fill="#757575" stroke="#535353" stroke-width="1.4"/>
<polygon points="99,443 128,439 109,471" fill="#848484"/>
<polygon points="99,443 70,452 94,414" fill="#6b6b6b"/>
<polygon points="262,409 274,394 293,401 280,415" fill="#898989" stroke="#676767" stroke-width="1.4"/>
<polygon points="386,343 397,329 415,333 404,347" fill="#767676" stroke="#545454" stroke-width="1.4"/>
<polygon points="400,338 404,347 386,343" fill="#828282"/>
<polygon points="400,338 397,329 415,333" fill="#696969"/>
<polygon points="58,298 46,261 75,238 90,274" fill="#7e7e7e" stroke="#5c5c5c" stroke-width="1.4"/>
<polygon points="68,268 46,261 75,238" fill="#919191"/>
<polygon points="68,268 90,274 58,298" fill="#737373"/>
<polygon points="310,504 294,512 283,498 298,490" fill="#7c7c7c" stroke="#5a5a5a" stroke-width="1.4"/>
<polygon points="296,501 283,498 298,490" fill="#8d8d8d"/>
<polygon points="296,501 310,504 294,512" fill="#737373"/>
<polygon points="96,164 62,138 92,101 120,128" fill="#6c6c6c" stroke="#4a4a4a" stroke-width="1.4"/>
<polygon points="443,495 417,483 429,456 457,473" fill="#8a8a8a" stroke="#686868" stroke-width="1.4"/>
<polygon points="426,471 379,477 379,425 424,430" fill="#6a6a6a" stroke="#484848" stroke-width="1.4"/>
<polygon points="399,451 379,425 424,430" fill="#828282"/>
<polygon points="399,451 426,471 379,477" fill="#606060"/>
<polygon points="142,285 146,254 175,253 175,284" fill="#767676" stroke="#545454" stroke-width="1.4"/>
<polygon points="160,270 175,253 175,284" fill="#8d8d8d"/>
<polygon points="160,270 142,285 146,254" fill="#676767"/>
<polygon points="334,390 311,364 326,337 353,360" fill="#7a7a7a" stroke="#585858" stroke-width="1.4"/>
<polygon points="408,452 394,439 403,421 416,437" fill="#818181" stroke="#5f5f5f" stroke-width="1.4"/>
<polygon points="405,437 403,421 416,437" fill="#909090"/>
<polygon points="405,437 408,452 394,439" fill="#777777"/>
<polygon points="286,90 300,70 325,77 309,99" fill="#6d6d6d" stroke="#4b4b4b" stroke-width="1.4"/>
<polygon points="236,509 225,499 233,489 242,497" fill="#7c7c7c" stroke="#5a5a5a" stroke-width="1.4"/>
<polygon points="233,499 225,499 233,489" fill="#969696"/>
<polygon points="233,499 242,497 236,509" fill="#6d6d6d"/>
<polygon points="636,66 667,43 693,65 662,92" fill="#737373" stroke="#515151" stroke-width="1.4"/>
<polygon points="664,67 636,66 667,43" fill="#8a8a8a"/>
<polygon points="664,67 693,65 662,92" fill="#6d6d6d"/>
<polygon points="498,489 471,499 449,482 477,469" fill="#7d7d7d" stroke="#5b5b5b" stroke-width="1.4"/>
<polygon points="474,484 477,469 498,489" fill="#939393"/>
<polygon points="474,484 471,499 449,482" fill="#717171"/>
<polygon points="423,305 388,314 376,274 411,272" fill="#757575" stroke="#535353" stroke-width="1.4"/>
<polygon points="172,196 175,185 187,182 184,195" fill="#878787" stroke="#656565" stroke-width="1.4"/>
<polygon points="180,190 187,182 184,195" fill="#969696"/>
<polygon points="180,190 172,196 175,185" fill="#787878"/>
<polygon points="344,456 319,441 329,416 350,432" fill="#838383" stroke="#616161" stroke-width="1.4"/>
<polygon points="335,437 344,456 319,441" fill="#9d9d9d"/>
<polygon points="335,437 329,416 350,432" fill="#7c7c7c"/>
<polygon points="644,138 671,106 701,122 680,153" fill="#7c7c7c" stroke="#5a5a5a" stroke-width="1.4"/>
<polygon points="598,139 585,115 605,96 621,119" fill="#888888" stroke="#666666" stroke-width="1.4"/>
<polygon points="603,118 621,119 598,139" fill="#9c9c9c"/>
<polygon points="603,118 585,115 605,96" fill="#7a7a7a"/>
<polygon points="35,223 30,210 38,200 45,213" fill="#6f6f6f" stroke="#4d4d4d" stroke-width="1.4"/>
<polygon points="38,212 35,223 30,210" fill="#858585"/>
<polygon points="38,212 38,200 45,213" fill="#686868"/>
<polygon points="502,84 494,64 512,49 523,72" fill="#939393" stroke="#717171" stroke-width="1.4"/>
<polygon points="509,67 523,72 502,84" fill="#a1a1a1"/>
<polygon points="509,67 494,64 512,49" fill="#898989"/>
<polygon points="121,449 83,433 90,392 122,413" fill="#8f8f8f" stroke="#6d6d6d" stroke-width="1.4"/>
<polygon points="590,288 596,274 610,272 604,287" fill="#686868" stroke="#464646" stroke-width="1.4"/>
<polygon points="600,280 596,274 610,272" fill="#7c7c7c"/>
<polygon points="600,280 604,287 590,288" fill="#5e5e5e"/>
<polygon points="299,178 286,178 284,164 299,166" fill="#808080" stroke="#5e5e5e" stroke-width="1.4"/>
<polygon points="292,171 299,166 299,178" fill="#919191"/>
<polygon points="292,171 286,178 284,164" fill="#787878"/>
<polygon points="305,475 298,463 311,454 319,469" fill="#6d6d6d" stroke="#4b4b4b" stroke-width="1.4"/>
<polygon points="308,465 319,469 305,475" fill="#808080"/>
<polygon points="308,465 298,463 311,454" fill="#676767"/>
<polygon points="354,264 341,267 334,256 348,252" fill="#737373" stroke="#515151" stroke-width="1.4"/>
<polygon points="344,259 341,267 334,256" fill="#828282"/>
<polygon points="344,259 348,252 354,264" fill="#6a6a6a"/>
<polygon points="71,429 85,407 106,415 93,434" fill="#7d7d7d" stroke="#5b5b5b" stroke-width="1.4"/>
<polygon points="180,433 192,404 230,403 219,434" fill="#737373" stroke="#515151" stroke-width="1.4"/>
<polygon points="206,419 192,404 230,403" fill="#858585"/>
<polygon points="206,419 219,434 180,433" fill="#676767"/>
<polygon points="647,477 612,466 612,431 650,440" fill="#696969" stroke="#474747" stroke-width="1.4"/>
<polygon points="631,453 612,431 650,440" fill="#7d7d7d"/>
<polygon points="631,453 647,477 612,466" fill="#5c5c5c"/>
<polygon points="468,152 445,171 426,146 450,129" fill="#767676" stroke="#545454" stroke-width="1.4"/>
<polygon points="638,427 615,414 623,390 645,403" fill="#878787" stroke="#656565" stroke-width="1.4"/>
</g></g>
<text x="52" y="95" font-size="36" font-weight="bold" text-anchor="start" fill="#f2f2f2">a)</text>
<rect x="580.5" y="430" width="85" height="52" fill="#040404" stroke="#222" stroke-width="2.4"/>
<rect x="584.5" y="434" width="78" height="12.5" fill="#fbfbfb" stroke="none" stroke-width="0"/>
<text x="623.5" y="473.5" font-size="25" font-weight="bold" text-anchor="middle" fill="#e6e6e6" textLength="55" lengthAdjust="spacingAndGlyphs">1 μm</text>
<g clip-path="url(#clipB)">
<rect x="696" y="61" width="616" height="240" fill="url(#gB)" stroke="none" stroke-width="0"/>
<g filter="url(#blur6)">
<ellipse cx="842" cy="218" rx="75" ry="20" fill="#7e7e7e"/>
<ellipse cx="760" cy="225" rx="50" ry="14" fill="#8e8e8e"/>
<ellipse cx="1225" cy="205" rx="40" ry="16" fill="#939393"/>
<rect x="696" y="128" width="616" height="14" fill="#9a9a9a"/>
<rect x="696" y="242" width="616" height="38" fill="#b9b9b9"/>
</g>
<g filter="url(#blur1)">
<rect x="1009.1" y="275.9" width="4.5" height="3.9" fill="#616161"/>
<rect x="958" y="257" width="8.2" height="3.5" fill="#676767"/>
<rect x="858.2" y="258.2" width="5" height="2.1" fill="#6b6b6b"/>
<rect x="744.2" y="288.6" width="7" height="3.6" fill="#b8b8b8"/>
<rect x="920" y="267.2" width="7.8" height="2.5" fill="#cdcdcd"/>
<rect x="1259.3" y="264.6" width="4.7" height="2.9" fill="#c0c0c0"/>
<rect x="1087.6" y="261.1" width="4.3" height="3.7" fill="#a8a8a8"/>
<rect x="1166.3" y="280.2" width="7.6" height="2.5" fill="#7a7a7a"/>
<rect x="1051.5" y="262.6" width="4.3" height="3.1" fill="#b7b7b7"/>
<rect x="1145" y="275.3" width="3.1" height="2.2" fill="#aaaaaa"/>
<rect x="1020.6" y="289.6" width="5.9" height="2.7" fill="#bcbcbc"/>
<rect x="1290.6" y="291" width="6.4" height="3.2" fill="#a1a1a1"/>
<rect x="971.1" y="265.2" width="5.6" height="3" fill="#a6a6a6"/>
<rect x="1083.4" y="271.2" width="3" height="3.5" fill="#939393"/>
<rect x="1128.6" y="270.7" width="4.6" height="3.4" fill="#b9b9b9"/>
<rect x="916.5" y="267.7" width="3.7" height="3" fill="#acacac"/>
<rect x="1267.3" y="277.2" width="4.6" height="3.1" fill="#a6a6a6"/>
<rect x="1174.1" y="278.8" width="6.3" height="3.8" fill="#a6a6a6"/>
<rect x="1145.9" y="291.7" width="5.6" height="3.1" fill="#b7b7b7"/>
<rect x="1051.5" y="264.9" width="9" height="3.2" fill="#5f5f5f"/>
<rect x="1019.5" y="257.2" width="4.7" height="2.2" fill="#b4b4b4"/>
<rect x="1207.3" y="253.2" width="4.4" height="2.1" fill="#ababab"/>
<rect x="752.3" y="288" width="3.1" height="3.4" fill="#aaaaaa"/>
<rect x="1144.4" y="270.5" width="6.6" height="2.8" fill="#c4c4c4"/>
<rect x="1022.8" y="255.2" width="4.8" height="3.3" fill="#727272"/>
<rect x="775.2" y="292" width="8.4" height="2.4" fill="#a7a7a7"/>
<rect x="1122.4" y="253.5" width="3.8" height="2.2" fill="#484848"/>
<rect x="702.5" y="273.8" width="5.3" height="2.2" fill="#a7a7a7"/>
<rect x="1090.2" y="276.8" width="3.8" height="3" fill="#adadad"/>
<rect x="1088.4" y="280" width="4.6" height="3.1" fill="#535353"/>
<rect x="1125.8" y="285.2" width="4.3" height="3.7" fill="#afafaf"/>
<rect x="1308.2" y="273" width="3.1" height="3.5" fill="#adadad"/>
<rect x="911.9" y="270.8" width="6.5" height="3.2" fill="#afafaf"/>
<rect x="1178.2" y="259.7" width="4.5" height="3.2" fill="#b2b2b2"/>
<rect x="860.8" y="287.4" width="8.5" height="2.2" fill="#b6b6b6"/>
<rect x="790.9" y="288.8" width="4.7" height="3.7" fill="#9f9f9f"/>
<rect x="1045.3" y="289.4" width="8.3" height="3.2" fill="#b5b5b5"/>
<rect x="806.1" y="282.1" width="7.2" height="3.9" fill="#6c6c6c"/>
<rect x="1099.7" y="269.8" width="5.6" height="2.8" fill="#b3b3b3"/>
<rect x="922.7" y="267" width="7.3" height="3" fill="#a1a1a1"/>
<rect x="1017" y="277.2" width="8.6" height="3.3" fill="#adadad"/>
<rect x="997.6" y="270.1" width="7.2" height="3.1" fill="#595959"/>
<rect x="950.4" y="265.6" width="4.4" height="3.8" fill="#b9b9b9"/>
<rect x="851.3" y="257.4" width="8.9" height="3.5" fill="#666666"/>
<rect x="1244.2" y="255.8" width="8.2" height="3.1" fill="#adadad"/>
<rect x="1146.1" y="273.7" width="8.2" height="2.5" fill="#aeaeae"/>
<rect x="1135.9" y="289.3" width="6.5" height="2.7" fill="#c3c3c3"/>
<rect x="1207.1" y="280.5" width="4.4" height="3.6" fill="#a6a6a6"/>
<rect x="823.7" y="281.7" width="4" height="3.8" fill="#606060"/>
<rect x="1134" y="273.9" width="9" height="3.4" fill="#b1b1b1"/>
<rect x="750" y="286.8" width="5" height="2.3" fill="#b8b8b8"/>
<rect x="956.8" y="277.2" width="6.5" height="2.6" fill="#616161"/>
<rect x="752" y="267.5" width="7.4" height="2.1" fill="#7e7e7e"/>
<rect x="893.3" y="259.3" width="3.9" height="2.9" fill="#595959"/>
<rect x="1063.6" y="255.8" width="8" height="3.7" fill="#616161"/>
<rect x="1038.5" y="265" width="8.7" height="2.2" fill="#b1b1b1"/>
<rect x="790.7" y="266.5" width="8.8" height="2.7" fill="#b1b1b1"/>
<rect x="1289.5" y="262.2" width="7.8" height="3.5" fill="#d3d3d3"/>
<rect x="741.8" y="260.9" width="6" height="3.5" fill="#5f5f5f"/>
<rect x="1001" y="256.6" width="7.6" height="2.9" fill="#a4a4a4"/>
<rect x="1079.9" y="264.7" width="4.9" height="3.1" fill="#c1c1c1"/>
<rect x="1159.1" y="260.6" width="7.5" height="3.5" fill="#6f6f6f"/>
<rect x="1303.9" y="259.8" width="6.3" height="3" fill="#bfbfbf"/>
<rect x="1003.1" y="272" width="3.4" height="2.9" fill="#939393"/>
<rect x="706.5" y="289.8" width="6.9" height="3" fill="#818181"/>
<rect x="956.6" y="259.1" width="5.4" height="2.1" fill="#959595"/>
<rect x="1218.3" y="291.5" width="4.1" height="3.6" fill="#b4b4b4"/>
<rect x="910.6" y="264.4" width="5.5" height="3.6" fill="#b5b5b5"/>
<rect x="1134.3" y="289.6" width="8.2" height="2.3" fill="#5f5f5f"/>
<rect x="804.5" y="253.6" width="3.5" height="2.3" fill="#b5b5b5"/>
<rect x="762.7" y="279.5" width="4.8" height="2.1" fill="#777777"/>
<rect x="704.1" y="271.8" width="5.2" height="3.6" fill="#898989"/>
<rect x="1002.5" y="284.6" width="4.6" height="2.9" fill="#bebebe"/>
<rect x="1237.3" y="274.4" width="8.9" height="3.8" fill="#444444"/>
<rect x="759.1" y="260.5" width="8.4" height="3.1" fill="#c0c0c0"/>
<rect x="1124" y="266.7" width="8.6" height="2.3" fill="#bbbbbb"/>
<rect x="1071.1" y="257.8" width="6.1" height="3.1" fill="#5f5f5f"/>
<rect x="790" y="285.8" width="7.9" height="3.6" fill="#b2b2b2"/>
<rect x="938" y="290.8" width="6.1" height="2" fill="#606060"/>
<rect x="895.2" y="280.5" width="6.6" height="2" fill="#adadad"/>
<rect x="1025.8" y="270.5" width="3.7" height="3.9" fill="#b2b2b2"/>
<rect x="1105.5" y="278.2" width="3.1" height="3.2" fill="#b5b5b5"/>
<rect x="707.9" y="285.4" width="8.6" height="2.2" fill="#9e9e9e"/>
<rect x="1308.8" y="281.6" width="6.4" height="3.1" fill="#959595"/>
<rect x="964.5" y="260.1" width="6.2" height="2.8" fill="#ababab"/>
<rect x="875.5" y="291.9" width="4.5" height="3.4" fill="#b7b7b7"/>
<rect x="1269.6" y="286.9" width="5.9" height="2.1" fill="#ababab"/>
<rect x="1134.1" y="253.4" width="4.8" height="2.5" fill="#cecece"/>
<rect x="795.7" y="262.7" width="6.4" height="3.3" fill="#a4a4a4"/>
<rect x="1271.3" y="275.7" width="6.3" height="2.4" fill="#7e7e7e"/>
<rect x="1202.9" y="275.6" width="4.5" height="2.6" fill="#6e6e6e"/>
<rect x="1157.2" y="255.1" width="4.4" height="3.2" fill="#b9b9b9"/>
<rect x="1303.7" y="258.6" width="7.8" height="3.2" fill="#bdbdbd"/>
<rect x="1202.8" y="280.4" width="6.6" height="4" fill="#bababa"/>
<rect x="1047.2" y="254.6" width="8.1" height="3" fill="#b2b2b2"/>
<rect x="1007.8" y="266.7" width="7.4" height="2.1" fill="#a7a7a7"/>
<rect x="1071.6" y="261.9" width="3.4" height="3.3" fill="#6c6c6c"/>
<rect x="1144.5" y="256.3" width="6.9" height="3.3" fill="#a7a7a7"/>
<rect x="1254.9" y="252.5" width="3.9" height="2.1" fill="#555555"/>
<rect x="721.1" y="266.5" width="7.3" height="2.1" fill="#9f9f9f"/>
<rect x="860.2" y="270" width="7" height="4" fill="#a7a7a7"/>
<rect x="1296.3" y="268" width="8.4" height="2.6" fill="#a7a7a7"/>
<rect x="1176.1" y="261.6" width="5.3" height="3.2" fill="#5e5e5e"/>
<rect x="1301.8" y="280.3" width="7.1" height="2.1" fill="#bbbbbb"/>
<rect x="1169.1" y="275.7" width="4.7" height="3.3" fill="#b0b0b0"/>
<rect x="817.4" y="274.9" width="8.5" height="3.8" fill="#bababa"/>
<rect x="701.8" y="275.1" width="6.5" height="2.9" fill="#b5b5b5"/>
<rect x="1233.2" y="274.9" width="6" height="2.7" fill="#7d7d7d"/>
<rect x="819.9" y="271.9" width="6.8" height="2.9" fill="#b4b4b4"/>
<rect x="1088.1" y="264.7" width="3.6" height="2.9" fill="#434343"/>
<rect x="973.1" y="257.6" width="4.3" height="3.6" fill="#bcbcbc"/>
<rect x="902.6" y="288.2" width="3.4" height="2.3" fill="#b7b7b7"/>
<rect x="1050.3" y="265.6" width="6.7" height="4" fill="#4f4f4f"/>
<rect x="1195.4" y="258.6" width="7.3" height="3.8" fill="#c9c9c9"/>
<rect x="995.5" y="286.7" width="3.8" height="2.8" fill="#bfbfbf"/>
<rect x="1112.9" y="288.8" width="4.2" height="2.1" fill="#c2c2c2"/>
<rect x="1020.7" y="281.2" width="8" height="3.3" fill="#c6c6c6"/>
<rect x="861.6" y="273.4" width="6.6" height="4" fill="#aeaeae"/>
<rect x="842.3" y="279.8" width="4.6" height="3" fill="#696969"/>
<rect x="1160.9" y="291.8" width="8" height="2.4" fill="#aaaaaa"/>
<rect x="793.5" y="265.6" width="4.8" height="3.8" fill="#b7b7b7"/>
<rect x="861.7" y="280.8" width="7.3" height="3.8" fill="#474747"/>
<rect x="1178.3" y="253" width="4.5" height="3.2" fill="#7f7f7f"/>
<rect x="1130.3" y="268.1" width="6.7" height="2.6" fill="#646464"/>
<rect x="989.8" y="258.7" width="6.1" height="2.3" fill="#7b7b7b"/>
<rect x="1192.9" y="258.3" width="6.2" height="2.5" fill="#b4b4b4"/>
<rect x="1011.3" y="259.3" width="7.7" height="2.2" fill="#616161"/>
<rect x="1224" y="288" width="4.1" height="2.7" fill="#bfbfbf"/>
<rect x="1278.5" y="288" width="4.8" height="2.1" fill="#c0c0c0"/>
<rect x="1174.6" y="283.1" width="8" height="2.8" fill="#adadad"/>
<rect x="780.4" y="291.1" width="6.6" height="3.9" fill="#646464"/>
<rect x="1093.4" y="271.3" width="5.4" height="3.9" fill="#424242"/>
<rect x="704.3" y="254.3" width="4.1" height="3.1" fill="#c7c7c7"/>
<rect x="951" y="275.2" width="3.7" height="3.9" fill="#d1d1d1"/>
<rect x="1046.9" y="259.2" width="3.3" height="2.9" fill="#a2a2a2"/>
<rect x="966.5" y="271.3" width="8.3" height="3.1" fill="#a6a6a6"/>
<rect x="795.7" y="269.2" width="3.5" height="3" fill="#565656"/>
<rect x="1267.4" y="260.7" width="7.9" height="2.3" fill="#cbcbcb"/>
<rect x="1048.4" y="261.3" width="5.3" height="2.5" fill="#b7b7b7"/>
<rect x="1089.1" y="262.6" width="3" height="3.7" fill="#c0c0c0"/>
<rect x="926.1" y="259.6" width="5.5" height="4" fill="#848484"/>
<rect x="727.5" y="270.1" width="4" height="3.9" fill="#bdbdbd"/>
<rect x="844.9" y="272.4" width="8.1" height="2" fill="#606060"/>
<rect x="758.5" y="290.5" width="6.5" height="3.3" fill="#b1b1b1"/>
<rect x="1295.5" y="277.7" width="7.8" height="2.9" fill="#b0b0b0"/>
<rect x="768.6" y="280" width="7.3" height="3.1" fill="#ababab"/>
<rect x="795.7" y="264.8" width="3.4" height="3.9" fill="#a4a4a4"/>
<rect x="851.4" y="275.4" width="3.1" height="2.7" fill="#c1c1c1"/>
<rect x="1127.1" y="290.5" width="3.6" height="3.3" fill="#757575"/>
<rect x="1202.5" y="276.4" width="7.8" height="3.9" fill="#afafaf"/>
<rect x="948" y="264.9" width="7.4" height="2.2" fill="#b0b0b0"/>
<rect x="1067.2" y="276.4" width="4.1" height="2.2" fill="#a1a1a1"/>
<rect x="1018.1" y="259.1" width="5.2" height="2.8" fill="#b0b0b0"/>
<rect x="724.8" y="257.1" width="5.8" height="3.2" fill="#adadad"/>
<rect x="1014" y="267.9" width="3" height="2.2" fill="#b1b1b1"/>
<rect x="998.5" y="256.1" width="3.5" height="3.7" fill="#a9a9a9"/>
<rect x="928.3" y="263.7" width="4.2" height="3" fill="#b4b4b4"/>
<rect x="893" y="252.6" width="6.2" height="3.5" fill="#6b6b6b"/>
<rect x="731.6" y="263.8" width="5.6" height="3.4" fill="#c7c7c7"/>
<rect x="893.5" y="266.3" width="8.2" height="3.2" fill="#b0b0b0"/>
<rect x="990.9" y="253" width="4.5" height="2.5" fill="#d3d3d3"/>
<rect x="834.5" y="280.1" width="8.9" height="2.9" fill="#b5b5b5"/>
<rect x="1018.6" y="271.6" width="7.3" height="2.9" fill="#555555"/>
<rect x="1059.7" y="252.7" width="4.1" height="3.2" fill="#8c8c8c"/>
<rect x="739.9" y="284.2" width="8.9" height="3.5" fill="#a4a4a4"/>
<rect x="860" y="261.6" width="7.5" height="3.9" fill="#a5a5a5"/>
<rect x="1125.1" y="268.9" width="7.7" height="2.9" fill="#c6c6c6"/>
<rect x="1102.3" y="256.8" width="4.2" height="2.6" fill="#595959"/>
<rect x="941.1" y="256" width="4.1" height="3.2" fill="#aeaeae"/>
<rect x="712.8" y="257.9" width="5.9" height="2.5" fill="#a9a9a9"/>
<rect x="933.4" y="287" width="8.7" height="3.5" fill="#c9c9c9"/>
<rect x="1225.5" y="252.2" width="5.8" height="2.2" fill="#a6a6a6"/>
<rect x="1133.9" y="263.4" width="3.5" height="3.3" fill="#a3a3a3"/>
<rect x="1125.3" y="269.4" width="5.6" height="3.2" fill="#b5b5b5"/>
<rect x="789" y="271.3" width="6.2" height="2.1" fill="#b1b1b1"/>
<rect x="1165.4" y="260.7" width="8" height="3.4" fill="#838383"/>
<rect x="1155.7" y="252.2" width="5.6" height="3.7" fill="#545454"/>
<rect x="1114.7" y="269.3" width="5.4" height="3.9" fill="#767676"/>
<rect x="764.6" y="274.9" width="5.5" height="2.1" fill="#cecece"/>
<rect x="885.3" y="278.3" width="6.8" height="3.2" fill="#bcbcbc"/>
<rect x="782.1" y="272.3" width="5.2" height="3.9" fill="#aaaaaa"/>
<rect x="849.8" y="261.1" width="5.1" height="2.6" fill="#616161"/>
<rect x="742.7" y="263.1" width="8.7" height="3.3" fill="#cfcfcf"/>
<rect x="832.4" y="285.6" width="8.1" height="2.9" fill="#979797"/>
<rect x="1094.8" y="276.6" width="5.1" height="3.4" fill="#b2b2b2"/>
<rect x="1105.6" y="269.1" width="5" height="3.2" fill="#afafaf"/>
<rect x="809.7" y="291.7" width="7.6" height="3.8" fill="#565656"/>
<rect x="878.2" y="257.9" width="4.9" height="3.9" fill="#b1b1b1"/>
<rect x="923.5" y="254.7" width="3.8" height="2.9" fill="#5b5b5b"/>
<rect x="1217.3" y="291.9" width="4.3" height="2.9" fill="#c4c4c4"/>
<rect x="1075.6" y="282.5" width="7.1" height="3.5" fill="#c0c0c0"/>
<rect x="1293" y="254.5" width="3.1" height="3.8" fill="#757575"/>
<rect x="1061.7" y="262.4" width="8.3" height="2.9" fill="#bababa"/>
<rect x="810.8" y="257.6" width="8.3" height="2.1" fill="#c4c4c4"/>
<rect x="1189" y="260" width="8.3" height="3.3" fill="#7b7b7b"/>
<rect x="962.8" y="274.3" width="4.4" height="2.5" fill="#bababa"/>
<rect x="1243.5" y="261.3" width="7.2" height="3.2" fill="#c6c6c6"/>
<rect x="1046.1" y="278.8" width="5" height="3.5" fill="#7c7c7c"/>
<rect x="945.6" y="262.5" width="7.3" height="3.8" fill="#cacaca"/>
<rect x="757.1" y="272.8" width="7.4" height="2.1" fill="#9b9b9b"/>
<rect x="947.7" y="266.5" width="4.1" height="3.1" fill="#b5b5b5"/>
<rect x="826" y="268" width="4.9" height="2.8" fill="#afafaf"/>
<rect x="749.3" y="291.3" width="5.6" height="2.7" fill="#6d6d6d"/>
<rect x="926.7" y="280.2" width="4.6" height="2.2" fill="#c9c9c9"/>
<rect x="1108.6" y="264.1" width="3.8" height="3.2" fill="#a9a9a9"/>
<rect x="1292.1" y="271.2" width="8.8" height="2.9" fill="#c9c9c9"/>
<rect x="943.8" y="290.9" width="6.1" height="2.8" fill="#aeaeae"/>
<rect x="716.3" y="260.9" width="5.6" height="3.8" fill="#afafaf"/>
<rect x="922.3" y="256.3" width="4.7" height="4" fill="#9a9a9a"/>
<rect x="912.5" y="274.5" width="8.9" height="3.4" fill="#bababa"/>
<rect x="1166.8" y="252.4" width="6.1" height="2" fill="#b7b7b7"/>
<rect x="1000.4" y="286" width="8.6" height="3.8" fill="#a2a2a2"/>
<rect x="925" y="286.5" width="5" height="2.3" fill="#b6b6b6"/>
<rect x="770.6" y="256.6" width="4.8" height="3.8" fill="#a5a5a5"/>
<rect x="782.8" y="252.5" width="3.4" height="3.6" fill="#606060"/>
<rect x="950" y="280.6" width="3.5" height="2.1" fill="#bcbcbc"/>
<rect x="1134.4" y="278.1" width="3.7" height="3.8" fill="#cbcbcb"/>
<rect x="785.6" y="276.5" width="6" height="2.2" fill="#b4b4b4"/>
<rect x="924.4" y="283.1" width="5.4" height="3.1" fill="#aeaeae"/>
<rect x="721.1" y="260.2" width="4.1" height="3.2" fill="#ababab"/>
</g>
<polygon points="696,494 696,290.2 702.7,281.5 709,291.1 716.8,285.3 723.6,276.6 736.3,289.3 746.7,279.2 759.4,291.3 769.7,290.3 775.2,282.6 788.6,289.7 797.4,280.1 806.5,282 818,286.4 824,289.9 835.6,284.6 848.3,291.4 853.5,280.4 864.2,284.4 877.2,285.3 882.5,289.1 888.2,287.2 895.1,291.2 902.2,291.7 907.9,276.8 917.8,282.4 930,288 941.1,283.5 952.9,283.1 958,282.4 968.1,281.6 976.7,277.9 982.3,278 994.9,281.7 1007.9,285.5 1014.9,282.2 1026.1,280.6 1036.1,277.3 1044.7,285.2 1057.7,290 1063.9,286.6 1075,277 1083.2,278.8 1097,282.6 1102.1,290.9 1112.4,283.2 1124.9,283.4 1135.7,286.6 1148.7,281.3 1155.7,289.3 1166.7,277.5 1180.1,291.9 1189.6,279.3 1197.1,288.7 1208.3,277.1 1218,290.9 1230.7,278 1237.1,277 1244.9,281.7 1252.2,290.5 1262.6,286.8 1272.3,282.6 1282.5,287.1 1292.6,286.7 1299.7,291.9 1310.2,282.2 1312,285 1312,494" fill="#474747"/>
<g filter="url(#blur1)">
<line x1="810" y1="305" x2="812" y2="370" stroke="#1d1d1d" stroke-width="2" stroke-linecap="round"/>
<line x1="1315" y1="328" x2="1314" y2="440" stroke="#1b1b1b" stroke-width="2" stroke-linecap="round"/>
<line x1="1124" y1="479" x2="1125" y2="574" stroke="#696969" stroke-width="2.4" stroke-linecap="round"/>
<line x1="1202" y1="376" x2="1203" y2="511" stroke="#1f1f1f" stroke-width="3.3" stroke-linecap="round"/>
<line x1="1303" y1="396" x2="1300" y2="504" stroke="#191919" stroke-width="4.5" stroke-linecap="round"/>
<line x1="1306" y1="367" x2="1309" y2="448" stroke="#202020" stroke-width="2.6" stroke-linecap="round"/>
<line x1="824" y1="403" x2="824" y2="483" stroke="#646464" stroke-width="4.3" stroke-linecap="round"/>
<line x1="747" y1="391" x2="745" y2="516" stroke="#414141" stroke-width="2.2" stroke-linecap="round"/>
<line x1="922" y1="303" x2="922" y2="386" stroke="#1f1f1f" stroke-width="4.1" stroke-linecap="round"/>
<line x1="1145" y1="339" x2="1141" y2="410" stroke="#262626" stroke-width="2" stroke-linecap="round"/>
<line x1="1171" y1="375" x2="1169" y2="411" stroke="#494949" stroke-width="4.4" stroke-linecap="round"/>
<line x1="994" y1="433" x2="993" y2="542" stroke="#838383" stroke-width="3.1" stroke-linecap="round"/>
<line x1="956" y1="406" x2="953" y2="506" stroke="#414141" stroke-width="2.2" stroke-linecap="round"/>
<line x1="751" y1="308" x2="748" y2="442" stroke="#6a6a6a" stroke-width="3.6" stroke-linecap="round"/>
<line x1="1317" y1="295" x2="1317" y2="390" stroke="#272727" stroke-width="3.6" stroke-linecap="round"/>
<line x1="1146" y1="420" x2="1149" y2="512" stroke="#282828" stroke-width="4.1" stroke-linecap="round"/>
<line x1="1246" y1="358" x2="1247" y2="430" stroke="#232323" stroke-width="2.6" stroke-linecap="round"/>
<line x1="751" y1="354" x2="749" y2="481" stroke="#191919" stroke-width="2.8" stroke-linecap="round"/>
<line x1="701" y1="328" x2="701" y2="388" stroke="#4f4f4f" stroke-width="2.7" stroke-linecap="round"/>
<line x1="930" y1="364" x2="933" y2="428" stroke="#8b8b8b" stroke-width="2.6" stroke-linecap="round"/>
<line x1="1278" y1="473" x2="1281" y2="512" stroke="#1e1e1e" stroke-width="2.4" stroke-linecap="round"/>
<line x1="1002" y1="475" x2="1004" y2="527" stroke="#292929" stroke-width="3.2" stroke-linecap="round"/>
<line x1="1067" y1="275" x2="1066" y2="344" stroke="#252525" stroke-width="2.5" stroke-linecap="round"/>
<line x1="826" y1="297" x2="822" y2="408" stroke="#585858" stroke-width="3.2" stroke-linecap="round"/>
<line x1="913" y1="343" x2="915" y2="423" stroke="#484848" stroke-width="4.4" stroke-linecap="round"/>
<line x1="918" y1="453" x2="918" y2="561" stroke="#0f0f0f" stroke-width="3.5" stroke-linecap="round"/>
<line x1="1145" y1="423" x2="1145" y2="527" stroke="#525252" stroke-width="3.7" stroke-linecap="round"/>
<line x1="734" y1="463" x2="730" y2="538" stroke="#6a6a6a" stroke-width="2.6" stroke-linecap="round"/>
<line x1="846" y1="476" x2="844" y2="565" stroke="#404040" stroke-width="2.9" stroke-linecap="round"/>
<line x1="1221" y1="427" x2="1220" y2="482" stroke="#2c2c2c" stroke-width="2.8" stroke-linecap="round"/>
<line x1="1105" y1="334" x2="1102" y2="369" stroke="#909090" stroke-width="3.3" stroke-linecap="round"/>
<line x1="1174" y1="277" x2="1173" y2="393" stroke="#141414" stroke-width="3.4" stroke-linecap="round"/>
<line x1="843" y1="301" x2="846" y2="414" stroke="#555555" stroke-width="2.6" stroke-linecap="round"/>
<line x1="963" y1="359" x2="961" y2="421" stroke="#171717" stroke-width="4.1" stroke-linecap="round"/>
<line x1="1087" y1="414" x2="1090" y2="529" stroke="#181818" stroke-width="4.5" stroke-linecap="round"/>
<line x1="950" y1="369" x2="949" y2="470" stroke="#696969" stroke-width="4.2" stroke-linecap="round"/>
<line x1="1166" y1="435" x2="1162" y2="545" stroke="#747474" stroke-width="3.9" stroke-linecap="round"/>
<line x1="868" y1="410" x2="868" y2="481" stroke="#4e4e4e" stroke-width="2.7" stroke-linecap="round"/>
<line x1="922" y1="291" x2="922" y2="409" stroke="#2c2c2c" stroke-width="3.1" stroke-linecap="round"/>
<line x1="761" y1="383" x2="760" y2="428" stroke="#575757" stroke-width="3" stroke-linecap="round"/>
<line x1="932" y1="355" x2="936" y2="429" stroke="#161616" stroke-width="3.3" stroke-linecap="round"/>
<line x1="702" y1="445" x2="702" y2="566" stroke="#636363" stroke-width="3.9" stroke-linecap="round"/>
<line x1="1098" y1="378" x2="1102" y2="507" stroke="#5a5a5a" stroke-width="2.1" stroke-linecap="round"/>
<line x1="1208" y1="277" x2="1205" y2="309" stroke="#5a5a5a" stroke-width="4" stroke-linecap="round"/>
<line x1="998" y1="434" x2="997" y2="512" stroke="#6a6a6a" stroke-width="2.8" stroke-linecap="round"/>
<line x1="1195" y1="476" x2="1196" y2="580" stroke="#222222" stroke-width="3.1" stroke-linecap="round"/>
<line x1="1024" y1="437" x2="1020" y2="546" stroke="#7c7c7c" stroke-width="3.3" stroke-linecap="round"/>
<line x1="1049" y1="354" x2="1051" y2="403" stroke="#252525" stroke-width="3.7" stroke-linecap="round"/>
<line x1="958" y1="304" x2="958" y2="438" stroke="#4a4a4a" stroke-width="2.2" stroke-linecap="round"/>
<line x1="1223" y1="308" x2="1223" y2="349" stroke="#3f3f3f" stroke-width="3.4" stroke-linecap="round"/>
<line x1="1186" y1="459" x2="1189" y2="492" stroke="#464646" stroke-width="4.2" stroke-linecap="round"/>
<line x1="899" y1="391" x2="903" y2="451" stroke="#1f1f1f" stroke-width="3.4" stroke-linecap="round"/>
<line x1="1051" y1="372" x2="1051" y2="421" stroke="#212121" stroke-width="4.1" stroke-linecap="round"/>
<line x1="941" y1="438" x2="942" y2="472" stroke="#636363" stroke-width="2.9" stroke-linecap="round"/>
<line x1="747" y1="322" x2="746" y2="380" stroke="#1d1d1d" stroke-width="3.6" stroke-linecap="round"/>
<line x1="774" y1="342" x2="776" y2="429" stroke="#757575" stroke-width="2.6" stroke-linecap="round"/>
<line x1="1020" y1="458" x2="1018" y2="509" stroke="#1b1b1b" stroke-width="2.7" stroke-linecap="round"/>
<line x1="836" y1="339" x2="836" y2="391" stroke="#1f1f1f" stroke-width="3" stroke-linecap="round"/>
<line x1="693" y1="340" x2="696" y2="391" stroke="#1e1e1e" stroke-width="3.8" stroke-linecap="round"/>
<line x1="912" y1="384" x2="912" y2="414" stroke="#646464" stroke-width="3.6" stroke-linecap="round"/>
<line x1="1263" y1="396" x2="1259" y2="503" stroke="#1f1f1f" stroke-width="2.7" stroke-linecap="round"/>
<line x1="857" y1="291" x2="854" y2="391" stroke="#797979" stroke-width="3.3" stroke-linecap="round"/>
<line x1="926" y1="406" x2="927" y2="463" stroke="#1a1a1a" stroke-width="3.9" stroke-linecap="round"/>
<line x1="941" y1="475" x2="944" y2="599" stroke="#404040" stroke-width="4.4" stroke-linecap="round"/>
<line x1="1297" y1="476" x2="1296" y2="517" stroke="#1d1d1d" stroke-width="2.6" stroke-linecap="round"/>
<line x1="727" y1="447" x2="729" y2="573" stroke="#717171" stroke-width="2.4" stroke-linecap="round"/>
<line x1="783" y1="380" x2="784" y2="430" stroke="#1e1e1e" stroke-width="2.1" stroke-linecap="round"/>
<line x1="902" y1="333" x2="903" y2="398" stroke="#252525" stroke-width="3.2" stroke-linecap="round"/>
<line x1="1199" y1="410" x2="1201" y2="496" stroke="#535353" stroke-width="2" stroke-linecap="round"/>
<line x1="912" y1="473" x2="913" y2="589" stroke="#454545" stroke-width="3.5" stroke-linecap="round"/>
<line x1="792" y1="319" x2="793" y2="390" stroke="#1f1f1f" stroke-width="3.5" stroke-linecap="round"/>
<line x1="924" y1="456" x2="926" y2="595" stroke="#242424" stroke-width="2.6" stroke-linecap="round"/>
<line x1="824" y1="306" x2="821" y2="396" stroke="#313131" stroke-width="3.8" stroke-linecap="round"/>
<line x1="866" y1="479" x2="868" y2="527" stroke="#1c1c1c" stroke-width="4" stroke-linecap="round"/>
<line x1="1173" y1="363" x2="1174" y2="503" stroke="#282828" stroke-width="2.9" stroke-linecap="round"/>
<line x1="1020" y1="341" x2="1022" y2="474" stroke="#494949" stroke-width="3.5" stroke-linecap="round"/>
<line x1="1013" y1="341" x2="1012" y2="405" stroke="#525252" stroke-width="3.8" stroke-linecap="round"/>
<line x1="761" y1="353" x2="760" y2="449" stroke="#1a1a1a" stroke-width="4.1" stroke-linecap="round"/>
<line x1="1107" y1="271" x2="1107" y2="318" stroke="#646464" stroke-width="3.7" stroke-linecap="round"/>
<line x1="1064" y1="282" x2="1067" y2="322" stroke="#777777" stroke-width="2.8" stroke-linecap="round"/>
<line x1="908" y1="426" x2="908" y2="540" stroke="#1f1f1f" stroke-width="4.3" stroke-linecap="round"/>
<line x1="1227" y1="404" x2="1223" y2="484" stroke="#595959" stroke-width="4.1" stroke-linecap="round"/>
<line x1="865" y1="424" x2="863" y2="489" stroke="#7b7b7b" stroke-width="3.9" stroke-linecap="round"/>
<line x1="1008" y1="411" x2="1009" y2="497" stroke="#252525" stroke-width="2.7" stroke-linecap="round"/>
<line x1="1146" y1="315" x2="1148" y2="366" stroke="#3a3a3a" stroke-width="2.6" stroke-linecap="round"/>
<line x1="1278" y1="478" x2="1276" y2="557" stroke="#1e1e1e" stroke-width="3.1" stroke-linecap="round"/>
<line x1="779" y1="393" x2="775" y2="460" stroke="#424242" stroke-width="4.4" stroke-linecap="round"/>
<line x1="952" y1="423" x2="950" y2="476" stroke="#616161" stroke-width="3.9" stroke-linecap="round"/>
<line x1="818" y1="308" x2="816" y2="387" stroke="#222222" stroke-width="2.7" stroke-linecap="round"/>
<line x1="929" y1="462" x2="926" y2="571" stroke="#1c1c1c" stroke-width="3" stroke-linecap="round"/>
<line x1="1300" y1="397" x2="1301" y2="490" stroke="#5c5c5c" stroke-width="2.8" stroke-linecap="round"/>
<line x1="766" y1="444" x2="768" y2="527" stroke="#656565" stroke-width="2.6" stroke-linecap="round"/>
<line x1="1104" y1="353" x2="1103" y2="470" stroke="#171717" stroke-width="4.2" stroke-linecap="round"/>
<line x1="1088" y1="364" x2="1087" y2="402" stroke="#1a1a1a" stroke-width="3.2" stroke-linecap="round"/>
<line x1="757" y1="452" x2="754" y2="557" stroke="#5f5f5f" stroke-width="3.9" stroke-linecap="round"/>
<line x1="1183" y1="308" x2="1185" y2="413" stroke="#2a2a2a" stroke-width="4.2" stroke-linecap="round"/>
<line x1="1005" y1="471" x2="1007" y2="542" stroke="#484848" stroke-width="3.2" stroke-linecap="round"/>
<line x1="1276" y1="299" x2="1277" y2="336" stroke="#6b6b6b" stroke-width="2.5" stroke-linecap="round"/>
<line x1="1272" y1="438" x2="1271" y2="484" stroke="#525252" stroke-width="3" stroke-linecap="round"/>
<line x1="992" y1="367" x2="988" y2="415" stroke="#161616" stroke-width="3" stroke-linecap="round"/>
<line x1="869" y1="458" x2="871" y2="491" stroke="#4f4f4f" stroke-width="2.1" stroke-linecap="round"/>
<line x1="1071" y1="379" x2="1069" y2="487" stroke="#5c5c5c" stroke-width="3" stroke-linecap="round"/>
<line x1="1120" y1="308" x2="1117" y2="408" stroke="#5c5c5c" stroke-width="3.8" stroke-linecap="round"/>
<line x1="905" y1="298" x2="903" y2="375" stroke="#787878" stroke-width="2.9" stroke-linecap="round"/>
<line x1="737" y1="294" x2="733" y2="409" stroke="#4d4d4d" stroke-width="2.5" stroke-linecap="round"/>
<line x1="705" y1="384" x2="705" y2="521" stroke="#6a6a6a" stroke-width="3.7" stroke-linecap="round"/>
<line x1="993" y1="301" x2="995" y2="423" stroke="#222222" stroke-width="3" stroke-linecap="round"/>
<line x1="1102" y1="423" x2="1100" y2="474" stroke="#1f1f1f" stroke-width="3.3" stroke-linecap="round"/>
<line x1="1003" y1="271" x2="1002" y2="373" stroke="#585858" stroke-width="3.2" stroke-linecap="round"/>
<line x1="997" y1="430" x2="1000" y2="504" stroke="#1d1d1d" stroke-width="3.9" stroke-linecap="round"/>
<line x1="1314" y1="445" x2="1313" y2="575" stroke="#515151" stroke-width="3.3" stroke-linecap="round"/>
<line x1="964" y1="404" x2="965" y2="499" stroke="#212121" stroke-width="2.7" stroke-linecap="round"/>
<line x1="1199" y1="459" x2="1199" y2="490" stroke="#1c1c1c" stroke-width="2.1" stroke-linecap="round"/>
<line x1="1294" y1="290" x2="1295" y2="417" stroke="#161616" stroke-width="3.6" stroke-linecap="round"/>
<line x1="1035" y1="406" x2="1037" y2="515" stroke="#222222" stroke-width="3.3" stroke-linecap="round"/>
<line x1="932" y1="338" x2="935" y2="477" stroke="#222222" stroke-width="3.5" stroke-linecap="round"/>
<line x1="1033" y1="352" x2="1031" y2="436" stroke="#8e8e8e" stroke-width="3.9" stroke-linecap="round"/>
<line x1="1318" y1="297" x2="1321" y2="426" stroke="#565656" stroke-width="2.4" stroke-linecap="round"/>
<line x1="1262" y1="347" x2="1265" y2="383" stroke="#464646" stroke-width="3.6" stroke-linecap="round"/>
<line x1="913" y1="406" x2="913" y2="540" stroke="#242424" stroke-width="3.6" stroke-linecap="round"/>
<line x1="860" y1="324" x2="858" y2="460" stroke="#222222" stroke-width="2.2" stroke-linecap="round"/>
<line x1="845" y1="465" x2="847" y2="514" stroke="#454545" stroke-width="3.3" stroke-linecap="round"/>
<line x1="946" y1="342" x2="943" y2="423" stroke="#757575" stroke-width="2.3" stroke-linecap="round"/>
<line x1="1207" y1="375" x2="1206" y2="448" stroke="#575757" stroke-width="2.7" stroke-linecap="round"/>
<line x1="1182" y1="449" x2="1181" y2="508" stroke="#1d1d1d" stroke-width="2.8" stroke-linecap="round"/>
<line x1="1068" y1="404" x2="1064" y2="439" stroke="#515151" stroke-width="4.4" stroke-linecap="round"/>
<line x1="1124" y1="317" x2="1124" y2="452" stroke="#4d4d4d" stroke-width="2.4" stroke-linecap="round"/>
<line x1="704" y1="395" x2="705" y2="504" stroke="#505050" stroke-width="3.3" stroke-linecap="round"/>
<line x1="1107" y1="442" x2="1110" y2="475" stroke="#1e1e1e" stroke-width="3.8" stroke-linecap="round"/>
<line x1="978" y1="461" x2="982" y2="560" stroke="#1f1f1f" stroke-width="2.7" stroke-linecap="round"/>
<line x1="853" y1="461" x2="850" y2="565" stroke="#7d7d7d" stroke-width="2.4" stroke-linecap="round"/>
<line x1="1284" y1="331" x2="1281" y2="463" stroke="#191919" stroke-width="3.8" stroke-linecap="round"/>
<line x1="854" y1="304" x2="858" y2="429" stroke="#5d5d5d" stroke-width="3" stroke-linecap="round"/>
<line x1="1275" y1="310" x2="1272" y2="410" stroke="#5e5e5e" stroke-width="4.2" stroke-linecap="round"/>
<line x1="1214" y1="432" x2="1211" y2="536" stroke="#747474" stroke-width="2.4" stroke-linecap="round"/>
<line x1="1311" y1="380" x2="1314" y2="514" stroke="#6a6a6a" stroke-width="4.1" stroke-linecap="round"/>
<line x1="968" y1="309" x2="966" y2="378" stroke="#5d5d5d" stroke-width="2.8" stroke-linecap="round"/>
<line x1="1208" y1="394" x2="1211" y2="508" stroke="#444444" stroke-width="3.9" stroke-linecap="round"/>
<line x1="918" y1="377" x2="920" y2="503" stroke="#5b5b5b" stroke-width="2.6" stroke-linecap="round"/>
<line x1="806" y1="402" x2="806" y2="495" stroke="#5e5e5e" stroke-width="3.5" stroke-linecap="round"/>
<line x1="987" y1="416" x2="986" y2="555" stroke="#1b1b1b" stroke-width="4.4" stroke-linecap="round"/>
<line x1="938" y1="416" x2="942" y2="508" stroke="#242424" stroke-width="2.9" stroke-linecap="round"/>
<line x1="776" y1="281" x2="775" y2="407" stroke="#252525" stroke-width="2.9" stroke-linecap="round"/>
<line x1="897" y1="404" x2="898" y2="515" stroke="#707070" stroke-width="2.6" stroke-linecap="round"/>
<line x1="1037" y1="388" x2="1038" y2="528" stroke="#5b5b5b" stroke-width="3.8" stroke-linecap="round"/>
<line x1="1132" y1="319" x2="1128" y2="442" stroke="#646464" stroke-width="3.2" stroke-linecap="round"/>
<line x1="1311" y1="415" x2="1312" y2="504" stroke="#666666" stroke-width="4" stroke-linecap="round"/>
<line x1="1152" y1="378" x2="1154" y2="479" stroke="#6b6b6b" stroke-width="3.4" stroke-linecap="round"/>
<line x1="1010" y1="474" x2="1012" y2="512" stroke="#383838" stroke-width="4.1" stroke-linecap="round"/>
<line x1="1237" y1="371" x2="1234" y2="444" stroke="#4f4f4f" stroke-width="3.3" stroke-linecap="round"/>
<line x1="1015" y1="337" x2="1015" y2="439" stroke="#8b8b8b" stroke-width="2.6" stroke-linecap="round"/>
<line x1="759" y1="398" x2="756" y2="449" stroke="#4e4e4e" stroke-width="3.3" stroke-linecap="round"/>
<line x1="854" y1="343" x2="858" y2="412" stroke="#1d1d1d" stroke-width="3.2" stroke-linecap="round"/>
<line x1="1073" y1="302" x2="1073" y2="430" stroke="#626262" stroke-width="2.7" stroke-linecap="round"/>
<line x1="766" y1="468" x2="765" y2="514" stroke="#151515" stroke-width="3.6" stroke-linecap="round"/>
<line x1="1101" y1="376" x2="1105" y2="497" stroke="#282828" stroke-width="3.3" stroke-linecap="round"/>
<line x1="1202" y1="405" x2="1205" y2="465" stroke="#797979" stroke-width="3.8" stroke-linecap="round"/>
<line x1="921" y1="303" x2="924" y2="347" stroke="#606060" stroke-width="2.4" stroke-linecap="round"/>
<line x1="1033" y1="391" x2="1033" y2="513" stroke="#4b4b4b" stroke-width="4.2" stroke-linecap="round"/>
<line x1="1301" y1="350" x2="1299" y2="406" stroke="#151515" stroke-width="3.2" stroke-linecap="round"/>
<line x1="1193" y1="315" x2="1194" y2="399" stroke="#6c6c6c" stroke-width="2" stroke-linecap="round"/>
<line x1="1244" y1="295" x2="1245" y2="400" stroke="#5c5c5c" stroke-width="2.7" stroke-linecap="round"/>
<line x1="763" y1="424" x2="761" y2="468" stroke="#212121" stroke-width="2.7" stroke-linecap="round"/>
<line x1="1093" y1="455" x2="1092" y2="517" stroke="#5b5b5b" stroke-width="4" stroke-linecap="round"/>
<line x1="1129" y1="461" x2="1127" y2="536" stroke="#141414" stroke-width="3.8" stroke-linecap="round"/>
<line x1="898" y1="352" x2="898" y2="390" stroke="#7a7a7a" stroke-width="2.8" stroke-linecap="round"/>
<line x1="1028" y1="297" x2="1025" y2="428" stroke="#4f4f4f" stroke-width="3.5" stroke-linecap="round"/>
<line x1="1209" y1="408" x2="1213" y2="442" stroke="#4d4d4d" stroke-width="3" stroke-linecap="round"/>
<line x1="829" y1="324" x2="828" y2="409" stroke="#4e4e4e" stroke-width="2.8" stroke-linecap="round"/>
<line x1="1204" y1="312" x2="1208" y2="450" stroke="#616161" stroke-width="4.2" stroke-linecap="round"/>
<line x1="1066" y1="345" x2="1068" y2="424" stroke="#5f5f5f" stroke-width="4.3" stroke-linecap="round"/>
<line x1="690" y1="405" x2="690" y2="444" stroke="#353535" stroke-width="3.2" stroke-linecap="round"/>
<line x1="746" y1="402" x2="749" y2="469" stroke="#8b8b8b" stroke-width="2.6" stroke-linecap="round"/>
<line x1="1248" y1="406" x2="1249" y2="520" stroke="#565656" stroke-width="3.3" stroke-linecap="round"/>
<line x1="1287" y1="325" x2="1288" y2="393" stroke="#222222" stroke-width="4.2" stroke-linecap="round"/>
<line x1="1178" y1="350" x2="1177" y2="459" stroke="#3c3c3c" stroke-width="3.2" stroke-linecap="round"/>
<line x1="777" y1="368" x2="774" y2="406" stroke="#161616" stroke-width="4.2" stroke-linecap="round"/>
<line x1="1284" y1="387" x2="1281" y2="445" stroke="#1b1b1b" stroke-width="3.7" stroke-linecap="round"/>
<line x1="958" y1="476" x2="958" y2="512" stroke="#676767" stroke-width="2.7" stroke-linecap="round"/>
<line x1="888" y1="440" x2="885" y2="558" stroke="#727272" stroke-width="3.3" stroke-linecap="round"/>
<line x1="1032" y1="465" x2="1031" y2="535" stroke="#262626" stroke-width="4.2" stroke-linecap="round"/>
<line x1="1083" y1="336" x2="1080" y2="394" stroke="#242424" stroke-width="4.4" stroke-linecap="round"/>
<line x1="1276" y1="377" x2="1279" y2="424" stroke="#535353" stroke-width="3.5" stroke-linecap="round"/>
<line x1="1109" y1="352" x2="1107" y2="401" stroke="#747474" stroke-width="4.1" stroke-linecap="round"/>
<line x1="1038" y1="272" x2="1036" y2="404" stroke="#505050" stroke-width="3.9" stroke-linecap="round"/>
<line x1="775" y1="372" x2="777" y2="477" stroke="#2a2a2a" stroke-width="3.1" stroke-linecap="round"/>
<line x1="972" y1="394" x2="970" y2="462" stroke="#616161" stroke-width="2.3" stroke-linecap="round"/>
<line x1="804" y1="308" x2="800" y2="443" stroke="#949494" stroke-width="4.1" stroke-linecap="round"/>
<line x1="1129" y1="317" x2="1128" y2="421" stroke="#272727" stroke-width="2.4" stroke-linecap="round"/>
<line x1="1263" y1="440" x2="1265" y2="487" stroke="#525252" stroke-width="3.1" stroke-linecap="round"/>
<line x1="969" y1="335" x2="967" y2="451" stroke="#4c4c4c" stroke-width="2.3" stroke-linecap="round"/>
<line x1="961" y1="291" x2="963" y2="403" stroke="#151515" stroke-width="2.1" stroke-linecap="round"/>
<line x1="759" y1="414" x2="757" y2="458" stroke="#545454" stroke-width="3.1" stroke-linecap="round"/>
<line x1="1180" y1="350" x2="1183" y2="427" stroke="#444444" stroke-width="3.2" stroke-linecap="round"/>
<line x1="1034" y1="338" x2="1031" y2="451" stroke="#6c6c6c" stroke-width="2.8" stroke-linecap="round"/>
<line x1="920" y1="382" x2="924" y2="432" stroke="#787878" stroke-width="2.5" stroke-linecap="round"/>
<line x1="738" y1="441" x2="738" y2="471" stroke="#4c4c4c" stroke-width="4.4" stroke-linecap="round"/>
<line x1="991" y1="390" x2="989" y2="475" stroke="#191919" stroke-width="2.4" stroke-linecap="round"/>
<line x1="1295" y1="386" x2="1292" y2="464" stroke="#656565" stroke-width="2.8" stroke-linecap="round"/>
<line x1="828" y1="384" x2="830" y2="472" stroke="#5b5b5b" stroke-width="2.9" stroke-linecap="round"/>
<line x1="1237" y1="420" x2="1238" y2="509" stroke="#5f5f5f" stroke-width="3.1" stroke-linecap="round"/>
<line x1="842" y1="476" x2="838" y2="596" stroke="#525252" stroke-width="2.3" stroke-linecap="round"/>
<line x1="760" y1="436" x2="761" y2="567" stroke="#7e7e7e" stroke-width="3.1" stroke-linecap="round"/>
<line x1="1007" y1="357" x2="1007" y2="401" stroke="#545454" stroke-width="4.3" stroke-linecap="round"/>
<line x1="1109" y1="363" x2="1110" y2="482" stroke="#111111" stroke-width="4.1" stroke-linecap="round"/>
<line x1="913" y1="447" x2="913" y2="525" stroke="#505050" stroke-width="2.1" stroke-linecap="round"/>
<line x1="1016" y1="385" x2="1020" y2="435" stroke="#454545" stroke-width="2.9" stroke-linecap="round"/>
<line x1="1094" y1="425" x2="1094" y2="551" stroke="#242424" stroke-width="2.8" stroke-linecap="round"/>
<line x1="791" y1="461" x2="787" y2="496" stroke="#101010" stroke-width="3.9" stroke-linecap="round"/>
<line x1="817" y1="328" x2="819" y2="401" stroke="#282828" stroke-width="3.2" stroke-linecap="round"/>
<line x1="1138" y1="431" x2="1134" y2="463" stroke="#272727" stroke-width="4.3" stroke-linecap="round"/>
<line x1="1222" y1="279" x2="1219" y2="322" stroke="#323232" stroke-width="3.6" stroke-linecap="round"/>
<line x1="1217" y1="393" x2="1220" y2="502" stroke="#575757" stroke-width="4.3" stroke-linecap="round"/>
<line x1="1072" y1="462" x2="1071" y2="494" stroke="#626262" stroke-width="4.4" stroke-linecap="round"/>
<line x1="843" y1="354" x2="845" y2="418" stroke="#292929" stroke-width="4.3" stroke-linecap="round"/>
<line x1="1019" y1="326" x2="1018" y2="417" stroke="#4e4e4e" stroke-width="2" stroke-linecap="round"/>
<line x1="809" y1="376" x2="807" y2="452" stroke="#252525" stroke-width="3.6" stroke-linecap="round"/>
<line x1="1261" y1="397" x2="1263" y2="476" stroke="#171717" stroke-width="3.8" stroke-linecap="round"/>
<line x1="1180" y1="306" x2="1184" y2="337" stroke="#515151" stroke-width="4" stroke-linecap="round"/>
<line x1="1081" y1="378" x2="1078" y2="454" stroke="#232323" stroke-width="3.9" stroke-linecap="round"/>
<line x1="804" y1="409" x2="800" y2="523" stroke="#4e4e4e" stroke-width="3.7" stroke-linecap="round"/>
<line x1="1059" y1="428" x2="1061" y2="488" stroke="#1a1a1a" stroke-width="3.8" stroke-linecap="round"/>
<line x1="884" y1="323" x2="883" y2="455" stroke="#2f2f2f" stroke-width="2.1" stroke-linecap="round"/>
<line x1="1248" y1="464" x2="1245" y2="508" stroke="#646464" stroke-width="3.8" stroke-linecap="round"/>
<line x1="967" y1="446" x2="964" y2="580" stroke="#666666" stroke-width="4.1" stroke-linecap="round"/>
<line x1="1175" y1="336" x2="1176" y2="424" stroke="#5a5a5a" stroke-width="3" stroke-linecap="round"/>
<line x1="1157" y1="281" x2="1157" y2="366" stroke="#343434" stroke-width="3" stroke-linecap="round"/>
<line x1="879" y1="415" x2="880" y2="536" stroke="#1e1e1e" stroke-width="4.1" stroke-linecap="round"/>
<line x1="804" y1="307" x2="803" y2="366" stroke="#222222" stroke-width="2.5" stroke-linecap="round"/>
<line x1="877" y1="417" x2="875" y2="511" stroke="#585858" stroke-width="2.8" stroke-linecap="round"/>
<line x1="787" y1="387" x2="785" y2="518" stroke="#7e7e7e" stroke-width="4" stroke-linecap="round"/>
<line x1="746" y1="275" x2="743" y2="385" stroke="#4b4b4b" stroke-width="2.4" stroke-linecap="round"/>
<line x1="769" y1="459" x2="772" y2="549" stroke="#414141" stroke-width="3.3" stroke-linecap="round"/>
<line x1="1266" y1="287" x2="1262" y2="324" stroke="#515151" stroke-width="3" stroke-linecap="round"/>
<line x1="962" y1="385" x2="959" y2="503" stroke="#191919" stroke-width="3.3" stroke-linecap="round"/>
<line x1="775" y1="396" x2="779" y2="533" stroke="#202020" stroke-width="2.6" stroke-linecap="round"/>
<line x1="733" y1="384" x2="734" y2="466" stroke="#545454" stroke-width="2.3" stroke-linecap="round"/>
<line x1="1075" y1="305" x2="1079" y2="381" stroke="#575757" stroke-width="3.7" stroke-linecap="round"/>
<line x1="738" y1="380" x2="742" y2="486" stroke="#7e7e7e" stroke-width="3.8" stroke-linecap="round"/>
<line x1="1177" y1="396" x2="1180" y2="468" stroke="#6b6b6b" stroke-width="3.7" stroke-linecap="round"/>
<line x1="1183" y1="356" x2="1182" y2="453" stroke="#1a1a1a" stroke-width="3.7" stroke-linecap="round"/>
<line x1="809" y1="328" x2="810" y2="417" stroke="#404040" stroke-width="3.5" stroke-linecap="round"/>
<line x1="1117" y1="400" x2="1115" y2="526" stroke="#141414" stroke-width="3.3" stroke-linecap="round"/>
<line x1="1131" y1="445" x2="1133" y2="579" stroke="#292929" stroke-width="3.9" stroke-linecap="round"/>
<line x1="1023" y1="402" x2="1021" y2="436" stroke="#1a1a1a" stroke-width="3.3" stroke-linecap="round"/>
<line x1="1287" y1="364" x2="1288" y2="428" stroke="#4e4e4e" stroke-width="3.3" stroke-linecap="round"/>
<line x1="1007" y1="428" x2="1010" y2="551" stroke="#4f4f4f" stroke-width="3.9" stroke-linecap="round"/>
<line x1="1024" y1="357" x2="1022" y2="475" stroke="#666666" stroke-width="3.5" stroke-linecap="round"/>
<line x1="1173" y1="409" x2="1173" y2="499" stroke="#1c1c1c" stroke-width="3.3" stroke-linecap="round"/>
<line x1="1075" y1="424" x2="1075" y2="509" stroke="#202020" stroke-width="3.3" stroke-linecap="round"/>
<line x1="1061" y1="394" x2="1059" y2="511" stroke="#181818" stroke-width="2.6" stroke-linecap="round"/>
<line x1="891" y1="346" x2="894" y2="405" stroke="#616161" stroke-width="3.8" stroke-linecap="round"/>
<line x1="1105" y1="277" x2="1106" y2="333" stroke="#272727" stroke-width="2.4" stroke-linecap="round"/>
<line x1="1212" y1="430" x2="1215" y2="474" stroke="#737373" stroke-width="3.2" stroke-linecap="round"/>
<line x1="1127" y1="300" x2="1124" y2="395" stroke="#272727" stroke-width="3" stroke-linecap="round"/>
<line x1="998" y1="457" x2="1000" y2="489" stroke="#1a1a1a" stroke-width="4" stroke-linecap="round"/>
<line x1="785" y1="307" x2="786" y2="417" stroke="#5e5e5e" stroke-width="3.9" stroke-linecap="round"/>
<line x1="909" y1="397" x2="909" y2="453" stroke="#676767" stroke-width="2.9" stroke-linecap="round"/>
<line x1="1002" y1="398" x2="1004" y2="538" stroke="#464646" stroke-width="3.3" stroke-linecap="round"/>
<line x1="901" y1="441" x2="904" y2="533" stroke="#858585" stroke-width="3.1" stroke-linecap="round"/>
<line x1="764" y1="330" x2="761" y2="381" stroke="#3f3f3f" stroke-width="4.4" stroke-linecap="round"/>
<line x1="848" y1="275" x2="849" y2="411" stroke="#282828" stroke-width="3.2" stroke-linecap="round"/>
<line x1="698" y1="433" x2="697" y2="562" stroke="#252525" stroke-width="3.5" stroke-linecap="round"/>
<line x1="829" y1="278" x2="832" y2="355" stroke="#4f4f4f" stroke-width="2.1" stroke-linecap="round"/>
<line x1="1207" y1="277" x2="1209" y2="412" stroke="#1b1b1b" stroke-width="2.2" stroke-linecap="round"/>
<line x1="776" y1="328" x2="774" y2="407" stroke="#676767" stroke-width="3.6" stroke-linecap="round"/>
<line x1="1172" y1="447" x2="1173" y2="562" stroke="#1a1a1a" stroke-width="3.7" stroke-linecap="round"/>
<line x1="1029" y1="442" x2="1031" y2="496" stroke="#303030" stroke-width="3.2" stroke-linecap="round"/>
<line x1="1050" y1="360" x2="1048" y2="443" stroke="#1f1f1f" stroke-width="4" stroke-linecap="round"/>
<line x1="1259" y1="339" x2="1261" y2="402" stroke="#747474" stroke-width="2.8" stroke-linecap="round"/>
<line x1="1191" y1="476" x2="1187" y2="523" stroke="#505050" stroke-width="4.3" stroke-linecap="round"/>
<line x1="825" y1="451" x2="824" y2="571" stroke="#6e6e6e" stroke-width="2.1" stroke-linecap="round"/>
<line x1="964" y1="467" x2="962" y2="567" stroke="#191919" stroke-width="2.1" stroke-linecap="round"/>
<line x1="765" y1="436" x2="762" y2="475" stroke="#484848" stroke-width="3.2" stroke-linecap="round"/>
<line x1="1035" y1="381" x2="1039" y2="516" stroke="#626262" stroke-width="3" stroke-linecap="round"/>
<line x1="865" y1="372" x2="869" y2="444" stroke="#656565" stroke-width="3.1" stroke-linecap="round"/>
<line x1="1172" y1="378" x2="1170" y2="436" stroke="#8b8b8b" stroke-width="3.6" stroke-linecap="round"/>
<line x1="942" y1="476" x2="946" y2="592" stroke="#272727" stroke-width="3.9" stroke-linecap="round"/>
<line x1="1061" y1="459" x2="1064" y2="597" stroke="#424242" stroke-width="4.4" stroke-linecap="round"/>
<line x1="1046" y1="397" x2="1047" y2="518" stroke="#464646" stroke-width="2.2" stroke-linecap="round"/>
<line x1="1256" y1="316" x2="1254" y2="392" stroke="#666666" stroke-width="2.6" stroke-linecap="round"/>
<line x1="1246" y1="275" x2="1243" y2="404" stroke="#5d5d5d" stroke-width="2.9" stroke-linecap="round"/>
<line x1="1148" y1="476" x2="1148" y2="578" stroke="#535353" stroke-width="3.4" stroke-linecap="round"/>
<line x1="1141" y1="314" x2="1143" y2="425" stroke="#7d7d7d" stroke-width="3" stroke-linecap="round"/>
<line x1="763" y1="310" x2="761" y2="444" stroke="#434343" stroke-width="4.4" stroke-linecap="round"/>
<line x1="1115" y1="462" x2="1118" y2="602" stroke="#121212" stroke-width="4" stroke-linecap="round"/>
<line x1="1259" y1="445" x2="1259" y2="479" stroke="#505050" stroke-width="4" stroke-linecap="round"/>
<line x1="756" y1="362" x2="753" y2="396" stroke="#191919" stroke-width="2.5" stroke-linecap="round"/>
<line x1="716" y1="361" x2="720" y2="393" stroke="#1e1e1e" stroke-width="4.3" stroke-linecap="round"/>
<line x1="866" y1="424" x2="868" y2="528" stroke="#656565" stroke-width="3.6" stroke-linecap="round"/>
<line x1="1041" y1="273" x2="1038" y2="386" stroke="#1f1f1f" stroke-width="2.4" stroke-linecap="round"/>
<line x1="997" y1="382" x2="998" y2="499" stroke="#373737" stroke-width="3.8" stroke-linecap="round"/>
<line x1="980" y1="476" x2="980" y2="530" stroke="#868686" stroke-width="3" stroke-linecap="round"/>
<line x1="1113" y1="393" x2="1110" y2="442" stroke="#292929" stroke-width="2.6" stroke-linecap="round"/>
<line x1="1090" y1="476" x2="1089" y2="531" stroke="#888888" stroke-width="2.5" stroke-linecap="round"/>
<line x1="1235" y1="348" x2="1236" y2="474" stroke="#565656" stroke-width="2.9" stroke-linecap="round"/>
<line x1="912" y1="324" x2="909" y2="373" stroke="#1b1b1b" stroke-width="3.2" stroke-linecap="round"/>
<line x1="839" y1="443" x2="840" y2="547" stroke="#565656" stroke-width="4.2" stroke-linecap="round"/>
<line x1="1064" y1="468" x2="1067" y2="515" stroke="#7e7e7e" stroke-width="3.5" stroke-linecap="round"/>
<line x1="1264" y1="333" x2="1267" y2="446" stroke="#818181" stroke-width="3.5" stroke-linecap="round"/>
<line x1="739" y1="406" x2="739" y2="442" stroke="#5b5b5b" stroke-width="2.1" stroke-linecap="round"/>
<line x1="1281" y1="305" x2="1285" y2="354" stroke="#1a1a1a" stroke-width="3" stroke-linecap="round"/>
<line x1="1275" y1="295" x2="1272" y2="434" stroke="#5a5a5a" stroke-width="3.3" stroke-linecap="round"/>
<line x1="1106" y1="428" x2="1103" y2="462" stroke="#151515" stroke-width="2.9" stroke-linecap="round"/>
<line x1="802" y1="470" x2="804" y2="551" stroke="#5f5f5f" stroke-width="3" stroke-linecap="round"/>
<line x1="1292" y1="329" x2="1292" y2="388" stroke="#535353" stroke-width="4.3" stroke-linecap="round"/>
<line x1="958" y1="313" x2="955" y2="425" stroke="#4b4b4b" stroke-width="2.8" stroke-linecap="round"/>
<line x1="1143" y1="299" x2="1140" y2="429" stroke="#2b2b2b" stroke-width="2.1" stroke-linecap="round"/>
<line x1="1264" y1="400" x2="1265" y2="458" stroke="#898989" stroke-width="3.1" stroke-linecap="round"/>
<line x1="1027" y1="450" x2="1027" y2="570" stroke="#6e6e6e" stroke-width="2.5" stroke-linecap="round"/>
<line x1="1088" y1="272" x2="1085" y2="350" stroke="#606060" stroke-width="3" stroke-linecap="round"/>
<line x1="1291" y1="362" x2="1292" y2="484" stroke="#525252" stroke-width="2.1" stroke-linecap="round"/>
<line x1="693" y1="284" x2="693" y2="342" stroke="#484848" stroke-width="4.2" stroke-linecap="round"/>
<line x1="1233" y1="410" x2="1235" y2="537" stroke="#707070" stroke-width="3.8" stroke-linecap="round"/>
<line x1="895" y1="318" x2="894" y2="364" stroke="#1c1c1c" stroke-width="4.2" stroke-linecap="round"/>
<line x1="1217" y1="458" x2="1216" y2="517" stroke="#505050" stroke-width="4.4" stroke-linecap="round"/>
<line x1="1055" y1="370" x2="1056" y2="473" stroke="#222222" stroke-width="4" stroke-linecap="round"/>
<line x1="1009" y1="410" x2="1011" y2="497" stroke="#1a1a1a" stroke-width="3.9" stroke-linecap="round"/>
<line x1="1280" y1="449" x2="1282" y2="498" stroke="#434343" stroke-width="4" stroke-linecap="round"/>
<line x1="1048" y1="448" x2="1045" y2="528" stroke="#606060" stroke-width="3.2" stroke-linecap="round"/>
<line x1="882" y1="462" x2="884" y2="595" stroke="#656565" stroke-width="3.8" stroke-linecap="round"/>
<line x1="952" y1="464" x2="956" y2="570" stroke="#4b4b4b" stroke-width="2.2" stroke-linecap="round"/>
<line x1="878" y1="298" x2="878" y2="411" stroke="#6e6e6e" stroke-width="3.8" stroke-linecap="round"/>
<line x1="1295" y1="399" x2="1291" y2="475" stroke="#404040" stroke-width="3.8" stroke-linecap="round"/>
<line x1="948" y1="292" x2="948" y2="415" stroke="#535353" stroke-width="2.7" stroke-linecap="round"/>
<line x1="711" y1="284" x2="709" y2="411" stroke="#1a1a1a" stroke-width="2.8" stroke-linecap="round"/>
<line x1="1194" y1="382" x2="1198" y2="470" stroke="#7c7c7c" stroke-width="4.3" stroke-linecap="round"/>
<line x1="708" y1="343" x2="704" y2="419" stroke="#393939" stroke-width="4" stroke-linecap="round"/>
<line x1="1192" y1="339" x2="1195" y2="371" stroke="#464646" stroke-width="4.2" stroke-linecap="round"/>
<line x1="1317" y1="434" x2="1316" y2="508" stroke="#1b1b1b" stroke-width="2.9" stroke-linecap="round"/>
<line x1="1170" y1="363" x2="1168" y2="430" stroke="#1d1d1d" stroke-width="2.2" stroke-linecap="round"/>
<line x1="1050" y1="404" x2="1051" y2="474" stroke="#626262" stroke-width="4.1" stroke-linecap="round"/>
<line x1="749" y1="310" x2="753" y2="408" stroke="#2b2b2b" stroke-width="4.1" stroke-linecap="round"/>
<line x1="1175" y1="328" x2="1172" y2="410" stroke="#2b2b2b" stroke-width="4" stroke-linecap="round"/>
<line x1="932" y1="318" x2="934" y2="357" stroke="#404040" stroke-width="3.3" stroke-linecap="round"/>
<line x1="1067" y1="450" x2="1064" y2="488" stroke="#303030" stroke-width="2.8" stroke-linecap="round"/>
<line x1="780" y1="403" x2="778" y2="531" stroke="#515151" stroke-width="2.2" stroke-linecap="round"/>
<line x1="729" y1="382" x2="733" y2="518" stroke="#292929" stroke-width="3.3" stroke-linecap="round"/>
<line x1="1090" y1="381" x2="1087" y2="436" stroke="#4f4f4f" stroke-width="3.9" stroke-linecap="round"/>
<line x1="926" y1="289" x2="926" y2="406" stroke="#7a7a7a" stroke-width="3.7" stroke-linecap="round"/>
<line x1="850" y1="444" x2="849" y2="497" stroke="#5d5d5d" stroke-width="2.8" stroke-linecap="round"/>
<line x1="1264" y1="343" x2="1263" y2="437" stroke="#6c6c6c" stroke-width="2.4" stroke-linecap="round"/>
<line x1="1306" y1="456" x2="1309" y2="576" stroke="#454545" stroke-width="4.1" stroke-linecap="round"/>
<line x1="1223" y1="331" x2="1219" y2="385" stroke="#1c1c1c" stroke-width="3.9" stroke-linecap="round"/>
<line x1="1301" y1="301" x2="1304" y2="404" stroke="#161616" stroke-width="4.3" stroke-linecap="round"/>
<line x1="793" y1="406" x2="792" y2="515" stroke="#666666" stroke-width="3.1" stroke-linecap="round"/>
<line x1="1130" y1="316" x2="1134" y2="398" stroke="#171717" stroke-width="2.5" stroke-linecap="round"/>
<line x1="979" y1="463" x2="976" y2="554" stroke="#141414" stroke-width="2.5" stroke-linecap="round"/>
<line x1="745" y1="475" x2="748" y2="606" stroke="#7d7d7d" stroke-width="2.8" stroke-linecap="round"/>
<line x1="901" y1="434" x2="904" y2="467" stroke="#4d4d4d" stroke-width="4.2" stroke-linecap="round"/>
<line x1="763" y1="333" x2="760" y2="445" stroke="#474747" stroke-width="2.5" stroke-linecap="round"/>
<line x1="935" y1="392" x2="933" y2="456" stroke="#1b1b1b" stroke-width="4.1" stroke-linecap="round"/>
<line x1="1062" y1="419" x2="1063" y2="521" stroke="#1a1a1a" stroke-width="4.1" stroke-linecap="round"/>
<line x1="1054" y1="415" x2="1056" y2="499" stroke="#6d6d6d" stroke-width="3.5" stroke-linecap="round"/>
<line x1="1304" y1="363" x2="1302" y2="407" stroke="#6f6f6f" stroke-width="2.8" stroke-linecap="round"/>
<line x1="1264" y1="290" x2="1261" y2="395" stroke="#3d3d3d" stroke-width="2.8" stroke-linecap="round"/>
<line x1="1093" y1="327" x2="1094" y2="363" stroke="#585858" stroke-width="3.9" stroke-linecap="round"/>
<line x1="699" y1="455" x2="699" y2="550" stroke="#737373" stroke-width="4.4" stroke-linecap="round"/>
<line x1="842" y1="439" x2="839" y2="543" stroke="#121212" stroke-width="3.7" stroke-linecap="round"/>
<line x1="775" y1="296" x2="777" y2="395" stroke="#202020" stroke-width="3.6" stroke-linecap="round"/>
<line x1="1262" y1="323" x2="1260" y2="460" stroke="#646464" stroke-width="4.3" stroke-linecap="round"/>
<line x1="1070" y1="440" x2="1069" y2="472" stroke="#474747" stroke-width="3.9" stroke-linecap="round"/>
<line x1="717" y1="386" x2="715" y2="456" stroke="#565656" stroke-width="4.4" stroke-linecap="round"/>
<line x1="1204" y1="455" x2="1208" y2="584" stroke="#4f4f4f" stroke-width="4.1" stroke-linecap="round"/>
<line x1="942" y1="359" x2="946" y2="450" stroke="#666666" stroke-width="2.5" stroke-linecap="round"/>
<line x1="825" y1="310" x2="822" y2="393" stroke="#454545" stroke-width="3.2" stroke-linecap="round"/>
<line x1="752" y1="282" x2="754" y2="362" stroke="#3b3b3b" stroke-width="2.5" stroke-linecap="round"/>
<line x1="740" y1="415" x2="740" y2="476" stroke="#353535" stroke-width="2.9" stroke-linecap="round"/>
<line x1="872" y1="479" x2="869" y2="599" stroke="#696969" stroke-width="4.3" stroke-linecap="round"/>
<line x1="738" y1="346" x2="737" y2="467" stroke="#484848" stroke-width="4" stroke-linecap="round"/>
<line x1="1243" y1="280" x2="1242" y2="354" stroke="#333333" stroke-width="3.4" stroke-linecap="round"/>
<line x1="1140" y1="440" x2="1137" y2="580" stroke="#464646" stroke-width="3.6" stroke-linecap="round"/>
<line x1="1310" y1="456" x2="1311" y2="562" stroke="#535353" stroke-width="3.6" stroke-linecap="round"/>
<line x1="828" y1="377" x2="831" y2="433" stroke="#161616" stroke-width="2" stroke-linecap="round"/>
<line x1="859" y1="377" x2="863" y2="409" stroke="#757575" stroke-width="2" stroke-linecap="round"/>
<line x1="1257" y1="471" x2="1257" y2="511" stroke="#5a5a5a" stroke-width="2.4" stroke-linecap="round"/>
<line x1="986" y1="287" x2="989" y2="322" stroke="#1e1e1e" stroke-width="2.2" stroke-linecap="round"/>
<line x1="1079" y1="310" x2="1075" y2="387" stroke="#444444" stroke-width="3.1" stroke-linecap="round"/>
<line x1="1269" y1="338" x2="1268" y2="451" stroke="#5d5d5d" stroke-width="2.1" stroke-linecap="round"/>
<line x1="715" y1="459" x2="715" y2="583" stroke="#1e1e1e" stroke-width="4.3" stroke-linecap="round"/>
<line x1="852" y1="274" x2="850" y2="331" stroke="#222222" stroke-width="4.1" stroke-linecap="round"/>
<line x1="1037" y1="314" x2="1034" y2="362" stroke="#484848" stroke-width="2.2" stroke-linecap="round"/>
<line x1="985" y1="392" x2="982" y2="459" stroke="#505050" stroke-width="2.1" stroke-linecap="round"/>
<line x1="1118" y1="458" x2="1118" y2="562" stroke="#3a3a3a" stroke-width="4.3" stroke-linecap="round"/>
<line x1="694" y1="430" x2="693" y2="564" stroke="#191919" stroke-width="3.4" stroke-linecap="round"/>
<line x1="749" y1="446" x2="749" y2="572" stroke="#181818" stroke-width="2.3" stroke-linecap="round"/>
<line x1="1161" y1="367" x2="1159" y2="410" stroke="#8c8c8c" stroke-width="3.6" stroke-linecap="round"/>
<line x1="773" y1="309" x2="771" y2="429" stroke="#222222" stroke-width="2.5" stroke-linecap="round"/>
<line x1="1153" y1="336" x2="1152" y2="393" stroke="#535353" stroke-width="3.9" stroke-linecap="round"/>
<line x1="1159" y1="308" x2="1156" y2="448" stroke="#232323" stroke-width="2.3" stroke-linecap="round"/>
<line x1="788" y1="453" x2="789" y2="553" stroke="#141414" stroke-width="3.5" stroke-linecap="round"/>
<line x1="1247" y1="464" x2="1251" y2="576" stroke="#5c5c5c" stroke-width="2.7" stroke-linecap="round"/>
<line x1="1156" y1="344" x2="1156" y2="448" stroke="#505050" stroke-width="3.9" stroke-linecap="round"/>
<line x1="979" y1="357" x2="979" y2="485" stroke="#5e5e5e" stroke-width="4.2" stroke-linecap="round"/>
<line x1="823" y1="355" x2="824" y2="435" stroke="#575757" stroke-width="3.7" stroke-linecap="round"/>
<line x1="1314" y1="349" x2="1312" y2="417" stroke="#828282" stroke-width="2.6" stroke-linecap="round"/>
<line x1="1239" y1="392" x2="1237" y2="460" stroke="#676767" stroke-width="2.8" stroke-linecap="round"/>
<line x1="884" y1="358" x2="885" y2="449" stroke="#303030" stroke-width="2.3" stroke-linecap="round"/>
<line x1="1214" y1="476" x2="1211" y2="561" stroke="#222222" stroke-width="4.4" stroke-linecap="round"/>
<line x1="1035" y1="404" x2="1037" y2="538" stroke="#131313" stroke-width="3" stroke-linecap="round"/>
<line x1="1052" y1="385" x2="1056" y2="473" stroke="#0b0b0b" stroke-width="3.7" stroke-linecap="round"/>
<line x1="1271" y1="400" x2="1273" y2="463" stroke="#797979" stroke-width="4.5" stroke-linecap="round"/>
<line x1="1113" y1="477" x2="1115" y2="541" stroke="#717171" stroke-width="4.5" stroke-linecap="round"/>
<line x1="1073" y1="271" x2="1070" y2="352" stroke="#474747" stroke-width="2.2" stroke-linecap="round"/>
<line x1="1241" y1="356" x2="1243" y2="425" stroke="#818181" stroke-width="2.6" stroke-linecap="round"/>
<line x1="1157" y1="396" x2="1159" y2="451" stroke="#626262" stroke-width="2.6" stroke-linecap="round"/>
<line x1="780" y1="307" x2="783" y2="434" stroke="#7b7b7b" stroke-width="2.1" stroke-linecap="round"/>
<line x1="827" y1="355" x2="828" y2="427" stroke="#656565" stroke-width="2.8" stroke-linecap="round"/>
<line x1="1297" y1="296" x2="1293" y2="382" stroke="#484848" stroke-width="4.5" stroke-linecap="round"/>
<line x1="1227" y1="352" x2="1226" y2="467" stroke="#1c1c1c" stroke-width="2.3" stroke-linecap="round"/>
<line x1="957" y1="476" x2="958" y2="553" stroke="#6b6b6b" stroke-width="3.3" stroke-linecap="round"/>
<line x1="1197" y1="454" x2="1197" y2="541" stroke="#4a4a4a" stroke-width="2.1" stroke-linecap="round"/>
<line x1="1108" y1="406" x2="1104" y2="498" stroke="#505050" stroke-width="2.7" stroke-linecap="round"/>
<line x1="811" y1="452" x2="814" y2="540" stroke="#7a7a7a" stroke-width="2.9" stroke-linecap="round"/>
<line x1="981" y1="310" x2="979" y2="407" stroke="#131313" stroke-width="4.1" stroke-linecap="round"/>
<line x1="858" y1="305" x2="859" y2="366" stroke="#7d7d7d" stroke-width="3.8" stroke-linecap="round"/>
<line x1="764" y1="312" x2="764" y2="448" stroke="#585858" stroke-width="3.3" stroke-linecap="round"/>
<line x1="1061" y1="405" x2="1058" y2="484" stroke="#4a4a4a" stroke-width="2.7" stroke-linecap="round"/>
<line x1="1092" y1="411" x2="1089" y2="480" stroke="#4a4a4a" stroke-width="4.4" stroke-linecap="round"/>
<line x1="907" y1="274" x2="908" y2="374" stroke="#515151" stroke-width="3" stroke-linecap="round"/>
<line x1="998" y1="377" x2="1000" y2="483" stroke="#535353" stroke-width="3.1" stroke-linecap="round"/>
<line x1="1107" y1="465" x2="1109" y2="570" stroke="#515151" stroke-width="4.5" stroke-linecap="round"/>
<line x1="1112" y1="272" x2="1116" y2="316" stroke="#4f4f4f" stroke-width="3.4" stroke-linecap="round"/>
<line x1="767" y1="469" x2="771" y2="601" stroke="#606060" stroke-width="2.7" stroke-linecap="round"/>
<line x1="845" y1="449" x2="849" y2="480" stroke="#414141" stroke-width="3.7" stroke-linecap="round"/>
<line x1="941" y1="420" x2="940" y2="530" stroke="#2c2c2c" stroke-width="3.9" stroke-linecap="round"/>
<line x1="1210" y1="457" x2="1211" y2="533" stroke="#474747" stroke-width="2.7" stroke-linecap="round"/>
<line x1="794" y1="361" x2="794" y2="462" stroke="#0d0d0d" stroke-width="4.1" stroke-linecap="round"/>
<line x1="1036" y1="409" x2="1035" y2="499" stroke="#424242" stroke-width="3.9" stroke-linecap="round"/>
<line x1="704" y1="430" x2="703" y2="489" stroke="#1e1e1e" stroke-width="3.4" stroke-linecap="round"/>
<line x1="1254" y1="301" x2="1257" y2="413" stroke="#727272" stroke-width="2.8" stroke-linecap="round"/>
<line x1="866" y1="292" x2="865" y2="364" stroke="#232323" stroke-width="3.4" stroke-linecap="round"/>
<line x1="940" y1="436" x2="943" y2="521" stroke="#7a7a7a" stroke-width="2.3" stroke-linecap="round"/>
<line x1="1126" y1="309" x2="1129" y2="412" stroke="#1b1b1b" stroke-width="3.9" stroke-linecap="round"/>
<line x1="738" y1="338" x2="738" y2="370" stroke="#101010" stroke-width="4.2" stroke-linecap="round"/>
<line x1="1236" y1="379" x2="1238" y2="419" stroke="#1f1f1f" stroke-width="3.4" stroke-linecap="round"/>
<line x1="737" y1="308" x2="735" y2="394" stroke="#4c4c4c" stroke-width="3.4" stroke-linecap="round"/>
<line x1="1094" y1="317" x2="1093" y2="434" stroke="#767676" stroke-width="3.7" stroke-linecap="round"/>
<line x1="829" y1="433" x2="827" y2="570" stroke="#4d4d4d" stroke-width="3.7" stroke-linecap="round"/>
<line x1="1254" y1="388" x2="1250" y2="467" stroke="#3f3f3f" stroke-width="2.8" stroke-linecap="round"/>
<line x1="908" y1="350" x2="909" y2="385" stroke="#161616" stroke-width="2.8" stroke-linecap="round"/>
<line x1="781" y1="459" x2="784" y2="506" stroke="#636363" stroke-width="4.1" stroke-linecap="round"/>
<line x1="765" y1="446" x2="767" y2="495" stroke="#212121" stroke-width="4" stroke-linecap="round"/>
<line x1="887" y1="452" x2="884" y2="511" stroke="#5c5c5c" stroke-width="2.9" stroke-linecap="round"/>
<line x1="814" y1="371" x2="815" y2="452" stroke="#777777" stroke-width="3.9" stroke-linecap="round"/>
<line x1="856" y1="466" x2="855" y2="580" stroke="#1b1b1b" stroke-width="2.8" stroke-linecap="round"/>
<line x1="1072" y1="448" x2="1076" y2="540" stroke="#757575" stroke-width="3" stroke-linecap="round"/>
<line x1="934" y1="426" x2="932" y2="545" stroke="#242424" stroke-width="4.3" stroke-linecap="round"/>
<line x1="992" y1="320" x2="990" y2="447" stroke="#222222" stroke-width="3.4" stroke-linecap="round"/>
<line x1="1054" y1="319" x2="1051" y2="456" stroke="#636363" stroke-width="3.6" stroke-linecap="round"/>
<line x1="1145" y1="434" x2="1142" y2="496" stroke="#1a1a1a" stroke-width="4.3" stroke-linecap="round"/>
<line x1="1073" y1="441" x2="1072" y2="473" stroke="#646464" stroke-width="2.5" stroke-linecap="round"/>
<line x1="1130" y1="341" x2="1132" y2="387" stroke="#1f1f1f" stroke-width="4" stroke-linecap="round"/>
<line x1="1116" y1="455" x2="1117" y2="592" stroke="#545454" stroke-width="2.2" stroke-linecap="round"/>
<line x1="885" y1="403" x2="885" y2="460" stroke="#525252" stroke-width="2.8" stroke-linecap="round"/>
<line x1="940" y1="282" x2="940" y2="380" stroke="#171717" stroke-width="4" stroke-linecap="round"/>
<line x1="917" y1="473" x2="916" y2="548" stroke="#1d1d1d" stroke-width="3.5" stroke-linecap="round"/>
<line x1="957" y1="329" x2="958" y2="401" stroke="#585858" stroke-width="2.5" stroke-linecap="round"/>
<line x1="1032" y1="329" x2="1034" y2="416" stroke="#5a5a5a" stroke-width="3.6" stroke-linecap="round"/>
<line x1="776" y1="438" x2="778" y2="539" stroke="#111111" stroke-width="2.1" stroke-linecap="round"/>
<line x1="714" y1="380" x2="712" y2="422" stroke="#4f4f4f" stroke-width="3.7" stroke-linecap="round"/>
<line x1="953" y1="432" x2="956" y2="537" stroke="#626262" stroke-width="2.6" stroke-linecap="round"/>
<line x1="899" y1="395" x2="900" y2="429" stroke="#555555" stroke-width="4.5" stroke-linecap="round"/>
<line x1="1284" y1="286" x2="1284" y2="344" stroke="#484848" stroke-width="2.2" stroke-linecap="round"/>
<line x1="1019" y1="288" x2="1017" y2="346" stroke="#212121" stroke-width="2.9" stroke-linecap="round"/>
<line x1="1305" y1="411" x2="1308" y2="447" stroke="#292929" stroke-width="3.6" stroke-linecap="round"/>
<line x1="990" y1="303" x2="993" y2="382" stroke="#888888" stroke-width="4.3" stroke-linecap="round"/>
<line x1="751" y1="441" x2="749" y2="500" stroke="#181818" stroke-width="2" stroke-linecap="round"/>
<line x1="822" y1="432" x2="826" y2="498" stroke="#424242" stroke-width="4.1" stroke-linecap="round"/>
<line x1="1303" y1="400" x2="1306" y2="522" stroke="#181818" stroke-width="4.1" stroke-linecap="round"/>
<line x1="784" y1="476" x2="783" y2="531" stroke="#828282" stroke-width="2.1" stroke-linecap="round"/>
<line x1="981" y1="480" x2="981" y2="596" stroke="#4f4f4f" stroke-width="3" stroke-linecap="round"/>
<line x1="1150" y1="310" x2="1151" y2="433" stroke="#212121" stroke-width="2.7" stroke-linecap="round"/>
<line x1="1128" y1="275" x2="1131" y2="376" stroke="#6a6a6a" stroke-width="3.3" stroke-linecap="round"/>
<line x1="935" y1="352" x2="932" y2="396" stroke="#565656" stroke-width="3.1" stroke-linecap="round"/>
<line x1="1088" y1="375" x2="1086" y2="500" stroke="#181818" stroke-width="4.4" stroke-linecap="round"/>
<line x1="837" y1="355" x2="835" y2="386" stroke="#1b1b1b" stroke-width="3.3" stroke-linecap="round"/>
<line x1="1184" y1="356" x2="1185" y2="426" stroke="#222222" stroke-width="2.2" stroke-linecap="round"/>
<line x1="1162" y1="411" x2="1166" y2="500" stroke="#4f4f4f" stroke-width="3.8" stroke-linecap="round"/>
<line x1="1003" y1="416" x2="1006" y2="501" stroke="#222222" stroke-width="4.2" stroke-linecap="round"/>
<line x1="1132" y1="387" x2="1128" y2="422" stroke="#0a0a0a" stroke-width="3.8" stroke-linecap="round"/>
<line x1="810" y1="341" x2="813" y2="468" stroke="#1f1f1f" stroke-width="2.8" stroke-linecap="round"/>
<line x1="1189" y1="413" x2="1188" y2="510" stroke="#181818" stroke-width="3.8" stroke-linecap="round"/>
<line x1="834" y1="380" x2="836" y2="446" stroke="#929292" stroke-width="3.9" stroke-linecap="round"/>
<line x1="1034" y1="372" x2="1035" y2="441" stroke="#404040" stroke-width="2.9" stroke-linecap="round"/>
<line x1="973" y1="457" x2="974" y2="529" stroke="#222222" stroke-width="2.8" stroke-linecap="round"/>
<line x1="1014" y1="366" x2="1016" y2="434" stroke="#5d5d5d" stroke-width="3.7" stroke-linecap="round"/>
<line x1="1031" y1="342" x2="1032" y2="399" stroke="#4a4a4a" stroke-width="2.7" stroke-linecap="round"/>
<line x1="1268" y1="295" x2="1269" y2="350" stroke="#606060" stroke-width="3.8" stroke-linecap="round"/>
<line x1="930" y1="276" x2="926" y2="352" stroke="#0b0b0b" stroke-width="3.7" stroke-linecap="round"/>
<line x1="1052" y1="366" x2="1052" y2="484" stroke="#555555" stroke-width="4.2" stroke-linecap="round"/>
<line x1="883" y1="400" x2="882" y2="456" stroke="#7f7f7f" stroke-width="3.6" stroke-linecap="round"/>
<line x1="1000" y1="455" x2="1001" y2="564" stroke="#151515" stroke-width="2" stroke-linecap="round"/>
<line x1="789" y1="449" x2="792" y2="523" stroke="#4e4e4e" stroke-width="2.4" stroke-linecap="round"/>
<line x1="1293" y1="309" x2="1296" y2="345" stroke="#5c5c5c" stroke-width="2" stroke-linecap="round"/>
<line x1="866" y1="383" x2="865" y2="450" stroke="#676767" stroke-width="2.1" stroke-linecap="round"/>
<line x1="1287" y1="457" x2="1287" y2="558" stroke="#363636" stroke-width="4.3" stroke-linecap="round"/>
<line x1="1217" y1="312" x2="1218" y2="438" stroke="#242424" stroke-width="3.5" stroke-linecap="round"/>
<line x1="1065" y1="280" x2="1069" y2="396" stroke="#5c5c5c" stroke-width="3.6" stroke-linecap="round"/>
<line x1="866" y1="467" x2="864" y2="575" stroke="#252525" stroke-width="3.3" stroke-linecap="round"/>
<line x1="896" y1="455" x2="895" y2="566" stroke="#2c2c2c" stroke-width="3.5" stroke-linecap="round"/>
<line x1="1130" y1="279" x2="1131" y2="357" stroke="#7d7d7d" stroke-width="4" stroke-linecap="round"/>
<line x1="765" y1="430" x2="763" y2="501" stroke="#1d1d1d" stroke-width="2.1" stroke-linecap="round"/>
<line x1="1031" y1="444" x2="1029" y2="494" stroke="#1d1d1d" stroke-width="3.6" stroke-linecap="round"/>
<line x1="942" y1="421" x2="938" y2="479" stroke="#4a4a4a" stroke-width="4.4" stroke-linecap="round"/>
<line x1="1186" y1="474" x2="1184" y2="563" stroke="#565656" stroke-width="2.3" stroke-linecap="round"/>
<line x1="976" y1="368" x2="975" y2="478" stroke="#757575" stroke-width="3.3" stroke-linecap="round"/>
<line x1="1112" y1="298" x2="1109" y2="420" stroke="#1f1f1f" stroke-width="3.3" stroke-linecap="round"/>
<line x1="1030" y1="349" x2="1033" y2="400" stroke="#636363" stroke-width="3.7" stroke-linecap="round"/>
<line x1="1233" y1="311" x2="1235" y2="446" stroke="#515151" stroke-width="2.3" stroke-linecap="round"/>
<line x1="710" y1="460" x2="713" y2="551" stroke="#6d6d6d" stroke-width="3.5" stroke-linecap="round"/>
<line x1="900" y1="357" x2="903" y2="453" stroke="#575757" stroke-width="2.4" stroke-linecap="round"/>
<line x1="1247" y1="394" x2="1246" y2="515" stroke="#5c5c5c" stroke-width="4.3" stroke-linecap="round"/>
<line x1="840" y1="350" x2="841" y2="430" stroke="#232323" stroke-width="4.5" stroke-linecap="round"/>
<line x1="902" y1="445" x2="900" y2="570" stroke="#535353" stroke-width="3.3" stroke-linecap="round"/>
<line x1="710" y1="387" x2="710" y2="452" stroke="#121212" stroke-width="4.1" stroke-linecap="round"/>
<line x1="917" y1="477" x2="915" y2="543" stroke="#151515" stroke-width="4" stroke-linecap="round"/>
<line x1="1128" y1="363" x2="1131" y2="460" stroke="#5f5f5f" stroke-width="2.2" stroke-linecap="round"/>
<line x1="1192" y1="442" x2="1190" y2="494" stroke="#6c6c6c" stroke-width="2.8" stroke-linecap="round"/>
<line x1="783" y1="357" x2="784" y2="392" stroke="#515151" stroke-width="2" stroke-linecap="round"/>
<line x1="1210" y1="418" x2="1214" y2="536" stroke="#494949" stroke-width="3.4" stroke-linecap="round"/>
<line x1="1191" y1="392" x2="1193" y2="491" stroke="#5a5a5a" stroke-width="2.8" stroke-linecap="round"/>
<line x1="1093" y1="417" x2="1095" y2="475" stroke="#676767" stroke-width="3.4" stroke-linecap="round"/>
<line x1="1002" y1="467" x2="1003" y2="515" stroke="#414141" stroke-width="3.8" stroke-linecap="round"/>
<line x1="821" y1="292" x2="818" y2="344" stroke="#161616" stroke-width="3.9" stroke-linecap="round"/>
<line x1="899" y1="294" x2="901" y2="426" stroke="#555555" stroke-width="3.1" stroke-linecap="round"/>
<line x1="1248" y1="463" x2="1252" y2="537" stroke="#5b5b5b" stroke-width="3.8" stroke-linecap="round"/>
<line x1="1311" y1="413" x2="1310" y2="545" stroke="#1e1e1e" stroke-width="2.2" stroke-linecap="round"/>
<line x1="995" y1="312" x2="997" y2="435" stroke="#4e4e4e" stroke-width="3.7" stroke-linecap="round"/>
<line x1="1081" y1="477" x2="1083" y2="537" stroke="#191919" stroke-width="4.4" stroke-linecap="round"/>
<line x1="1090" y1="372" x2="1088" y2="468" stroke="#858585" stroke-width="4.3" stroke-linecap="round"/>
<line x1="822" y1="343" x2="818" y2="467" stroke="#494949" stroke-width="4.1" stroke-linecap="round"/>
<line x1="1171" y1="415" x2="1173" y2="500" stroke="#464646" stroke-width="3.3" stroke-linecap="round"/>
<line x1="1013" y1="288" x2="1009" y2="346" stroke="#444444" stroke-width="4.2" stroke-linecap="round"/>
<line x1="928" y1="440" x2="931" y2="542" stroke="#494949" stroke-width="2.5" stroke-linecap="round"/>
<line x1="1089" y1="404" x2="1090" y2="447" stroke="#181818" stroke-width="4.2" stroke-linecap="round"/>
<line x1="936" y1="367" x2="938" y2="441" stroke="#4f4f4f" stroke-width="3.3" stroke-linecap="round"/>
<line x1="1129" y1="284" x2="1129" y2="409" stroke="#505050" stroke-width="4.1" stroke-linecap="round"/>
<line x1="851" y1="445" x2="849" y2="536" stroke="#4c4c4c" stroke-width="2.9" stroke-linecap="round"/>
<line x1="727" y1="411" x2="730" y2="539" stroke="#1f1f1f" stroke-width="3.1" stroke-linecap="round"/>
<line x1="751" y1="436" x2="752" y2="516" stroke="#575757" stroke-width="3.3" stroke-linecap="round"/>
<line x1="763" y1="284" x2="767" y2="370" stroke="#101010" stroke-width="3.4" stroke-linecap="round"/>
<line x1="1294" y1="379" x2="1296" y2="459" stroke="#202020" stroke-width="3.8" stroke-linecap="round"/>
<line x1="1039" y1="301" x2="1036" y2="381" stroke="#737373" stroke-width="3.4" stroke-linecap="round"/>
<line x1="718" y1="305" x2="718" y2="374" stroke="#515151" stroke-width="3.4" stroke-linecap="round"/>
<line x1="1218" y1="452" x2="1219" y2="559" stroke="#6c6c6c" stroke-width="2.4" stroke-linecap="round"/>
<line x1="1219" y1="306" x2="1222" y2="358" stroke="#6c6c6c" stroke-width="2.3" stroke-linecap="round"/>
<line x1="1075" y1="383" x2="1074" y2="523" stroke="#1d1d1d" stroke-width="3.8" stroke-linecap="round"/>
<line x1="923" y1="363" x2="919" y2="438" stroke="#535353" stroke-width="3.3" stroke-linecap="round"/>
<line x1="1261" y1="464" x2="1264" y2="585" stroke="#363636" stroke-width="2.3" stroke-linecap="round"/>
<line x1="1227" y1="284" x2="1228" y2="360" stroke="#1e1e1e" stroke-width="2.2" stroke-linecap="round"/>
<line x1="1246" y1="480" x2="1250" y2="617" stroke="#888888" stroke-width="2.9" stroke-linecap="round"/>
<line x1="958" y1="411" x2="961" y2="551" stroke="#989898" stroke-width="3.2" stroke-linecap="round"/>
<line x1="1197" y1="344" x2="1193" y2="483" stroke="#585858" stroke-width="4.2" stroke-linecap="round"/>
<line x1="999" y1="438" x2="1001" y2="502" stroke="#686868" stroke-width="3.8" stroke-linecap="round"/>
<line x1="1225" y1="389" x2="1222" y2="504" stroke="#1a1a1a" stroke-width="4" stroke-linecap="round"/>
<line x1="1014" y1="282" x2="1014" y2="410" stroke="#7e7e7e" stroke-width="3.3" stroke-linecap="round"/>
<line x1="1257" y1="458" x2="1257" y2="539" stroke="#444444" stroke-width="2.1" stroke-linecap="round"/>
<line x1="817" y1="316" x2="813" y2="412" stroke="#282828" stroke-width="4.4" stroke-linecap="round"/>
<line x1="754" y1="374" x2="754" y2="485" stroke="#535353" stroke-width="2.5" stroke-linecap="round"/>
<line x1="985" y1="403" x2="987" y2="533" stroke="#242424" stroke-width="3.1" stroke-linecap="round"/>
<line x1="1199" y1="315" x2="1198" y2="427" stroke="#646464" stroke-width="2.3" stroke-linecap="round"/>
<line x1="1164" y1="308" x2="1167" y2="420" stroke="#505050" stroke-width="4" stroke-linecap="round"/>
<line x1="847" y1="305" x2="847" y2="396" stroke="#151515" stroke-width="3" stroke-linecap="round"/>
<line x1="871" y1="315" x2="868" y2="427" stroke="#3d3d3d" stroke-width="4.4" stroke-linecap="round"/>
<line x1="1079" y1="354" x2="1080" y2="416" stroke="#575757" stroke-width="4" stroke-linecap="round"/>
<line x1="791" y1="425" x2="787" y2="560" stroke="#4a4a4a" stroke-width="4" stroke-linecap="round"/>
<line x1="699" y1="462" x2="698" y2="595" stroke="#333333" stroke-width="3" stroke-linecap="round"/>
<line x1="965" y1="395" x2="969" y2="531" stroke="#555555" stroke-width="2" stroke-linecap="round"/>
<line x1="972" y1="349" x2="970" y2="440" stroke="#444444" stroke-width="3.2" stroke-linecap="round"/>
<line x1="987" y1="287" x2="990" y2="333" stroke="#141414" stroke-width="3.9" stroke-linecap="round"/>
<line x1="1110" y1="360" x2="1111" y2="393" stroke="#222222" stroke-width="3.5" stroke-linecap="round"/>
<line x1="839" y1="408" x2="841" y2="537" stroke="#202020" stroke-width="4.1" stroke-linecap="round"/>
<line x1="984" y1="376" x2="987" y2="438" stroke="#191919" stroke-width="3.9" stroke-linecap="round"/>
<line x1="829" y1="285" x2="826" y2="356" stroke="#4d4d4d" stroke-width="2.7" stroke-linecap="round"/>
<line x1="1291" y1="342" x2="1287" y2="400" stroke="#323232" stroke-width="2.9" stroke-linecap="round"/>
<line x1="766" y1="323" x2="766" y2="455" stroke="#6f6f6f" stroke-width="4.1" stroke-linecap="round"/>
<line x1="991" y1="305" x2="990" y2="350" stroke="#242424" stroke-width="3.1" stroke-linecap="round"/>
<line x1="1117" y1="478" x2="1120" y2="615" stroke="#707070" stroke-width="2.7" stroke-linecap="round"/>
<line x1="978" y1="462" x2="981" y2="602" stroke="#707070" stroke-width="2.9" stroke-linecap="round"/>
<line x1="734" y1="430" x2="737" y2="556" stroke="#6d6d6d" stroke-width="3.7" stroke-linecap="round"/>
<line x1="1231" y1="289" x2="1228" y2="338" stroke="#767676" stroke-width="2.6" stroke-linecap="round"/>
<line x1="1048" y1="347" x2="1045" y2="407" stroke="#222222" stroke-width="3.5" stroke-linecap="round"/>
<line x1="1288" y1="345" x2="1290" y2="468" stroke="#595959" stroke-width="4.1" stroke-linecap="round"/>
<line x1="1270" y1="332" x2="1267" y2="426" stroke="#1f1f1f" stroke-width="3" stroke-linecap="round"/>
<line x1="1165" y1="468" x2="1169" y2="513" stroke="#141414" stroke-width="3.1" stroke-linecap="round"/>
<line x1="1258" y1="446" x2="1260" y2="512" stroke="#555555" stroke-width="4.3" stroke-linecap="round"/>
<line x1="1234" y1="329" x2="1234" y2="371" stroke="#565656" stroke-width="3.4" stroke-linecap="round"/>
<line x1="1295" y1="371" x2="1295" y2="491" stroke="#878787" stroke-width="2.4" stroke-linecap="round"/>
<line x1="1308" y1="389" x2="1305" y2="487" stroke="#606060" stroke-width="4.4" stroke-linecap="round"/>
<line x1="1314" y1="299" x2="1316" y2="390" stroke="#1f1f1f" stroke-width="4.1" stroke-linecap="round"/>
<line x1="731" y1="311" x2="732" y2="425" stroke="#3e3e3e" stroke-width="2.9" stroke-linecap="round"/>
<line x1="911" y1="477" x2="911" y2="548" stroke="#4c4c4c" stroke-width="3" stroke-linecap="round"/>
<line x1="821" y1="418" x2="825" y2="529" stroke="#232323" stroke-width="3.7" stroke-linecap="round"/>
<line x1="715" y1="275" x2="719" y2="414" stroke="#1e1e1e" stroke-width="3.3" stroke-linecap="round"/>
<line x1="804" y1="343" x2="804" y2="376" stroke="#1b1b1b" stroke-width="2.4" stroke-linecap="round"/>
<line x1="1082" y1="313" x2="1085" y2="435" stroke="#131313" stroke-width="2.3" stroke-linecap="round"/>
<line x1="1132" y1="378" x2="1132" y2="415" stroke="#272727" stroke-width="2.5" stroke-linecap="round"/>
<line x1="818" y1="456" x2="816" y2="527" stroke="#4b4b4b" stroke-width="3.9" stroke-linecap="round"/>
<line x1="977" y1="327" x2="975" y2="453" stroke="#4e4e4e" stroke-width="3.2" stroke-linecap="round"/>
<line x1="1129" y1="322" x2="1126" y2="384" stroke="#5d5d5d" stroke-width="4.2" stroke-linecap="round"/>
<line x1="1053" y1="458" x2="1054" y2="495" stroke="#4e4e4e" stroke-width="3.9" stroke-linecap="round"/>
<line x1="992" y1="329" x2="994" y2="412" stroke="#858585" stroke-width="2.4" stroke-linecap="round"/>
<line x1="872" y1="468" x2="873" y2="536" stroke="#1c1c1c" stroke-width="2.7" stroke-linecap="round"/>
<line x1="1169" y1="448" x2="1173" y2="564" stroke="#191919" stroke-width="2.9" stroke-linecap="round"/>
<line x1="902" y1="404" x2="898" y2="541" stroke="#3f3f3f" stroke-width="3.6" stroke-linecap="round"/>
<line x1="823" y1="356" x2="824" y2="404" stroke="#5b5b5b" stroke-width="3.7" stroke-linecap="round"/>
<line x1="1283" y1="443" x2="1281" y2="490" stroke="#262626" stroke-width="4.2" stroke-linecap="round"/>
<line x1="1302" y1="315" x2="1303" y2="370" stroke="#505050" stroke-width="3.1" stroke-linecap="round"/>
<line x1="1250" y1="317" x2="1249" y2="389" stroke="#7e7e7e" stroke-width="4.5" stroke-linecap="round"/>
<line x1="1141" y1="345" x2="1143" y2="421" stroke="#494949" stroke-width="2.8" stroke-linecap="round"/>
<line x1="892" y1="274" x2="890" y2="384" stroke="#151515" stroke-width="2.5" stroke-linecap="round"/>
<line x1="727" y1="361" x2="730" y2="408" stroke="#505050" stroke-width="3.7" stroke-linecap="round"/>
<line x1="1133" y1="413" x2="1134" y2="544" stroke="#505050" stroke-width="3.8" stroke-linecap="round"/>
<line x1="761" y1="452" x2="764" y2="576" stroke="#151515" stroke-width="3.9" stroke-linecap="round"/>
<line x1="797" y1="454" x2="798" y2="493" stroke="#616161" stroke-width="2.2" stroke-linecap="round"/>
<line x1="1272" y1="408" x2="1272" y2="525" stroke="#202020" stroke-width="3.3" stroke-linecap="round"/>
<line x1="1139" y1="303" x2="1143" y2="401" stroke="#1e1e1e" stroke-width="2.8" stroke-linecap="round"/>
<line x1="989" y1="461" x2="991" y2="501" stroke="#1f1f1f" stroke-width="2.3" stroke-linecap="round"/>
<line x1="1036" y1="471" x2="1036" y2="581" stroke="#1c1c1c" stroke-width="2.7" stroke-linecap="round"/>
<line x1="795" y1="420" x2="797" y2="463" stroke="#6a6a6a" stroke-width="2.1" stroke-linecap="round"/>
<line x1="1089" y1="458" x2="1091" y2="555" stroke="#111111" stroke-width="3.6" stroke-linecap="round"/>
<line x1="1252" y1="385" x2="1250" y2="491" stroke="#1e1e1e" stroke-width="4" stroke-linecap="round"/>
<line x1="1035" y1="461" x2="1035" y2="563" stroke="#484848" stroke-width="3.8" stroke-linecap="round"/>
<line x1="958" y1="395" x2="957" y2="514" stroke="#5b5b5b" stroke-width="2.9" stroke-linecap="round"/>
<line x1="1248" y1="476" x2="1247" y2="598" stroke="#1d1d1d" stroke-width="3.9" stroke-linecap="round"/>
<line x1="1161" y1="379" x2="1163" y2="516" stroke="#2a2a2a" stroke-width="4" stroke-linecap="round"/>
<line x1="1144" y1="382" x2="1145" y2="513" stroke="#4d4d4d" stroke-width="4.3" stroke-linecap="round"/>
<line x1="1107" y1="386" x2="1105" y2="455" stroke="#535353" stroke-width="4.2" stroke-linecap="round"/>
<line x1="1307" y1="301" x2="1308" y2="332" stroke="#636363" stroke-width="2.1" stroke-linecap="round"/>
<line x1="1185" y1="286" x2="1184" y2="316" stroke="#717171" stroke-width="3.9" stroke-linecap="round"/>
<line x1="1196" y1="342" x2="1197" y2="454" stroke="#535353" stroke-width="3.7" stroke-linecap="round"/>
<line x1="724" y1="405" x2="725" y2="515" stroke="#202020" stroke-width="3.2" stroke-linecap="round"/>
<line x1="985" y1="464" x2="983" y2="510" stroke="#4b4b4b" stroke-width="2.7" stroke-linecap="round"/>
<line x1="699" y1="405" x2="699" y2="503" stroke="#222222" stroke-width="3.8" stroke-linecap="round"/>
<line x1="1087" y1="320" x2="1084" y2="444" stroke="#3e3e3e" stroke-width="3.4" stroke-linecap="round"/>
<line x1="865" y1="423" x2="866" y2="458" stroke="#585858" stroke-width="2.7" stroke-linecap="round"/>
<line x1="1285" y1="471" x2="1286" y2="593" stroke="#6b6b6b" stroke-width="3.2" stroke-linecap="round"/>
<line x1="995" y1="431" x2="996" y2="549" stroke="#181818" stroke-width="2" stroke-linecap="round"/>
<line x1="1288" y1="310" x2="1287" y2="425" stroke="#4e4e4e" stroke-width="3.4" stroke-linecap="round"/>
<line x1="1012" y1="458" x2="1009" y2="591" stroke="#686868" stroke-width="2.5" stroke-linecap="round"/>
<line x1="1290" y1="349" x2="1288" y2="465" stroke="#181818" stroke-width="3.2" stroke-linecap="round"/>
<line x1="979" y1="472" x2="982" y2="551" stroke="#4c4c4c" stroke-width="4.3" stroke-linecap="round"/>
<line x1="1283" y1="460" x2="1285" y2="534" stroke="#272727" stroke-width="4.1" stroke-linecap="round"/>
<line x1="1104" y1="402" x2="1100" y2="434" stroke="#7a7a7a" stroke-width="3.5" stroke-linecap="round"/>
<line x1="965" y1="359" x2="965" y2="458" stroke="#202020" stroke-width="2.2" stroke-linecap="round"/>
<line x1="1284" y1="454" x2="1287" y2="582" stroke="#676767" stroke-width="2.1" stroke-linecap="round"/>
<line x1="1086" y1="479" x2="1086" y2="595" stroke="#747474" stroke-width="2.2" stroke-linecap="round"/>
<line x1="707" y1="287" x2="705" y2="407" stroke="#7f7f7f" stroke-width="3.5" stroke-linecap="round"/>
<line x1="714" y1="393" x2="715" y2="486" stroke="#494949" stroke-width="3.9" stroke-linecap="round"/>
<line x1="1111" y1="375" x2="1111" y2="472" stroke="#454545" stroke-width="4.4" stroke-linecap="round"/>
<line x1="888" y1="400" x2="888" y2="491" stroke="#1e1e1e" stroke-width="2.7" stroke-linecap="round"/>
<line x1="1229" y1="358" x2="1225" y2="391" stroke="#151515" stroke-width="3.3" stroke-linecap="round"/>
<line x1="885" y1="471" x2="889" y2="512" stroke="#232323" stroke-width="2.2" stroke-linecap="round"/>
<line x1="1084" y1="309" x2="1087" y2="435" stroke="#838383" stroke-width="2.8" stroke-linecap="round"/>
<line x1="1066" y1="335" x2="1069" y2="424" stroke="#838383" stroke-width="3.8" stroke-linecap="round"/>
<line x1="836" y1="379" x2="838" y2="494" stroke="#494949" stroke-width="4.2" stroke-linecap="round"/>
<line x1="927" y1="332" x2="928" y2="423" stroke="#1e1e1e" stroke-width="4.5" stroke-linecap="round"/>
<line x1="742" y1="436" x2="741" y2="479" stroke="#545454" stroke-width="2.1" stroke-linecap="round"/>
<line x1="1168" y1="462" x2="1166" y2="523" stroke="#5c5c5c" stroke-width="4.3" stroke-linecap="round"/>
<line x1="890" y1="383" x2="888" y2="457" stroke="#262626" stroke-width="2.9" stroke-linecap="round"/>
<line x1="801" y1="391" x2="801" y2="524" stroke="#7e7e7e" stroke-width="2.9" stroke-linecap="round"/>
<line x1="781" y1="414" x2="782" y2="554" stroke="#5b5b5b" stroke-width="2.4" stroke-linecap="round"/>
<line x1="779" y1="478" x2="780" y2="577" stroke="#1e1e1e" stroke-width="2" stroke-linecap="round"/>
<line x1="1217" y1="394" x2="1220" y2="533" stroke="#1c1c1c" stroke-width="3.7" stroke-linecap="round"/>
<line x1="1316" y1="462" x2="1312" y2="592" stroke="#777777" stroke-width="3.9" stroke-linecap="round"/>
<line x1="974" y1="456" x2="977" y2="552" stroke="#131313" stroke-width="3.9" stroke-linecap="round"/>
<line x1="917" y1="469" x2="918" y2="589" stroke="#4f4f4f" stroke-width="3.8" stroke-linecap="round"/>
<line x1="771" y1="408" x2="772" y2="490" stroke="#535353" stroke-width="4.2" stroke-linecap="round"/>
<line x1="1148" y1="286" x2="1146" y2="412" stroke="#282828" stroke-width="2.4" stroke-linecap="round"/>
<line x1="1013" y1="394" x2="1014" y2="533" stroke="#4a4a4a" stroke-width="2.1" stroke-linecap="round"/>
<line x1="833" y1="439" x2="836" y2="511" stroke="#242424" stroke-width="4.1" stroke-linecap="round"/>
<line x1="988" y1="467" x2="985" y2="605" stroke="#252525" stroke-width="2.3" stroke-linecap="round"/>
<line x1="1187" y1="328" x2="1189" y2="367" stroke="#898989" stroke-width="3" stroke-linecap="round"/>
<line x1="1231" y1="386" x2="1228" y2="512" stroke="#111111" stroke-width="2.9" stroke-linecap="round"/>
<line x1="988" y1="310" x2="985" y2="389" stroke="#414141" stroke-width="2.9" stroke-linecap="round"/>
<line x1="1256" y1="366" x2="1255" y2="483" stroke="#525252" stroke-width="3" stroke-linecap="round"/>
<line x1="785" y1="306" x2="787" y2="363" stroke="#3b3b3b" stroke-width="2" stroke-linecap="round"/>
<line x1="976" y1="468" x2="977" y2="607" stroke="#4f4f4f" stroke-width="3.2" stroke-linecap="round"/>
<line x1="906" y1="330" x2="905" y2="427" stroke="#1a1a1a" stroke-width="2.5" stroke-linecap="round"/>
<line x1="1204" y1="439" x2="1205" y2="474" stroke="#5a5a5a" stroke-width="2.5" stroke-linecap="round"/>
<line x1="1266" y1="432" x2="1269" y2="528" stroke="#0b0b0b" stroke-width="2.8" stroke-linecap="round"/>
<line x1="1010" y1="282" x2="1010" y2="364" stroke="#1b1b1b" stroke-width="4.2" stroke-linecap="round"/>
<line x1="1090" y1="380" x2="1091" y2="515" stroke="#757575" stroke-width="3.3" stroke-linecap="round"/>
<line x1="1132" y1="404" x2="1130" y2="542" stroke="#646464" stroke-width="2.2" stroke-linecap="round"/>
<line x1="1310" y1="382" x2="1307" y2="426" stroke="#696969" stroke-width="3.2" stroke-linecap="round"/>
<line x1="1018" y1="272" x2="1018" y2="334" stroke="#464646" stroke-width="3.5" stroke-linecap="round"/>
<line x1="745" y1="310" x2="743" y2="415" stroke="#505050" stroke-width="2.3" stroke-linecap="round"/>
<line x1="1295" y1="357" x2="1294" y2="481" stroke="#828282" stroke-width="2.5" stroke-linecap="round"/>
<line x1="1124" y1="386" x2="1128" y2="419" stroke="#4a4a4a" stroke-width="3.4" stroke-linecap="round"/>
<line x1="831" y1="412" x2="828" y2="536" stroke="#4c4c4c" stroke-width="4.1" stroke-linecap="round"/>
<line x1="1259" y1="327" x2="1260" y2="424" stroke="#101010" stroke-width="3.2" stroke-linecap="round"/>
<line x1="766" y1="393" x2="764" y2="440" stroke="#1a1a1a" stroke-width="3.7" stroke-linecap="round"/>
<line x1="986" y1="433" x2="983" y2="524" stroke="#1b1b1b" stroke-width="4" stroke-linecap="round"/>
<line x1="1297" y1="292" x2="1298" y2="411" stroke="#6a6a6a" stroke-width="3.8" stroke-linecap="round"/>
<line x1="964" y1="400" x2="962" y2="484" stroke="#606060" stroke-width="2.8" stroke-linecap="round"/>
<line x1="1170" y1="389" x2="1170" y2="462" stroke="#5a5a5a" stroke-width="4.4" stroke-linecap="round"/>
<line x1="1014" y1="430" x2="1011" y2="537" stroke="#1d1d1d" stroke-width="3.9" stroke-linecap="round"/>
<line x1="1219" y1="426" x2="1217" y2="487" stroke="#7e7e7e" stroke-width="2.2" stroke-linecap="round"/>
<line x1="802" y1="432" x2="801" y2="494" stroke="#272727" stroke-width="4.3" stroke-linecap="round"/>
<line x1="807" y1="353" x2="810" y2="421" stroke="#777777" stroke-width="3.5" stroke-linecap="round"/>
<line x1="803" y1="335" x2="802" y2="390" stroke="#787878" stroke-width="4.2" stroke-linecap="round"/>
<line x1="1119" y1="353" x2="1119" y2="390" stroke="#6e6e6e" stroke-width="2.2" stroke-linecap="round"/>
<line x1="1105" y1="427" x2="1106" y2="565" stroke="#292929" stroke-width="2.1" stroke-linecap="round"/>
<line x1="1022" y1="403" x2="1020" y2="534" stroke="#717171" stroke-width="2.7" stroke-linecap="round"/>
<line x1="910" y1="288" x2="911" y2="406" stroke="#2a2a2a" stroke-width="3.9" stroke-linecap="round"/>
<line x1="1300" y1="324" x2="1303" y2="431" stroke="#181818" stroke-width="3.9" stroke-linecap="round"/>
<line x1="762" y1="441" x2="758" y2="575" stroke="#454545" stroke-width="2.2" stroke-linecap="round"/>
<line x1="1126" y1="474" x2="1125" y2="592" stroke="#4d4d4d" stroke-width="3.9" stroke-linecap="round"/>
<line x1="860" y1="296" x2="859" y2="392" stroke="#272727" stroke-width="3" stroke-linecap="round"/>
<line x1="1059" y1="335" x2="1061" y2="368" stroke="#565656" stroke-width="3.7" stroke-linecap="round"/>
<line x1="1049" y1="367" x2="1046" y2="402" stroke="#676767" stroke-width="3.8" stroke-linecap="round"/>
<line x1="1048" y1="422" x2="1050" y2="506" stroke="#6a6a6a" stroke-width="2" stroke-linecap="round"/>
<line x1="1181" y1="457" x2="1182" y2="564" stroke="#808080" stroke-width="3" stroke-linecap="round"/>
<line x1="871" y1="474" x2="873" y2="518" stroke="#818181" stroke-width="4.2" stroke-linecap="round"/>
<line x1="698" y1="335" x2="698" y2="411" stroke="#2c2c2c" stroke-width="2.2" stroke-linecap="round"/>
<line x1="1266" y1="374" x2="1264" y2="446" stroke="#2d2d2d" stroke-width="2.2" stroke-linecap="round"/>
<line x1="1014" y1="427" x2="1012" y2="479" stroke="#797979" stroke-width="4" stroke-linecap="round"/>
<line x1="1039" y1="387" x2="1038" y2="450" stroke="#444444" stroke-width="2.1" stroke-linecap="round"/>
<line x1="1141" y1="471" x2="1142" y2="574" stroke="#4b4b4b" stroke-width="4" stroke-linecap="round"/>
<line x1="1240" y1="469" x2="1240" y2="592" stroke="#434343" stroke-width="2.3" stroke-linecap="round"/>
<line x1="695" y1="466" x2="694" y2="593" stroke="#4c4c4c" stroke-width="3.5" stroke-linecap="round"/>
<line x1="717" y1="416" x2="713" y2="473" stroke="#353535" stroke-width="2" stroke-linecap="round"/>
<line x1="981" y1="311" x2="980" y2="446" stroke="#4b4b4b" stroke-width="4" stroke-linecap="round"/>
<line x1="1136" y1="330" x2="1138" y2="395" stroke="#626262" stroke-width="3.4" stroke-linecap="round"/>
<line x1="1060" y1="432" x2="1060" y2="463" stroke="#565656" stroke-width="4.5" stroke-linecap="round"/>
<line x1="962" y1="298" x2="960" y2="381" stroke="#252525" stroke-width="3.1" stroke-linecap="round"/>
<line x1="1303" y1="461" x2="1302" y2="533" stroke="#545454" stroke-width="2.2" stroke-linecap="round"/>
<line x1="869" y1="336" x2="869" y2="449" stroke="#494949" stroke-width="2.4" stroke-linecap="round"/>
<line x1="1181" y1="274" x2="1181" y2="308" stroke="#181818" stroke-width="2.2" stroke-linecap="round"/>
<line x1="862" y1="320" x2="863" y2="436" stroke="#4a4a4a" stroke-width="2.6" stroke-linecap="round"/>
<line x1="928" y1="322" x2="928" y2="382" stroke="#424242" stroke-width="2.5" stroke-linecap="round"/>
<line x1="1234" y1="326" x2="1234" y2="440" stroke="#6a6a6a" stroke-width="4.3" stroke-linecap="round"/>
<line x1="1221" y1="341" x2="1222" y2="435" stroke="#686868" stroke-width="2.3" stroke-linecap="round"/>
<line x1="700" y1="343" x2="698" y2="409" stroke="#7d7d7d" stroke-width="3.8" stroke-linecap="round"/>
<line x1="1030" y1="427" x2="1031" y2="517" stroke="#6b6b6b" stroke-width="3.6" stroke-linecap="round"/>
<line x1="1214" y1="382" x2="1215" y2="490" stroke="#484848" stroke-width="2.1" stroke-linecap="round"/>
<line x1="1115" y1="476" x2="1112" y2="589" stroke="#505050" stroke-width="2.8" stroke-linecap="round"/>
<line x1="1001" y1="309" x2="1003" y2="446" stroke="#242424" stroke-width="2.1" stroke-linecap="round"/>
<line x1="839" y1="476" x2="837" y2="601" stroke="#6d6d6d" stroke-width="2.2" stroke-linecap="round"/>
<line x1="1300" y1="351" x2="1300" y2="469" stroke="#161616" stroke-width="2.7" stroke-linecap="round"/>
<line x1="1133" y1="362" x2="1133" y2="490" stroke="#6e6e6e" stroke-width="3.9" stroke-linecap="round"/>
<line x1="1213" y1="426" x2="1216" y2="496" stroke="#252525" stroke-width="2.2" stroke-linecap="round"/>
<line x1="1010" y1="466" x2="1011" y2="553" stroke="#717171" stroke-width="2.7" stroke-linecap="round"/>
<line x1="691" y1="385" x2="692" y2="510" stroke="#4c4c4c" stroke-width="2.3" stroke-linecap="round"/>
<line x1="842" y1="380" x2="842" y2="426" stroke="#1c1c1c" stroke-width="3.7" stroke-linecap="round"/>
<line x1="1008" y1="380" x2="1010" y2="420" stroke="#484848" stroke-width="3.9" stroke-linecap="round"/>
<line x1="711" y1="393" x2="708" y2="453" stroke="#0f0f0f" stroke-width="3.2" stroke-linecap="round"/>
<line x1="908" y1="382" x2="911" y2="459" stroke="#212121" stroke-width="4.3" stroke-linecap="round"/>
<line x1="788" y1="373" x2="785" y2="465" stroke="#4f4f4f" stroke-width="4.4" stroke-linecap="round"/>
<line x1="697" y1="421" x2="694" y2="468" stroke="#8f8f8f" stroke-width="4.3" stroke-linecap="round"/>
<line x1="866" y1="319" x2="863" y2="415" stroke="#171717" stroke-width="2.9" stroke-linecap="round"/>
<line x1="709" y1="450" x2="711" y2="558" stroke="#5b5b5b" stroke-width="2.6" stroke-linecap="round"/>
<line x1="834" y1="368" x2="837" y2="503" stroke="#4b4b4b" stroke-width="2.1" stroke-linecap="round"/>
<line x1="849" y1="424" x2="853" y2="478" stroke="#141414" stroke-width="4" stroke-linecap="round"/>
<line x1="1163" y1="420" x2="1159" y2="503" stroke="#565656" stroke-width="4.1" stroke-linecap="round"/>
<line x1="795" y1="395" x2="792" y2="517" stroke="#1b1b1b" stroke-width="4.1" stroke-linecap="round"/>
<line x1="753" y1="413" x2="755" y2="521" stroke="#535353" stroke-width="3.2" stroke-linecap="round"/>
<line x1="1027" y1="282" x2="1024" y2="420" stroke="#5e5e5e" stroke-width="3.4" stroke-linecap="round"/>
<line x1="943" y1="285" x2="942" y2="382" stroke="#555555" stroke-width="4" stroke-linecap="round"/>
<line x1="1080" y1="418" x2="1076" y2="518" stroke="#525252" stroke-width="3.9" stroke-linecap="round"/>
<line x1="985" y1="449" x2="983" y2="490" stroke="#262626" stroke-width="4.2" stroke-linecap="round"/>
<line x1="991" y1="285" x2="989" y2="393" stroke="#1a1a1a" stroke-width="2.8" stroke-linecap="round"/>
<line x1="1210" y1="371" x2="1213" y2="463" stroke="#202020" stroke-width="4" stroke-linecap="round"/>
<line x1="1004" y1="454" x2="1003" y2="543" stroke="#242424" stroke-width="3.1" stroke-linecap="round"/>
<line x1="785" y1="411" x2="782" y2="454" stroke="#1a1a1a" stroke-width="2.7" stroke-linecap="round"/>
<line x1="810" y1="366" x2="811" y2="438" stroke="#4b4b4b" stroke-width="3.9" stroke-linecap="round"/>
<line x1="1185" y1="367" x2="1184" y2="482" stroke="#292929" stroke-width="2.4" stroke-linecap="round"/>
<line x1="1115" y1="454" x2="1117" y2="578" stroke="#1d1d1d" stroke-width="4" stroke-linecap="round"/>
<line x1="912" y1="307" x2="915" y2="440" stroke="#666666" stroke-width="4.1" stroke-linecap="round"/>
<line x1="747" y1="270" x2="749" y2="392" stroke="#515151" stroke-width="2.6" stroke-linecap="round"/>
<line x1="945" y1="467" x2="948" y2="599" stroke="#585858" stroke-width="2.5" stroke-linecap="round"/>
<line x1="1160" y1="477" x2="1162" y2="606" stroke="#434343" stroke-width="2.6" stroke-linecap="round"/>
<line x1="792" y1="272" x2="791" y2="324" stroke="#525252" stroke-width="4.3" stroke-linecap="round"/>
<line x1="986" y1="318" x2="989" y2="419" stroke="#202020" stroke-width="4.3" stroke-linecap="round"/>
<line x1="943" y1="360" x2="945" y2="405" stroke="#6b6b6b" stroke-width="3.3" stroke-linecap="round"/>
<line x1="824" y1="398" x2="825" y2="480" stroke="#545454" stroke-width="4.2" stroke-linecap="round"/>
<line x1="880" y1="326" x2="883" y2="381" stroke="#404040" stroke-width="3.4" stroke-linecap="round"/>
<line x1="820" y1="310" x2="823" y2="374" stroke="#282828" stroke-width="2.4" stroke-linecap="round"/>
<line x1="899" y1="333" x2="902" y2="393" stroke="#5a5a5a" stroke-width="3.2" stroke-linecap="round"/>
<line x1="815" y1="478" x2="812" y2="584" stroke="#262626" stroke-width="3.1" stroke-linecap="round"/>
<line x1="1226" y1="302" x2="1228" y2="359" stroke="#202020" stroke-width="2.5" stroke-linecap="round"/>
<line x1="1182" y1="388" x2="1185" y2="527" stroke="#848484" stroke-width="3.1" stroke-linecap="round"/>
<line x1="1114" y1="310" x2="1118" y2="350" stroke="#616161" stroke-width="4.1" stroke-linecap="round"/>
<line x1="1083" y1="328" x2="1082" y2="370" stroke="#5d5d5d" stroke-width="3.6" stroke-linecap="round"/>
<line x1="705" y1="446" x2="707" y2="532" stroke="#181818" stroke-width="3.7" stroke-linecap="round"/>
<line x1="1116" y1="427" x2="1116" y2="513" stroke="#222222" stroke-width="3.1" stroke-linecap="round"/>
<line x1="965" y1="309" x2="964" y2="420" stroke="#636363" stroke-width="3.9" stroke-linecap="round"/>
<line x1="906" y1="279" x2="906" y2="332" stroke="#505050" stroke-width="3" stroke-linecap="round"/>
<line x1="693" y1="283" x2="690" y2="349" stroke="#5d5d5d" stroke-width="3.1" stroke-linecap="round"/>
<line x1="839" y1="331" x2="843" y2="364" stroke="#252525" stroke-width="2.3" stroke-linecap="round"/>
<line x1="983" y1="460" x2="985" y2="553" stroke="#727272" stroke-width="4.5" stroke-linecap="round"/>
<line x1="905" y1="422" x2="908" y2="508" stroke="#464646" stroke-width="2.2" stroke-linecap="round"/>
<line x1="1316" y1="457" x2="1316" y2="491" stroke="#525252" stroke-width="2.4" stroke-linecap="round"/>
<line x1="863" y1="288" x2="860" y2="403" stroke="#434343" stroke-width="4.2" stroke-linecap="round"/>
<line x1="1276" y1="386" x2="1279" y2="463" stroke="#272727" stroke-width="3.1" stroke-linecap="round"/>
<line x1="843" y1="291" x2="843" y2="372" stroke="#1a1a1a" stroke-width="2.9" stroke-linecap="round"/>
<line x1="1069" y1="393" x2="1070" y2="440" stroke="#373737" stroke-width="2.2" stroke-linecap="round"/>
<line x1="775" y1="330" x2="779" y2="458" stroke="#646464" stroke-width="2.9" stroke-linecap="round"/>
<line x1="1210" y1="303" x2="1206" y2="415" stroke="#303030" stroke-width="3.1" stroke-linecap="round"/>
<line x1="1042" y1="405" x2="1042" y2="494" stroke="#212121" stroke-width="4.4" stroke-linecap="round"/>
<line x1="924" y1="293" x2="921" y2="341" stroke="#424242" stroke-width="3.4" stroke-linecap="round"/>
<line x1="780" y1="414" x2="778" y2="467" stroke="#5f5f5f" stroke-width="4.5" stroke-linecap="round"/>
<line x1="1009" y1="360" x2="1013" y2="438" stroke="#4f4f4f" stroke-width="4" stroke-linecap="round"/>
<line x1="781" y1="273" x2="783" y2="344" stroke="#787878" stroke-width="4.4" stroke-linecap="round"/>
<line x1="1176" y1="418" x2="1173" y2="551" stroke="#4e4e4e" stroke-width="2.5" stroke-linecap="round"/>
<line x1="881" y1="432" x2="880" y2="470" stroke="#212121" stroke-width="4.2" stroke-linecap="round"/>
<line x1="1186" y1="423" x2="1189" y2="494" stroke="#484848" stroke-width="4.1" stroke-linecap="round"/>
<line x1="782" y1="437" x2="778" y2="534" stroke="#828282" stroke-width="2.2" stroke-linecap="round"/>
<line x1="1175" y1="279" x2="1171" y2="360" stroke="#393939" stroke-width="4" stroke-linecap="round"/>
<line x1="1018" y1="397" x2="1016" y2="449" stroke="#444444" stroke-width="3.6" stroke-linecap="round"/>
<line x1="1007" y1="347" x2="1008" y2="471" stroke="#222222" stroke-width="3.1" stroke-linecap="round"/>
<line x1="821" y1="342" x2="823" y2="375" stroke="#3c3c3c" stroke-width="4.4" stroke-linecap="round"/>
<line x1="941" y1="413" x2="944" y2="464" stroke="#6f6f6f" stroke-width="2.3" stroke-linecap="round"/>
<line x1="730" y1="367" x2="732" y2="460" stroke="#252525" stroke-width="3.9" stroke-linecap="round"/>
<line x1="829" y1="341" x2="826" y2="380" stroke="#5a5a5a" stroke-width="4.4" stroke-linecap="round"/>
<line x1="707" y1="385" x2="708" y2="459" stroke="#272727" stroke-width="2.5" stroke-linecap="round"/>
<line x1="1073" y1="282" x2="1073" y2="385" stroke="#1e1e1e" stroke-width="3.9" stroke-linecap="round"/>
<line x1="752" y1="327" x2="751" y2="443" stroke="#1c1c1c" stroke-width="3.5" stroke-linecap="round"/>
<line x1="907" y1="373" x2="908" y2="507" stroke="#2a2a2a" stroke-width="3.9" stroke-linecap="round"/>
<line x1="1119" y1="381" x2="1118" y2="459" stroke="#646464" stroke-width="4" stroke-linecap="round"/>
<line x1="1119" y1="435" x2="1118" y2="517" stroke="#212121" stroke-width="4" stroke-linecap="round"/>
<line x1="833" y1="436" x2="837" y2="522" stroke="#414141" stroke-width="3.7" stroke-linecap="round"/>
<line x1="1149" y1="447" x2="1146" y2="534" stroke="#1d1d1d" stroke-width="2.2" stroke-linecap="round"/>
<line x1="891" y1="353" x2="891" y2="464" stroke="#363636" stroke-width="2.6" stroke-linecap="round"/>
<line x1="914" y1="451" x2="913" y2="580" stroke="#212121" stroke-width="2.5" stroke-linecap="round"/>
<line x1="701" y1="415" x2="702" y2="479" stroke="#7f7f7f" stroke-width="4.1" stroke-linecap="round"/>
<line x1="887" y1="312" x2="888" y2="395" stroke="#5d5d5d" stroke-width="3.3" stroke-linecap="round"/>
<line x1="1186" y1="465" x2="1190" y2="509" stroke="#535353" stroke-width="2.9" stroke-linecap="round"/>
<line x1="843" y1="403" x2="843" y2="523" stroke="#181818" stroke-width="3.1" stroke-linecap="round"/>
<line x1="788" y1="319" x2="786" y2="456" stroke="#626262" stroke-width="4" stroke-linecap="round"/>
<line x1="1277" y1="421" x2="1280" y2="498" stroke="#666666" stroke-width="2.3" stroke-linecap="round"/>
<line x1="740" y1="459" x2="743" y2="500" stroke="#1e1e1e" stroke-width="3" stroke-linecap="round"/>
<line x1="987" y1="336" x2="984" y2="383" stroke="#747474" stroke-width="3.9" stroke-linecap="round"/>
<line x1="1248" y1="444" x2="1248" y2="513" stroke="#575757" stroke-width="4.3" stroke-linecap="round"/>
<line x1="1195" y1="282" x2="1191" y2="359" stroke="#3f3f3f" stroke-width="2.6" stroke-linecap="round"/>
<line x1="1144" y1="309" x2="1146" y2="362" stroke="#212121" stroke-width="2.7" stroke-linecap="round"/>
<line x1="1210" y1="341" x2="1212" y2="451" stroke="#606060" stroke-width="3.8" stroke-linecap="round"/>
<line x1="800" y1="462" x2="801" y2="511" stroke="#424242" stroke-width="3.9" stroke-linecap="round"/>
<line x1="752" y1="459" x2="754" y2="572" stroke="#515151" stroke-width="3.3" stroke-linecap="round"/>
<line x1="920" y1="469" x2="916" y2="544" stroke="#4c4c4c" stroke-width="3.9" stroke-linecap="round"/>
<line x1="709" y1="359" x2="709" y2="427" stroke="#151515" stroke-width="2" stroke-linecap="round"/>
<line x1="1216" y1="408" x2="1215" y2="442" stroke="#111111" stroke-width="3.1" stroke-linecap="round"/>
<line x1="1068" y1="461" x2="1070" y2="534" stroke="#535353" stroke-width="2.2" stroke-linecap="round"/>
<line x1="1181" y1="383" x2="1182" y2="483" stroke="#232323" stroke-width="4.5" stroke-linecap="round"/>
<line x1="1237" y1="275" x2="1237" y2="341" stroke="#232323" stroke-width="2.6" stroke-linecap="round"/>
<line x1="1233" y1="323" x2="1234" y2="445" stroke="#2c2c2c" stroke-width="3.2" stroke-linecap="round"/>
<line x1="886" y1="423" x2="882" y2="523" stroke="#3c3c3c" stroke-width="3" stroke-linecap="round"/>
<line x1="727" y1="288" x2="727" y2="350" stroke="#313131" stroke-width="2.7" stroke-linecap="round"/>
<line x1="1268" y1="301" x2="1268" y2="387" stroke="#101010" stroke-width="2.3" stroke-linecap="round"/>
<line x1="858" y1="388" x2="856" y2="489" stroke="#181818" stroke-width="2" stroke-linecap="round"/>
<line x1="972" y1="344" x2="969" y2="456" stroke="#868686" stroke-width="4.3" stroke-linecap="round"/>
<line x1="1116" y1="375" x2="1118" y2="469" stroke="#232323" stroke-width="3.6" stroke-linecap="round"/>
<line x1="1117" y1="307" x2="1119" y2="439" stroke="#4e4e4e" stroke-width="3.6" stroke-linecap="round"/>
<line x1="1006" y1="280" x2="1005" y2="343" stroke="#595959" stroke-width="3.5" stroke-linecap="round"/>
<line x1="691" y1="444" x2="692" y2="480" stroke="#1b1b1b" stroke-width="2.1" stroke-linecap="round"/>
<line x1="1169" y1="278" x2="1165" y2="375" stroke="#686868" stroke-width="2.6" stroke-linecap="round"/>
<line x1="1163" y1="443" x2="1159" y2="553" stroke="#4a4a4a" stroke-width="4.5" stroke-linecap="round"/>
<line x1="1142" y1="302" x2="1145" y2="340" stroke="#5f5f5f" stroke-width="4" stroke-linecap="round"/>
<line x1="1015" y1="352" x2="1014" y2="442" stroke="#595959" stroke-width="2.5" stroke-linecap="round"/>
<line x1="1072" y1="458" x2="1076" y2="547" stroke="#171717" stroke-width="3.6" stroke-linecap="round"/>
<line x1="1294" y1="282" x2="1298" y2="319" stroke="#4a4a4a" stroke-width="4.1" stroke-linecap="round"/>
<line x1="1263" y1="305" x2="1265" y2="351" stroke="#5e5e5e" stroke-width="4.3" stroke-linecap="round"/>
<line x1="883" y1="288" x2="884" y2="325" stroke="#595959" stroke-width="3.9" stroke-linecap="round"/>
<line x1="836" y1="356" x2="838" y2="444" stroke="#6d6d6d" stroke-width="2.5" stroke-linecap="round"/>
<line x1="1125" y1="277" x2="1122" y2="324" stroke="#4f4f4f" stroke-width="4.1" stroke-linecap="round"/>
<line x1="932" y1="351" x2="930" y2="440" stroke="#474747" stroke-width="4.5" stroke-linecap="round"/>
<line x1="824" y1="278" x2="827" y2="409" stroke="#4d4d4d" stroke-width="3.5" stroke-linecap="round"/>
<line x1="1140" y1="392" x2="1142" y2="522" stroke="#454545" stroke-width="2.6" stroke-linecap="round"/>
<line x1="726" y1="334" x2="727" y2="384" stroke="#212121" stroke-width="2.7" stroke-linecap="round"/>
<line x1="1010" y1="335" x2="1007" y2="394" stroke="#565656" stroke-width="2.6" stroke-linecap="round"/>
<line x1="1200" y1="305" x2="1202" y2="412" stroke="#232323" stroke-width="4.5" stroke-linecap="round"/>
<line x1="761" y1="428" x2="762" y2="489" stroke="#505050" stroke-width="3.9" stroke-linecap="round"/>
<line x1="1206" y1="308" x2="1209" y2="339" stroke="#606060" stroke-width="2.9" stroke-linecap="round"/>
<line x1="709" y1="455" x2="708" y2="595" stroke="#191919" stroke-width="3.2" stroke-linecap="round"/>
<line x1="1171" y1="448" x2="1171" y2="480" stroke="#515151" stroke-width="4" stroke-linecap="round"/>
<line x1="785" y1="466" x2="784" y2="587" stroke="#3b3b3b" stroke-width="4.4" stroke-linecap="round"/>
<line x1="699" y1="387" x2="696" y2="521" stroke="#252525" stroke-width="3.6" stroke-linecap="round"/>
<line x1="764" y1="385" x2="767" y2="419" stroke="#434343" stroke-width="4" stroke-linecap="round"/>
<line x1="706" y1="327" x2="709" y2="431" stroke="#121212" stroke-width="4" stroke-linecap="round"/>
<line x1="1313" y1="377" x2="1315" y2="503" stroke="#898989" stroke-width="3.5" stroke-linecap="round"/>
<line x1="699" y1="276" x2="698" y2="407" stroke="#262626" stroke-width="4.1" stroke-linecap="round"/>
<line x1="1202" y1="370" x2="1201" y2="441" stroke="#1a1a1a" stroke-width="3.1" stroke-linecap="round"/>
<line x1="855" y1="365" x2="852" y2="482" stroke="#939393" stroke-width="2.7" stroke-linecap="round"/>
<line x1="986" y1="358" x2="990" y2="420" stroke="#5e5e5e" stroke-width="4.1" stroke-linecap="round"/>
<line x1="817" y1="317" x2="815" y2="367" stroke="#565656" stroke-width="2.7" stroke-linecap="round"/>
<line x1="1031" y1="429" x2="1033" y2="557" stroke="#6a6a6a" stroke-width="3.3" stroke-linecap="round"/>
<line x1="1216" y1="462" x2="1217" y2="496" stroke="#595959" stroke-width="4.5" stroke-linecap="round"/>
<line x1="1125" y1="342" x2="1128" y2="415" stroke="#686868" stroke-width="4.1" stroke-linecap="round"/>
<line x1="771" y1="305" x2="771" y2="364" stroke="#292929" stroke-width="2.9" stroke-linecap="round"/>
<line x1="932" y1="285" x2="929" y2="388" stroke="#262626" stroke-width="4.3" stroke-linecap="round"/>
<line x1="1153" y1="369" x2="1156" y2="441" stroke="#636363" stroke-width="4.1" stroke-linecap="round"/>
<line x1="998" y1="322" x2="998" y2="395" stroke="#606060" stroke-width="2.9" stroke-linecap="round"/>
<line x1="1114" y1="468" x2="1111" y2="557" stroke="#272727" stroke-width="4" stroke-linecap="round"/>
<line x1="732" y1="389" x2="729" y2="521" stroke="#292929" stroke-width="4.4" stroke-linecap="round"/>
<line x1="1036" y1="414" x2="1034" y2="515" stroke="#5e5e5e" stroke-width="2.2" stroke-linecap="round"/>
<line x1="780" y1="299" x2="780" y2="397" stroke="#535353" stroke-width="2.9" stroke-linecap="round"/>
<line x1="1086" y1="290" x2="1087" y2="396" stroke="#191919" stroke-width="2.6" stroke-linecap="round"/>
<line x1="695" y1="317" x2="695" y2="382" stroke="#414141" stroke-width="2.9" stroke-linecap="round"/>
<line x1="695" y1="299" x2="694" y2="409" stroke="#494949" stroke-width="2.8" stroke-linecap="round"/>
<line x1="722" y1="372" x2="722" y2="482" stroke="#424242" stroke-width="2.6" stroke-linecap="round"/>
<line x1="1150" y1="438" x2="1150" y2="545" stroke="#757575" stroke-width="3.8" stroke-linecap="round"/>
<line x1="891" y1="272" x2="888" y2="360" stroke="#191919" stroke-width="3.2" stroke-linecap="round"/>
<line x1="1139" y1="296" x2="1140" y2="375" stroke="#1f1f1f" stroke-width="3.3" stroke-linecap="round"/>
<line x1="1107" y1="364" x2="1109" y2="398" stroke="#222222" stroke-width="3.8" stroke-linecap="round"/>
<line x1="1143" y1="431" x2="1142" y2="501" stroke="#747474" stroke-width="3.5" stroke-linecap="round"/>
<line x1="1076" y1="470" x2="1072" y2="515" stroke="#555555" stroke-width="3.5" stroke-linecap="round"/>
<line x1="987" y1="459" x2="984" y2="498" stroke="#1a1a1a" stroke-width="2.5" stroke-linecap="round"/>
<line x1="895" y1="371" x2="899" y2="488" stroke="#545454" stroke-width="3.8" stroke-linecap="round"/>
<line x1="1116" y1="330" x2="1120" y2="457" stroke="#494949" stroke-width="2.9" stroke-linecap="round"/>
<line x1="1103" y1="473" x2="1104" y2="607" stroke="#1c1c1c" stroke-width="3.6" stroke-linecap="round"/>
<line x1="1076" y1="390" x2="1077" y2="520" stroke="#4b4b4b" stroke-width="2.3" stroke-linecap="round"/>
<line x1="1251" y1="336" x2="1252" y2="418" stroke="#676767" stroke-width="2.9" stroke-linecap="round"/>
<line x1="1057" y1="447" x2="1054" y2="528" stroke="#141414" stroke-width="3.9" stroke-linecap="round"/>
<line x1="879" y1="322" x2="882" y2="436" stroke="#666666" stroke-width="2.1" stroke-linecap="round"/>
<line x1="734" y1="374" x2="731" y2="464" stroke="#191919" stroke-width="3.1" stroke-linecap="round"/>
<line x1="1317" y1="425" x2="1319" y2="483" stroke="#272727" stroke-width="4.2" stroke-linecap="round"/>
<line x1="993" y1="358" x2="994" y2="426" stroke="#1e1e1e" stroke-width="3.1" stroke-linecap="round"/>
<line x1="748" y1="311" x2="749" y2="445" stroke="#484848" stroke-width="4.2" stroke-linecap="round"/>
<line x1="717" y1="273" x2="715" y2="347" stroke="#505050" stroke-width="2.5" stroke-linecap="round"/>
<line x1="979" y1="478" x2="976" y2="532" stroke="#525252" stroke-width="4.2" stroke-linecap="round"/>
<line x1="844" y1="358" x2="842" y2="430" stroke="#393939" stroke-width="3.3" stroke-linecap="round"/>
<line x1="1024" y1="458" x2="1022" y2="492" stroke="#5b5b5b" stroke-width="2.3" stroke-linecap="round"/>
<line x1="857" y1="275" x2="859" y2="401" stroke="#7e7e7e" stroke-width="2.8" stroke-linecap="round"/>
<line x1="1197" y1="385" x2="1199" y2="500" stroke="#515151" stroke-width="2.6" stroke-linecap="round"/>
<line x1="863" y1="325" x2="861" y2="389" stroke="#1f1f1f" stroke-width="2.6" stroke-linecap="round"/>
<line x1="790" y1="323" x2="787" y2="365" stroke="#1a1a1a" stroke-width="3.6" stroke-linecap="round"/>
<line x1="1001" y1="291" x2="1001" y2="339" stroke="#191919" stroke-width="2.2" stroke-linecap="round"/>
<line x1="880" y1="352" x2="880" y2="416" stroke="#585858" stroke-width="2.2" stroke-linecap="round"/>
<line x1="1145" y1="287" x2="1149" y2="410" stroke="#3e3e3e" stroke-width="3.1" stroke-linecap="round"/>
<line x1="1150" y1="368" x2="1150" y2="455" stroke="#1a1a1a" stroke-width="3.9" stroke-linecap="round"/>
<line x1="1034" y1="455" x2="1033" y2="541" stroke="#6b6b6b" stroke-width="3.1" stroke-linecap="round"/>
<line x1="992" y1="328" x2="992" y2="380" stroke="#424242" stroke-width="2.9" stroke-linecap="round"/>
<line x1="903" y1="453" x2="901" y2="569" stroke="#6e6e6e" stroke-width="2" stroke-linecap="round"/>
<line x1="930" y1="456" x2="933" y2="578" stroke="#6f6f6f" stroke-width="3.7" stroke-linecap="round"/>
<line x1="988" y1="433" x2="991" y2="509" stroke="#555555" stroke-width="2.7" stroke-linecap="round"/>
<line x1="983" y1="320" x2="986" y2="419" stroke="#4f4f4f" stroke-width="2.4" stroke-linecap="round"/>
<line x1="959" y1="439" x2="955" y2="565" stroke="#515151" stroke-width="2.4" stroke-linecap="round"/>
<line x1="919" y1="457" x2="921" y2="487" stroke="#686868" stroke-width="2.9" stroke-linecap="round"/>
<line x1="1166" y1="413" x2="1168" y2="533" stroke="#676767" stroke-width="2" stroke-linecap="round"/>
<line x1="1063" y1="479" x2="1060" y2="600" stroke="#1b1b1b" stroke-width="3.3" stroke-linecap="round"/>
<line x1="906" y1="439" x2="908" y2="577" stroke="#757575" stroke-width="3.4" stroke-linecap="round"/>
<line x1="1207" y1="392" x2="1207" y2="494" stroke="#2e2e2e" stroke-width="2.5" stroke-linecap="round"/>
<line x1="1116" y1="369" x2="1120" y2="450" stroke="#6d6d6d" stroke-width="2.5" stroke-linecap="round"/>
<line x1="798" y1="345" x2="798" y2="388" stroke="#0f0f0f" stroke-width="2.9" stroke-linecap="round"/>
<line x1="1303" y1="361" x2="1301" y2="492" stroke="#868686" stroke-width="4.2" stroke-linecap="round"/>
<line x1="1062" y1="374" x2="1064" y2="412" stroke="#727272" stroke-width="4" stroke-linecap="round"/>
<line x1="999" y1="447" x2="1000" y2="573" stroke="#6b6b6b" stroke-width="3.6" stroke-linecap="round"/>
<line x1="1041" y1="386" x2="1039" y2="501" stroke="#525252" stroke-width="3.2" stroke-linecap="round"/>
<line x1="692" y1="320" x2="688" y2="445" stroke="#4a4a4a" stroke-width="4.4" stroke-linecap="round"/>
<line x1="827" y1="382" x2="831" y2="432" stroke="#1b1b1b" stroke-width="2.9" stroke-linecap="round"/>
<line x1="973" y1="312" x2="970" y2="413" stroke="#4b4b4b" stroke-width="4.1" stroke-linecap="round"/>
<line x1="707" y1="475" x2="705" y2="609" stroke="#626262" stroke-width="4" stroke-linecap="round"/>
<line x1="1001" y1="406" x2="998" y2="480" stroke="#525252" stroke-width="3.3" stroke-linecap="round"/>
<line x1="1016" y1="282" x2="1020" y2="323" stroke="#191919" stroke-width="3.8" stroke-linecap="round"/>
<line x1="1157" y1="295" x2="1155" y2="326" stroke="#707070" stroke-width="2.6" stroke-linecap="round"/>
<line x1="1057" y1="386" x2="1054" y2="467" stroke="#656565" stroke-width="4" stroke-linecap="round"/>
<line x1="787" y1="418" x2="789" y2="547" stroke="#161616" stroke-width="2.4" stroke-linecap="round"/>
<line x1="1175" y1="384" x2="1177" y2="510" stroke="#585858" stroke-width="2.9" stroke-linecap="round"/>
<line x1="1298" y1="392" x2="1298" y2="525" stroke="#121212" stroke-width="2.3" stroke-linecap="round"/>
<line x1="709" y1="477" x2="709" y2="582" stroke="#6d6d6d" stroke-width="2.1" stroke-linecap="round"/>
<line x1="831" y1="311" x2="828" y2="344" stroke="#1e1e1e" stroke-width="2.5" stroke-linecap="round"/>
<line x1="963" y1="420" x2="963" y2="541" stroke="#434343" stroke-width="3.8" stroke-linecap="round"/>
<line x1="1317" y1="285" x2="1317" y2="350" stroke="#545454" stroke-width="2.3" stroke-linecap="round"/>
<line x1="854" y1="411" x2="856" y2="442" stroke="#5f5f5f" stroke-width="4" stroke-linecap="round"/>
<line x1="847" y1="411" x2="846" y2="539" stroke="#272727" stroke-width="4.3" stroke-linecap="round"/>
<line x1="1106" y1="381" x2="1104" y2="465" stroke="#454545" stroke-width="4.1" stroke-linecap="round"/>
<line x1="1297" y1="401" x2="1299" y2="505" stroke="#5b5b5b" stroke-width="3.9" stroke-linecap="round"/>
<line x1="789" y1="308" x2="793" y2="427" stroke="#1c1c1c" stroke-width="2.1" stroke-linecap="round"/>
<line x1="1101" y1="470" x2="1098" y2="566" stroke="#545454" stroke-width="4.1" stroke-linecap="round"/>
<line x1="1117" y1="315" x2="1120" y2="402" stroke="#1d1d1d" stroke-width="2.7" stroke-linecap="round"/>
<line x1="1134" y1="321" x2="1131" y2="452" stroke="#1a1a1a" stroke-width="3" stroke-linecap="round"/>
<line x1="1160" y1="404" x2="1164" y2="490" stroke="#202020" stroke-width="4.4" stroke-linecap="round"/>
<line x1="1009" y1="285" x2="1008" y2="396" stroke="#474747" stroke-width="4.3" stroke-linecap="round"/>
<line x1="926" y1="369" x2="927" y2="484" stroke="#4a4a4a" stroke-width="3.6" stroke-linecap="round"/>
<line x1="1219" y1="467" x2="1220" y2="515" stroke="#262626" stroke-width="3.5" stroke-linecap="round"/>
<line x1="800" y1="311" x2="803" y2="438" stroke="#6d6d6d" stroke-width="4" stroke-linecap="round"/>
<line x1="1050" y1="421" x2="1046" y2="482" stroke="#484848" stroke-width="3.2" stroke-linecap="round"/>
<line x1="983" y1="380" x2="984" y2="420" stroke="#555555" stroke-width="3.3" stroke-linecap="round"/>
<line x1="1151" y1="362" x2="1152" y2="396" stroke="#474747" stroke-width="3.7" stroke-linecap="round"/>
<line x1="750" y1="273" x2="754" y2="407" stroke="#565656" stroke-width="4.3" stroke-linecap="round"/>
<line x1="986" y1="407" x2="988" y2="461" stroke="#6f6f6f" stroke-width="3" stroke-linecap="round"/>
<line x1="845" y1="409" x2="845" y2="504" stroke="#1f1f1f" stroke-width="2.8" stroke-linecap="round"/>
<line x1="1218" y1="349" x2="1218" y2="436" stroke="#4e4e4e" stroke-width="2.4" stroke-linecap="round"/>
<line x1="1006" y1="274" x2="1002" y2="366" stroke="#252525" stroke-width="2.2" stroke-linecap="round"/>
<line x1="1064" y1="308" x2="1064" y2="352" stroke="#777777" stroke-width="4.2" stroke-linecap="round"/>
<line x1="1091" y1="336" x2="1091" y2="459" stroke="#686868" stroke-width="3" stroke-linecap="round"/>
<line x1="1136" y1="273" x2="1139" y2="360" stroke="#141414" stroke-width="4.2" stroke-linecap="round"/>
<line x1="986" y1="335" x2="982" y2="415" stroke="#5a5a5a" stroke-width="2.9" stroke-linecap="round"/>
<line x1="1151" y1="404" x2="1152" y2="471" stroke="#585858" stroke-width="2.8" stroke-linecap="round"/>
<line x1="1311" y1="390" x2="1309" y2="513" stroke="#4e4e4e" stroke-width="2.4" stroke-linecap="round"/>
<line x1="819" y1="444" x2="819" y2="535" stroke="#606060" stroke-width="3.3" stroke-linecap="round"/>
<line x1="1143" y1="360" x2="1146" y2="439" stroke="#767676" stroke-width="2.3" stroke-linecap="round"/>
<line x1="1103" y1="334" x2="1101" y2="441" stroke="#626262" stroke-width="2.9" stroke-linecap="round"/>
<line x1="1229" y1="299" x2="1230" y2="341" stroke="#545454" stroke-width="2.5" stroke-linecap="round"/>
<line x1="884" y1="396" x2="882" y2="491" stroke="#1f1f1f" stroke-width="3.9" stroke-linecap="round"/>
<line x1="833" y1="479" x2="836" y2="610" stroke="#4b4b4b" stroke-width="4.1" stroke-linecap="round"/>
<line x1="1186" y1="333" x2="1184" y2="451" stroke="#272727" stroke-width="2.6" stroke-linecap="round"/>
<line x1="1220" y1="284" x2="1217" y2="338" stroke="#4c4c4c" stroke-width="3" stroke-linecap="round"/>
<line x1="1150" y1="456" x2="1147" y2="527" stroke="#525252" stroke-width="4.3" stroke-linecap="round"/>
</g>
<g filter="url(#blur1)">
<ellipse cx="1117" cy="291" rx="9.4" ry="3.9" fill="#101010"/>
<ellipse cx="997" cy="299" rx="5.4" ry="4.7" fill="#101010"/>
<ellipse cx="1305" cy="291" rx="8.6" ry="5" fill="#202020"/>
<ellipse cx="900" cy="286" rx="6.9" ry="3.5" fill="#161616"/>
<ellipse cx="1167" cy="283" rx="6.9" ry="3.8" fill="#111111"/>
<ellipse cx="1306" cy="286" rx="6.5" ry="5.7" fill="#151515"/>
<ellipse cx="1121" cy="285" rx="6.6" ry="4.6" fill="#101010"/>
<ellipse cx="1286" cy="296" rx="9.6" ry="6" fill="#171717"/>
<ellipse cx="716" cy="289" rx="5.6" ry="5.6" fill="#191919"/>
<ellipse cx="781" cy="293" rx="8.6" ry="3.1" fill="#131313"/>
<ellipse cx="1305" cy="296" rx="8.4" ry="3.8" fill="#191919"/>
<ellipse cx="749" cy="285" rx="8.3" ry="4" fill="#171717"/>
<ellipse cx="887" cy="289" rx="6.8" ry="5.1" fill="#242424"/>
<ellipse cx="740" cy="290" rx="8" ry="5.6" fill="#0e0e0e"/>
<ellipse cx="755" cy="297" rx="5.8" ry="3.1" fill="#121212"/>
<ellipse cx="1162" cy="300" rx="5.2" ry="5.4" fill="#131313"/>
<ellipse cx="1120" cy="281" rx="9.9" ry="5" fill="#1b1b1b"/>
<ellipse cx="1024" cy="295" rx="4" ry="5" fill="#151515"/>
<ellipse cx="726" cy="289" rx="8.5" ry="3.7" fill="#1c1c1c"/>
<ellipse cx="1141" cy="294" rx="4.6" ry="4.8" fill="#212121"/>
<ellipse cx="989" cy="283" rx="9.2" ry="3.5" fill="#131313"/>
<ellipse cx="886" cy="300" rx="5.8" ry="4.8" fill="#161616"/>
<ellipse cx="933" cy="282" rx="8.5" ry="4.6" fill="#121212"/>
<ellipse cx="729" cy="293" rx="4.4" ry="4.1" fill="#070707"/>
<ellipse cx="857" cy="292" rx="10" ry="3.8" fill="#191919"/>
<ellipse cx="1101" cy="287" rx="8.7" ry="4.6" fill="#1b1b1b"/>
<ellipse cx="967" cy="294" rx="5.1" ry="5" fill="#1f1f1f"/>
<ellipse cx="1146" cy="294" rx="4.6" ry="4.7" fill="#262626"/>
<ellipse cx="1014" cy="295" rx="8.8" ry="3" fill="#1b1b1b"/>
<ellipse cx="916" cy="288" rx="5.8" ry="5.9" fill="#171717"/>
<ellipse cx="1088" cy="293" rx="6.1" ry="4.9" fill="#111111"/>
<ellipse cx="1112" cy="292" rx="7.6" ry="5.8" fill="#181818"/>
<ellipse cx="930" cy="284" rx="7.1" ry="3.6" fill="#181818"/>
<ellipse cx="1052" cy="289" rx="4.4" ry="5.5" fill="#0f0f0f"/>
<ellipse cx="936" cy="283" rx="9.6" ry="5.1" fill="#1b1b1b"/>
<ellipse cx="1142" cy="294" rx="6.4" ry="4.6" fill="#131313"/>
<ellipse cx="1040" cy="299" rx="7.7" ry="3.6" fill="#202020"/>
<ellipse cx="1290" cy="296" rx="4.5" ry="3.9" fill="#1c1c1c"/>
<ellipse cx="996" cy="292" rx="10.3" ry="3.3" fill="#181818"/>
<ellipse cx="1220" cy="297" rx="9.6" ry="5.2" fill="#121212"/>
<ellipse cx="823" cy="284" rx="4.2" ry="3.1" fill="#0b0b0b"/>
<ellipse cx="1101" cy="293" rx="4.7" ry="5.1" fill="#202020"/>
<ellipse cx="860" cy="290" rx="10.9" ry="4.2" fill="#0f0f0f"/>
<ellipse cx="1156" cy="292" rx="4.9" ry="4.3" fill="#131313"/>
<ellipse cx="838" cy="288" rx="5.6" ry="5.6" fill="#191919"/>
<ellipse cx="974" cy="293" rx="7.1" ry="5.5" fill="#171717"/>
<ellipse cx="905" cy="293" rx="7.8" ry="3.6" fill="#1b1b1b"/>
<ellipse cx="1277" cy="283" rx="4.5" ry="5.7" fill="#171717"/>
<ellipse cx="926" cy="283" rx="8.5" ry="4.1" fill="#1d1d1d"/>
<ellipse cx="749" cy="284" rx="5.1" ry="4.5" fill="#0c0c0c"/>
<ellipse cx="797" cy="291" rx="8.7" ry="4.6" fill="#0c0c0c"/>
<ellipse cx="1173" cy="283" rx="9.2" ry="3.1" fill="#151515"/>
<ellipse cx="869" cy="289" rx="9" ry="5.2" fill="#1c1c1c"/>
<ellipse cx="970" cy="281" rx="5.7" ry="3.8" fill="#141414"/>
<ellipse cx="853" cy="297" rx="7.6" ry="3.5" fill="#151515"/>
<ellipse cx="859" cy="294" rx="9.2" ry="5.3" fill="#1c1c1c"/>
<ellipse cx="883" cy="282" rx="5.1" ry="4.3" fill="#191919"/>
<ellipse cx="1025" cy="286" rx="11" ry="5.4" fill="#121212"/>
<ellipse cx="938" cy="299" rx="5.8" ry="3.7" fill="#151515"/>
<ellipse cx="921" cy="281" rx="6.1" ry="3.3" fill="#1a1a1a"/>
<ellipse cx="885" cy="298" rx="9.1" ry="4.8" fill="#1d1d1d"/>
<ellipse cx="999" cy="287" rx="4.7" ry="4.2" fill="#1d1d1d"/>
<ellipse cx="1009" cy="288" rx="8.6" ry="4.8" fill="#181818"/>
<ellipse cx="718" cy="286" rx="7" ry="5.3" fill="#191919"/>
<ellipse cx="1193" cy="294" rx="10.5" ry="4.8" fill="#161616"/>
<ellipse cx="1119" cy="282" rx="6.2" ry="3.8" fill="#161616"/>
<ellipse cx="784" cy="285" rx="4.7" ry="3.9" fill="#101010"/>
<ellipse cx="828" cy="295" rx="6.3" ry="5.2" fill="#131313"/>
<ellipse cx="1249" cy="294" rx="4.8" ry="4.7" fill="#0c0c0c"/>
<ellipse cx="1143" cy="286" rx="9.1" ry="4.3" fill="#191919"/>
<ellipse cx="930" cy="350" rx="3.4" ry="9.6" fill="#0e0e0e"/>
<ellipse cx="995" cy="477" rx="2.6" ry="14.9" fill="#1b1b1b"/>
<ellipse cx="983" cy="392" rx="2.7" ry="12.4" fill="#1b1b1b"/>
<ellipse cx="1028" cy="396" rx="2.1" ry="8" fill="#212121"/>
<ellipse cx="793" cy="336" rx="3.1" ry="13.1" fill="#161616"/>
<ellipse cx="756" cy="364" rx="2.1" ry="15.9" fill="#181818"/>
<ellipse cx="986" cy="481" rx="2.1" ry="10.3" fill="#252525"/>
<ellipse cx="973" cy="322" rx="2.8" ry="7.2" fill="#171717"/>
<ellipse cx="953" cy="435" rx="2" ry="11.4" fill="#181818"/>
<ellipse cx="752" cy="380" rx="3.2" ry="9.9" fill="#252525"/>
<ellipse cx="1293" cy="478" rx="2.7" ry="7.4" fill="#151515"/>
<ellipse cx="909" cy="344" rx="3.2" ry="9.2" fill="#0f0f0f"/>
<ellipse cx="717" cy="438" rx="3.1" ry="10" fill="#1e1e1e"/>
<ellipse cx="1131" cy="354" rx="3.4" ry="7.2" fill="#171717"/>
<ellipse cx="1203" cy="313" rx="3.2" ry="15.2" fill="#1d1d1d"/>
<ellipse cx="796" cy="349" rx="2.4" ry="11" fill="#141414"/>
<ellipse cx="1208" cy="317" rx="2.8" ry="9.5" fill="#141414"/>
<ellipse cx="842" cy="467" rx="2.7" ry="8.8" fill="#242424"/>
<ellipse cx="758" cy="363" rx="2.4" ry="10.3" fill="#202020"/>
<ellipse cx="814" cy="396" rx="2.7" ry="11.6" fill="#171717"/>
<ellipse cx="1007" cy="444" rx="2.2" ry="14.1" fill="#1b1b1b"/>
<ellipse cx="1090" cy="358" rx="3.2" ry="12.1" fill="#2a2a2a"/>
<ellipse cx="1055" cy="360" rx="2.5" ry="10.4" fill="#0f0f0f"/>
<ellipse cx="824" cy="434" rx="2.5" ry="9.9" fill="#1d1d1d"/>
<ellipse cx="859" cy="332" rx="2.9" ry="14.1" fill="#1d1d1d"/>
<ellipse cx="1217" cy="433" rx="2.2" ry="7.4" fill="#1d1d1d"/>
<ellipse cx="1230" cy="351" rx="3.2" ry="11.3" fill="#1f1f1f"/>
<ellipse cx="1238" cy="360" rx="3.5" ry="14" fill="#171717"/>
<ellipse cx="1248" cy="400" rx="2.7" ry="14.5" fill="#202020"/>
<ellipse cx="1293" cy="400" rx="2.4" ry="8.4" fill="#131313"/>
<ellipse cx="765" cy="392" rx="3.3" ry="15.5" fill="#191919"/>
<ellipse cx="1298" cy="479" rx="2.6" ry="10.3" fill="#131313"/>
<ellipse cx="1219" cy="485" rx="3.2" ry="14.4" fill="#242424"/>
<ellipse cx="1058" cy="331" rx="2.1" ry="13.8" fill="#141414"/>
<ellipse cx="739" cy="425" rx="2.5" ry="7.8" fill="#0b0b0b"/>
<ellipse cx="889" cy="482" rx="3.3" ry="15.3" fill="#272727"/>
<ellipse cx="1209" cy="396" rx="2.9" ry="8.1" fill="#191919"/>
<ellipse cx="857" cy="324" rx="3.2" ry="9.2" fill="#151515"/>
<ellipse cx="935" cy="365" rx="2.2" ry="12.4" fill="#191919"/>
<ellipse cx="997" cy="483" rx="2.6" ry="10.7" fill="#151515"/>
<ellipse cx="979" cy="427" rx="2.6" ry="14.1" fill="#1b1b1b"/>
<ellipse cx="1008" cy="399" rx="2.6" ry="15.2" fill="#191919"/>
<ellipse cx="1057" cy="419" rx="3" ry="9.7" fill="#1b1b1b"/>
<ellipse cx="1057" cy="313" rx="3" ry="8.1" fill="#222222"/>
<ellipse cx="1000" cy="396" rx="3.1" ry="10" fill="#141414"/>
<ellipse cx="1047" cy="409" rx="3" ry="14.7" fill="#202020"/>
<ellipse cx="1130" cy="472" rx="2.8" ry="11.1" fill="#0d0d0d"/>
<ellipse cx="748" cy="363" rx="2" ry="9.9" fill="#111111"/>
<ellipse cx="1269" cy="390" rx="3.2" ry="11.4" fill="#252525"/>
<ellipse cx="773" cy="449" rx="2.9" ry="12" fill="#1e1e1e"/>
<ellipse cx="1288" cy="326" rx="2.6" ry="10.8" fill="#1d1d1d"/>
<ellipse cx="1265" cy="480" rx="3.4" ry="15.2" fill="#1a1a1a"/>
<ellipse cx="1253" cy="441" rx="3.4" ry="15.6" fill="#161616"/>
<ellipse cx="798" cy="349" rx="2.6" ry="11.9" fill="#1a1a1a"/>
<ellipse cx="1009" cy="395" rx="2" ry="12.8" fill="#161616"/>
<ellipse cx="826" cy="429" rx="3.3" ry="15.7" fill="#161616"/>
<ellipse cx="1015" cy="423" rx="3.4" ry="14.4" fill="#1e1e1e"/>
<ellipse cx="822" cy="317" rx="3.2" ry="7.9" fill="#191919"/>
<ellipse cx="1136" cy="306" rx="2.4" ry="9.8" fill="#222222"/>
<ellipse cx="779" cy="444" rx="2.4" ry="10.5" fill="#131313"/>
<ellipse cx="932" cy="418" rx="3" ry="13.7" fill="#0f0f0f"/>
<ellipse cx="1243" cy="382" rx="2.5" ry="13" fill="#1e1e1e"/>
<ellipse cx="765" cy="345" rx="2.4" ry="10.2" fill="#1c1c1c"/>
<ellipse cx="1163" cy="425" rx="2.4" ry="13.5" fill="#1d1d1d"/>
<ellipse cx="1029" cy="413" rx="2.7" ry="15.3" fill="#171717"/>
<ellipse cx="897" cy="483" rx="3" ry="11.1" fill="#242424"/>
<ellipse cx="751" cy="436" rx="2.2" ry="12" fill="#1e1e1e"/>
<ellipse cx="914" cy="383" rx="3" ry="11.8" fill="#171717"/>
<ellipse cx="1033" cy="340" rx="3.1" ry="14" fill="#161616"/>
<ellipse cx="930" cy="442" rx="2.3" ry="7.4" fill="#121212"/>
<ellipse cx="947" cy="332" rx="3.4" ry="13.9" fill="#191919"/>
<ellipse cx="1016" cy="310" rx="3.3" ry="7.1" fill="#171717"/>
<ellipse cx="715" cy="317" rx="2.9" ry="9.2" fill="#171717"/>
<ellipse cx="718" cy="333" rx="3.5" ry="13.1" fill="#101010"/>
<ellipse cx="830" cy="392" rx="3.4" ry="12.5" fill="#1c1c1c"/>
<ellipse cx="983" cy="315" rx="2.9" ry="11.4" fill="#121212"/>
<ellipse cx="932" cy="358" rx="3.1" ry="12.3" fill="#1b1b1b"/>
<ellipse cx="848" cy="331" rx="2.8" ry="8.7" fill="#1b1b1b"/>
<ellipse cx="748" cy="340" rx="2.1" ry="12" fill="#242424"/>
<ellipse cx="1257" cy="438" rx="3.1" ry="9.8" fill="#1f1f1f"/>
</g>
</g>
<text x="700" y="95" font-size="36" font-weight="bold" text-anchor="start" fill="#f2f2f2">b)</text>
<rect x="1221.5" y="430" width="63.5" height="50" fill="#040404" stroke="none" stroke-width="0"/>
<rect x="1224.5" y="433" width="57.5" height="13.5" fill="#f4f4f4" stroke="none" stroke-width="0"/>
<text x="1254.5" y="473.5" font-size="25" font-weight="bold" text-anchor="middle" fill="#e6e6e6" textLength="55" lengthAdjust="spacingAndGlyphs">1 μm</text>
<defs><linearGradient id="gBolt" x1="0" y1="0" x2="0.35" y2="1"><stop offset="0" stop-color="#f0606a"/><stop offset="0.3" stop-color="#e31e26"/><stop offset="0.5" stop-color="#f06522"/><stop offset="0.75" stop-color="#f7a21c"/><stop offset="1" stop-color="#f9b526"/></linearGradient><linearGradient id="gYel" x1="0" y1="0" x2="0" y2="1"><stop offset="0" stop-color="#f7b810"/><stop offset="1" stop-color="#f4ae12"/></linearGradient></defs>
<text x="1324" y="98" font-size="34" font-weight="bold" text-anchor="start" fill="#111">c)</text>
<polygon points="1482.5,83.5 1509.5,83.5 1509.5,123.5 1526,123.5 1496,155 1466,123.5 1482.5,123.5" fill="#f6b515"/>
<line x1="1511.1" y1="167.7" x2="1518.5" y2="176.1" stroke="#8f92a6" stroke-width="2"/>
<line x1="1485.5" y1="167.7" x2="1478.1" y2="176.1" stroke="#8f92a6" stroke-width="2"/>
<line x1="1498.3" y1="185.3" x2="1498.3" y2="194.3" stroke="#9a9cad" stroke-width="2"/>
<circle cx="1498.3" cy="194.3" r="2.3" fill="#6d6f7e"/>
<line x1="1511.1" y1="229.2" x2="1518.5" y2="237.6" stroke="#8f92a6" stroke-width="2"/>
<line x1="1485.5" y1="229.2" x2="1478.1" y2="237.6" stroke="#8f92a6" stroke-width="2"/>
<line x1="1498.3" y1="246.9" x2="1498.3" y2="255.9" stroke="#9a9cad" stroke-width="2"/>
<circle cx="1498.3" cy="255.9" r="2.3" fill="#6d6f7e"/>
<line x1="1430.4" y1="297" x2="1426.1" y2="303.5" stroke="#8f92a6" stroke-width="2"/>
<line x1="1444.6" y1="275.6" x2="1447.4" y2="267.4" stroke="#8f92a6" stroke-width="2"/>
<line x1="1452.2" y1="296.1" x2="1459.7" y2="301.1" stroke="#9a9cad" stroke-width="2"/>
<circle cx="1459.7" cy="301.1" r="2.3" fill="#6d6f7e"/>
<line x1="1566.2" y1="297" x2="1570.5" y2="303.5" stroke="#8f92a6" stroke-width="2"/>
<line x1="1552" y1="275.6" x2="1549.2" y2="267.4" stroke="#8f92a6" stroke-width="2"/>
<line x1="1544.4" y1="296.1" x2="1536.9" y2="301.1" stroke="#9a9cad" stroke-width="2"/>
<circle cx="1536.9" cy="301.1" r="2.3" fill="#6d6f7e"/>
<line x1="1373.5" y1="267.8" x2="1375.2" y2="273.7" stroke="#8f92a6" stroke-width="2"/>
<line x1="1386.6" y1="245.7" x2="1394.3" y2="241.9" stroke="#8f92a6" stroke-width="2"/>
<line x1="1395.3" y1="265.8" x2="1403" y2="270.3" stroke="#9a9cad" stroke-width="2"/>
<circle cx="1403" cy="270.3" r="2.3" fill="#6d6f7e"/>
<line x1="1623.1" y1="267.8" x2="1621.4" y2="273.7" stroke="#8f92a6" stroke-width="2"/>
<line x1="1610" y1="245.7" x2="1602.3" y2="241.9" stroke="#8f92a6" stroke-width="2"/>
<line x1="1601.3" y1="265.8" x2="1593.6" y2="270.3" stroke="#9a9cad" stroke-width="2"/>
<circle cx="1593.6" cy="270.3" r="2.3" fill="#6d6f7e"/>
<line x1="1358.7" y1="309.6" x2="1366.7" y2="307.7" stroke="#8f92a6" stroke-width="2"/>
<line x1="1373.1" y1="330.8" x2="1367.8" y2="337.4" stroke="#8f92a6" stroke-width="2"/>
<line x1="1375.9" y1="323" x2="1384.9" y2="323.3" stroke="#9a9cad" stroke-width="2"/>
<circle cx="1384.9" cy="323.3" r="2.3" fill="#6d6f7e"/>
<line x1="1637.9" y1="309.6" x2="1629.9" y2="307.7" stroke="#8f92a6" stroke-width="2"/>
<line x1="1623.5" y1="330.8" x2="1628.8" y2="337.4" stroke="#8f92a6" stroke-width="2"/>
<line x1="1620.7" y1="323" x2="1611.7" y2="323.3" stroke="#9a9cad" stroke-width="2"/>
<circle cx="1611.7" cy="323.3" r="2.3" fill="#6d6f7e"/>
<line x1="1412.4" y1="355.4" x2="1415.5" y2="348" stroke="#8f92a6" stroke-width="2"/>
<line x1="1423.9" y1="378.4" x2="1435.7" y2="382" stroke="#8f92a6" stroke-width="2"/>
<line x1="1434" y1="359" x2="1442" y2="354.9" stroke="#9a9cad" stroke-width="2"/>
<circle cx="1442" cy="354.9" r="2.3" fill="#6d6f7e"/>
<line x1="1584.2" y1="355.4" x2="1581.1" y2="348" stroke="#8f92a6" stroke-width="2"/>
<line x1="1572.7" y1="378.4" x2="1560.9" y2="382" stroke="#8f92a6" stroke-width="2"/>
<line x1="1562.6" y1="359" x2="1554.6" y2="354.9" stroke="#9a9cad" stroke-width="2"/>
<circle cx="1554.6" cy="354.9" r="2.3" fill="#6d6f7e"/>
<line x1="1379" y1="400.7" x2="1384.7" y2="411.7" stroke="#8f92a6" stroke-width="2"/>
<line x1="1371.4" y1="386.8" x2="1364.6" y2="373.5" stroke="#8f92a6" stroke-width="2"/>
<line x1="1377.5" y1="392.5" x2="1385.4" y2="388.2" stroke="#9a9cad" stroke-width="2"/>
<circle cx="1385.4" cy="388.2" r="2.3" fill="#6d6f7e"/>
<line x1="1617.6" y1="400.7" x2="1611.9" y2="411.7" stroke="#8f92a6" stroke-width="2"/>
<line x1="1625.2" y1="386.8" x2="1632" y2="373.5" stroke="#8f92a6" stroke-width="2"/>
<line x1="1619.1" y1="392.5" x2="1611.2" y2="388.2" stroke="#9a9cad" stroke-width="2"/>
<circle cx="1611.2" cy="388.2" r="2.3" fill="#6d6f7e"/>
<line x1="1485.5" y1="388.3" x2="1479.2" y2="392.6" stroke="#8f92a6" stroke-width="2"/>
<line x1="1511.1" y1="388.3" x2="1517.4" y2="392.6" stroke="#8f92a6" stroke-width="2"/>
<line x1="1498.3" y1="370.6" x2="1498.3" y2="361.6" stroke="#9a9cad" stroke-width="2"/>
<circle cx="1498.3" cy="361.6" r="2.3" fill="#6d6f7e"/>
<line x1="1485.5" y1="449.8" x2="1479.2" y2="452" stroke="#8f92a6" stroke-width="2"/>
<line x1="1511.1" y1="449.8" x2="1517.4" y2="452" stroke="#8f92a6" stroke-width="2"/>
<line x1="1498.3" y1="432.2" x2="1498.3" y2="423.2" stroke="#9a9cad" stroke-width="2"/>
<circle cx="1498.3" cy="423.2" r="2.3" fill="#6d6f7e"/>
<line x1="1448.5" y1="198.5" x2="1451.6" y2="195.2" stroke="#8f92a6" stroke-width="2"/>
<line x1="1436.7" y1="221.2" x2="1434.6" y2="227" stroke="#8f92a6" stroke-width="2"/>
<line x1="1444.9" y1="220" x2="1448.9" y2="228.1" stroke="#9a9cad" stroke-width="2"/>
<circle cx="1448.9" cy="228.1" r="2.3" fill="#6d6f7e"/>
<line x1="1548.1" y1="198.5" x2="1545" y2="195.2" stroke="#8f92a6" stroke-width="2"/>
<line x1="1559.9" y1="221.2" x2="1562" y2="227" stroke="#8f92a6" stroke-width="2"/>
<line x1="1551.7" y1="220" x2="1547.7" y2="228.1" stroke="#9a9cad" stroke-width="2"/>
<circle cx="1547.7" cy="228.1" r="2.3" fill="#6d6f7e"/>
<line x1="1419.4" y1="425.2" x2="1415.5" y2="424.4" stroke="#8f92a6" stroke-width="2"/>
<line x1="1445.1" y1="423.8" x2="1447.4" y2="420.2" stroke="#8f92a6" stroke-width="2"/>
<line x1="1439.8" y1="417.3" x2="1444.7" y2="409.8" stroke="#9a9cad" stroke-width="2"/>
<circle cx="1444.7" cy="409.8" r="2.3" fill="#6d6f7e"/>
<line x1="1577.2" y1="425.2" x2="1581.1" y2="424.4" stroke="#8f92a6" stroke-width="2"/>
<line x1="1551.5" y1="423.8" x2="1549.2" y2="420.2" stroke="#8f92a6" stroke-width="2"/>
<line x1="1556.8" y1="417.3" x2="1551.9" y2="409.8" stroke="#9a9cad" stroke-width="2"/>
<circle cx="1551.9" cy="409.8" r="2.3" fill="#6d6f7e"/>
<polygon points="1435.7,165.5 1451.6,195.2 1455.1,178.9" fill="#5aa9e2"/>
<polygon points="1435.7,165.5 1478.1,176.1 1455.1,178.9" fill="#5aa9e2"/>
<polygon points="1478.1,176.1 1451.6,195.2 1455.1,178.9" fill="#3b7fcb"/>
<polygon points="1560.9,165.5 1545,195.2 1541.5,178.9" fill="#5aa9e2"/>
<polygon points="1560.9,165.5 1518.5,176.1 1541.5,178.9" fill="#5aa9e2"/>
<polygon points="1518.5,176.1 1545,195.2 1541.5,178.9" fill="#3b7fcb"/>
<polygon points="1383.7,194.1 1394.3,241.9 1399.2,216.1" fill="#3b7fcb"/>
<polygon points="1383.7,194.1 1419.8,212.2 1399.2,216.1" fill="#3b7fcb"/>
<polygon points="1419.8,212.2 1394.3,241.9 1399.2,216.1" fill="#5aa9e2"/>
<polygon points="1612.9,194.1 1602.3,241.9 1597.4,216.1" fill="#1e4f9d"/>
<polygon points="1612.9,194.1 1576.8,212.2 1597.4,216.1" fill="#1e4f9d"/>
<polygon points="1576.8,212.2 1602.3,241.9 1597.4,216.1" fill="#3b7fcb"/>
<polygon points="1434.6,227 1447.4,267.4 1453.4,244" fill="#3b7fcb"/>
<polygon points="1434.6,227 1478.1,237.6 1453.4,244" fill="#3b7fcb"/>
<polygon points="1478.1,237.6 1447.4,267.4 1453.4,244" fill="#1e4f9d"/>
<polygon points="1562,227 1549.2,267.4 1543.2,244" fill="#3b7fcb"/>
<polygon points="1562,227 1518.5,237.6 1543.2,244" fill="#3b7fcb"/>
<polygon points="1518.5,237.6 1549.2,267.4 1543.2,244" fill="#1e4f9d"/>
<polygon points="1330.6,286.5 1366.7,307.7 1357.5,289.3" fill="#5aa9e2"/>
<polygon points="1330.6,286.5 1375.2,273.7 1357.5,289.3" fill="#5aa9e2"/>
<polygon points="1375.2,273.7 1366.7,307.7 1357.5,289.3" fill="#1e4f9d"/>
<polygon points="1666,286.5 1629.9,307.7 1639.1,289.3" fill="#3b7fcb"/>
<polygon points="1666,286.5 1621.4,273.7 1639.1,289.3" fill="#3b7fcb"/>
<polygon points="1621.4,273.7 1629.9,307.7 1639.1,289.3" fill="#1e4f9d"/>
<polygon points="1385.8,309.8 1415.5,348 1409.1,320.4" fill="#3b7fcb"/>
<polygon points="1385.8,309.8 1426.1,303.5 1409.1,320.4" fill="#3b7fcb"/>
<polygon points="1426.1,303.5 1415.5,348 1409.1,320.4" fill="#1e4f9d"/>
<polygon points="1610.8,309.8 1581.1,348 1587.5,320.4" fill="#3b7fcb"/>
<polygon points="1610.8,309.8 1570.5,303.5 1587.5,320.4" fill="#3b7fcb"/>
<polygon points="1570.5,303.5 1581.1,348 1587.5,320.4" fill="#5aa9e2"/>
<polygon points="1329.5,344.8 1364.6,373.5 1354,351.9" fill="#3b7fcb"/>
<polygon points="1329.5,344.8 1367.8,337.4 1354,351.9" fill="#3b7fcb"/>
<polygon points="1367.8,337.4 1364.6,373.5 1354,351.9" fill="#5aa9e2"/>
<polygon points="1667.1,344.8 1632,373.5 1642.6,351.9" fill="#3b7fcb"/>
<polygon points="1667.1,344.8 1628.8,337.4 1642.6,351.9" fill="#3b7fcb"/>
<polygon points="1628.8,337.4 1632,373.5 1642.6,351.9" fill="#1e4f9d"/>
<polygon points="1384.7,411.7 1394.3,456.3 1398.2,430.8" fill="#5aa9e2"/>
<polygon points="1384.7,411.7 1415.5,424.4 1398.2,430.8" fill="#5aa9e2"/>
<polygon points="1415.5,424.4 1394.3,456.3 1398.2,430.8" fill="#3b7fcb"/>
<polygon points="1611.9,411.7 1602.3,456.3 1598.4,430.8" fill="#3b7fcb"/>
<polygon points="1611.9,411.7 1581.1,424.4 1598.4,430.8" fill="#3b7fcb"/>
<polygon points="1581.1,424.4 1602.3,456.3 1598.4,430.8" fill="#1e4f9d"/>
<polygon points="1435.7,382 1447.4,420.2 1454.1,398.3" fill="#3b7fcb"/>
<polygon points="1435.7,382 1479.2,392.6 1454.1,398.3" fill="#3b7fcb"/>
<polygon points="1479.2,392.6 1447.4,420.2 1454.1,398.3" fill="#1e4f9d"/>
<polygon points="1560.9,382 1549.2,420.2 1542.5,398.3" fill="#5aa9e2"/>
<polygon points="1560.9,382 1517.4,392.6 1542.5,398.3" fill="#5aa9e2"/>
<polygon points="1517.4,392.6 1549.2,420.2 1542.5,398.3" fill="#1e4f9d"/>
<polygon points="1441,445.7 1447.4,486 1455.8,461.2" fill="#1e4f9d"/>
<polygon points="1441,445.7 1479.2,452 1455.8,461.2" fill="#1e4f9d"/>
<polygon points="1479.2,452 1447.4,486 1455.8,461.2" fill="#3b7fcb"/>
<polygon points="1555.6,445.7 1549.2,486 1540.8,461.2" fill="#3b7fcb"/>
<polygon points="1555.6,445.7 1517.4,452 1540.8,461.2" fill="#3b7fcb"/>
<polygon points="1517.4,452 1549.2,486 1540.8,461.2" fill="#1e4f9d"/>
<polygon points="1498.3,158.3 1511.1,167.7 1506.2,182.8 1490.4,182.8 1485.5,167.7" fill="none" stroke="#a3a5b5" stroke-width="2.4"/>
<circle cx="1498.3" cy="158.3" r="2.2" fill="#777a8a"/>
<circle cx="1511.1" cy="167.7" r="2.2" fill="#777a8a"/>
<circle cx="1506.2" cy="182.8" r="2.2" fill="#777a8a"/>
<circle cx="1490.4" cy="182.8" r="2.2" fill="#777a8a"/>
<circle cx="1485.5" cy="167.7" r="2.2" fill="#777a8a"/>
<polygon points="1498.3,219.9 1511.1,229.2 1506.2,244.3 1490.4,244.3 1485.5,229.2" fill="none" stroke="#a3a5b5" stroke-width="2.4"/>
<circle cx="1498.3" cy="219.9" r="2.2" fill="#777a8a"/>
<circle cx="1511.1" cy="229.2" r="2.2" fill="#777a8a"/>
<circle cx="1506.2" cy="244.3" r="2.2" fill="#777a8a"/>
<circle cx="1490.4" cy="244.3" r="2.2" fill="#777a8a"/>
<circle cx="1485.5" cy="229.2" r="2.2" fill="#777a8a"/>
<polygon points="1429.8,281.1 1444.6,275.6 1454.5,288 1445.7,301.3 1430.4,297" fill="none" stroke="#a3a5b5" stroke-width="2.4"/>
<circle cx="1429.8" cy="281.1" r="2.2" fill="#777a8a"/>
<circle cx="1444.6" cy="275.6" r="2.2" fill="#777a8a"/>
<circle cx="1454.5" cy="288" r="2.2" fill="#777a8a"/>
<circle cx="1445.7" cy="301.3" r="2.2" fill="#777a8a"/>
<circle cx="1430.4" cy="297" r="2.2" fill="#777a8a"/>
<polygon points="1566.8,281.1 1566.2,297 1550.9,301.3 1542.1,288 1552,275.6" fill="none" stroke="#a3a5b5" stroke-width="2.4"/>
<circle cx="1566.8" cy="281.1" r="2.2" fill="#777a8a"/>
<circle cx="1566.2" cy="297" r="2.2" fill="#777a8a"/>
<circle cx="1550.9" cy="301.3" r="2.2" fill="#777a8a"/>
<circle cx="1542.1" cy="288" r="2.2" fill="#777a8a"/>
<circle cx="1552" cy="275.6" r="2.2" fill="#777a8a"/>
<polygon points="1372.1,252 1386.6,245.7 1397.1,257.6 1389,271.3 1373.5,267.8" fill="none" stroke="#a3a5b5" stroke-width="2.4"/>
<circle cx="1372.1" cy="252" r="2.2" fill="#777a8a"/>
<circle cx="1386.6" cy="245.7" r="2.2" fill="#777a8a"/>
<circle cx="1397.1" cy="257.6" r="2.2" fill="#777a8a"/>
<circle cx="1389" cy="271.3" r="2.2" fill="#777a8a"/>
<circle cx="1373.5" cy="267.8" r="2.2" fill="#777a8a"/>
<polygon points="1624.5,252 1623.1,267.8 1607.6,271.3 1599.5,257.6 1610,245.7" fill="none" stroke="#a3a5b5" stroke-width="2.4"/>
<circle cx="1624.5" cy="252" r="2.2" fill="#777a8a"/>
<circle cx="1623.1" cy="267.8" r="2.2" fill="#777a8a"/>
<circle cx="1607.6" cy="271.3" r="2.2" fill="#777a8a"/>
<circle cx="1599.5" cy="257.6" r="2.2" fill="#777a8a"/>
<circle cx="1610" cy="245.7" r="2.2" fill="#777a8a"/>
<polygon points="1349,322.1 1358.7,309.6 1373.6,315 1373.1,330.8 1357.9,335.3" fill="none" stroke="#a3a5b5" stroke-width="2.4"/>
<circle cx="1349" cy="322.1" r="2.2" fill="#777a8a"/>
<circle cx="1358.7" cy="309.6" r="2.2" fill="#777a8a"/>
<circle cx="1373.6" cy="315" r="2.2" fill="#777a8a"/>
<circle cx="1373.1" cy="330.8" r="2.2" fill="#777a8a"/>
<circle cx="1357.9" cy="335.3" r="2.2" fill="#777a8a"/>
<polygon points="1647.6,322.1 1638.7,335.3 1623.5,330.8 1623,315 1637.9,309.6" fill="none" stroke="#a3a5b5" stroke-width="2.4"/>
<circle cx="1647.6" cy="322.1" r="2.2" fill="#777a8a"/>
<circle cx="1638.7" cy="335.3" r="2.2" fill="#777a8a"/>
<circle cx="1623.5" cy="330.8" r="2.2" fill="#777a8a"/>
<circle cx="1623" cy="315" r="2.2" fill="#777a8a"/>
<circle cx="1637.9" cy="309.6" r="2.2" fill="#777a8a"/>
<polygon points="1409.8,371 1412.4,355.4 1428.1,353 1435.2,367.2 1423.9,378.4" fill="none" stroke="#a3a5b5" stroke-width="2.4"/>
<circle cx="1409.8" cy="371" r="2.2" fill="#777a8a"/>
<circle cx="1412.4" cy="355.4" r="2.2" fill="#777a8a"/>
<circle cx="1428.1" cy="353" r="2.2" fill="#777a8a"/>
<circle cx="1435.2" cy="367.2" r="2.2" fill="#777a8a"/>
<circle cx="1423.9" cy="378.4" r="2.2" fill="#777a8a"/>
<polygon points="1586.8,371 1572.7,378.4 1561.4,367.2 1568.5,353 1584.2,355.4" fill="none" stroke="#a3a5b5" stroke-width="2.4"/>
<circle cx="1586.8" cy="371" r="2.2" fill="#777a8a"/>
<circle cx="1572.7" cy="378.4" r="2.2" fill="#777a8a"/>
<circle cx="1561.4" cy="367.2" r="2.2" fill="#777a8a"/>
<circle cx="1568.5" cy="353" r="2.2" fill="#777a8a"/>
<circle cx="1584.2" cy="355.4" r="2.2" fill="#777a8a"/>
<polygon points="1353.8,405.4 1355.8,389.7 1371.4,386.8 1379,400.7 1368.1,412.2" fill="none" stroke="#a3a5b5" stroke-width="2.4"/>
<circle cx="1353.8" cy="405.4" r="2.2" fill="#777a8a"/>
<circle cx="1355.8" cy="389.7" r="2.2" fill="#777a8a"/>
<circle cx="1371.4" cy="386.8" r="2.2" fill="#777a8a"/>
<circle cx="1379" cy="400.7" r="2.2" fill="#777a8a"/>
<circle cx="1368.1" cy="412.2" r="2.2" fill="#777a8a"/>
<polygon points="1642.8,405.4 1628.5,412.2 1617.6,400.7 1625.2,386.8 1640.8,389.7" fill="none" stroke="#a3a5b5" stroke-width="2.4"/>
<circle cx="1642.8" cy="405.4" r="2.2" fill="#777a8a"/>
<circle cx="1628.5" cy="412.2" r="2.2" fill="#777a8a"/>
<circle cx="1617.6" cy="400.7" r="2.2" fill="#777a8a"/>
<circle cx="1625.2" cy="386.8" r="2.2" fill="#777a8a"/>
<circle cx="1640.8" cy="389.7" r="2.2" fill="#777a8a"/>
<polygon points="1498.3,397.6 1485.5,388.3 1490.4,373.2 1506.2,373.2 1511.1,388.3" fill="none" stroke="#a3a5b5" stroke-width="2.4"/>
<circle cx="1498.3" cy="397.6" r="2.2" fill="#777a8a"/>
<circle cx="1485.5" cy="388.3" r="2.2" fill="#777a8a"/>
<circle cx="1490.4" cy="373.2" r="2.2" fill="#777a8a"/>
<circle cx="1506.2" cy="373.2" r="2.2" fill="#777a8a"/>
<circle cx="1511.1" cy="388.3" r="2.2" fill="#777a8a"/>
<polygon points="1498.3,459.2 1485.5,449.8 1490.4,434.7 1506.2,434.7 1511.1,449.8" fill="none" stroke="#a3a5b5" stroke-width="2.4"/>
<circle cx="1498.3" cy="459.2" r="2.2" fill="#777a8a"/>
<circle cx="1485.5" cy="449.8" r="2.2" fill="#777a8a"/>
<circle cx="1490.4" cy="434.7" r="2.2" fill="#777a8a"/>
<circle cx="1506.2" cy="434.7" r="2.2" fill="#777a8a"/>
<circle cx="1511.1" cy="449.8" r="2.2" fill="#777a8a"/>
<polygon points="1432.8,195.9 1448.5,198.5 1450.8,214.1 1436.7,221.2 1425.5,209.9" fill="none" stroke="#a3a5b5" stroke-width="2.4"/>
<circle cx="1432.8" cy="195.9" r="2.2" fill="#777a8a"/>
<circle cx="1448.5" cy="198.5" r="2.2" fill="#777a8a"/>
<circle cx="1450.8" cy="214.1" r="2.2" fill="#777a8a"/>
<circle cx="1436.7" cy="221.2" r="2.2" fill="#777a8a"/>
<circle cx="1425.5" cy="209.9" r="2.2" fill="#777a8a"/>
<polygon points="1563.8,195.9 1571.1,209.9 1559.9,221.2 1545.8,214.1 1548.1,198.5" fill="none" stroke="#a3a5b5" stroke-width="2.4"/>
<circle cx="1563.8" cy="195.9" r="2.2" fill="#777a8a"/>
<circle cx="1571.1" cy="209.9" r="2.2" fill="#777a8a"/>
<circle cx="1559.9" cy="221.2" r="2.2" fill="#777a8a"/>
<circle cx="1545.8" cy="214.1" r="2.2" fill="#777a8a"/>
<circle cx="1548.1" cy="198.5" r="2.2" fill="#777a8a"/>
<polygon points="1425.2,440 1419.4,425.2 1431.8,415.2 1445.1,423.8 1441,439.2" fill="none" stroke="#a3a5b5" stroke-width="2.4"/>
<circle cx="1425.2" cy="440" r="2.2" fill="#777a8a"/>
<circle cx="1419.4" cy="425.2" r="2.2" fill="#777a8a"/>
<circle cx="1431.8" cy="415.2" r="2.2" fill="#777a8a"/>
<circle cx="1445.1" cy="423.8" r="2.2" fill="#777a8a"/>
<circle cx="1441" cy="439.2" r="2.2" fill="#777a8a"/>
<polygon points="1571.4,440 1555.6,439.2 1551.5,423.8 1564.8,415.2 1577.2,425.2" fill="none" stroke="#a3a5b5" stroke-width="2.4"/>
<circle cx="1571.4" cy="440" r="2.2" fill="#777a8a"/>
<circle cx="1555.6" cy="439.2" r="2.2" fill="#777a8a"/>
<circle cx="1551.5" cy="423.8" r="2.2" fill="#777a8a"/>
<circle cx="1564.8" cy="415.2" r="2.2" fill="#777a8a"/>
<circle cx="1577.2" cy="425.2" r="2.2" fill="#777a8a"/>
<polygon points="1487,445 1514,445 1514,495 1531,495 1500.5,526 1470,495 1487,495" fill="#f6b515"/>
<text x="1521" y="98.5" font-size="31" font-weight="bold" fill="#6e3a24" textLength="165" lengthAdjust="spacingAndGlyphs">CO<tspan font-size="21">2</tspan> CH<tspan font-size="17" dy="7">4</tspan><tspan dy="-7"> N</tspan><tspan font-size="21">2</tspan></text>
<text x="1550" y="511.3" font-size="31" font-weight="bold" fill="#6e3a24" textLength="165" lengthAdjust="spacingAndGlyphs">CO<tspan font-size="21">2</tspan> CH<tspan font-size="17" dy="7">4</tspan><tspan dy="-7"> N</tspan><tspan font-size="21">2</tspan></text>
<text x="1864" y="92" font-size="31" font-weight="bold" fill="#6e3a24" textLength="165" lengthAdjust="spacingAndGlyphs">CO<tspan font-size="21">2</tspan> CH<tspan font-size="17" dy="7">4</tspan><tspan dy="-7"> N</tspan><tspan font-size="21">2</tspan></text>
<text x="2142" y="101.5" font-size="31" font-weight="bold" fill="#6e3a24" textLength="101" lengthAdjust="spacingAndGlyphs">CH<tspan font-size="17" dy="7">4</tspan><tspan dy="-7"> N</tspan><tspan font-size="21">2</tspan></text>
<text x="2094" y="494" font-size="28" font-weight="bold" fill="#6e3a24" textLength="52" lengthAdjust="spacingAndGlyphs">CO<tspan font-size="18" dy="6">2</tspan></text>
<polygon points="1698,163.1 1759,154 1774,198.6 1763.2,201.9 1786.3,240.7 1777.2,247.3 1802,310 1745,250.6 1754.9,246.5 1721.9,209.3 1735.1,206.9" fill="url(#gBolt)"/>
<polygon points="1671,319.5 1867.2,319.5 1867.2,294 1914.5,343.1 1867.2,392 1867.2,367.5 1671,367.5 1695.5,343.1" fill="#ffffff" stroke="#cfc7a9" stroke-width="5" stroke-linejoin="miter"/>
<text x="1709" y="353.5" font-size="23" font-weight="bold" text-anchor="start" fill="#3a3a3a" textLength="166" lengthAdjust="spacingAndGlyphs">≤ 15 s @ 360 °C</text>
<path d="M1974,104 C1975,140 1988,172 2032,199" fill="none" stroke="#cf9b25" stroke-width="27"/>
<path d="M2098,203 C2128,188 2146,165 2156,128" fill="none" stroke="#f6b515" stroke-width="27"/>
<polygon points="2135,133 2163,106 2184,127" fill="#f6b515"/>
<line x1="2052.4" y1="190.8" x2="2046.6" y2="197.4" stroke="#8f92a6" stroke-width="1.6"/>
<line x1="2072.6" y1="190.8" x2="2078.4" y2="197.4" stroke="#8f92a6" stroke-width="1.6"/>
<line x1="2062.5" y1="204.7" x2="2062.5" y2="211.9" stroke="#9a9cad" stroke-width="1.6"/>
<circle cx="2062.5" cy="211.9" r="1.8" fill="#6d6f7e"/>
<line x1="2052.4" y1="239.4" x2="2046.6" y2="246.1" stroke="#8f92a6" stroke-width="1.6"/>
<line x1="2072.6" y1="239.4" x2="2078.4" y2="246.1" stroke="#8f92a6" stroke-width="1.6"/>
<line x1="2062.5" y1="253.4" x2="2062.5" y2="260.5" stroke="#9a9cad" stroke-width="1.6"/>
<circle cx="2062.5" cy="260.5" r="1.8" fill="#6d6f7e"/>
<line x1="2008.9" y1="292.9" x2="2005.5" y2="298.1" stroke="#8f92a6" stroke-width="1.6"/>
<line x1="2020.1" y1="276" x2="2022.3" y2="269.5" stroke="#8f92a6" stroke-width="1.6"/>
<line x1="2026.1" y1="292.2" x2="2032" y2="296.2" stroke="#9a9cad" stroke-width="1.6"/>
<circle cx="2032" cy="296.2" r="1.8" fill="#6d6f7e"/>
<line x1="2116.1" y1="292.9" x2="2119.5" y2="298.1" stroke="#8f92a6" stroke-width="1.6"/>
<line x1="2104.9" y1="276" x2="2102.7" y2="269.5" stroke="#8f92a6" stroke-width="1.6"/>
<line x1="2098.9" y1="292.2" x2="2093" y2="296.2" stroke="#9a9cad" stroke-width="1.6"/>
<circle cx="2093" cy="296.2" r="1.8" fill="#6d6f7e"/>
<line x1="1963.9" y1="269.9" x2="1965.2" y2="274.6" stroke="#8f92a6" stroke-width="1.6"/>
<line x1="1974.3" y1="252.4" x2="1980.3" y2="249.4" stroke="#8f92a6" stroke-width="1.6"/>
<line x1="1981.1" y1="268.3" x2="1987.2" y2="271.9" stroke="#9a9cad" stroke-width="1.6"/>
<circle cx="1987.2" cy="271.9" r="1.8" fill="#6d6f7e"/>
<line x1="2161.1" y1="269.9" x2="2159.8" y2="274.6" stroke="#8f92a6" stroke-width="1.6"/>
<line x1="2150.7" y1="252.4" x2="2144.7" y2="249.4" stroke="#8f92a6" stroke-width="1.6"/>
<line x1="2143.9" y1="268.3" x2="2137.8" y2="271.9" stroke="#9a9cad" stroke-width="1.6"/>
<circle cx="2137.8" cy="271.9" r="1.8" fill="#6d6f7e"/>
<line x1="1952.2" y1="302.9" x2="1958.5" y2="301.4" stroke="#8f92a6" stroke-width="1.6"/>
<line x1="1963.6" y1="319.7" x2="1959.4" y2="324.9" stroke="#8f92a6" stroke-width="1.6"/>
<line x1="1965.8" y1="313.5" x2="1972.9" y2="313.7" stroke="#9a9cad" stroke-width="1.6"/>
<circle cx="1972.9" cy="313.7" r="1.8" fill="#6d6f7e"/>
<line x1="2172.8" y1="302.9" x2="2166.5" y2="301.4" stroke="#8f92a6" stroke-width="1.6"/>
<line x1="2161.4" y1="319.7" x2="2165.6" y2="324.9" stroke="#8f92a6" stroke-width="1.6"/>
<line x1="2159.2" y1="313.5" x2="2152.1" y2="313.7" stroke="#9a9cad" stroke-width="1.6"/>
<circle cx="2152.1" cy="313.7" r="1.8" fill="#6d6f7e"/>
<line x1="1994.6" y1="339.1" x2="1997.1" y2="333.3" stroke="#8f92a6" stroke-width="1.6"/>
<line x1="2003.7" y1="357.2" x2="2013" y2="360.1" stroke="#8f92a6" stroke-width="1.6"/>
<line x1="2011.7" y1="341.9" x2="2018" y2="338.7" stroke="#9a9cad" stroke-width="1.6"/>
<circle cx="2018" cy="338.7" r="1.8" fill="#6d6f7e"/>
<line x1="2130.4" y1="339.1" x2="2127.9" y2="333.3" stroke="#8f92a6" stroke-width="1.6"/>
<line x1="2121.3" y1="357.2" x2="2112" y2="360.1" stroke="#8f92a6" stroke-width="1.6"/>
<line x1="2113.3" y1="341.9" x2="2107" y2="338.7" stroke="#9a9cad" stroke-width="1.6"/>
<circle cx="2107" cy="338.7" r="1.8" fill="#6d6f7e"/>
<line x1="1968.3" y1="374.9" x2="1972.8" y2="383.6" stroke="#8f92a6" stroke-width="1.6"/>
<line x1="1962.3" y1="363.9" x2="1956.9" y2="353.4" stroke="#8f92a6" stroke-width="1.6"/>
<line x1="1967.1" y1="368.4" x2="1973.3" y2="365" stroke="#9a9cad" stroke-width="1.6"/>
<circle cx="1973.3" cy="365" r="1.8" fill="#6d6f7e"/>
<line x1="2156.7" y1="374.9" x2="2152.2" y2="383.6" stroke="#8f92a6" stroke-width="1.6"/>
<line x1="2162.7" y1="363.9" x2="2168.1" y2="353.4" stroke="#8f92a6" stroke-width="1.6"/>
<line x1="2157.9" y1="368.4" x2="2151.7" y2="365" stroke="#9a9cad" stroke-width="1.6"/>
<circle cx="2151.7" cy="365" r="1.8" fill="#6d6f7e"/>
<line x1="2072.6" y1="365.1" x2="2077.6" y2="368.5" stroke="#8f92a6" stroke-width="1.6"/>
<line x1="2052.4" y1="365.1" x2="2047.4" y2="368.5" stroke="#8f92a6" stroke-width="1.6"/>
<line x1="2062.5" y1="351.1" x2="2062.5" y2="344" stroke="#9a9cad" stroke-width="1.6"/>
<circle cx="2062.5" cy="344" r="1.8" fill="#6d6f7e"/>
<line x1="2072.6" y1="413.7" x2="2077.6" y2="415.4" stroke="#8f92a6" stroke-width="1.6"/>
<line x1="2052.4" y1="413.7" x2="2047.4" y2="415.4" stroke="#8f92a6" stroke-width="1.6"/>
<line x1="2062.5" y1="399.7" x2="2062.5" y2="392.6" stroke="#9a9cad" stroke-width="1.6"/>
<circle cx="2062.5" cy="392.6" r="1.8" fill="#6d6f7e"/>
<line x1="2023.1" y1="215.1" x2="2025.6" y2="212.5" stroke="#8f92a6" stroke-width="1.6"/>
<line x1="2013.8" y1="233.1" x2="2012.2" y2="237.7" stroke="#8f92a6" stroke-width="1.6"/>
<line x1="2020.3" y1="232.1" x2="2023.5" y2="238.5" stroke="#9a9cad" stroke-width="1.6"/>
<circle cx="2023.5" cy="238.5" r="1.8" fill="#6d6f7e"/>
<line x1="2101.9" y1="215.1" x2="2099.4" y2="212.5" stroke="#8f92a6" stroke-width="1.6"/>
<line x1="2111.2" y1="233.1" x2="2112.8" y2="237.7" stroke="#8f92a6" stroke-width="1.6"/>
<line x1="2104.7" y1="232.1" x2="2101.5" y2="238.5" stroke="#9a9cad" stroke-width="1.6"/>
<circle cx="2101.5" cy="238.5" r="1.8" fill="#6d6f7e"/>
<line x1="2000.2" y1="394.3" x2="1997.1" y2="393.6" stroke="#8f92a6" stroke-width="1.6"/>
<line x1="2020.5" y1="393.1" x2="2022.3" y2="390.3" stroke="#8f92a6" stroke-width="1.6"/>
<line x1="2016.3" y1="388" x2="2020.2" y2="382.1" stroke="#9a9cad" stroke-width="1.6"/>
<circle cx="2020.2" cy="382.1" r="1.8" fill="#6d6f7e"/>
<line x1="2124.8" y1="394.3" x2="2127.9" y2="393.6" stroke="#8f92a6" stroke-width="1.6"/>
<line x1="2104.5" y1="393.1" x2="2102.7" y2="390.3" stroke="#8f92a6" stroke-width="1.6"/>
<line x1="2108.7" y1="388" x2="2104.8" y2="382.1" stroke="#9a9cad" stroke-width="1.6"/>
<circle cx="2104.8" cy="382.1" r="1.8" fill="#6d6f7e"/>
<polygon points="2013,189.1 2025.6,212.5 2028.4,199.7" fill="#5aa9e2"/>
<polygon points="2013,189.1 2046.6,197.4 2028.4,199.7" fill="#5aa9e2"/>
<polygon points="2046.6,197.4 2025.6,212.5 2028.4,199.7" fill="#3b7fcb"/>
<polygon points="2112,189.1 2099.4,212.5 2096.6,199.7" fill="#5aa9e2"/>
<polygon points="2112,189.1 2078.4,197.4 2096.6,199.7" fill="#5aa9e2"/>
<polygon points="2078.4,197.4 2099.4,212.5 2096.6,199.7" fill="#3b7fcb"/>
<polygon points="1971.9,211.7 1980.3,249.4 1984.2,229" fill="#3b7fcb"/>
<polygon points="1971.9,211.7 2000.5,225.9 1984.2,229" fill="#3b7fcb"/>
<polygon points="2000.5,225.9 1980.3,249.4 1984.2,229" fill="#5aa9e2"/>
<polygon points="2153.1,211.7 2144.7,249.4 2140.8,229" fill="#1e4f9d"/>
<polygon points="2153.1,211.7 2124.5,225.9 2140.8,229" fill="#1e4f9d"/>
<polygon points="2124.5,225.9 2144.7,249.4 2140.8,229" fill="#3b7fcb"/>
<polygon points="2012.2,237.7 2022.3,269.5 2027,251.1" fill="#3b7fcb"/>
<polygon points="2012.2,237.7 2046.6,246.1 2027,251.1" fill="#3b7fcb"/>
<polygon points="2046.6,246.1 2022.3,269.5 2027,251.1" fill="#1e4f9d"/>
<polygon points="2112.8,237.7 2102.7,269.5 2098,251.1" fill="#3b7fcb"/>
<polygon points="2112.8,237.7 2078.4,246.1 2098,251.1" fill="#3b7fcb"/>
<polygon points="2078.4,246.1 2102.7,269.5 2098,251.1" fill="#1e4f9d"/>
<polygon points="1930,284.6 1958.5,301.4 1951.3,286.9" fill="#5aa9e2"/>
<polygon points="1930,284.6 1965.2,274.6 1951.3,286.9" fill="#5aa9e2"/>
<polygon points="1965.2,274.6 1958.5,301.4 1951.3,286.9" fill="#1e4f9d"/>
<polygon points="2195,284.6 2166.5,301.4 2173.7,286.9" fill="#3b7fcb"/>
<polygon points="2195,284.6 2159.8,274.6 2173.7,286.9" fill="#3b7fcb"/>
<polygon points="2159.8,274.6 2166.5,301.4 2173.7,286.9" fill="#1e4f9d"/>
<polygon points="1973.6,303.1 1997.1,333.3 1992.1,311.5" fill="#3b7fcb"/>
<polygon points="1973.6,303.1 2005.5,298.1 1992.1,311.5" fill="#3b7fcb"/>
<polygon points="2005.5,298.1 1997.1,333.3 1992.1,311.5" fill="#1e4f9d"/>
<polygon points="2151.4,303.1 2127.9,333.3 2132.9,311.5" fill="#3b7fcb"/>
<polygon points="2151.4,303.1 2119.5,298.1 2132.9,311.5" fill="#3b7fcb"/>
<polygon points="2119.5,298.1 2127.9,333.3 2132.9,311.5" fill="#5aa9e2"/>
<polygon points="1929.2,330.8 1956.9,353.4 1948.5,336.3" fill="#3b7fcb"/>
<polygon points="1929.2,330.8 1959.4,324.9 1948.5,336.3" fill="#3b7fcb"/>
<polygon points="1959.4,324.9 1956.9,353.4 1948.5,336.3" fill="#5aa9e2"/>
<polygon points="2195.8,330.8 2168.1,353.4 2176.5,336.3" fill="#3b7fcb"/>
<polygon points="2195.8,330.8 2165.6,324.9 2176.5,336.3" fill="#3b7fcb"/>
<polygon points="2165.6,324.9 2168.1,353.4 2176.5,336.3" fill="#1e4f9d"/>
<polygon points="1972.8,383.6 1980.3,418.8 1983.4,398.7" fill="#5aa9e2"/>
<polygon points="1972.8,383.6 1997.1,393.6 1983.4,398.7" fill="#5aa9e2"/>
<polygon points="1997.1,393.6 1980.3,418.8 1983.4,398.7" fill="#3b7fcb"/>
<polygon points="2152.2,383.6 2144.7,418.8 2141.6,398.7" fill="#3b7fcb"/>
<polygon points="2152.2,383.6 2127.9,393.6 2141.6,398.7" fill="#3b7fcb"/>
<polygon points="2127.9,393.6 2144.7,418.8 2141.6,398.7" fill="#1e4f9d"/>
<polygon points="2013,360.1 2022.3,390.3 2027.6,373" fill="#3b7fcb"/>
<polygon points="2013,360.1 2047.4,368.5 2027.6,373" fill="#3b7fcb"/>
<polygon points="2047.4,368.5 2022.3,390.3 2027.6,373" fill="#1e4f9d"/>
<polygon points="2112,360.1 2102.7,390.3 2097.4,373" fill="#5aa9e2"/>
<polygon points="2112,360.1 2077.6,368.5 2097.4,373" fill="#5aa9e2"/>
<polygon points="2077.6,368.5 2102.7,390.3 2097.4,373" fill="#1e4f9d"/>
<polygon points="2017.2,410.4 2022.3,442.3 2029,422.7" fill="#1e4f9d"/>
<polygon points="2017.2,410.4 2047.4,415.4 2029,422.7" fill="#1e4f9d"/>
<polygon points="2047.4,415.4 2022.3,442.3 2029,422.7" fill="#3b7fcb"/>
<polygon points="2107.8,410.4 2102.7,442.3 2096,422.7" fill="#3b7fcb"/>
<polygon points="2107.8,410.4 2077.6,415.4 2096,422.7" fill="#3b7fcb"/>
<polygon points="2077.6,415.4 2102.7,442.3 2096,422.7" fill="#1e4f9d"/>
<polygon points="2062.5,183.4 2072.6,190.8 2068.8,202.7 2056.2,202.7 2052.4,190.8" fill="none" stroke="#a3a5b5" stroke-width="1.9"/>
<circle cx="2062.5" cy="183.4" r="1.7" fill="#777a8a"/>
<circle cx="2072.6" cy="190.8" r="1.7" fill="#777a8a"/>
<circle cx="2068.8" cy="202.7" r="1.7" fill="#777a8a"/>
<circle cx="2056.2" cy="202.7" r="1.7" fill="#777a8a"/>
<circle cx="2052.4" cy="190.8" r="1.7" fill="#777a8a"/>
<polygon points="2062.5,232.1 2072.6,239.4 2068.8,251.3 2056.2,251.3 2052.4,239.4" fill="none" stroke="#a3a5b5" stroke-width="1.9"/>
<circle cx="2062.5" cy="232.1" r="1.7" fill="#777a8a"/>
<circle cx="2072.6" cy="239.4" r="1.7" fill="#777a8a"/>
<circle cx="2068.8" cy="251.3" r="1.7" fill="#777a8a"/>
<circle cx="2056.2" cy="251.3" r="1.7" fill="#777a8a"/>
<circle cx="2052.4" cy="239.4" r="1.7" fill="#777a8a"/>
<polygon points="2008.3,280.4 2020.1,276 2027.9,285.9 2020.9,296.3 2008.9,292.9" fill="none" stroke="#a3a5b5" stroke-width="1.9"/>
<circle cx="2008.3" cy="280.4" r="1.7" fill="#777a8a"/>
<circle cx="2020.1" cy="276" r="1.7" fill="#777a8a"/>
<circle cx="2027.9" cy="285.9" r="1.7" fill="#777a8a"/>
<circle cx="2020.9" cy="296.3" r="1.7" fill="#777a8a"/>
<circle cx="2008.9" cy="292.9" r="1.7" fill="#777a8a"/>
<polygon points="2116.7,280.4 2116.1,292.9 2104.1,296.3 2097.1,285.9 2104.9,276" fill="none" stroke="#a3a5b5" stroke-width="1.9"/>
<circle cx="2116.7" cy="280.4" r="1.7" fill="#777a8a"/>
<circle cx="2116.1" cy="292.9" r="1.7" fill="#777a8a"/>
<circle cx="2104.1" cy="296.3" r="1.7" fill="#777a8a"/>
<circle cx="2097.1" cy="285.9" r="1.7" fill="#777a8a"/>
<circle cx="2104.9" cy="276" r="1.7" fill="#777a8a"/>
<polygon points="1962.8,257.4 1974.3,252.4 1982.6,261.8 1976.2,272.6 1963.9,269.9" fill="none" stroke="#a3a5b5" stroke-width="1.9"/>
<circle cx="1962.8" cy="257.4" r="1.7" fill="#777a8a"/>
<circle cx="1974.3" cy="252.4" r="1.7" fill="#777a8a"/>
<circle cx="1982.6" cy="261.8" r="1.7" fill="#777a8a"/>
<circle cx="1976.2" cy="272.6" r="1.7" fill="#777a8a"/>
<circle cx="1963.9" cy="269.9" r="1.7" fill="#777a8a"/>
<polygon points="2162.2,257.4 2161.1,269.9 2148.8,272.6 2142.4,261.8 2150.7,252.4" fill="none" stroke="#a3a5b5" stroke-width="1.9"/>
<circle cx="2162.2" cy="257.4" r="1.7" fill="#777a8a"/>
<circle cx="2161.1" cy="269.9" r="1.7" fill="#777a8a"/>
<circle cx="2148.8" cy="272.6" r="1.7" fill="#777a8a"/>
<circle cx="2142.4" cy="261.8" r="1.7" fill="#777a8a"/>
<circle cx="2150.7" cy="252.4" r="1.7" fill="#777a8a"/>
<polygon points="1944.5,312.8 1952.2,302.9 1964,307.1 1963.6,319.7 1951.6,323.2" fill="none" stroke="#a3a5b5" stroke-width="1.9"/>
<circle cx="1944.5" cy="312.8" r="1.7" fill="#777a8a"/>
<circle cx="1952.2" cy="302.9" r="1.7" fill="#777a8a"/>
<circle cx="1964" cy="307.1" r="1.7" fill="#777a8a"/>
<circle cx="1963.6" cy="319.7" r="1.7" fill="#777a8a"/>
<circle cx="1951.6" cy="323.2" r="1.7" fill="#777a8a"/>
<polygon points="2180.5,312.8 2173.4,323.2 2161.4,319.7 2161,307.1 2172.8,302.9" fill="none" stroke="#a3a5b5" stroke-width="1.9"/>
<circle cx="2180.5" cy="312.8" r="1.7" fill="#777a8a"/>
<circle cx="2173.4" cy="323.2" r="1.7" fill="#777a8a"/>
<circle cx="2161.4" cy="319.7" r="1.7" fill="#777a8a"/>
<circle cx="2161" cy="307.1" r="1.7" fill="#777a8a"/>
<circle cx="2172.8" cy="302.9" r="1.7" fill="#777a8a"/>
<polygon points="1992.6,351.5 1994.6,339.1 2007,337.2 2012.7,348.4 2003.7,357.2" fill="none" stroke="#a3a5b5" stroke-width="1.9"/>
<circle cx="1992.6" cy="351.5" r="1.7" fill="#777a8a"/>
<circle cx="1994.6" cy="339.1" r="1.7" fill="#777a8a"/>
<circle cx="2007" cy="337.2" r="1.7" fill="#777a8a"/>
<circle cx="2012.7" cy="348.4" r="1.7" fill="#777a8a"/>
<circle cx="2003.7" cy="357.2" r="1.7" fill="#777a8a"/>
<polygon points="2132.4,351.5 2121.3,357.2 2112.3,348.4 2118,337.2 2130.4,339.1" fill="none" stroke="#a3a5b5" stroke-width="1.9"/>
<circle cx="2132.4" cy="351.5" r="1.7" fill="#777a8a"/>
<circle cx="2121.3" cy="357.2" r="1.7" fill="#777a8a"/>
<circle cx="2112.3" cy="348.4" r="1.7" fill="#777a8a"/>
<circle cx="2118" cy="337.2" r="1.7" fill="#777a8a"/>
<circle cx="2130.4" cy="339.1" r="1.7" fill="#777a8a"/>
<polygon points="1948.3,378.6 1950,366.2 1962.3,363.9 1968.3,374.9 1959.6,384" fill="none" stroke="#a3a5b5" stroke-width="1.9"/>
<circle cx="1948.3" cy="378.6" r="1.7" fill="#777a8a"/>
<circle cx="1950" cy="366.2" r="1.7" fill="#777a8a"/>
<circle cx="1962.3" cy="363.9" r="1.7" fill="#777a8a"/>
<circle cx="1968.3" cy="374.9" r="1.7" fill="#777a8a"/>
<circle cx="1959.6" cy="384" r="1.7" fill="#777a8a"/>
<polygon points="2176.7,378.6 2165.4,384 2156.7,374.9 2162.7,363.9 2175,366.2" fill="none" stroke="#a3a5b5" stroke-width="1.9"/>
<circle cx="2176.7" cy="378.6" r="1.7" fill="#777a8a"/>
<circle cx="2165.4" cy="384" r="1.7" fill="#777a8a"/>
<circle cx="2156.7" cy="374.9" r="1.7" fill="#777a8a"/>
<circle cx="2162.7" cy="363.9" r="1.7" fill="#777a8a"/>
<circle cx="2175" cy="366.2" r="1.7" fill="#777a8a"/>
<polygon points="2062.5,372.4 2052.4,365.1 2056.2,353.1 2068.8,353.1 2072.6,365.1" fill="none" stroke="#a3a5b5" stroke-width="1.9"/>
<circle cx="2062.5" cy="372.4" r="1.7" fill="#777a8a"/>
<circle cx="2052.4" cy="365.1" r="1.7" fill="#777a8a"/>
<circle cx="2056.2" cy="353.1" r="1.7" fill="#777a8a"/>
<circle cx="2068.8" cy="353.1" r="1.7" fill="#777a8a"/>
<circle cx="2072.6" cy="365.1" r="1.7" fill="#777a8a"/>
<polygon points="2062.5,421.1 2052.4,413.7 2056.2,401.8 2068.8,401.8 2072.6,413.7" fill="none" stroke="#a3a5b5" stroke-width="1.9"/>
<circle cx="2062.5" cy="421.1" r="1.7" fill="#777a8a"/>
<circle cx="2052.4" cy="413.7" r="1.7" fill="#777a8a"/>
<circle cx="2056.2" cy="401.8" r="1.7" fill="#777a8a"/>
<circle cx="2068.8" cy="401.8" r="1.7" fill="#777a8a"/>
<circle cx="2072.6" cy="413.7" r="1.7" fill="#777a8a"/>
<polygon points="2010.8,213.1 2023.1,215.1 2025,227.5 2013.8,233.1 2005,224.2" fill="none" stroke="#a3a5b5" stroke-width="1.9"/>
<circle cx="2010.8" cy="213.1" r="1.7" fill="#777a8a"/>
<circle cx="2023.1" cy="215.1" r="1.7" fill="#777a8a"/>
<circle cx="2025" cy="227.5" r="1.7" fill="#777a8a"/>
<circle cx="2013.8" cy="233.1" r="1.7" fill="#777a8a"/>
<circle cx="2005" cy="224.2" r="1.7" fill="#777a8a"/>
<polygon points="2114.2,213.1 2120,224.2 2111.2,233.1 2100,227.5 2101.9,215.1" fill="none" stroke="#a3a5b5" stroke-width="1.9"/>
<circle cx="2114.2" cy="213.1" r="1.7" fill="#777a8a"/>
<circle cx="2120" cy="224.2" r="1.7" fill="#777a8a"/>
<circle cx="2111.2" cy="233.1" r="1.7" fill="#777a8a"/>
<circle cx="2100" cy="227.5" r="1.7" fill="#777a8a"/>
<circle cx="2101.9" cy="215.1" r="1.7" fill="#777a8a"/>
<polygon points="2004.7,406 2000.2,394.3 2009.9,386.3 2020.5,393.1 2017.2,405.3" fill="none" stroke="#a3a5b5" stroke-width="1.9"/>
<circle cx="2004.7" cy="406" r="1.7" fill="#777a8a"/>
<circle cx="2000.2" cy="394.3" r="1.7" fill="#777a8a"/>
<circle cx="2009.9" cy="386.3" r="1.7" fill="#777a8a"/>
<circle cx="2020.5" cy="393.1" r="1.7" fill="#777a8a"/>
<circle cx="2017.2" cy="405.3" r="1.7" fill="#777a8a"/>
<polygon points="2120.3,406 2107.8,405.3 2104.5,393.1 2115.1,386.3 2124.8,394.3" fill="none" stroke="#a3a5b5" stroke-width="1.9"/>
<circle cx="2120.3" cy="406" r="1.7" fill="#777a8a"/>
<circle cx="2107.8" cy="405.3" r="1.7" fill="#777a8a"/>
<circle cx="2104.5" cy="393.1" r="1.7" fill="#777a8a"/>
<circle cx="2115.1" cy="386.3" r="1.7" fill="#777a8a"/>
<circle cx="2124.8" cy="394.3" r="1.7" fill="#777a8a"/>
<polygon points="2052.5,423 2073.5,423 2073.5,466 2093.5,466 2063,499 2032.5,466 2052.5,466" fill="#f6b515"/>
<polyline points="236.1,578.7 318.8,835.2 411.9,930.9 494.6,925.1 598,959.6" fill="none" stroke="#d4d4d4" stroke-width="2"/>
<polyline points="236.1,578.7 318.8,884.9 411.9,946.2 494.6,942.4 598,960.4" fill="none" stroke="#d4d4d4" stroke-width="2"/>
<polyline points="236.1,578.7 318.8,923.2 411.9,948.1 494.6,944.3 598,960.7" fill="none" stroke="#d4d4d4" stroke-width="2"/>
<polyline points="236.1,578.7 318.8,923.2 411.9,948.1 494.6,948.1 598,960.7" fill="none" stroke="#d4d4d4" stroke-width="2"/>
<polyline points="236.1,578.7 318.8,946.2 411.9,949.3 494.6,951.9 598,960.7" fill="none" stroke="#d4d4d4" stroke-width="2"/>
<polyline points="236.1,578.7 318.8,588.3 411.9,831.3 494.6,819.9 598,946.2 701.4,961.5" fill="none" stroke="#d4d4d4" stroke-width="2"/>
<polygon points="318.8,822.7 321.9,830.9 330.7,831.3 323.8,836.8 326.2,845.3 318.8,840.4 311.5,845.3 313.8,836.8 306.9,831.3 315.7,830.9" fill="#f2a0a0" stroke="none" stroke-width="0" stroke-linejoin="miter"/>
<polygon points="411.9,918.4 415,926.6 423.8,927 416.9,932.5 419.2,941 411.9,936.1 404.5,941 406.9,932.5 400,927 408.8,926.6" fill="#f2a0a0" stroke="none" stroke-width="0" stroke-linejoin="miter"/>
<polygon points="494.6,912.6 497.7,920.9 506.5,921.3 499.6,926.8 501.9,935.2 494.6,930.4 487.3,935.2 489.6,926.8 482.7,921.3 491.5,920.9" fill="#f2a0a0" stroke="none" stroke-width="0" stroke-linejoin="miter"/>
<polygon points="598,947.1 601.1,955.3 609.9,955.7 603,961.2 605.3,969.7 598,964.8 590.7,969.7 593,961.2 586.1,955.7 594.9,955.3" fill="#f2a0a0" stroke="none" stroke-width="0" stroke-linejoin="miter"/>
<polygon points="318.8,872.4 321.9,880.7 330.7,881.1 323.8,886.6 326.2,895.1 318.8,890.2 311.5,895.1 313.8,886.6 306.9,881.1 315.7,880.7" fill="#e4605c" stroke="none" stroke-width="0" stroke-linejoin="miter"/>
<polygon points="411.9,933.7 415,941.9 423.8,942.3 416.9,947.8 419.2,956.3 411.9,951.4 404.5,956.3 406.9,947.8 400,942.3 408.8,941.9" fill="#e4605c" stroke="none" stroke-width="0" stroke-linejoin="miter"/>
<polygon points="494.6,929.9 497.7,938.1 506.5,938.5 499.6,944 501.9,952.5 494.6,947.6 487.3,952.5 489.6,944 482.7,938.5 491.5,938.1" fill="#e4605c" stroke="none" stroke-width="0" stroke-linejoin="miter"/>
<polygon points="598,947.9 601.1,956.1 609.9,956.5 603,962 605.3,970.5 598,965.6 590.7,970.5 593,962 586.1,956.5 594.9,956.1" fill="#e4605c" stroke="none" stroke-width="0" stroke-linejoin="miter"/>
<polygon points="318.8,910.7 321.9,919 330.7,919.4 323.8,924.8 326.2,933.3 318.8,928.5 311.5,933.3 313.8,924.8 306.9,919.4 315.7,919" fill="#d83a30" stroke="none" stroke-width="0" stroke-linejoin="miter"/>
<polygon points="411.9,935.6 415,943.9 423.8,944.2 416.9,949.7 419.2,958.2 411.9,953.4 404.5,958.2 406.9,949.7 400,944.2 408.8,943.9" fill="#d83a30" stroke="none" stroke-width="0" stroke-linejoin="miter"/>
<polygon points="494.6,931.8 497.7,940 506.5,940.4 499.6,945.9 501.9,954.4 494.6,949.5 487.3,954.4 489.6,945.9 482.7,940.4 491.5,940" fill="#d83a30" stroke="none" stroke-width="0" stroke-linejoin="miter"/>
<polygon points="598,948.2 601.1,956.5 609.9,956.9 603,962.4 605.3,970.8 598,966 590.7,970.8 593,962.4 586.1,956.9 594.9,956.5" fill="#d83a30" stroke="none" stroke-width="0" stroke-linejoin="miter"/>
<polygon points="318.8,910.7 321.9,919 330.7,919.4 323.8,924.8 326.2,933.3 318.8,928.5 311.5,933.3 313.8,924.8 306.9,919.4 315.7,919" fill="#b52128" stroke="none" stroke-width="0" stroke-linejoin="miter"/>
<polygon points="411.9,935.6 415,943.9 423.8,944.2 416.9,949.7 419.2,958.2 411.9,953.4 404.5,958.2 406.9,949.7 400,944.2 408.8,943.9" fill="#b52128" stroke="none" stroke-width="0" stroke-linejoin="miter"/>
<polygon points="494.6,935.6 497.7,943.9 506.5,944.2 499.6,949.7 501.9,958.2 494.6,953.4 487.3,958.2 489.6,949.7 482.7,944.2 491.5,943.9" fill="#b52128" stroke="none" stroke-width="0" stroke-linejoin="miter"/>
<polygon points="598,948.2 601.1,956.5 609.9,956.9 603,962.4 605.3,970.8 598,966 590.7,970.8 593,962.4 586.1,956.9 594.9,956.5" fill="#b52128" stroke="none" stroke-width="0" stroke-linejoin="miter"/>
<polygon points="318.8,933.7 321.9,941.9 330.7,942.3 323.8,947.8 326.2,956.3 318.8,951.4 311.5,956.3 313.8,947.8 306.9,942.3 315.7,941.9" fill="#9a1a24" stroke="none" stroke-width="0" stroke-linejoin="miter"/>
<polygon points="411.9,936.8 415,945 423.8,945.4 416.9,950.9 419.2,959.4 411.9,954.5 404.5,959.4 406.9,950.9 400,945.4 408.8,945" fill="#9a1a24" stroke="none" stroke-width="0" stroke-linejoin="miter"/>
<polygon points="494.6,939.4 497.7,947.7 506.5,948.1 499.6,953.6 501.9,962 494.6,957.2 487.3,962 489.6,953.6 482.7,948.1 491.5,947.7" fill="#9a1a24" stroke="none" stroke-width="0" stroke-linejoin="miter"/>
<polygon points="598,948.2 601.1,956.5 609.9,956.9 603,962.4 605.3,970.8 598,966 590.7,970.8 593,962.4 586.1,956.9 594.9,956.5" fill="#9a1a24" stroke="none" stroke-width="0" stroke-linejoin="miter"/>
<polygon points="236.1,569.9 238.5,576.4 245.4,576.7 240,581 241.9,587.6 236.1,583.8 230.3,587.6 232.2,581 226.8,576.7 233.7,576.4" fill="white" stroke="#333" stroke-width="2" stroke-linejoin="miter"/>
<polygon points="318.8,579.5 321.2,585.9 328.1,586.2 322.7,590.5 324.6,597.2 318.8,593.4 313.1,597.2 314.9,590.5 309.5,586.2 316.4,585.9" fill="white" stroke="#333" stroke-width="2" stroke-linejoin="miter"/>
<polygon points="411.9,822.5 414.3,829 421.2,829.3 415.8,833.6 417.6,840.3 411.9,836.5 406.1,840.3 408,833.6 402.6,829.3 409.5,829" fill="white" stroke="#333" stroke-width="2" stroke-linejoin="miter"/>
<polygon points="494.6,811.1 497,817.5 503.9,817.8 498.5,822.1 500.4,828.8 494.6,825 488.8,828.8 490.7,822.1 485.3,817.8 492.2,817.5" fill="white" stroke="#333" stroke-width="2" stroke-linejoin="miter"/>
<polygon points="598,937.4 600.4,943.9 607.3,944.2 601.9,948.5 603.8,955.1 598,951.3 592.2,955.1 594.1,948.5 588.7,944.2 595.6,943.9" fill="white" stroke="#333" stroke-width="2" stroke-linejoin="miter"/>
<polygon points="701.4,952.7 703.8,959.2 710.7,959.5 705.3,963.8 707.2,970.4 701.4,966.6 695.6,970.4 697.5,963.8 692.1,959.5 699,959.2" fill="white" stroke="#333" stroke-width="2" stroke-linejoin="miter"/>
<rect x="209.6" y="560.8" width="569.8" height="457.2" fill="none" stroke="#666666" stroke-width="2.6"/>
<line x1="201.1" y1="961.5" x2="209.6" y2="961.5" stroke="#666666" stroke-width="2.4"/>
<text x="192" y="972.8" font-size="32" font-weight="bold" text-anchor="end" fill="#1c1c1c">0.0</text>
<line x1="201.1" y1="884.9" x2="209.6" y2="884.9" stroke="#666666" stroke-width="2.4"/>
<text x="192" y="896.2" font-size="32" font-weight="bold" text-anchor="end" fill="#1c1c1c">0.2</text>
<line x1="201.1" y1="808.4" x2="209.6" y2="808.4" stroke="#666666" stroke-width="2.4"/>
<text x="192" y="819.7" font-size="32" font-weight="bold" text-anchor="end" fill="#1c1c1c">0.4</text>
<line x1="201.1" y1="731.8" x2="209.6" y2="731.8" stroke="#666666" stroke-width="2.4"/>
<text x="192" y="743.1" font-size="32" font-weight="bold" text-anchor="end" fill="#1c1c1c">0.6</text>
<line x1="201.1" y1="655.3" x2="209.6" y2="655.3" stroke="#666666" stroke-width="2.4"/>
<text x="192" y="666.6" font-size="32" font-weight="bold" text-anchor="end" fill="#1c1c1c">0.8</text>
<line x1="201.1" y1="578.7" x2="209.6" y2="578.7" stroke="#666666" stroke-width="2.4"/>
<text x="192" y="590" font-size="32" font-weight="bold" text-anchor="end" fill="#1c1c1c">1.0</text>
<line x1="205.1" y1="999.8" x2="209.6" y2="999.8" stroke="#666666" stroke-width="2.2"/>
<line x1="205.1" y1="923.2" x2="209.6" y2="923.2" stroke="#666666" stroke-width="2.2"/>
<line x1="205.1" y1="846.7" x2="209.6" y2="846.7" stroke="#666666" stroke-width="2.2"/>
<line x1="205.1" y1="770.1" x2="209.6" y2="770.1" stroke="#666666" stroke-width="2.2"/>
<line x1="205.1" y1="693.5" x2="209.6" y2="693.5" stroke="#666666" stroke-width="2.2"/>
<line x1="205.1" y1="617" x2="209.6" y2="617" stroke="#666666" stroke-width="2.2"/>
<line x1="287.8" y1="1018" x2="287.8" y2="1026.5" stroke="#666666" stroke-width="2.4"/>
<text x="287.8" y="1061" font-size="32" font-weight="bold" text-anchor="middle" fill="#1c1c1c">3.4</text>
<line x1="391.2" y1="1018" x2="391.2" y2="1026.5" stroke="#666666" stroke-width="2.4"/>
<text x="391.2" y="1061" font-size="32" font-weight="bold" text-anchor="middle" fill="#1c1c1c">3.6</text>
<line x1="494.6" y1="1018" x2="494.6" y2="1026.5" stroke="#666666" stroke-width="2.4"/>
<text x="494.6" y="1061" font-size="32" font-weight="bold" text-anchor="middle" fill="#1c1c1c">3.8</text>
<line x1="598" y1="1018" x2="598" y2="1026.5" stroke="#666666" stroke-width="2.4"/>
<text x="598" y="1061" font-size="32" font-weight="bold" text-anchor="middle" fill="#1c1c1c">4.0</text>
<line x1="701.4" y1="1018" x2="701.4" y2="1026.5" stroke="#666666" stroke-width="2.4"/>
<text x="701.4" y="1061" font-size="32" font-weight="bold" text-anchor="middle" fill="#1c1c1c">4.2</text>
<line x1="236.1" y1="1018" x2="236.1" y2="1022.5" stroke="#666666" stroke-width="2.2"/>
<line x1="339.5" y1="1018" x2="339.5" y2="1022.5" stroke="#666666" stroke-width="2.2"/>
<line x1="442.9" y1="1018" x2="442.9" y2="1022.5" stroke="#666666" stroke-width="2.2"/>
<line x1="546.3" y1="1018" x2="546.3" y2="1022.5" stroke="#666666" stroke-width="2.2"/>
<line x1="649.7" y1="1018" x2="649.7" y2="1022.5" stroke="#666666" stroke-width="2.2"/>
<line x1="753.1" y1="1018" x2="753.1" y2="1022.5" stroke="#666666" stroke-width="2.2"/>
<text x="328" y="1107" font-size="36" font-weight="bold" text-anchor="start" fill="#1c1c1c" textLength="335" lengthAdjust="spacingAndGlyphs">Kinetic diameter (Å)</text>
<text x="84.6" y="794.7" font-size="35.5" font-weight="bold" text-anchor="middle" fill="#1c1c1c" transform="rotate(-90 84.6 794.7)">Normalized permeance</text>
<text x="132.8" y="789.2" font-size="35.5" font-weight="bold" text-anchor="middle" fill="#1c1c1c" transform="rotate(-90 132.8 789.2)" textLength="173" lengthAdjust="spacingAndGlyphs">(w.r.t CO<tspan font-size="23" dy="7">2</tspan><tspan dy="-7">)</tspan></text>
<text x="52" y="572" font-size="36" font-weight="bold" text-anchor="start" fill="#1c1c1c">d)</text>
<line x1="401" y1="575.1" x2="461.4" y2="575.1" stroke="#dcdcdc" stroke-width="2"/>
<polygon points="432.5,564.1 435.2,571.4 443,571.7 436.9,576.5 439,584 432.5,579.7 426,584 428.1,576.5 422,571.7 429.8,571.4" fill="#f2a0a0" stroke="none" stroke-width="0" stroke-linejoin="miter"/>
<text x="471.5" y="584.4" font-size="26.6" font-weight="bold" text-anchor="start" fill="#1c1c1c" textLength="132.8" lengthAdjust="spacingAndGlyphs">5 s, 330 °C</text>
<line x1="401" y1="610" x2="461.4" y2="610" stroke="#dcdcdc" stroke-width="2"/>
<polygon points="432.5,599 435.2,606.3 443,606.6 436.9,611.4 439,618.9 432.5,614.6 426,618.9 428.1,611.4 422,606.6 429.8,606.3" fill="#e4605c" stroke="none" stroke-width="0" stroke-linejoin="miter"/>
<text x="471.5" y="619.3" font-size="26.6" font-weight="bold" text-anchor="start" fill="#1c1c1c" textLength="132.8" lengthAdjust="spacingAndGlyphs">5 s, 360 °C</text>
<line x1="401" y1="643.8" x2="461.4" y2="643.8" stroke="#dcdcdc" stroke-width="2"/>
<polygon points="432.5,632.8 435.2,640.1 443,640.4 436.9,645.2 439,652.7 432.5,648.4 426,652.7 428.1,645.2 422,640.4 429.8,640.1" fill="#d83a30" stroke="none" stroke-width="0" stroke-linejoin="miter"/>
<text x="471.5" y="653.1" font-size="26.6" font-weight="bold" text-anchor="start" fill="#1c1c1c" textLength="148.4" lengthAdjust="spacingAndGlyphs">10 s, 360 °C</text>
<line x1="401" y1="676.8" x2="461.4" y2="676.8" stroke="#dcdcdc" stroke-width="2"/>
<polygon points="432.5,665.8 435.2,673.1 443,673.4 436.9,678.2 439,685.7 432.5,681.4 426,685.7 428.1,678.2 422,673.4 429.8,673.1" fill="#b52128" stroke="none" stroke-width="0" stroke-linejoin="miter"/>
<text x="471.5" y="686.1" font-size="26.6" font-weight="bold" text-anchor="start" fill="#1c1c1c" textLength="148.4" lengthAdjust="spacingAndGlyphs">15 s, 360 °C</text>
<line x1="401" y1="711.6" x2="461.4" y2="711.6" stroke="#dcdcdc" stroke-width="2"/>
<polygon points="432.5,700.6 435.2,707.9 443,708.2 436.9,713 439,720.5 432.5,716.2 426,720.5 428.1,713 422,708.2 429.8,707.9" fill="#9a1a24" stroke="none" stroke-width="0" stroke-linejoin="miter"/>
<text x="471.5" y="720.9" font-size="26.6" font-weight="bold" text-anchor="start" fill="#1c1c1c" textLength="305" lengthAdjust="spacingAndGlyphs">3 s, 360 °C (faster ramp)</text>
<line x1="401" y1="745.5" x2="461.4" y2="745.5" stroke="#dcdcdc" stroke-width="2"/>
<polygon points="432.5,735.5 435,742.1 442,742.4 436.5,746.8 438.4,753.6 432.5,749.7 426.6,753.6 428.5,746.8 423,742.4 430,742.1" fill="white" stroke="#333" stroke-width="2.2" stroke-linejoin="miter"/>
<text x="471.5" y="754.8" font-size="26.6" font-weight="bold" text-anchor="start" fill="#1c1c1c" textLength="266.5" lengthAdjust="spacingAndGlyphs">As-synthesized ZIF-8</text>
<text x="240" y="1014" font-size="26" font-weight="normal" fill="#3d64b4" transform="rotate(-33 240 1014)">CO<tspan font-size="16" dy="4">2</tspan></text>
<text x="306" y="1009" font-size="26" font-weight="normal" fill="#3d64b4" transform="rotate(-33 306 1009)">O<tspan font-size="16" dy="4">2</tspan></text>
<text x="397" y="1010" font-size="26" font-weight="normal" fill="#3d64b4" transform="rotate(-33 397 1010)">N<tspan font-size="16" dy="4">2</tspan></text>
<text x="476" y="1014" font-size="26" font-weight="normal" fill="#3d64b4" transform="rotate(-33 476 1014)">CH<tspan font-size="16" dy="4">4</tspan></text>
<text x="586" y="1018" font-size="26" font-weight="normal" fill="#3d64b4" transform="rotate(-33 586 1018)">C<tspan font-size="16" dy="4">3</tspan><tspan dy="-4">H</tspan><tspan font-size="16" dy="4">6</tspan></text>
<text x="681" y="1018" font-size="26" font-weight="normal" fill="#3d64b4" transform="rotate(-33 681 1018)">C<tspan font-size="16" dy="4">3</tspan><tspan dy="-4">H</tspan><tspan font-size="16" dy="4">8</tspan></text>
<rect x="906" y="936" width="40.6" height="114.8" fill="#ec9494" stroke="#5a2a2a" stroke-width="1.6"/>
<rect x="946.3" y="790.4" width="40.6" height="260.4" fill="#de524c" stroke="#5a2a2a" stroke-width="1.6"/>
<rect x="986.7" y="738.6" width="40.6" height="312.2" fill="#d7342b" stroke="#5a2a2a" stroke-width="1.6"/>
<rect x="1027" y="634.6" width="40.6" height="416.2" fill="#b31e26" stroke="#5a2a2a" stroke-width="1.6"/>
<rect x="1107.7" y="1002.1" width="40.6" height="48.7" fill="#ec9494" stroke="#5a2a2a" stroke-width="1.6"/>
<rect x="1148.8" y="969.1" width="40.6" height="81.7" fill="#de524c" stroke="#5a2a2a" stroke-width="1.6"/>
<rect x="1188.8" y="957.9" width="40.6" height="92.9" fill="#d7342b" stroke="#5a2a2a" stroke-width="1.6"/>
<rect x="1231" y="955.2" width="40.6" height="95.6" fill="#b31e26" stroke="#5a2a2a" stroke-width="1.6"/>
<rect x="1313.3" y="992.7" width="40.6" height="58.1" fill="#ec9494" stroke="#5a2a2a" stroke-width="1.6"/>
<rect x="1352.3" y="919.5" width="40.6" height="131.3" fill="#de524c" stroke="#5a2a2a" stroke-width="1.6"/>
<rect x="1392.3" y="933.8" width="40.6" height="117" fill="#d7342b" stroke="#5a2a2a" stroke-width="1.6"/>
<rect x="1433" y="939.6" width="40.6" height="111.2" fill="#b31e26" stroke="#5a2a2a" stroke-width="1.6"/>
<rect x="885.4" y="560.8" width="609.6" height="490" fill="none" stroke="#666666" stroke-width="2.6"/>
<line x1="876.9" y1="1050.8" x2="885.4" y2="1050.8" stroke="#666666" stroke-width="2.4"/>
<text x="868.7" y="1062.1" font-size="32" font-weight="bold" text-anchor="end" fill="#1c1c1c">0</text>
<line x1="876.9" y1="961.5" x2="885.4" y2="961.5" stroke="#666666" stroke-width="2.4"/>
<text x="868.7" y="972.8" font-size="32" font-weight="bold" text-anchor="end" fill="#1c1c1c">20</text>
<line x1="876.9" y1="872.2" x2="885.4" y2="872.2" stroke="#666666" stroke-width="2.4"/>
<text x="868.7" y="883.5" font-size="32" font-weight="bold" text-anchor="end" fill="#1c1c1c">40</text>
<line x1="876.9" y1="782.8" x2="885.4" y2="782.8" stroke="#666666" stroke-width="2.4"/>
<text x="868.7" y="794.1" font-size="32" font-weight="bold" text-anchor="end" fill="#1c1c1c">60</text>
<line x1="876.9" y1="693.5" x2="885.4" y2="693.5" stroke="#666666" stroke-width="2.4"/>
<text x="868.7" y="704.8" font-size="32" font-weight="bold" text-anchor="end" fill="#1c1c1c">80</text>
<line x1="876.9" y1="604.2" x2="885.4" y2="604.2" stroke="#666666" stroke-width="2.4"/>
<text x="868.7" y="615.5" font-size="32" font-weight="bold" text-anchor="end" fill="#1c1c1c">100</text>
<line x1="880.9" y1="1006.1" x2="885.4" y2="1006.1" stroke="#666666" stroke-width="2.2"/>
<line x1="880.9" y1="916.8" x2="885.4" y2="916.8" stroke="#666666" stroke-width="2.2"/>
<line x1="880.9" y1="827.5" x2="885.4" y2="827.5" stroke="#666666" stroke-width="2.2"/>
<line x1="880.9" y1="738.2" x2="885.4" y2="738.2" stroke="#666666" stroke-width="2.2"/>
<line x1="880.9" y1="648.9" x2="885.4" y2="648.9" stroke="#666666" stroke-width="2.2"/>
<text x="993" y="1084" font-size="31.5" font-weight="bold" text-anchor="middle" fill="#1c1c1c">H<tspan font-size="20" dy="7">2</tspan><tspan dy="-7">/CH</tspan><tspan font-size="19" dy="7">4</tspan></text>
<text x="1204" y="1084" font-size="31.5" font-weight="bold" text-anchor="middle" fill="#1c1c1c">CO<tspan font-size="20" dy="7">2</tspan><tspan dy="-7">/CH</tspan><tspan font-size="19" dy="7">4</tspan></text>
<text x="1422" y="1084" font-size="31.5" font-weight="bold" text-anchor="middle" fill="#1c1c1c">CO<tspan font-size="20" dy="7">2</tspan><tspan dy="-7">/N</tspan><tspan font-size="19" dy="7">2</tspan></text>
<text x="820" y="804.4" font-size="37.5" font-weight="bold" text-anchor="middle" fill="#1c1c1c" transform="rotate(-90 820 804.4)" textLength="278" lengthAdjust="spacingAndGlyphs">Ideal selectivity</text>
<text x="800" y="572" font-size="36" font-weight="bold" text-anchor="start" fill="#1c1c1c">e)</text>
<rect x="1267" y="565.5" width="207" height="133" fill="white" stroke="#b4b4b4" stroke-width="2.6"/>
<rect x="1273.2" y="569.2" width="55" height="29.2" fill="#ec9494" stroke="#8a5a5a" stroke-width="1.6"/>
<text x="1337.5" y="592" font-size="24" font-weight="bold" text-anchor="start" fill="#1c1c1c" textLength="117.5" lengthAdjust="spacingAndGlyphs">5 s, 330°C</text>
<rect x="1273.2" y="600.8" width="55" height="29.2" fill="#de524c" stroke="#8a5a5a" stroke-width="1.6"/>
<text x="1337.5" y="623.6" font-size="24" font-weight="bold" text-anchor="start" fill="#1c1c1c" textLength="117.5" lengthAdjust="spacingAndGlyphs">5 s, 360°C</text>
<rect x="1273.2" y="633.6" width="55" height="29.2" fill="#d7342b" stroke="#8a5a5a" stroke-width="1.6"/>
<text x="1337.5" y="656.4" font-size="24" font-weight="bold" text-anchor="start" fill="#1c1c1c" textLength="130.2" lengthAdjust="spacingAndGlyphs">10 s, 360°C</text>
<rect x="1273.2" y="665.9" width="55" height="29.2" fill="#b31e26" stroke="#8a5a5a" stroke-width="1.6"/>
<text x="1337.5" y="688.7" font-size="24" font-weight="bold" text-anchor="start" fill="#1c1c1c" textLength="130.2" lengthAdjust="spacingAndGlyphs">15 s, 360°C</text>
<rect x="1686" y="970.5" width="51" height="8" fill="#050505" stroke="#3a1a1a" stroke-width="1.4"/>
<rect x="1735" y="794" width="51" height="176.5" fill="#b01e25" stroke="#3a1a1a" stroke-width="1.4"/>
<rect x="1888" y="970.5" width="51" height="68.2" fill="#050505" stroke="#3a1a1a" stroke-width="1.4"/>
<rect x="1937" y="796.7" width="51" height="173.8" fill="#b01e25" stroke="#3a1a1a" stroke-width="1.4"/>
<rect x="2089" y="970.5" width="51" height="10.7" fill="#050505" stroke="#3a1a1a" stroke-width="1.4"/>
<rect x="2139" y="620.2" width="51" height="350.3" fill="#b01e25" stroke="#3a1a1a" stroke-width="1.4"/>
<line x1="1635.7" y1="970.5" x2="2240.8" y2="970.5" stroke="#555" stroke-width="2.2"/>
<rect x="1635.7" y="569.4" width="605.1" height="487.9" fill="none" stroke="#666666" stroke-width="2.6"/>
<line x1="1626.7" y1="1037.3" x2="1635.7" y2="1037.3" stroke="#666666" stroke-width="2.4"/>
<text x="1618.6" y="1048.6" font-size="32" font-weight="bold" text-anchor="end" fill="#1c1c1c">-5</text>
<line x1="1626.7" y1="970.5" x2="1635.7" y2="970.5" stroke="#666666" stroke-width="2.4"/>
<text x="1618.6" y="981.8" font-size="32" font-weight="bold" text-anchor="end" fill="#1c1c1c">0</text>
<line x1="1626.7" y1="903.6" x2="1635.7" y2="903.6" stroke="#666666" stroke-width="2.4"/>
<text x="1618.6" y="914.9" font-size="32" font-weight="bold" text-anchor="end" fill="#1c1c1c">5</text>
<line x1="1626.7" y1="836.8" x2="1635.7" y2="836.8" stroke="#666666" stroke-width="2.4"/>
<text x="1618.6" y="848.1" font-size="32" font-weight="bold" text-anchor="end" fill="#1c1c1c">10</text>
<line x1="1626.7" y1="770" x2="1635.7" y2="770" stroke="#666666" stroke-width="2.4"/>
<text x="1618.6" y="781.2" font-size="32" font-weight="bold" text-anchor="end" fill="#1c1c1c">15</text>
<line x1="1626.7" y1="703.1" x2="1635.7" y2="703.1" stroke="#666666" stroke-width="2.4"/>
<text x="1618.6" y="714.4" font-size="32" font-weight="bold" text-anchor="end" fill="#1c1c1c">20</text>
<line x1="1626.7" y1="636.2" x2="1635.7" y2="636.2" stroke="#666666" stroke-width="2.4"/>
<text x="1618.6" y="647.5" font-size="32" font-weight="bold" text-anchor="end" fill="#1c1c1c">25</text>
<line x1="1626.7" y1="569.4" x2="1635.7" y2="569.4" stroke="#666666" stroke-width="2.4"/>
<text x="1618.6" y="580.7" font-size="32" font-weight="bold" text-anchor="end" fill="#1c1c1c">30</text>
<line x1="1631.2" y1="1003.9" x2="1635.7" y2="1003.9" stroke="#666666" stroke-width="2.2"/>
<line x1="1631.2" y1="937.1" x2="1635.7" y2="937.1" stroke="#666666" stroke-width="2.2"/>
<line x1="1631.2" y1="870.2" x2="1635.7" y2="870.2" stroke="#666666" stroke-width="2.2"/>
<line x1="1631.2" y1="803.4" x2="1635.7" y2="803.4" stroke="#666666" stroke-width="2.2"/>
<line x1="1631.2" y1="736.5" x2="1635.7" y2="736.5" stroke="#666666" stroke-width="2.2"/>
<line x1="1631.2" y1="669.7" x2="1635.7" y2="669.7" stroke="#666666" stroke-width="2.2"/>
<line x1="1631.2" y1="602.8" x2="1635.7" y2="602.8" stroke="#666666" stroke-width="2.2"/>
<text x="1743" y="1093" font-size="32" font-weight="bold" text-anchor="middle" fill="#1c1c1c">H<tspan font-size="21" dy="8">2</tspan></text>
<text x="1953" y="1093" font-size="32" font-weight="bold" text-anchor="middle" fill="#1c1c1c">CO<tspan font-size="21" dy="8">2</tspan></text>
<text x="2150" y="1089" font-size="32" font-weight="bold" text-anchor="middle" fill="#1c1c1c">CH<tspan font-size="21" dy="8">4</tspan></text>
<text x="1556" y="798" font-size="37" font-weight="bold" text-anchor="middle" fill="#1c1c1c" transform="rotate(-90 1556 798)" textLength="300" lengthAdjust="spacingAndGlyphs">E<tspan font-size="22" dy="8">app-act</tspan><tspan dy="-8" font-weight="normal" font-size="46"> (</tspan><tspan font-size="32">kJ mol</tspan><tspan font-size="21" dy="-12">-1</tspan><tspan dy="12" font-weight="normal" font-size="46">)</tspan></text>
<text x="1516" y="570" font-size="31" font-weight="normal" text-anchor="start" fill="#1c1c1c">f)</text>
<rect x="1648" y="579" width="265" height="85" fill="white" stroke="#a9a9a9" stroke-width="2.6"/>
<rect x="1652" y="585" width="71" height="35" fill="#050505" stroke="#777" stroke-width="1.5"/>
<rect x="1652" y="625" width="71" height="35" fill="#b01e25" stroke="#777" stroke-width="1.5"/>
<text x="1733.5" y="613.5" font-size="31.6" font-weight="bold" text-anchor="start" fill="#1c1c1c">Before RHT</text>
<text x="1733.5" y="653" font-size="31.6" font-weight="bold" text-anchor="start" fill="#1c1c1c">After RHT</text>
<circle cx="274.8" cy="1464.2" r="6.3" fill="#3e6bbf"/>
<circle cx="393.7" cy="1433.1" r="6.3" fill="#3e6bbf"/>
<circle cx="238.7" cy="1534.2" r="6.3" fill="#3e6bbf"/>
<circle cx="223.2" cy="1542" r="6.3" fill="#3e6bbf"/>
<circle cx="417.7" cy="1537.8" r="6.3" fill="#3e6bbf"/>
<circle cx="392.3" cy="1562.5" r="6.3" fill="#3e6bbf"/>
<circle cx="393.7" cy="1575.3" r="6.3" fill="#3e6bbf"/>
<circle cx="303.1" cy="1583" r="6.3" fill="#3e6bbf"/>
<circle cx="279" cy="1578.8" r="6.3" fill="#3e6bbf"/>
<circle cx="267" cy="1585.9" r="6.3" fill="#3e6bbf"/>
<circle cx="207.6" cy="1578.8" r="6.3" fill="#3e6bbf"/>
<circle cx="420.6" cy="1575.3" r="6.3" fill="#3e6bbf"/>
<circle cx="742.5" cy="1410.5" r="6.3" fill="#3e6bbf"/>
<circle cx="637.4" cy="1482.2" r="6.3" fill="#3e6bbf"/>
<circle cx="487.7" cy="1573" r="6.3" fill="#3e6bbf"/>
<circle cx="493" cy="1575" r="6.3" fill="#3e6bbf"/>
<circle cx="464.3" cy="1580.1" r="6.3" fill="#3e6bbf"/>
<circle cx="599.8" cy="1559.6" r="6.3" fill="#3e6bbf"/>
<circle cx="600.5" cy="1574.5" r="6.3" fill="#3e6bbf"/>
<circle cx="616.9" cy="1577.3" r="6.3" fill="#3e6bbf"/>
<circle cx="632.5" cy="1564.5" r="6.3" fill="#3e6bbf"/>
<circle cx="646" cy="1577.3" r="6.3" fill="#3e6bbf"/>
<circle cx="655.9" cy="1577.3" r="6.3" fill="#3e6bbf"/>
<circle cx="665.8" cy="1577.3" r="6.3" fill="#3e6bbf"/>
<circle cx="675.8" cy="1577.3" r="6.3" fill="#3e6bbf"/>
<circle cx="692.8" cy="1577.3" r="6.3" fill="#3e6bbf"/>
<circle cx="711.7" cy="1579" r="6.3" fill="#3e6bbf"/>
<circle cx="715.7" cy="1571" r="6.3" fill="#3e6bbf"/>
<circle cx="734" cy="1556" r="6.3" fill="#3e6bbf"/>
<circle cx="731" cy="1559" r="6.3" fill="#3e6bbf"/>
<polygon points="423.7,1296.2 416.4,1308.8 430.9,1308.8" fill="#1f8a40"/>
<polygon points="222.5,1417.5 215.2,1430.1 229.8,1430.1" fill="#1f8a40"/>
<polygon points="475.6,1512.7 468.4,1525.3 482.9,1525.3" fill="#1f8a40"/>
<polygon points="522.5,1525.5 515.2,1538.1 529.8,1538.1" fill="#1f8a40"/>
<polygon points="564.3,1541.2 557,1553.8 571.5,1553.8" fill="#1f8a40"/>
<polygon points="563.6,1559.6 556.4,1572.2 570.9,1572.2" fill="#1f8a40"/>
<polygon points="467,1553.9 459.8,1566.5 474.2,1566.5" fill="#1f8a40"/>
<polygon points="494.8,1551.1 487.6,1563.7 502.1,1563.7" fill="#1f8a40"/>
<polygon points="533.8,1570.9 526.5,1583.5 541,1583.5" fill="#1f8a40"/>
<polygon points="670.8,1507 663.5,1519.6 678,1519.6" fill="#1f8a40"/>
<polygon points="672.9,1573.8 665.6,1586.4 680.1,1586.4" fill="#1f8a40"/>
<polygon points="216,1569.6 208.8,1582.2 223.2,1582.2" fill="#1f8a40"/>
<polygon points="327.2,1556.2 319.9,1568.8 334.4,1568.8" fill="#1f8a40"/>
<polygon points="315.8,1564.7 308.6,1577.3 323.1,1577.3" fill="#1f8a40"/>
<polygon points="359,1570.2 351.8,1582.8 366.2,1582.8" fill="#1f8a40"/>
<polygon points="379.5,1564.7 372.2,1577.3 386.8,1577.3" fill="#1f8a40"/>
<polygon points="402.2,1564.7 394.9,1577.3 409.4,1577.3" fill="#1f8a40"/>
<polygon points="456,1544.2 448.8,1556.8 463.2,1556.8" fill="#1f8a40"/>
<polygon points="481,1558.2 473.8,1570.8 488.2,1570.8" fill="#1f8a40"/>
<rect x="263.7" y="1507.5" width="12.4" height="12.4" fill="#4b4b4b"/>
<rect x="348.6" y="1530.2" width="12.4" height="12.4" fill="#4b4b4b"/>
<rect x="407.3" y="1550" width="12.4" height="12.4" fill="#4b4b4b"/>
<rect x="420" y="1550.7" width="12.4" height="12.4" fill="#4b4b4b"/>
<rect x="437" y="1578.3" width="12.4" height="12.4" fill="#4b4b4b"/>
<rect x="461.1" y="1547.2" width="12.4" height="12.4" fill="#4b4b4b"/>
<rect x="477.2" y="1495.2" width="12.4" height="12.4" fill="#4b4b4b"/>
<rect x="502.8" y="1520" width="12.4" height="12.4" fill="#4b4b4b"/>
<rect x="487.8" y="1537" width="12.4" height="12.4" fill="#4b4b4b"/>
<rect x="495" y="1540.6" width="12.4" height="12.4" fill="#4b4b4b"/>
<rect x="534.8" y="1537" width="12.4" height="12.4" fill="#4b4b4b"/>
<rect x="583" y="1539.2" width="12.4" height="12.4" fill="#4b4b4b"/>
<rect x="630.5" y="1537" width="12.4" height="12.4" fill="#4b4b4b"/>
<rect x="644" y="1541.3" width="12.4" height="12.4" fill="#4b4b4b"/>
<rect x="658.2" y="1538.5" width="12.4" height="12.4" fill="#4b4b4b"/>
<rect x="544.6" y="1554.1" width="12.4" height="12.4" fill="#4b4b4b"/>
<rect x="553.2" y="1556.9" width="12.4" height="12.4" fill="#4b4b4b"/>
<rect x="461.6" y="1545.6" width="12.4" height="12.4" fill="#4b4b4b"/>
<rect x="606.4" y="1562.6" width="12.4" height="12.4" fill="#4b4b4b"/>
<polygon points="492.7,1173 495.7,1180.3 503.6,1180.9 497.6,1186.1 499.5,1193.8 492.7,1189.7 485.9,1193.8 487.8,1186.1 481.8,1180.9 489.7,1180.3" fill="#cf222c" stroke="none" stroke-width="0" stroke-linejoin="miter"/>
<polygon points="505,1234.3 508,1241.6 515.9,1242.2 509.9,1247.4 511.8,1255.1 505,1251 498.2,1255.1 500.1,1247.4 494.1,1242.2 502,1241.6" fill="#cf222c" stroke="none" stroke-width="0" stroke-linejoin="miter"/>
<polygon points="450.5,1291.8 453.5,1299.1 461.4,1299.7 455.4,1304.9 457.3,1312.6 450.5,1308.5 443.7,1312.6 445.6,1304.9 439.6,1299.7 447.5,1299.1" fill="#cf222c" stroke="none" stroke-width="0" stroke-linejoin="miter"/>
<polygon points="485,1321.7 488,1329 495.9,1329.6 489.9,1334.8 491.8,1342.5 485,1338.4 478.2,1342.5 480.1,1334.8 474.1,1329.6 482,1329" fill="#cf222c" stroke="none" stroke-width="0" stroke-linejoin="miter"/>
<polygon points="534.1,1314 537.1,1321.3 545,1321.9 539,1327.1 540.9,1334.8 534.1,1330.7 527.3,1334.8 529.2,1327.1 523.2,1321.9 531.1,1321.3" fill="#cf222c" stroke="none" stroke-width="0" stroke-linejoin="miter"/>
<polygon points="545.6,1327.8 548.6,1335.1 556.5,1335.7 550.5,1340.9 552.4,1348.6 545.6,1344.5 538.8,1348.6 540.7,1340.9 534.7,1335.7 542.6,1335.1" fill="#cf222c" stroke="none" stroke-width="0" stroke-linejoin="miter"/>
<polygon points="557.8,1329.3 560.8,1336.6 568.7,1337.2 562.7,1342.4 564.6,1350.1 557.8,1346 551,1350.1 552.9,1342.4 546.9,1337.2 554.8,1336.6" fill="#cf222c" stroke="none" stroke-width="0" stroke-linejoin="miter"/>
<polygon points="567,1330.9 570,1338.2 577.9,1338.8 571.9,1344 573.8,1351.7 567,1347.6 560.2,1351.7 562.1,1344 556.1,1338.8 564,1338.2" fill="#cf222c" stroke="none" stroke-width="0" stroke-linejoin="miter"/>
<polygon points="517.2,1361.5 520.2,1368.8 528.1,1369.4 522.1,1374.6 524,1382.3 517.2,1378.2 510.4,1382.3 512.3,1374.6 506.3,1369.4 514.2,1368.8" fill="#cf222c" stroke="none" stroke-width="0" stroke-linejoin="miter"/>
<polygon points="606.2,1402.5 609.2,1409.8 617.1,1410.4 611.1,1415.6 613,1423.3 606.2,1419.2 599.4,1423.3 601.3,1415.6 595.3,1410.4 603.2,1409.8" fill="#cf222c" stroke="none" stroke-width="0" stroke-linejoin="miter"/>
<polygon points="610.5,1411.1 613.5,1418.4 621.4,1419 615.4,1424.2 617.3,1431.9 610.5,1427.8 603.7,1431.9 605.6,1424.2 599.6,1419 607.5,1418.4" fill="#cf222c" stroke="none" stroke-width="0" stroke-linejoin="miter"/>
<polygon points="643.8,1428.1 646.8,1435.4 654.7,1436 648.7,1441.2 650.6,1448.9 643.8,1444.8 637,1448.9 638.9,1441.2 632.9,1436 640.8,1435.4" fill="#cf222c" stroke="none" stroke-width="0" stroke-linejoin="miter"/>
<polygon points="619,1448.7 622,1456 629.9,1456.6 623.9,1461.8 625.8,1469.5 619,1465.4 612.2,1469.5 614.1,1461.8 608.1,1456.6 616,1456" fill="#cf222c" stroke="none" stroke-width="0" stroke-linejoin="miter"/>
<polygon points="668.7,1544.6 671.2,1551.2 678.2,1551.5 672.7,1555.9 674.6,1562.7 668.7,1558.8 662.8,1562.7 664.7,1555.9 659.2,1551.5 666.2,1551.2" fill="white" stroke="#222" stroke-width="2.2" stroke-linejoin="miter"/>
<line x1="661.6" y1="1543.2" x2="551.1" y2="1369.7" stroke="#3aa3c4" stroke-width="3"/>
<polygon points="542.5,1356.2 559.1,1369.3 547.3,1376.8" fill="#17789a"/>
<rect x="180.5" y="1145.6" width="583.1" height="469.7" fill="none" stroke="#666666" stroke-width="2.6"/>
<line x1="172" y1="1584.8" x2="180.5" y2="1584.8" stroke="#666666" stroke-width="2.4"/>
<text x="163.2" y="1595.3" font-size="33" font-weight="bold" text-anchor="end" fill="#1c1c1c">0</text>
<line x1="172" y1="1526.1" x2="180.5" y2="1526.1" stroke="#666666" stroke-width="2.4"/>
<text x="163.2" y="1536.6" font-size="33" font-weight="bold" text-anchor="end" fill="#1c1c1c">5</text>
<line x1="172" y1="1467.4" x2="180.5" y2="1467.4" stroke="#666666" stroke-width="2.4"/>
<text x="163.2" y="1477.9" font-size="33" font-weight="bold" text-anchor="end" fill="#1c1c1c">10</text>
<line x1="172" y1="1408.7" x2="180.5" y2="1408.7" stroke="#666666" stroke-width="2.4"/>
<text x="163.2" y="1419.2" font-size="33" font-weight="bold" text-anchor="end" fill="#1c1c1c">15</text>
<line x1="172" y1="1350" x2="180.5" y2="1350" stroke="#666666" stroke-width="2.4"/>
<text x="163.2" y="1360.5" font-size="33" font-weight="bold" text-anchor="end" fill="#1c1c1c">20</text>
<line x1="172" y1="1291.3" x2="180.5" y2="1291.3" stroke="#666666" stroke-width="2.4"/>
<text x="163.2" y="1301.8" font-size="33" font-weight="bold" text-anchor="end" fill="#1c1c1c">25</text>
<line x1="172" y1="1232.6" x2="180.5" y2="1232.6" stroke="#666666" stroke-width="2.4"/>
<text x="163.2" y="1243.1" font-size="33" font-weight="bold" text-anchor="end" fill="#1c1c1c">30</text>
<line x1="172" y1="1173.9" x2="180.5" y2="1173.9" stroke="#666666" stroke-width="2.4"/>
<text x="163.2" y="1184.4" font-size="33" font-weight="bold" text-anchor="end" fill="#1c1c1c">35</text>
<line x1="176" y1="1555.5" x2="180.5" y2="1555.5" stroke="#666666" stroke-width="2.2"/>
<line x1="176" y1="1496.8" x2="180.5" y2="1496.8" stroke="#666666" stroke-width="2.2"/>
<line x1="176" y1="1438" x2="180.5" y2="1438" stroke="#666666" stroke-width="2.2"/>
<line x1="176" y1="1379.3" x2="180.5" y2="1379.3" stroke="#666666" stroke-width="2.2"/>
<line x1="176" y1="1320.7" x2="180.5" y2="1320.7" stroke="#666666" stroke-width="2.2"/>
<line x1="176" y1="1261.9" x2="180.5" y2="1261.9" stroke="#666666" stroke-width="2.2"/>
<line x1="176" y1="1203.2" x2="180.5" y2="1203.2" stroke="#666666" stroke-width="2.2"/>
<line x1="193" y1="1615.3" x2="193" y2="1619.8" stroke="#666666" stroke-width="2"/>
<line x1="204" y1="1615.3" x2="204" y2="1619.8" stroke="#666666" stroke-width="2"/>
<line x1="213.5" y1="1615.3" x2="213.5" y2="1619.8" stroke="#666666" stroke-width="2"/>
<line x1="222" y1="1615.3" x2="222" y2="1619.8" stroke="#666666" stroke-width="2"/>
<line x1="229.5" y1="1615.3" x2="229.5" y2="1624.3" stroke="#666666" stroke-width="2.4"/>
<line x1="279.1" y1="1615.3" x2="279.1" y2="1619.8" stroke="#666666" stroke-width="2"/>
<line x1="308.1" y1="1615.3" x2="308.1" y2="1619.8" stroke="#666666" stroke-width="2"/>
<line x1="328.7" y1="1615.3" x2="328.7" y2="1619.8" stroke="#666666" stroke-width="2"/>
<line x1="344.6" y1="1615.3" x2="344.6" y2="1619.8" stroke="#666666" stroke-width="2"/>
<line x1="357.7" y1="1615.3" x2="357.7" y2="1619.8" stroke="#666666" stroke-width="2"/>
<line x1="368.7" y1="1615.3" x2="368.7" y2="1619.8" stroke="#666666" stroke-width="2"/>
<line x1="378.2" y1="1615.3" x2="378.2" y2="1619.8" stroke="#666666" stroke-width="2"/>
<line x1="386.7" y1="1615.3" x2="386.7" y2="1619.8" stroke="#666666" stroke-width="2"/>
<line x1="394.2" y1="1615.3" x2="394.2" y2="1624.3" stroke="#666666" stroke-width="2.4"/>
<line x1="443.8" y1="1615.3" x2="443.8" y2="1619.8" stroke="#666666" stroke-width="2"/>
<line x1="472.8" y1="1615.3" x2="472.8" y2="1619.8" stroke="#666666" stroke-width="2"/>
<line x1="493.4" y1="1615.3" x2="493.4" y2="1619.8" stroke="#666666" stroke-width="2"/>
<line x1="509.3" y1="1615.3" x2="509.3" y2="1619.8" stroke="#666666" stroke-width="2"/>
<line x1="522.4" y1="1615.3" x2="522.4" y2="1619.8" stroke="#666666" stroke-width="2"/>
<line x1="533.4" y1="1615.3" x2="533.4" y2="1619.8" stroke="#666666" stroke-width="2"/>
<line x1="542.9" y1="1615.3" x2="542.9" y2="1619.8" stroke="#666666" stroke-width="2"/>
<line x1="551.4" y1="1615.3" x2="551.4" y2="1619.8" stroke="#666666" stroke-width="2"/>
<line x1="558.9" y1="1615.3" x2="558.9" y2="1624.3" stroke="#666666" stroke-width="2.4"/>
<line x1="608.5" y1="1615.3" x2="608.5" y2="1619.8" stroke="#666666" stroke-width="2"/>
<line x1="637.5" y1="1615.3" x2="637.5" y2="1619.8" stroke="#666666" stroke-width="2"/>
<line x1="658.1" y1="1615.3" x2="658.1" y2="1619.8" stroke="#666666" stroke-width="2"/>
<line x1="674" y1="1615.3" x2="674" y2="1619.8" stroke="#666666" stroke-width="2"/>
<line x1="687.1" y1="1615.3" x2="687.1" y2="1619.8" stroke="#666666" stroke-width="2"/>
<line x1="698.1" y1="1615.3" x2="698.1" y2="1619.8" stroke="#666666" stroke-width="2"/>
<line x1="707.6" y1="1615.3" x2="707.6" y2="1619.8" stroke="#666666" stroke-width="2"/>
<line x1="716.1" y1="1615.3" x2="716.1" y2="1619.8" stroke="#666666" stroke-width="2"/>
<line x1="723.6" y1="1615.3" x2="723.6" y2="1624.3" stroke="#666666" stroke-width="2.4"/>
<text x="230.9" y="1663.5" font-size="32.3" font-weight="bold" text-anchor="end" fill="#1c1c1c">10</text>
<text x="233.4" y="1650.5" font-size="25" font-weight="bold" fill="#1c1c1c">-9</text>
<text x="395.6" y="1663.5" font-size="32.3" font-weight="bold" text-anchor="end" fill="#1c1c1c">10</text>
<text x="398.1" y="1650.5" font-size="25" font-weight="bold" fill="#1c1c1c">-8</text>
<text x="560.3" y="1663.5" font-size="32.3" font-weight="bold" text-anchor="end" fill="#1c1c1c">10</text>
<text x="562.8" y="1650.5" font-size="25" font-weight="bold" fill="#1c1c1c">-7</text>
<text x="725" y="1663.5" font-size="32.3" font-weight="bold" text-anchor="end" fill="#1c1c1c">10</text>
<text x="727.5" y="1650.5" font-size="25" font-weight="bold" fill="#1c1c1c">-6</text>
<text x="52" y="1168" font-size="36" font-weight="bold" text-anchor="start" fill="#1c1c1c">g)</text>
<text x="166" y="1716" font-size="37" font-weight="bold" fill="#1c1c1c" textLength="613" lengthAdjust="spacingAndGlyphs">CO<tspan font-size="25" dy="10">2</tspan><tspan dy="-10"> permeance (mol m</tspan><tspan font-size="25" dy="-14">-2</tspan><tspan dy="14"> s</tspan><tspan font-size="25" dy="-14">-1</tspan><tspan dy="14"> Pa</tspan><tspan font-size="25" dy="-14">-1</tspan><tspan dy="14">)</tspan></text>
<text x="103.5" y="1380.5" font-size="36" font-weight="bold" text-anchor="middle" fill="#1c1c1c" transform="rotate(-90 103.5 1380.5)" textLength="360" lengthAdjust="spacingAndGlyphs">CO<tspan font-size="21" dy="8">2</tspan><tspan dy="-8">/CH</tspan><tspan font-size="21" dy="8">4</tspan><tspan dy="-8"> selectivity</tspan></text>
<circle cx="975.8" cy="1490.4" r="6.3" fill="#3e6bbf"/>
<circle cx="990.7" cy="1554.8" r="6.3" fill="#3e6bbf"/>
<circle cx="1025.4" cy="1551.2" r="6.3" fill="#3e6bbf"/>
<circle cx="1142.8" cy="1540.6" r="6.3" fill="#3e6bbf"/>
<circle cx="961.7" cy="1581" r="6.3" fill="#3e6bbf"/>
<circle cx="981.5" cy="1585.9" r="6.3" fill="#3e6bbf"/>
<circle cx="1019" cy="1585.9" r="6.3" fill="#3e6bbf"/>
<circle cx="1030.3" cy="1580.2" r="6.3" fill="#3e6bbf"/>
<circle cx="1054.4" cy="1583.8" r="6.3" fill="#3e6bbf"/>
<circle cx="1142.1" cy="1577.4" r="6.3" fill="#3e6bbf"/>
<circle cx="1169.7" cy="1576.7" r="6.3" fill="#3e6bbf"/>
<circle cx="1380.3" cy="1433.2" r="6.3" fill="#3e6bbf"/>
<circle cx="1340.5" cy="1527.6" r="6.3" fill="#3e6bbf"/>
<circle cx="1333.4" cy="1531.9" r="6.3" fill="#3e6bbf"/>
<circle cx="1233.4" cy="1574.5" r="6.3" fill="#3e6bbf"/>
<circle cx="1343.4" cy="1574.5" r="6.3" fill="#3e6bbf"/>
<circle cx="1359" cy="1574.5" r="6.3" fill="#3e6bbf"/>
<circle cx="1374.6" cy="1574.5" r="6.3" fill="#3e6bbf"/>
<circle cx="1388.8" cy="1574.5" r="6.3" fill="#3e6bbf"/>
<circle cx="1403" cy="1574.5" r="6.3" fill="#3e6bbf"/>
<circle cx="1417.2" cy="1574.5" r="6.3" fill="#3e6bbf"/>
<circle cx="1434.2" cy="1574.5" r="6.3" fill="#3e6bbf"/>
<circle cx="1454.1" cy="1574.5" r="6.3" fill="#3e6bbf"/>
<circle cx="1474" cy="1574.5" r="6.3" fill="#3e6bbf"/>
<circle cx="1456.2" cy="1544" r="6.3" fill="#3e6bbf"/>
<circle cx="1496.7" cy="1570.2" r="6.3" fill="#3e6bbf"/>
<circle cx="1483.9" cy="1294.9" r="6.3" fill="#3e6bbf"/>
<circle cx="1199" cy="1577" r="6.3" fill="#3e6bbf"/>
<polygon points="1171,1355.6 1163.8,1368.2 1178.2,1368.2" fill="#1f8a40"/>
<polygon points="974.4,1426 967.1,1438.6 981.6,1438.6" fill="#1f8a40"/>
<polygon points="968.8,1573.2 961.5,1585.8 976,1585.8" fill="#1f8a40"/>
<polygon points="1065.7,1562.5 1058.5,1575.1 1073,1575.1" fill="#1f8a40"/>
<polygon points="1076.3,1562.5 1069,1575.1 1083.5,1575.1" fill="#1f8a40"/>
<polygon points="1111,1573.2 1103.8,1585.8 1118.2,1585.8" fill="#1f8a40"/>
<polygon points="1128,1568.9 1120.8,1581.5 1135.2,1581.5" fill="#1f8a40"/>
<polygon points="1149.9,1566.1 1142.7,1578.7 1157.2,1578.7" fill="#1f8a40"/>
<polygon points="1203.7,1550.5 1196.5,1563.1 1211,1563.1" fill="#1f8a40"/>
<polygon points="1206.5,1567.5 1199.2,1580.1 1213.8,1580.1" fill="#1f8a40"/>
<polygon points="1411.5,1498.5 1404.2,1511.1 1418.8,1511.1" fill="#1f8a40"/>
<polygon points="1267.4,1549.6 1260.2,1562.2 1274.7,1562.2" fill="#1f8a40"/>
<polygon points="1307.9,1536.9 1300.7,1549.5 1315.2,1549.5" fill="#1f8a40"/>
<polygon points="1307.9,1546.8 1300.7,1559.4 1315.2,1559.4" fill="#1f8a40"/>
<polygon points="1222.7,1545.4 1215.5,1558 1230,1558" fill="#1f8a40"/>
<polygon points="1204.3,1562.4 1197,1575 1211.5,1575" fill="#1f8a40"/>
<polygon points="1288,1563.8 1280.8,1576.4 1295.2,1576.4" fill="#1f8a40"/>
<polygon points="1278.8,1573.8 1271.5,1586.4 1286,1586.4" fill="#1f8a40"/>
<polygon points="1319.2,1565.2 1312,1577.8 1326.5,1577.8" fill="#1f8a40"/>
<polygon points="1415,1576.6 1407.8,1589.2 1422.2,1589.2" fill="#1f8a40"/>
<polygon points="1217,1551.2 1209.8,1563.8 1224.2,1563.8" fill="#1f8a40"/>
<rect x="1015.6" y="1500.5" width="12.4" height="12.4" fill="#4b4b4b"/>
<rect x="1189.7" y="1530.9" width="12.4" height="12.4" fill="#4b4b4b"/>
<rect x="1155.8" y="1551.4" width="12.4" height="12.4" fill="#4b4b4b"/>
<rect x="1167.8" y="1564.1" width="12.4" height="12.4" fill="#4b4b4b"/>
<rect x="1184.8" y="1574.8" width="12.4" height="12.4" fill="#4b4b4b"/>
<rect x="1189" y="1569.1" width="12.4" height="12.4" fill="#4b4b4b"/>
<rect x="1224.3" y="1501.6" width="12.4" height="12.4" fill="#4b4b4b"/>
<rect x="1279.7" y="1534.2" width="12.4" height="12.4" fill="#4b4b4b"/>
<rect x="1247.7" y="1542.7" width="12.4" height="12.4" fill="#4b4b4b"/>
<rect x="1233.5" y="1548.4" width="12.4" height="12.4" fill="#4b4b4b"/>
<rect x="1232.1" y="1556.9" width="12.4" height="12.4" fill="#4b4b4b"/>
<rect x="1290.3" y="1556.9" width="12.4" height="12.4" fill="#4b4b4b"/>
<rect x="1208" y="1551.2" width="12.4" height="12.4" fill="#4b4b4b"/>
<rect x="1307.4" y="1575.4" width="12.4" height="12.4" fill="#4b4b4b"/>
<rect x="1345" y="1549.1" width="12.4" height="12.4" fill="#4b4b4b"/>
<rect x="1373.4" y="1544.1" width="12.4" height="12.4" fill="#4b4b4b"/>
<rect x="1388.3" y="1547" width="12.4" height="12.4" fill="#4b4b4b"/>
<rect x="1349.9" y="1561.2" width="12.4" height="12.4" fill="#4b4b4b"/>
<rect x="1466.3" y="1556.2" width="12.4" height="12.4" fill="#4b4b4b"/>
<rect x="1238.8" y="1544.8" width="12.4" height="12.4" fill="#4b4b4b"/>
<polygon points="1238,1159.5 1241,1166.8 1248.9,1167.4 1242.9,1172.6 1244.8,1180.3 1238,1176.2 1231.2,1180.3 1233.1,1172.6 1227.1,1167.4 1235,1166.8" fill="#cf222c" stroke="none" stroke-width="0" stroke-linejoin="miter"/>
<polygon points="1250.2,1232.7 1253.2,1240 1261.1,1240.6 1255.1,1245.8 1257,1253.5 1250.2,1249.4 1243.4,1253.5 1245.3,1245.8 1239.3,1240.6 1247.2,1240" fill="#cf222c" stroke="none" stroke-width="0" stroke-linejoin="miter"/>
<polygon points="1263,1248.6 1266,1255.9 1273.9,1256.5 1267.9,1261.7 1269.8,1269.4 1263,1265.3 1256.2,1269.4 1258.1,1261.7 1252.1,1256.5 1260,1255.9" fill="#cf222c" stroke="none" stroke-width="0" stroke-linejoin="miter"/>
<polygon points="1309.9,1271.2 1312.9,1278.5 1320.8,1279.1 1314.8,1284.3 1316.7,1292 1309.9,1287.9 1303.1,1292 1305,1284.3 1299,1279.1 1306.9,1278.5" fill="#cf222c" stroke="none" stroke-width="0" stroke-linejoin="miter"/>
<polygon points="1302.7,1283.4 1305.7,1290.7 1313.6,1291.3 1307.6,1296.5 1309.5,1304.2 1302.7,1300.1 1295.9,1304.2 1297.8,1296.5 1291.8,1291.3 1299.7,1290.7" fill="#cf222c" stroke="none" stroke-width="0" stroke-linejoin="miter"/>
<polygon points="1231.4,1298.4 1234.4,1305.7 1242.3,1306.3 1236.3,1311.5 1238.2,1319.2 1231.4,1315.1 1224.6,1319.2 1226.5,1311.5 1220.5,1306.3 1228.4,1305.7" fill="#cf222c" stroke="none" stroke-width="0" stroke-linejoin="miter"/>
<polygon points="1197.6,1336.9 1200.6,1344.2 1208.5,1344.8 1202.5,1350 1204.4,1357.7 1197.6,1353.6 1190.8,1357.7 1192.7,1350 1186.7,1344.8 1194.6,1344.2" fill="#cf222c" stroke="none" stroke-width="0" stroke-linejoin="miter"/>
<polygon points="1347.8,1344.4 1350.8,1351.7 1358.7,1352.3 1352.7,1357.5 1354.6,1365.2 1347.8,1361.1 1341,1365.2 1342.9,1357.5 1336.9,1352.3 1344.8,1351.7" fill="#cf222c" stroke="none" stroke-width="0" stroke-linejoin="miter"/>
<polygon points="1353.4,1364.1 1356.4,1371.4 1364.3,1372 1358.3,1377.2 1360.2,1384.9 1353.4,1380.8 1346.6,1384.9 1348.5,1377.2 1342.5,1372 1350.4,1371.4" fill="#cf222c" stroke="none" stroke-width="0" stroke-linejoin="miter"/>
<polygon points="1386.5,1392 1389.5,1399.3 1397.4,1399.9 1391.4,1405.1 1393.3,1412.8 1386.5,1408.7 1379.7,1412.8 1381.6,1405.1 1375.6,1399.9 1383.5,1399.3" fill="#cf222c" stroke="none" stroke-width="0" stroke-linejoin="miter"/>
<polygon points="1361.1,1429.5 1364.1,1436.8 1372,1437.4 1366,1442.6 1367.9,1450.3 1361.1,1446.2 1354.3,1450.3 1356.2,1442.6 1350.2,1437.4 1358.1,1436.8" fill="#cf222c" stroke="none" stroke-width="0" stroke-linejoin="miter"/>
<polygon points="1410,1543.9 1412.5,1550.5 1419.5,1550.8 1414,1555.2 1415.9,1562 1410,1558.1 1404.1,1562 1406,1555.2 1400.5,1550.8 1407.5,1550.5" fill="white" stroke="#222" stroke-width="2.2" stroke-linejoin="miter"/>
<line x1="1401.6" y1="1540.4" x2="1273.9" y2="1311.7" stroke="#3aa3c4" stroke-width="3"/>
<polygon points="1266.1,1297.7 1282,1311.8 1269.7,1318.6" fill="#17789a"/>
<rect x="919.5" y="1142.5" width="584.5" height="472.3" fill="none" stroke="#666666" stroke-width="2.6"/>
<line x1="911" y1="1585.4" x2="919.5" y2="1585.4" stroke="#666666" stroke-width="2.4"/>
<text x="901.4" y="1595.9" font-size="33" font-weight="bold" text-anchor="end" fill="#1c1c1c">0</text>
<line x1="911" y1="1530" x2="919.5" y2="1530" stroke="#666666" stroke-width="2.4"/>
<text x="901.4" y="1540.5" font-size="33" font-weight="bold" text-anchor="end" fill="#1c1c1c">5</text>
<line x1="911" y1="1474.6" x2="919.5" y2="1474.6" stroke="#666666" stroke-width="2.4"/>
<text x="901.4" y="1485.1" font-size="33" font-weight="bold" text-anchor="end" fill="#1c1c1c">10</text>
<line x1="911" y1="1419.2" x2="919.5" y2="1419.2" stroke="#666666" stroke-width="2.4"/>
<text x="901.4" y="1429.7" font-size="33" font-weight="bold" text-anchor="end" fill="#1c1c1c">15</text>
<line x1="911" y1="1363.8" x2="919.5" y2="1363.8" stroke="#666666" stroke-width="2.4"/>
<text x="901.4" y="1374.3" font-size="33" font-weight="bold" text-anchor="end" fill="#1c1c1c">20</text>
<line x1="911" y1="1308.4" x2="919.5" y2="1308.4" stroke="#666666" stroke-width="2.4"/>
<text x="901.4" y="1318.9" font-size="33" font-weight="bold" text-anchor="end" fill="#1c1c1c">25</text>
<line x1="911" y1="1253" x2="919.5" y2="1253" stroke="#666666" stroke-width="2.4"/>
<text x="901.4" y="1263.5" font-size="33" font-weight="bold" text-anchor="end" fill="#1c1c1c">30</text>
<line x1="911" y1="1197.6" x2="919.5" y2="1197.6" stroke="#666666" stroke-width="2.4"/>
<text x="901.4" y="1208.1" font-size="33" font-weight="bold" text-anchor="end" fill="#1c1c1c">35</text>
<line x1="911" y1="1142.2" x2="919.5" y2="1142.2" stroke="#666666" stroke-width="2.4"/>
<text x="901.4" y="1152.7" font-size="33" font-weight="bold" text-anchor="end" fill="#1c1c1c">40</text>
<line x1="915" y1="1557.7" x2="919.5" y2="1557.7" stroke="#666666" stroke-width="2.2"/>
<line x1="915" y1="1502.3" x2="919.5" y2="1502.3" stroke="#666666" stroke-width="2.2"/>
<line x1="915" y1="1446.9" x2="919.5" y2="1446.9" stroke="#666666" stroke-width="2.2"/>
<line x1="915" y1="1391.5" x2="919.5" y2="1391.5" stroke="#666666" stroke-width="2.2"/>
<line x1="915" y1="1336.1" x2="919.5" y2="1336.1" stroke="#666666" stroke-width="2.2"/>
<line x1="915" y1="1280.7" x2="919.5" y2="1280.7" stroke="#666666" stroke-width="2.2"/>
<line x1="915" y1="1225.3" x2="919.5" y2="1225.3" stroke="#666666" stroke-width="2.2"/>
<line x1="915" y1="1169.9" x2="919.5" y2="1169.9" stroke="#666666" stroke-width="2.2"/>
<line x1="933.3" y1="1614.8" x2="933.3" y2="1619.3" stroke="#666666" stroke-width="2"/>
<line x1="946" y1="1614.8" x2="946" y2="1619.3" stroke="#666666" stroke-width="2"/>
<line x1="956.7" y1="1614.8" x2="956.7" y2="1619.3" stroke="#666666" stroke-width="2"/>
<line x1="966" y1="1614.8" x2="966" y2="1619.3" stroke="#666666" stroke-width="2"/>
<line x1="974.3" y1="1614.8" x2="974.3" y2="1619.3" stroke="#666666" stroke-width="2"/>
<line x1="981.6" y1="1614.8" x2="981.6" y2="1623.8" stroke="#666666" stroke-width="2.4"/>
<line x1="1029.9" y1="1614.8" x2="1029.9" y2="1619.3" stroke="#666666" stroke-width="2"/>
<line x1="1058.2" y1="1614.8" x2="1058.2" y2="1619.3" stroke="#666666" stroke-width="2"/>
<line x1="1078.2" y1="1614.8" x2="1078.2" y2="1619.3" stroke="#666666" stroke-width="2"/>
<line x1="1093.8" y1="1614.8" x2="1093.8" y2="1619.3" stroke="#666666" stroke-width="2"/>
<line x1="1106.5" y1="1614.8" x2="1106.5" y2="1619.3" stroke="#666666" stroke-width="2"/>
<line x1="1117.2" y1="1614.8" x2="1117.2" y2="1619.3" stroke="#666666" stroke-width="2"/>
<line x1="1126.5" y1="1614.8" x2="1126.5" y2="1619.3" stroke="#666666" stroke-width="2"/>
<line x1="1134.8" y1="1614.8" x2="1134.8" y2="1619.3" stroke="#666666" stroke-width="2"/>
<line x1="1142.1" y1="1614.8" x2="1142.1" y2="1623.8" stroke="#666666" stroke-width="2.4"/>
<line x1="1190.4" y1="1614.8" x2="1190.4" y2="1619.3" stroke="#666666" stroke-width="2"/>
<line x1="1218.7" y1="1614.8" x2="1218.7" y2="1619.3" stroke="#666666" stroke-width="2"/>
<line x1="1238.7" y1="1614.8" x2="1238.7" y2="1619.3" stroke="#666666" stroke-width="2"/>
<line x1="1254.3" y1="1614.8" x2="1254.3" y2="1619.3" stroke="#666666" stroke-width="2"/>
<line x1="1267" y1="1614.8" x2="1267" y2="1619.3" stroke="#666666" stroke-width="2"/>
<line x1="1277.7" y1="1614.8" x2="1277.7" y2="1619.3" stroke="#666666" stroke-width="2"/>
<line x1="1287" y1="1614.8" x2="1287" y2="1619.3" stroke="#666666" stroke-width="2"/>
<line x1="1295.3" y1="1614.8" x2="1295.3" y2="1619.3" stroke="#666666" stroke-width="2"/>
<line x1="1302.6" y1="1614.8" x2="1302.6" y2="1623.8" stroke="#666666" stroke-width="2.4"/>
<line x1="1350.9" y1="1614.8" x2="1350.9" y2="1619.3" stroke="#666666" stroke-width="2"/>
<line x1="1379.2" y1="1614.8" x2="1379.2" y2="1619.3" stroke="#666666" stroke-width="2"/>
<line x1="1399.2" y1="1614.8" x2="1399.2" y2="1619.3" stroke="#666666" stroke-width="2"/>
<line x1="1414.8" y1="1614.8" x2="1414.8" y2="1619.3" stroke="#666666" stroke-width="2"/>
<line x1="1427.5" y1="1614.8" x2="1427.5" y2="1619.3" stroke="#666666" stroke-width="2"/>
<line x1="1438.2" y1="1614.8" x2="1438.2" y2="1619.3" stroke="#666666" stroke-width="2"/>
<line x1="1447.5" y1="1614.8" x2="1447.5" y2="1619.3" stroke="#666666" stroke-width="2"/>
<line x1="1455.8" y1="1614.8" x2="1455.8" y2="1619.3" stroke="#666666" stroke-width="2"/>
<line x1="1463.1" y1="1614.8" x2="1463.1" y2="1623.8" stroke="#666666" stroke-width="2.4"/>
<text x="978.8" y="1667" font-size="37" font-weight="bold" text-anchor="end" fill="#1c1c1c">10</text>
<text x="981.3" y="1650.5" font-size="25" font-weight="bold" fill="#1c1c1c">-9</text>
<text x="1139.3" y="1667" font-size="37" font-weight="bold" text-anchor="end" fill="#1c1c1c">10</text>
<text x="1141.8" y="1650.5" font-size="25" font-weight="bold" fill="#1c1c1c">-8</text>
<text x="1299.8" y="1667" font-size="37" font-weight="bold" text-anchor="end" fill="#1c1c1c">10</text>
<text x="1302.3" y="1650.5" font-size="25" font-weight="bold" fill="#1c1c1c">-7</text>
<text x="1460.3" y="1667" font-size="37" font-weight="bold" text-anchor="end" fill="#1c1c1c">10</text>
<text x="1462.8" y="1650.5" font-size="25" font-weight="bold" fill="#1c1c1c">-6</text>
<text x="794" y="1168" font-size="36" font-weight="bold" text-anchor="start" fill="#1c1c1c">h)</text>
<text x="904" y="1716" font-size="37" font-weight="bold" fill="#1c1c1c" textLength="614" lengthAdjust="spacingAndGlyphs">CO<tspan font-size="25" dy="10">2</tspan><tspan dy="-10"> permeance (mol m</tspan><tspan font-size="25" dy="-14">-2</tspan><tspan dy="14"> s</tspan><tspan font-size="25" dy="-14">-1</tspan><tspan dy="14"> Pa</tspan><tspan font-size="25" dy="-14">-1</tspan><tspan dy="14">)</tspan></text>
<text x="845.5" y="1377" font-size="36" font-weight="bold" text-anchor="middle" fill="#1c1c1c" transform="rotate(-90 845.5 1377)" textLength="333" lengthAdjust="spacingAndGlyphs">CO<tspan font-size="21" dy="8">2</tspan><tspan dy="-8">/N</tspan><tspan font-size="21" dy="8">2</tspan><tspan dy="-8"> selectivity</tspan></text>
<rect x="1607.6" y="1178" width="29" height="28" fill="#4b4b4b" stroke="none" stroke-width="0"/>
<text x="1687" y="1207" font-size="35.2" font-weight="bold" text-anchor="start" fill="#1c1c1c" textLength="83.5" lengthAdjust="spacingAndGlyphs">ZIF-8</text>
<polygon points="1862,1171.6 1842,1206 1882,1206" fill="#1f8a40"/>
<text x="1897.6" y="1207" font-size="35.2" font-weight="bold" text-anchor="start" fill="#1c1c1c" textLength="174.8" lengthAdjust="spacingAndGlyphs">Other ZIFs</text>
<circle cx="1622" cy="1326.6" r="14.5" fill="#3e6bbf"/>
<text x="1687" y="1340.5" font-size="35.2" font-weight="bold" text-anchor="start" fill="#1c1c1c" textLength="200.7" lengthAdjust="spacingAndGlyphs">Other MOFs</text>
<polygon points="1621,1448 1624.2,1456.6 1633.4,1457 1626.2,1462.7 1628.6,1471.5 1621,1466.5 1613.4,1471.5 1615.8,1462.7 1608.6,1457 1617.8,1456.6" fill="white" stroke="#1a1a1a" stroke-width="3.2" stroke-linejoin="miter"/>
<text x="1687" y="1469" font-size="35.2" font-weight="bold" text-anchor="start" fill="#1c1c1c" textLength="544.4" lengthAdjust="spacingAndGlyphs">As-synthesized ZIF-8 (this work)</text>
<polygon points="1621.5,1577 1625.5,1586.5 1635.8,1587.4 1627.9,1594.1 1630.3,1604.1 1621.5,1598.8 1612.7,1604.1 1615.1,1594.1 1607.2,1587.4 1617.5,1586.5" fill="#cf222c" stroke="none" stroke-width="0" stroke-linejoin="miter"/>
<text x="1685" y="1606.3" font-size="35.2" font-weight="bold" text-anchor="start" fill="#1c1c1c" textLength="355.7" lengthAdjust="spacingAndGlyphs">RHT ZIF-8 (this work)</text>
</svg>
</body></html>
